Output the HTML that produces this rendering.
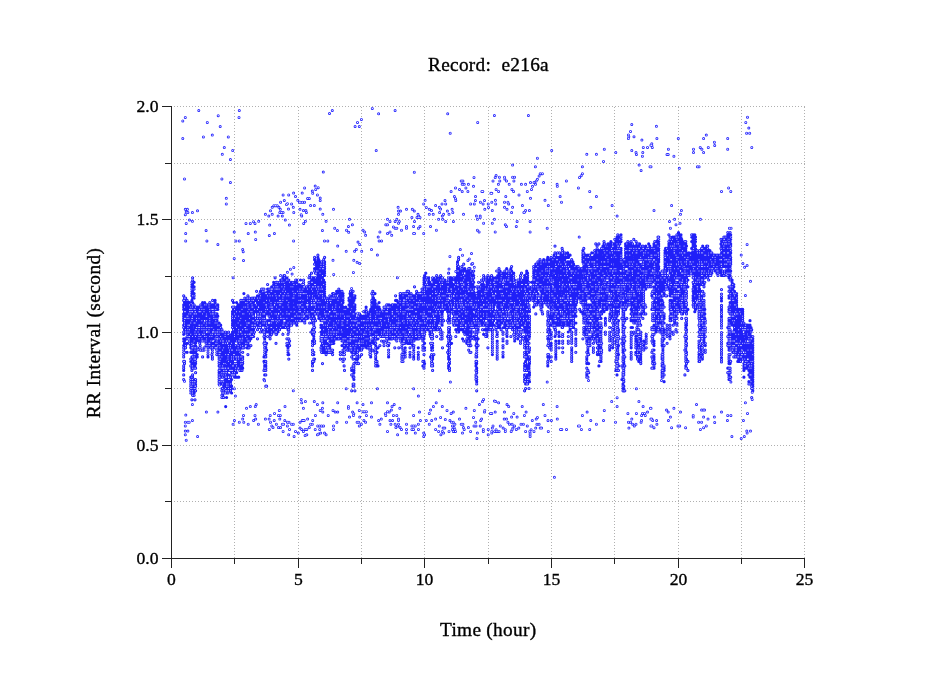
<!DOCTYPE html>
<html><head><meta charset="utf-8"><title>Record: e216a</title>
<style>html,body{margin:0;padding:0;background:#fff;overflow:hidden}svg{display:block}</style>
</head><body>
<svg width="949" height="697" viewBox="0 0 949 697" font-family="'Liberation Serif', 'Times New Roman', serif" fill="#000">
<rect width="949" height="697" fill="#fff"/>
<path d="M174 106.5H805 M174 163.5H805 M174 219.5H805 M174 276.5H805 M174 332.5H805 M174 388.5H805 M174 445.5H805 M174 501.5H805" stroke="#b0b0b0" stroke-width="1" stroke-dasharray="1 2" fill="none" shape-rendering="crispEdges"/><path d="M234.5 558V106 M298.5 558V106 M361.5 558V106 M424.5 558V106 M488.5 558V106 M551.5 558V106 M614.5 558V106 M678.5 558V106 M741.5 558V106 M804.5 558V106" stroke="#b0b0b0" stroke-width="1" stroke-dasharray="1 2" fill="none" shape-rendering="crispEdges"/>
<g id="band"><path d="M183.7 379.5h0M183.7 374.9h0M183.7 370.4h0M183.7 368.2h0M183.7 365.9h0M183.7 361.4h0M183.7 356.9h0M183.7 354.6h0M183.7 352.3h0M183.7 350.1h0M183.7 347.8h0M183.7 345.6h0M183.7 341.0h0M183.7 338.8h0M183.7 334.3h0M183.7 332.0h0M183.7 327.5h0M183.7 325.2h0M183.7 320.7h0M183.7 318.4h0M183.7 316.2h0M183.7 313.9h0M183.7 309.4h0M183.7 307.1h0M183.7 304.9h0M183.7 300.4h0M183.7 295.8h0M184.5 363.6h0M184.5 361.4h0M184.5 352.3h0M184.5 343.3h0M184.5 341.0h0M184.5 338.8h0M184.5 329.7h0M184.5 327.5h0M184.5 325.2h0M184.5 323.0h0M184.5 320.7h0M184.5 318.4h0M184.5 316.2h0M184.5 313.9h0M184.5 311.7h0M184.5 309.4h0M184.5 307.1h0M184.5 304.9h0M184.5 302.6h0M184.5 300.4h0M184.5 298.1h0M185.6 347.8h0M185.6 345.6h0M185.6 338.8h0M185.6 332.0h0M185.6 329.7h0M185.6 327.5h0M185.6 320.7h0M185.6 318.4h0M185.6 316.2h0M185.6 313.9h0M185.6 311.7h0M185.6 309.4h0M185.6 307.1h0M185.6 304.9h0M185.6 298.1h0M187.1 352.3h0M187.1 343.3h0M187.1 338.8h0M187.1 336.5h0M187.1 334.3h0M187.1 332.0h0M187.1 327.5h0M187.1 325.2h0M187.1 323.0h0M187.1 320.7h0M187.1 318.4h0M187.1 316.2h0M187.1 313.9h0M187.1 311.7h0M187.1 309.4h0M187.1 307.1h0M187.1 304.9h0M187.1 302.6h0M187.1 300.4h0M187.9 336.5h0M187.9 329.7h0M187.9 327.5h0M187.9 325.2h0M187.9 323.0h0M187.9 318.4h0M187.9 316.2h0M187.9 309.4h0M187.9 307.1h0M188.9 336.5h0M188.9 334.3h0M188.9 332.0h0M188.9 329.7h0M188.9 325.2h0M188.9 320.7h0M188.9 318.4h0M188.9 313.9h0M188.9 309.4h0M188.9 307.1h0M188.9 304.9h0M188.9 302.6h0M189.6 343.3h0M189.6 341.0h0M189.6 336.5h0M189.6 334.3h0M189.6 332.0h0M189.6 329.7h0M189.6 325.2h0M189.6 318.4h0M189.6 313.9h0M189.6 311.7h0M189.6 309.4h0M189.6 304.9h0M189.6 302.6h0M190.8 393.0h0M190.8 390.8h0M190.8 388.5h0M190.8 386.2h0M190.8 384.0h0M190.8 381.7h0M190.8 379.5h0M190.8 377.2h0M190.8 365.9h0M190.8 361.4h0M190.8 359.1h0M190.8 352.3h0M190.8 347.8h0M190.8 345.6h0M190.8 338.8h0M190.8 336.5h0M190.8 334.3h0M190.8 332.0h0M190.8 329.7h0M190.8 327.5h0M190.8 325.2h0M190.8 323.0h0M190.8 316.2h0M190.8 313.9h0M190.8 311.7h0M190.8 309.4h0M190.8 307.1h0M191.9 399.8h0M191.9 388.5h0M191.9 386.2h0M191.9 384.0h0M191.9 381.7h0M191.9 377.2h0M191.9 370.4h0M191.9 368.2h0M191.9 365.9h0M191.9 363.6h0M191.9 359.1h0M191.9 356.9h0M191.9 352.3h0M191.9 350.1h0M191.9 347.8h0M191.9 345.6h0M191.9 343.3h0M191.9 341.0h0M191.9 338.8h0M191.9 334.3h0M191.9 327.5h0M191.9 325.2h0M191.9 323.0h0M191.9 320.7h0M191.9 318.4h0M191.9 313.9h0M191.9 311.7h0M191.9 309.4h0M191.9 307.1h0M191.9 300.4h0M191.9 295.8h0M191.9 293.6h0M191.9 291.3h0M191.9 289.1h0M191.9 286.8h0M191.9 284.5h0M191.9 282.3h0M192.6 395.3h0M192.6 393.0h0M192.6 390.8h0M192.6 388.5h0M192.6 384.0h0M192.6 381.7h0M192.6 379.5h0M192.6 377.2h0M192.6 374.9h0M192.6 368.2h0M192.6 365.9h0M192.6 363.6h0M192.6 356.9h0M192.6 350.1h0M192.6 347.8h0M192.6 336.5h0M192.6 334.3h0M192.6 332.0h0M192.6 329.7h0M192.6 325.2h0M192.6 323.0h0M192.6 320.7h0M192.6 318.4h0M192.6 316.2h0M192.6 313.9h0M192.6 311.7h0M192.6 309.4h0M192.6 307.1h0M192.6 304.9h0M192.6 302.6h0M192.6 298.1h0M192.6 295.8h0M192.6 293.6h0M192.6 291.3h0M192.6 289.1h0M192.6 286.8h0M192.6 284.5h0M192.6 280.0h0M192.6 277.8h0M194.1 395.3h0M194.1 393.0h0M194.1 388.5h0M194.1 386.2h0M194.1 384.0h0M194.1 381.7h0M194.1 368.2h0M194.1 361.4h0M194.1 359.1h0M194.1 356.9h0M194.1 354.6h0M194.1 352.3h0M194.1 350.1h0M194.1 347.8h0M194.1 341.0h0M194.1 338.8h0M194.1 334.3h0M194.1 329.7h0M194.1 323.0h0M194.1 320.7h0M194.1 318.4h0M194.1 313.9h0M194.1 309.4h0M194.1 307.1h0M194.1 304.9h0M194.1 298.1h0M194.1 295.8h0M194.1 293.6h0M194.1 289.1h0M194.1 286.8h0M194.1 282.3h0M195.0 399.8h0M195.0 388.5h0M195.0 386.2h0M195.0 381.7h0M195.0 379.5h0M195.0 368.2h0M195.0 365.9h0M195.0 363.6h0M195.0 361.4h0M195.0 359.1h0M195.0 354.6h0M195.0 352.3h0M195.0 350.1h0M195.0 345.6h0M195.0 343.3h0M195.0 334.3h0M195.0 332.0h0M195.0 327.5h0M195.0 325.2h0M195.0 323.0h0M195.0 316.2h0M195.0 313.9h0M195.0 311.7h0M195.0 309.4h0M195.6 390.8h0M195.6 386.2h0M195.6 384.0h0M195.6 381.7h0M195.6 379.5h0M195.6 372.7h0M195.6 368.2h0M195.6 363.6h0M195.6 361.4h0M195.6 359.1h0M195.6 356.9h0M195.6 354.6h0M195.6 352.3h0M195.6 350.1h0M195.6 347.8h0M195.6 345.6h0M195.6 343.3h0M195.6 336.5h0M195.6 329.7h0M195.6 325.2h0M195.6 323.0h0M195.6 320.7h0M195.6 318.4h0M195.6 311.7h0M195.6 309.4h0M195.6 307.1h0M196.5 341.0h0M196.5 338.8h0M196.5 336.5h0M196.5 334.3h0M196.5 332.0h0M196.5 329.7h0M196.5 327.5h0M196.5 325.2h0M196.5 323.0h0M196.5 320.7h0M196.5 318.4h0M196.5 316.2h0M196.5 313.9h0M196.5 311.7h0M196.5 307.1h0M198.1 338.8h0M198.1 336.5h0M198.1 332.0h0M198.1 329.7h0M198.1 327.5h0M198.1 325.2h0M198.1 323.0h0M198.1 320.7h0M198.1 318.4h0M198.1 316.2h0M198.1 313.9h0M198.1 311.7h0M198.1 309.4h0M198.1 307.1h0M199.0 341.0h0M199.0 338.8h0M199.0 336.5h0M199.0 334.3h0M199.0 332.0h0M199.0 329.7h0M199.0 327.5h0M199.0 325.2h0M199.0 323.0h0M199.0 320.7h0M199.0 318.4h0M199.0 316.2h0M199.0 313.9h0M199.0 311.7h0M199.0 309.4h0M199.7 347.8h0M199.7 343.3h0M199.7 338.8h0M199.7 334.3h0M199.7 332.0h0M199.7 329.7h0M199.7 327.5h0M199.7 325.2h0M199.7 320.7h0M199.7 318.4h0M199.7 316.2h0M199.7 313.9h0M199.7 311.7h0M199.7 309.4h0M199.7 307.1h0M200.8 350.1h0M200.8 338.8h0M200.8 336.5h0M200.8 332.0h0M200.8 325.2h0M200.8 323.0h0M200.8 320.7h0M200.8 318.4h0M200.8 316.2h0M200.8 313.9h0M200.8 311.7h0M200.8 309.4h0M200.8 307.1h0M200.8 304.9h0M201.9 341.0h0M201.9 338.8h0M201.9 332.0h0M201.9 329.7h0M201.9 327.5h0M201.9 325.2h0M201.9 323.0h0M201.9 320.7h0M201.9 318.4h0M201.9 316.2h0M201.9 311.7h0M201.9 309.4h0M201.9 307.1h0M202.6 356.9h0M202.6 350.1h0M202.6 341.0h0M202.6 336.5h0M202.6 334.3h0M202.6 332.0h0M202.6 329.7h0M202.6 327.5h0M202.6 325.2h0M202.6 323.0h0M202.6 320.7h0M202.6 316.2h0M202.6 313.9h0M202.6 311.7h0M202.6 309.4h0M202.6 304.9h0M202.6 302.6h0M204.0 341.0h0M204.0 338.8h0M204.0 334.3h0M204.0 332.0h0M204.0 329.7h0M204.0 327.5h0M204.0 323.0h0M204.0 318.4h0M204.0 313.9h0M204.0 311.7h0M204.0 309.4h0M204.0 307.1h0M204.0 304.9h0M204.7 341.0h0M204.7 338.8h0M204.7 336.5h0M204.7 334.3h0M204.7 332.0h0M204.7 329.7h0M204.7 327.5h0M204.7 325.2h0M204.7 323.0h0M204.7 318.4h0M204.7 316.2h0M204.7 313.9h0M204.7 311.7h0M204.7 309.4h0M204.7 304.9h0M204.7 302.6h0M206.1 345.6h0M206.1 343.3h0M206.1 341.0h0M206.1 336.5h0M206.1 334.3h0M206.1 329.7h0M206.1 325.2h0M206.1 323.0h0M206.1 318.4h0M206.1 316.2h0M206.1 311.7h0M206.1 304.9h0M206.7 343.3h0M206.7 341.0h0M206.7 336.5h0M206.7 329.7h0M206.7 327.5h0M206.7 325.2h0M206.7 323.0h0M206.7 320.7h0M206.7 318.4h0M206.7 316.2h0M206.7 309.4h0M206.7 307.1h0M206.7 304.9h0M208.0 345.6h0M208.0 343.3h0M208.0 341.0h0M208.0 338.8h0M208.0 336.5h0M208.0 334.3h0M208.0 329.7h0M208.0 327.5h0M208.0 325.2h0M208.0 320.7h0M208.0 318.4h0M208.0 313.9h0M208.0 311.7h0M208.0 307.1h0M208.0 304.9h0M209.0 343.3h0M209.0 341.0h0M209.0 336.5h0M209.0 332.0h0M209.0 329.7h0M209.0 327.5h0M209.0 325.2h0M209.0 318.4h0M209.0 316.2h0M209.0 313.9h0M209.0 311.7h0M209.0 309.4h0M209.0 307.1h0M209.0 304.9h0M209.8 345.6h0M209.8 343.3h0M209.8 338.8h0M209.8 336.5h0M209.8 334.3h0M209.8 327.5h0M209.8 325.2h0M209.8 323.0h0M209.8 320.7h0M209.8 318.4h0M209.8 313.9h0M209.8 311.7h0M209.8 309.4h0M209.8 302.6h0M210.9 347.8h0M210.9 341.0h0M210.9 336.5h0M210.9 334.3h0M210.9 332.0h0M210.9 329.7h0M210.9 327.5h0M210.9 325.2h0M210.9 323.0h0M210.9 320.7h0M210.9 316.2h0M210.9 313.9h0M210.9 309.4h0M210.9 307.1h0M211.9 354.6h0M211.9 343.3h0M211.9 336.5h0M211.9 329.7h0M211.9 327.5h0M211.9 325.2h0M211.9 323.0h0M211.9 318.4h0M211.9 316.2h0M211.9 313.9h0M211.9 311.7h0M211.9 309.4h0M211.9 307.1h0M211.9 304.9h0M212.6 347.8h0M212.6 345.6h0M212.6 338.8h0M212.6 336.5h0M212.6 334.3h0M212.6 327.5h0M212.6 325.2h0M212.6 323.0h0M212.6 313.9h0M212.6 311.7h0M212.6 309.4h0M212.6 307.1h0M212.6 304.9h0M212.6 300.4h0M213.8 345.6h0M213.8 343.3h0M213.8 336.5h0M213.8 334.3h0M213.8 329.7h0M213.8 327.5h0M213.8 325.2h0M213.8 323.0h0M213.8 320.7h0M213.8 318.4h0M213.8 316.2h0M213.8 313.9h0M213.8 311.7h0M213.8 309.4h0M213.8 307.1h0M213.8 304.9h0M215.1 347.8h0M215.1 345.6h0M215.1 343.3h0M215.1 341.0h0M215.1 338.8h0M215.1 334.3h0M215.1 332.0h0M215.1 327.5h0M215.1 325.2h0M215.1 323.0h0M215.1 320.7h0M215.1 318.4h0M215.1 316.2h0M215.1 309.4h0M215.1 304.9h0M215.1 302.6h0M215.1 300.4h0M215.8 347.8h0M215.8 345.6h0M215.8 343.3h0M215.8 341.0h0M215.8 334.3h0M215.8 332.0h0M215.8 329.7h0M215.8 327.5h0M215.8 325.2h0M215.8 320.7h0M215.8 316.2h0M215.8 313.9h0M215.8 309.4h0M215.8 307.1h0M215.8 304.9h0M217.0 350.1h0M217.0 347.8h0M217.0 343.3h0M217.0 341.0h0M217.0 336.5h0M217.0 332.0h0M217.0 329.7h0M217.0 327.5h0M217.0 325.2h0M217.0 323.0h0M217.0 320.7h0M217.0 318.4h0M217.0 316.2h0M217.0 313.9h0M217.0 309.4h0M217.0 307.1h0M217.8 341.0h0M217.8 334.3h0M217.8 332.0h0M217.8 329.7h0M217.8 327.5h0M217.8 325.2h0M217.8 316.2h0M217.8 309.4h0M217.8 307.1h0M217.8 304.9h0M219.1 384.0h0M219.1 381.7h0M219.1 379.5h0M219.1 377.2h0M219.1 374.9h0M219.1 372.7h0M219.1 370.4h0M219.1 365.9h0M219.1 363.6h0M219.1 361.4h0M219.1 359.1h0M219.1 356.9h0M219.1 354.6h0M219.1 352.3h0M219.1 347.8h0M219.1 345.6h0M219.1 341.0h0M219.1 338.8h0M219.1 334.3h0M219.1 332.0h0M219.1 329.7h0M219.1 327.5h0M219.1 325.2h0M219.1 323.0h0M219.9 384.0h0M219.9 381.7h0M219.9 377.2h0M219.9 370.4h0M219.9 368.2h0M219.9 365.9h0M219.9 363.6h0M219.9 361.4h0M219.9 354.6h0M219.9 352.3h0M219.9 350.1h0M219.9 347.8h0M219.9 343.3h0M219.9 336.5h0M219.9 332.0h0M219.9 329.7h0M219.9 325.2h0M220.7 359.1h0M220.7 352.3h0M220.7 347.8h0M220.7 341.0h0M220.7 338.8h0M220.7 336.5h0M220.7 334.3h0M220.7 332.0h0M220.7 327.5h0M220.7 325.2h0M221.9 397.5h0M221.9 395.3h0M221.9 390.8h0M221.9 388.5h0M221.9 384.0h0M221.9 381.7h0M221.9 377.2h0M221.9 374.9h0M221.9 372.7h0M221.9 368.2h0M221.9 365.9h0M221.9 363.6h0M221.9 361.4h0M221.9 359.1h0M221.9 356.9h0M221.9 350.1h0M221.9 347.8h0M221.9 345.6h0M221.9 343.3h0M221.9 341.0h0M221.9 338.8h0M221.9 336.5h0M221.9 334.3h0M221.9 332.0h0M221.9 329.7h0M222.7 395.3h0M222.7 393.0h0M222.7 388.5h0M222.7 384.0h0M222.7 377.2h0M222.7 372.7h0M222.7 370.4h0M222.7 368.2h0M222.7 365.9h0M222.7 361.4h0M222.7 359.1h0M222.7 356.9h0M222.7 354.6h0M222.7 352.3h0M222.7 350.1h0M222.7 345.6h0M222.7 343.3h0M222.7 341.0h0M222.7 338.8h0M222.7 336.5h0M222.7 334.3h0M222.7 332.0h0M223.7 397.5h0M223.7 393.0h0M223.7 386.2h0M223.7 384.0h0M223.7 381.7h0M223.7 372.7h0M223.7 370.4h0M223.7 368.2h0M223.7 365.9h0M223.7 363.6h0M223.7 359.1h0M223.7 356.9h0M223.7 354.6h0M223.7 352.3h0M223.7 347.8h0M223.7 343.3h0M223.7 341.0h0M223.7 336.5h0M223.7 332.0h0M225.1 393.0h0M225.1 390.8h0M225.1 386.2h0M225.1 384.0h0M225.1 379.5h0M225.1 374.9h0M225.1 372.7h0M225.1 370.4h0M225.1 368.2h0M225.1 365.9h0M225.1 363.6h0M225.1 361.4h0M225.1 359.1h0M225.1 356.9h0M225.1 352.3h0M225.1 350.1h0M225.1 347.8h0M225.1 345.6h0M225.1 343.3h0M225.1 341.0h0M225.1 338.8h0M225.1 336.5h0M225.1 334.3h0M225.7 406.6h0M225.7 393.0h0M225.7 390.8h0M225.7 388.5h0M225.7 381.7h0M225.7 377.2h0M225.7 374.9h0M225.7 368.2h0M225.7 365.9h0M225.7 361.4h0M225.7 354.6h0M225.7 350.1h0M225.7 347.8h0M225.7 343.3h0M225.7 341.0h0M225.7 336.5h0M225.7 332.0h0M226.6 397.5h0M226.6 390.8h0M226.6 386.2h0M226.6 384.0h0M226.6 381.7h0M226.6 377.2h0M226.6 374.9h0M226.6 372.7h0M226.6 370.4h0M226.6 368.2h0M226.6 356.9h0M226.6 354.6h0M226.6 352.3h0M226.6 350.1h0M226.6 347.8h0M226.6 345.6h0M226.6 341.0h0M226.6 338.8h0M226.6 336.5h0M226.6 334.3h0M228.0 393.0h0M228.0 390.8h0M228.0 388.5h0M228.0 386.2h0M228.0 384.0h0M228.0 379.5h0M228.0 374.9h0M228.0 370.4h0M228.0 368.2h0M228.0 363.6h0M228.0 361.4h0M228.0 359.1h0M228.0 356.9h0M228.0 354.6h0M228.0 352.3h0M228.0 350.1h0M228.0 347.8h0M228.0 345.6h0M228.0 341.0h0M228.0 338.8h0M228.0 336.5h0M228.0 334.3h0M228.6 390.8h0M228.6 388.5h0M228.6 384.0h0M228.6 381.7h0M228.6 379.5h0M228.6 374.9h0M228.6 368.2h0M228.6 365.9h0M228.6 361.4h0M228.6 359.1h0M228.6 356.9h0M228.6 354.6h0M228.6 350.1h0M228.6 347.8h0M228.6 345.6h0M228.6 341.0h0M228.6 338.8h0M228.6 336.5h0M228.6 334.3h0M228.6 332.0h0M229.6 390.8h0M229.6 381.7h0M229.6 379.5h0M229.6 370.4h0M229.6 365.9h0M229.6 363.6h0M229.6 361.4h0M229.6 359.1h0M229.6 356.9h0M229.6 354.6h0M229.6 352.3h0M229.6 350.1h0M229.6 347.8h0M229.6 345.6h0M229.6 343.3h0M229.6 341.0h0M229.6 338.8h0M230.6 390.8h0M230.6 388.5h0M230.6 386.2h0M230.6 384.0h0M230.6 381.7h0M230.6 377.2h0M230.6 370.4h0M230.6 363.6h0M230.6 361.4h0M230.6 356.9h0M230.6 354.6h0M230.6 352.3h0M230.6 350.1h0M230.6 347.8h0M230.6 345.6h0M230.6 343.3h0M230.6 341.0h0M230.6 338.8h0M230.6 336.5h0M231.6 393.0h0M231.6 388.5h0M231.6 386.2h0M231.6 379.5h0M231.6 374.9h0M231.6 372.7h0M231.6 370.4h0M231.6 368.2h0M231.6 363.6h0M231.6 361.4h0M231.6 359.1h0M231.6 356.9h0M231.6 354.6h0M231.6 352.3h0M231.6 350.1h0M231.6 347.8h0M231.6 343.3h0M231.6 338.8h0M231.6 336.5h0M231.6 334.3h0M232.5 374.9h0M232.5 372.7h0M232.5 370.4h0M232.5 368.2h0M232.5 365.9h0M232.5 361.4h0M232.5 359.1h0M232.5 354.6h0M232.5 350.1h0M232.5 347.8h0M232.5 345.6h0M232.5 343.3h0M232.5 341.0h0M232.5 338.8h0M232.5 336.5h0M232.5 332.0h0M232.5 327.5h0M232.5 325.2h0M232.5 323.0h0M232.5 320.7h0M232.5 318.4h0M232.5 316.2h0M232.5 313.9h0M232.5 311.7h0M232.5 307.1h0M232.5 300.4h0M233.5 374.9h0M233.5 372.7h0M233.5 370.4h0M233.5 368.2h0M233.5 365.9h0M233.5 359.1h0M233.5 356.9h0M233.5 354.6h0M233.5 352.3h0M233.5 350.1h0M233.5 347.8h0M233.5 345.6h0M233.5 343.3h0M233.5 338.8h0M233.5 336.5h0M233.5 334.3h0M233.5 332.0h0M233.5 329.7h0M233.5 325.2h0M233.5 323.0h0M233.5 320.7h0M233.5 318.4h0M233.5 316.2h0M233.5 313.9h0M233.5 311.7h0M233.5 309.4h0M233.5 307.1h0M233.5 302.6h0M234.6 377.2h0M234.6 374.9h0M234.6 372.7h0M234.6 368.2h0M234.6 365.9h0M234.6 363.6h0M234.6 359.1h0M234.6 356.9h0M234.6 354.6h0M234.6 350.1h0M234.6 341.0h0M234.6 338.8h0M234.6 336.5h0M234.6 334.3h0M234.6 332.0h0M234.6 329.7h0M234.6 327.5h0M234.6 323.0h0M234.6 320.7h0M234.6 318.4h0M234.6 316.2h0M234.6 313.9h0M234.6 311.7h0M234.6 309.4h0M235.7 370.4h0M235.7 368.2h0M235.7 363.6h0M235.7 356.9h0M235.7 354.6h0M235.7 352.3h0M235.7 347.8h0M235.7 345.6h0M235.7 341.0h0M235.7 338.8h0M235.7 334.3h0M235.7 332.0h0M235.7 327.5h0M235.7 323.0h0M235.7 320.7h0M235.7 318.4h0M235.7 316.2h0M235.7 313.9h0M236.6 377.2h0M236.6 372.7h0M236.6 365.9h0M236.6 363.6h0M236.6 359.1h0M236.6 356.9h0M236.6 352.3h0M236.6 350.1h0M236.6 347.8h0M236.6 341.0h0M236.6 338.8h0M236.6 336.5h0M236.6 334.3h0M236.6 332.0h0M236.6 329.7h0M236.6 327.5h0M236.6 325.2h0M236.6 323.0h0M236.6 320.7h0M236.6 318.4h0M236.6 316.2h0M236.6 313.9h0M236.6 309.4h0M236.6 307.1h0M236.6 302.6h0M238.1 368.2h0M238.1 365.9h0M238.1 361.4h0M238.1 359.1h0M238.1 356.9h0M238.1 354.6h0M238.1 352.3h0M238.1 350.1h0M238.1 347.8h0M238.1 345.6h0M238.1 341.0h0M238.1 338.8h0M238.1 334.3h0M238.1 332.0h0M238.1 329.7h0M238.1 327.5h0M238.1 325.2h0M238.1 323.0h0M238.1 318.4h0M238.1 311.7h0M238.1 309.4h0M238.1 307.1h0M238.1 304.9h0M238.7 377.2h0M238.7 368.2h0M238.7 365.9h0M238.7 363.6h0M238.7 361.4h0M238.7 359.1h0M238.7 356.9h0M238.7 354.6h0M238.7 352.3h0M238.7 350.1h0M238.7 347.8h0M238.7 345.6h0M238.7 343.3h0M238.7 341.0h0M238.7 338.8h0M238.7 336.5h0M238.7 334.3h0M238.7 332.0h0M238.7 329.7h0M238.7 327.5h0M238.7 325.2h0M238.7 323.0h0M238.7 320.7h0M238.7 318.4h0M238.7 316.2h0M238.7 313.9h0M238.7 311.7h0M238.7 309.4h0M238.7 307.1h0M238.7 304.9h0M239.8 370.4h0M239.8 368.2h0M239.8 365.9h0M239.8 359.1h0M239.8 356.9h0M239.8 354.6h0M239.8 352.3h0M239.8 350.1h0M239.8 343.3h0M239.8 341.0h0M239.8 338.8h0M239.8 329.7h0M239.8 320.7h0M239.8 318.4h0M239.8 313.9h0M239.8 311.7h0M239.8 307.1h0M239.8 304.9h0M240.8 361.4h0M240.8 356.9h0M240.8 347.8h0M240.8 343.3h0M240.8 338.8h0M240.8 336.5h0M240.8 334.3h0M240.8 327.5h0M240.8 325.2h0M240.8 323.0h0M240.8 320.7h0M240.8 318.4h0M240.8 316.2h0M240.8 313.9h0M240.8 311.7h0M240.8 309.4h0M240.8 307.1h0M240.8 304.9h0M240.8 302.6h0M240.8 300.4h0M242.0 370.4h0M242.0 368.2h0M242.0 365.9h0M242.0 363.6h0M242.0 361.4h0M242.0 356.9h0M242.0 347.8h0M242.0 345.6h0M242.0 343.3h0M242.0 341.0h0M242.0 338.8h0M242.0 334.3h0M242.0 329.7h0M242.0 325.2h0M242.0 323.0h0M242.0 320.7h0M242.0 318.4h0M242.0 316.2h0M242.0 311.7h0M242.0 309.4h0M242.0 307.1h0M242.0 304.9h0M242.0 302.6h0M242.0 300.4h0M242.7 368.2h0M242.7 363.6h0M242.7 361.4h0M242.7 359.1h0M242.7 356.9h0M242.7 352.3h0M242.7 347.8h0M242.7 345.6h0M242.7 343.3h0M242.7 341.0h0M242.7 338.8h0M242.7 334.3h0M242.7 332.0h0M242.7 329.7h0M242.7 327.5h0M242.7 325.2h0M242.7 323.0h0M242.7 320.7h0M242.7 318.4h0M242.7 316.2h0M242.7 313.9h0M242.7 311.7h0M242.7 309.4h0M242.7 307.1h0M242.7 304.9h0M243.9 347.8h0M243.9 345.6h0M243.9 341.0h0M243.9 338.8h0M243.9 336.5h0M243.9 334.3h0M243.9 332.0h0M243.9 329.7h0M243.9 323.0h0M243.9 320.7h0M243.9 318.4h0M243.9 316.2h0M243.9 313.9h0M243.9 311.7h0M243.9 309.4h0M243.9 307.1h0M243.9 304.9h0M243.9 302.6h0M243.9 300.4h0M243.9 293.6h0M244.8 343.3h0M244.8 341.0h0M244.8 338.8h0M244.8 334.3h0M244.8 329.7h0M244.8 327.5h0M244.8 325.2h0M244.8 323.0h0M244.8 320.7h0M244.8 318.4h0M244.8 313.9h0M244.8 311.7h0M244.8 309.4h0M244.8 307.1h0M244.8 304.9h0M244.8 302.6h0M244.8 300.4h0M244.8 298.1h0M245.7 343.3h0M245.7 341.0h0M245.7 336.5h0M245.7 334.3h0M245.7 332.0h0M245.7 329.7h0M245.7 327.5h0M245.7 323.0h0M245.7 320.7h0M245.7 318.4h0M245.7 316.2h0M245.7 311.7h0M245.7 307.1h0M245.7 304.9h0M245.7 302.6h0M245.7 300.4h0M247.0 347.8h0M247.0 343.3h0M247.0 338.8h0M247.0 336.5h0M247.0 332.0h0M247.0 329.7h0M247.0 325.2h0M247.0 323.0h0M247.0 320.7h0M247.0 318.4h0M247.0 316.2h0M247.0 313.9h0M247.0 311.7h0M247.0 309.4h0M247.0 307.1h0M247.0 304.9h0M247.0 302.6h0M247.0 298.1h0M247.9 354.6h0M247.9 345.6h0M247.9 343.3h0M247.9 341.0h0M247.9 338.8h0M247.9 336.5h0M247.9 334.3h0M247.9 329.7h0M247.9 327.5h0M247.9 320.7h0M247.9 318.4h0M247.9 316.2h0M247.9 313.9h0M247.9 311.7h0M247.9 309.4h0M247.9 307.1h0M247.9 304.9h0M247.9 302.6h0M247.9 300.4h0M247.9 298.1h0M247.9 295.8h0M249.0 347.8h0M249.0 345.6h0M249.0 341.0h0M249.0 338.8h0M249.0 320.7h0M249.0 316.2h0M249.0 313.9h0M249.0 311.7h0M249.0 309.4h0M249.0 307.1h0M249.0 304.9h0M249.0 300.4h0M249.5 341.0h0M249.5 338.8h0M249.5 336.5h0M249.5 332.0h0M249.5 327.5h0M249.5 325.2h0M249.5 318.4h0M249.5 316.2h0M249.5 313.9h0M249.5 311.7h0M249.5 309.4h0M249.5 307.1h0M249.5 300.4h0M249.5 298.1h0M250.9 345.6h0M250.9 338.8h0M250.9 336.5h0M250.9 332.0h0M250.9 329.7h0M250.9 327.5h0M250.9 323.0h0M250.9 320.7h0M250.9 318.4h0M250.9 316.2h0M250.9 313.9h0M250.9 311.7h0M250.9 309.4h0M250.9 307.1h0M250.9 304.9h0M250.9 302.6h0M250.9 300.4h0M252.0 336.5h0M252.0 334.3h0M252.0 332.0h0M252.0 327.5h0M252.0 325.2h0M252.0 323.0h0M252.0 320.7h0M252.0 318.4h0M252.0 313.9h0M252.0 311.7h0M252.0 309.4h0M252.0 307.1h0M252.0 304.9h0M252.0 302.6h0M252.0 300.4h0M252.0 298.1h0M252.8 336.5h0M252.8 334.3h0M252.8 332.0h0M252.8 329.7h0M252.8 327.5h0M252.8 325.2h0M252.8 323.0h0M252.8 320.7h0M252.8 318.4h0M252.8 316.2h0M252.8 313.9h0M252.8 311.7h0M252.8 309.4h0M252.8 307.1h0M252.8 304.9h0M252.8 302.6h0M252.8 300.4h0M253.6 336.5h0M253.6 334.3h0M253.6 332.0h0M253.6 329.7h0M253.6 325.2h0M253.6 323.0h0M253.6 320.7h0M253.6 316.2h0M253.6 313.9h0M253.6 311.7h0M253.6 309.4h0M253.6 307.1h0M253.6 304.9h0M253.6 302.6h0M253.6 300.4h0M253.6 298.1h0M254.5 332.0h0M254.5 327.5h0M254.5 325.2h0M254.5 318.4h0M254.5 311.7h0M254.5 309.4h0M254.5 307.1h0M254.5 298.1h0M255.6 325.2h0M255.6 318.4h0M255.6 311.7h0M255.6 307.1h0M255.6 300.4h0M255.6 298.1h0M256.6 325.2h0M256.6 323.0h0M256.6 320.7h0M256.6 311.7h0M256.6 309.4h0M256.6 307.1h0M256.6 304.9h0M256.6 300.4h0M256.6 291.3h0M257.5 338.8h0M257.5 329.7h0M257.5 323.0h0M257.5 320.7h0M257.5 318.4h0M257.5 316.2h0M257.5 313.9h0M257.5 311.7h0M257.5 309.4h0M257.5 302.6h0M257.5 300.4h0M257.5 298.1h0M257.5 295.8h0M258.6 327.5h0M258.6 325.2h0M258.6 323.0h0M258.6 320.7h0M258.6 318.4h0M258.6 316.2h0M258.6 313.9h0M258.6 311.7h0M258.6 309.4h0M258.6 304.9h0M258.6 302.6h0M258.6 300.4h0M258.6 298.1h0M259.9 327.5h0M259.9 325.2h0M259.9 320.7h0M259.9 318.4h0M259.9 316.2h0M259.9 313.9h0M259.9 311.7h0M259.9 309.4h0M259.9 304.9h0M259.9 298.1h0M259.9 295.8h0M259.9 293.6h0M260.5 332.0h0M260.5 327.5h0M260.5 325.2h0M260.5 323.0h0M260.5 320.7h0M260.5 316.2h0M260.5 313.9h0M260.5 309.4h0M260.5 307.1h0M260.5 302.6h0M260.5 300.4h0M260.5 298.1h0M260.5 295.8h0M260.5 293.6h0M260.5 291.3h0M261.6 329.7h0M261.6 325.2h0M261.6 320.7h0M261.6 316.2h0M261.6 313.9h0M261.6 311.7h0M261.6 309.4h0M261.6 307.1h0M261.6 304.9h0M261.6 302.6h0M261.6 300.4h0M261.6 298.1h0M261.6 295.8h0M261.6 293.6h0M261.6 289.1h0M263.0 332.0h0M263.0 323.0h0M263.0 320.7h0M263.0 318.4h0M263.0 313.9h0M263.0 311.7h0M263.0 309.4h0M263.0 307.1h0M263.0 302.6h0M263.0 298.1h0M263.0 293.6h0M263.0 289.1h0M264.0 379.5h0M264.0 370.4h0M264.0 361.4h0M264.0 356.9h0M264.0 343.3h0M264.0 336.5h0M264.0 332.0h0M264.0 325.2h0M264.0 323.0h0M264.0 320.7h0M264.0 316.2h0M264.0 313.9h0M264.0 311.7h0M264.0 304.9h0M264.0 302.6h0M264.0 300.4h0M264.0 298.1h0M264.0 295.8h0M264.0 293.6h0M264.0 291.3h0M264.0 289.1h0M264.7 374.9h0M264.7 370.4h0M264.7 368.2h0M264.7 365.9h0M264.7 363.6h0M264.7 361.4h0M264.7 356.9h0M264.7 354.6h0M264.7 352.3h0M264.7 350.1h0M264.7 347.8h0M264.7 345.6h0M264.7 343.3h0M264.7 341.0h0M264.7 338.8h0M264.7 336.5h0M264.7 334.3h0M264.7 332.0h0M264.7 329.7h0M264.7 323.0h0M264.7 320.7h0M264.7 318.4h0M264.7 316.2h0M264.7 313.9h0M264.7 309.4h0M264.7 307.1h0M264.7 304.9h0M264.7 302.6h0M264.7 300.4h0M264.7 295.8h0M265.8 386.2h0M265.8 374.9h0M265.8 370.4h0M265.8 368.2h0M265.8 365.9h0M265.8 363.6h0M265.8 361.4h0M265.8 356.9h0M265.8 354.6h0M265.8 352.3h0M265.8 350.1h0M265.8 347.8h0M265.8 345.6h0M265.8 343.3h0M265.8 332.0h0M265.8 329.7h0M265.8 327.5h0M265.8 320.7h0M265.8 313.9h0M265.8 311.7h0M265.8 309.4h0M265.8 307.1h0M265.8 304.9h0M265.8 302.6h0M265.8 300.4h0M265.8 298.1h0M265.8 295.8h0M265.8 293.6h0M266.6 386.2h0M266.6 350.1h0M266.6 343.3h0M266.6 332.0h0M266.6 325.2h0M266.6 323.0h0M266.6 309.4h0M266.6 307.1h0M266.6 304.9h0M266.6 300.4h0M266.6 295.8h0M266.6 293.6h0M267.6 336.5h0M267.6 332.0h0M267.6 329.7h0M267.6 320.7h0M267.6 313.9h0M267.6 311.7h0M267.6 309.4h0M267.6 304.9h0M267.6 302.6h0M267.6 300.4h0M267.6 298.1h0M267.6 295.8h0M267.6 291.3h0M267.6 289.1h0M267.6 284.5h0M269.1 332.0h0M269.1 329.7h0M269.1 327.5h0M269.1 325.2h0M269.1 320.7h0M269.1 316.2h0M269.1 309.4h0M269.1 307.1h0M269.1 298.1h0M269.1 295.8h0M269.1 293.6h0M269.1 291.3h0M269.1 289.1h0M270.1 338.8h0M270.1 336.5h0M270.1 334.3h0M270.1 329.7h0M270.1 325.2h0M270.1 320.7h0M270.1 318.4h0M270.1 313.9h0M270.1 311.7h0M270.1 309.4h0M270.1 307.1h0M270.1 304.9h0M270.1 302.6h0M270.1 298.1h0M270.1 295.8h0M270.1 293.6h0M270.1 291.3h0M270.1 289.1h0M271.0 334.3h0M271.0 329.7h0M271.0 327.5h0M271.0 325.2h0M271.0 311.7h0M271.0 309.4h0M271.0 304.9h0M271.0 302.6h0M271.0 300.4h0M271.0 298.1h0M271.0 295.8h0M271.0 293.6h0M271.0 291.3h0M271.0 289.1h0M271.7 334.3h0M271.7 332.0h0M271.7 329.7h0M271.7 327.5h0M271.7 325.2h0M271.7 323.0h0M271.7 320.7h0M271.7 316.2h0M271.7 313.9h0M271.7 311.7h0M271.7 309.4h0M271.7 307.1h0M271.7 304.9h0M271.7 302.6h0M271.7 300.4h0M271.7 298.1h0M271.7 295.8h0M271.7 293.6h0M271.7 291.3h0M271.7 289.1h0M271.7 286.8h0M272.7 332.0h0M272.7 329.7h0M272.7 327.5h0M272.7 325.2h0M272.7 320.7h0M272.7 318.4h0M272.7 316.2h0M272.7 313.9h0M272.7 311.7h0M272.7 309.4h0M272.7 307.1h0M272.7 304.9h0M272.7 302.6h0M272.7 300.4h0M272.7 298.1h0M272.7 295.8h0M272.7 293.6h0M272.7 289.1h0M273.7 329.7h0M273.7 327.5h0M273.7 325.2h0M273.7 323.0h0M273.7 320.7h0M273.7 318.4h0M273.7 316.2h0M273.7 313.9h0M273.7 311.7h0M273.7 309.4h0M273.7 307.1h0M273.7 302.6h0M273.7 300.4h0M273.7 298.1h0M273.7 295.8h0M273.7 293.6h0M273.7 291.3h0M273.7 289.1h0M273.7 286.8h0M273.7 284.5h0M273.7 282.3h0M275.1 332.0h0M275.1 329.7h0M275.1 318.4h0M275.1 316.2h0M275.1 313.9h0M275.1 311.7h0M275.1 307.1h0M275.1 302.6h0M275.1 300.4h0M275.1 298.1h0M275.1 295.8h0M275.1 293.6h0M275.1 291.3h0M275.1 289.1h0M275.1 286.8h0M275.1 284.5h0M275.1 277.8h0M276.0 343.3h0M276.0 334.3h0M276.0 332.0h0M276.0 329.7h0M276.0 327.5h0M276.0 325.2h0M276.0 323.0h0M276.0 320.7h0M276.0 313.9h0M276.0 311.7h0M276.0 309.4h0M276.0 307.1h0M276.0 300.4h0M276.0 295.8h0M276.0 291.3h0M276.0 289.1h0M276.0 286.8h0M276.0 284.5h0M276.0 282.3h0M276.6 334.3h0M276.6 332.0h0M276.6 327.5h0M276.6 325.2h0M276.6 323.0h0M276.6 318.4h0M276.6 313.9h0M276.6 311.7h0M276.6 309.4h0M276.6 307.1h0M276.6 304.9h0M276.6 300.4h0M276.6 298.1h0M276.6 293.6h0M276.6 291.3h0M276.6 289.1h0M276.6 286.8h0M276.6 284.5h0M276.6 282.3h0M277.8 332.0h0M277.8 327.5h0M277.8 325.2h0M277.8 318.4h0M277.8 316.2h0M277.8 309.4h0M277.8 304.9h0M277.8 302.6h0M277.8 298.1h0M277.8 295.8h0M277.8 291.3h0M277.8 289.1h0M277.8 286.8h0M277.8 284.5h0M277.8 282.3h0M279.1 329.7h0M279.1 325.2h0M279.1 323.0h0M279.1 320.7h0M279.1 316.2h0M279.1 311.7h0M279.1 309.4h0M279.1 307.1h0M279.1 304.9h0M279.1 302.6h0M279.1 300.4h0M279.1 295.8h0M279.1 293.6h0M279.1 291.3h0M279.1 289.1h0M279.1 284.5h0M279.6 329.7h0M279.6 327.5h0M279.6 325.2h0M279.6 320.7h0M279.6 318.4h0M279.6 309.4h0M279.6 304.9h0M279.6 302.6h0M279.6 300.4h0M279.6 295.8h0M279.6 293.6h0M279.6 291.3h0M279.6 289.1h0M279.6 286.8h0M279.6 284.5h0M279.6 282.3h0M280.7 327.5h0M280.7 325.2h0M280.7 323.0h0M280.7 318.4h0M280.7 316.2h0M280.7 313.9h0M280.7 311.7h0M280.7 309.4h0M280.7 304.9h0M280.7 302.6h0M280.7 300.4h0M280.7 298.1h0M280.7 293.6h0M280.7 291.3h0M280.7 286.8h0M280.7 284.5h0M280.7 282.3h0M280.7 280.0h0M281.9 323.0h0M281.9 320.7h0M281.9 318.4h0M281.9 316.2h0M281.9 311.7h0M281.9 309.4h0M281.9 307.1h0M281.9 304.9h0M281.9 302.6h0M281.9 300.4h0M281.9 298.1h0M281.9 295.8h0M281.9 293.6h0M281.9 291.3h0M281.9 289.1h0M281.9 286.8h0M281.9 284.5h0M281.9 282.3h0M281.9 280.0h0M282.9 334.3h0M282.9 327.5h0M282.9 325.2h0M282.9 323.0h0M282.9 316.2h0M282.9 313.9h0M282.9 311.7h0M282.9 309.4h0M282.9 307.1h0M282.9 302.6h0M282.9 300.4h0M282.9 298.1h0M282.9 295.8h0M282.9 293.6h0M282.9 291.3h0M282.9 289.1h0M282.9 286.8h0M282.9 284.5h0M282.9 282.3h0M282.9 280.0h0M282.9 277.8h0M283.9 325.2h0M283.9 323.0h0M283.9 318.4h0M283.9 316.2h0M283.9 313.9h0M283.9 311.7h0M283.9 307.1h0M283.9 298.1h0M283.9 295.8h0M283.9 291.3h0M283.9 289.1h0M283.9 284.5h0M283.9 282.3h0M283.9 280.0h0M283.9 277.8h0M283.9 275.5h0M284.7 327.5h0M284.7 318.4h0M284.7 316.2h0M284.7 304.9h0M284.7 302.6h0M284.7 300.4h0M284.7 293.6h0M284.7 291.3h0M284.7 289.1h0M284.7 286.8h0M284.7 284.5h0M284.7 280.0h0M284.7 277.8h0M284.7 275.5h0M285.5 327.5h0M285.5 323.0h0M285.5 318.4h0M285.5 316.2h0M285.5 313.9h0M285.5 311.7h0M285.5 309.4h0M285.5 307.1h0M285.5 304.9h0M285.5 302.6h0M285.5 300.4h0M285.5 295.8h0M285.5 293.6h0M285.5 291.3h0M285.5 289.1h0M285.5 284.5h0M286.9 345.6h0M286.9 343.3h0M286.9 338.8h0M286.9 325.2h0M286.9 323.0h0M286.9 320.7h0M286.9 318.4h0M286.9 316.2h0M286.9 313.9h0M286.9 311.7h0M286.9 309.4h0M286.9 304.9h0M286.9 302.6h0M286.9 300.4h0M286.9 298.1h0M286.9 295.8h0M286.9 293.6h0M286.9 291.3h0M286.9 289.1h0M286.9 286.8h0M286.9 284.5h0M286.9 282.3h0M286.9 277.8h0M288.0 354.6h0M288.0 352.3h0M288.0 350.1h0M288.0 347.8h0M288.0 343.3h0M288.0 338.8h0M288.0 334.3h0M288.0 329.7h0M288.0 327.5h0M288.0 323.0h0M288.0 320.7h0M288.0 318.4h0M288.0 316.2h0M288.0 307.1h0M288.0 304.9h0M288.0 300.4h0M288.0 293.6h0M288.0 291.3h0M288.0 289.1h0M288.0 286.8h0M288.0 282.3h0M288.0 280.0h0M288.8 359.1h0M288.8 354.6h0M288.8 343.3h0M288.8 338.8h0M288.8 332.0h0M288.8 329.7h0M288.8 327.5h0M288.8 323.0h0M288.8 318.4h0M288.8 313.9h0M288.8 311.7h0M288.8 309.4h0M288.8 307.1h0M288.8 304.9h0M288.8 302.6h0M288.8 298.1h0M288.8 295.8h0M288.8 293.6h0M288.8 291.3h0M288.8 289.1h0M288.8 286.8h0M288.8 280.0h0M289.6 345.6h0M289.6 341.0h0M289.6 325.2h0M289.6 316.2h0M289.6 313.9h0M289.6 311.7h0M289.6 304.9h0M289.6 302.6h0M289.6 300.4h0M289.6 298.1h0M289.6 295.8h0M289.6 291.3h0M289.6 289.1h0M289.6 286.8h0M289.6 284.5h0M289.6 282.3h0M291.0 325.2h0M291.0 323.0h0M291.0 320.7h0M291.0 316.2h0M291.0 313.9h0M291.0 311.7h0M291.0 309.4h0M291.0 307.1h0M291.0 302.6h0M291.0 300.4h0M291.0 298.1h0M291.0 295.8h0M291.0 293.6h0M291.0 291.3h0M291.0 289.1h0M291.0 286.8h0M291.0 284.5h0M291.6 325.2h0M291.6 318.4h0M291.6 316.2h0M291.6 313.9h0M291.6 311.7h0M291.6 309.4h0M291.6 304.9h0M291.6 302.6h0M291.6 300.4h0M291.6 298.1h0M291.6 295.8h0M291.6 293.6h0M291.6 291.3h0M291.6 289.1h0M291.6 286.8h0M291.6 284.5h0M291.6 282.3h0M292.9 320.7h0M292.9 318.4h0M292.9 316.2h0M292.9 313.9h0M292.9 309.4h0M292.9 307.1h0M292.9 304.9h0M292.9 300.4h0M292.9 298.1h0M292.9 295.8h0M292.9 293.6h0M292.9 291.3h0M292.9 286.8h0M292.9 284.5h0M292.9 282.3h0M293.9 323.0h0M293.9 316.2h0M293.9 313.9h0M293.9 309.4h0M293.9 307.1h0M293.9 304.9h0M293.9 300.4h0M293.9 298.1h0M293.9 295.8h0M293.9 293.6h0M293.9 289.1h0M293.9 284.5h0M294.7 323.0h0M294.7 320.7h0M294.7 318.4h0M294.7 316.2h0M294.7 313.9h0M294.7 311.7h0M294.7 307.1h0M294.7 304.9h0M294.7 302.6h0M294.7 300.4h0M294.7 298.1h0M294.7 295.8h0M294.7 286.8h0M294.7 284.5h0M294.7 282.3h0M295.7 320.7h0M295.7 316.2h0M295.7 313.9h0M295.7 311.7h0M295.7 304.9h0M295.7 302.6h0M295.7 300.4h0M295.7 295.8h0M295.7 293.6h0M295.7 291.3h0M295.7 289.1h0M295.7 284.5h0M295.7 280.0h0M296.8 325.2h0M296.8 323.0h0M296.8 313.9h0M296.8 311.7h0M296.8 309.4h0M296.8 307.1h0M296.8 304.9h0M296.8 302.6h0M296.8 300.4h0M296.8 298.1h0M296.8 295.8h0M296.8 293.6h0M296.8 291.3h0M296.8 289.1h0M296.8 286.8h0M296.8 284.5h0M296.8 282.3h0M296.8 280.0h0M297.7 320.7h0M297.7 318.4h0M297.7 311.7h0M297.7 304.9h0M297.7 302.6h0M297.7 300.4h0M297.7 298.1h0M297.7 291.3h0M297.7 289.1h0M297.7 286.8h0M299.0 320.7h0M299.0 316.2h0M299.0 313.9h0M299.0 311.7h0M299.0 309.4h0M299.0 307.1h0M299.0 304.9h0M299.0 300.4h0M299.0 298.1h0M299.0 295.8h0M299.0 293.6h0M299.0 291.3h0M299.0 286.8h0M299.0 284.5h0M299.9 320.7h0M299.9 318.4h0M299.9 316.2h0M299.9 311.7h0M299.9 309.4h0M299.9 304.9h0M299.9 302.6h0M299.9 300.4h0M299.9 293.6h0M299.9 291.3h0M299.9 289.1h0M299.9 286.8h0M300.5 320.7h0M300.5 313.9h0M300.5 311.7h0M300.5 309.4h0M300.5 307.1h0M300.5 304.9h0M300.5 302.6h0M300.5 300.4h0M300.5 298.1h0M300.5 295.8h0M300.5 293.6h0M300.5 291.3h0M300.5 289.1h0M300.5 286.8h0M300.5 280.0h0M302.0 320.7h0M302.0 318.4h0M302.0 316.2h0M302.0 313.9h0M302.0 311.7h0M302.0 309.4h0M302.0 307.1h0M302.0 295.8h0M302.0 293.6h0M302.0 291.3h0M302.0 286.8h0M302.0 284.5h0M303.0 320.7h0M303.0 313.9h0M303.0 311.7h0M303.0 307.1h0M303.0 304.9h0M303.0 300.4h0M303.0 298.1h0M303.0 295.8h0M303.0 293.6h0M303.0 291.3h0M303.0 289.1h0M303.0 284.5h0M303.6 320.7h0M303.6 313.9h0M303.6 311.7h0M303.6 307.1h0M303.6 304.9h0M303.6 302.6h0M303.6 300.4h0M303.6 298.1h0M303.6 295.8h0M303.6 293.6h0M303.6 291.3h0M303.6 289.1h0M303.6 284.5h0M303.6 282.3h0M303.6 280.0h0M304.8 323.0h0M304.8 320.7h0M304.8 318.4h0M304.8 311.7h0M304.8 309.4h0M304.8 307.1h0M304.8 304.9h0M304.8 302.6h0M304.8 300.4h0M304.8 298.1h0M304.8 295.8h0M304.8 293.6h0M304.8 291.3h0M304.8 289.1h0M306.1 318.4h0M306.1 316.2h0M306.1 309.4h0M306.1 300.4h0M306.1 295.8h0M306.1 293.6h0M306.1 289.1h0M306.1 286.8h0M306.7 316.2h0M306.7 313.9h0M306.7 311.7h0M306.7 309.4h0M306.7 307.1h0M306.7 302.6h0M306.7 300.4h0M306.7 298.1h0M306.7 295.8h0M306.7 293.6h0M306.7 291.3h0M306.7 289.1h0M306.7 286.8h0M307.5 318.4h0M307.5 313.9h0M307.5 311.7h0M307.5 309.4h0M307.5 307.1h0M307.5 302.6h0M307.5 300.4h0M307.5 298.1h0M307.5 295.8h0M307.5 293.6h0M307.5 291.3h0M307.5 289.1h0M307.5 286.8h0M309.0 313.9h0M309.0 311.7h0M309.0 307.1h0M309.0 302.6h0M309.0 300.4h0M309.0 295.8h0M309.0 291.3h0M309.0 289.1h0M309.0 286.8h0M309.0 284.5h0M309.0 282.3h0M309.0 277.8h0M309.7 323.0h0M309.7 316.2h0M309.7 313.9h0M309.7 309.4h0M309.7 307.1h0M309.7 304.9h0M309.7 300.4h0M309.7 298.1h0M309.7 295.8h0M309.7 293.6h0M309.7 291.3h0M309.7 289.1h0M309.7 286.8h0M309.7 284.5h0M309.7 282.3h0M309.7 275.5h0M311.0 332.0h0M311.0 318.4h0M311.0 316.2h0M311.0 313.9h0M311.0 309.4h0M311.0 300.4h0M311.0 298.1h0M311.0 295.8h0M311.0 293.6h0M311.0 291.3h0M311.0 289.1h0M311.0 286.8h0M311.0 284.5h0M311.0 282.3h0M311.5 313.9h0M311.5 311.7h0M311.5 309.4h0M311.5 302.6h0M311.5 300.4h0M311.5 298.1h0M311.5 295.8h0M311.5 293.6h0M311.5 291.3h0M311.5 289.1h0M311.5 282.3h0M311.5 280.0h0M311.5 277.8h0M311.5 273.2h0M312.5 370.4h0M312.5 365.9h0M312.5 363.6h0M312.5 361.4h0M312.5 354.6h0M312.5 352.3h0M312.5 350.1h0M312.5 345.6h0M312.5 343.3h0M312.5 341.0h0M312.5 334.3h0M312.5 332.0h0M312.5 329.7h0M312.5 323.0h0M312.5 320.7h0M312.5 316.2h0M312.5 313.9h0M312.5 311.7h0M312.5 309.4h0M312.5 307.1h0M312.5 300.4h0M312.5 298.1h0M312.5 295.8h0M312.5 293.6h0M312.5 291.3h0M312.5 289.1h0M312.5 286.8h0M312.5 284.5h0M312.5 282.3h0M312.5 277.8h0M313.8 361.4h0M313.8 359.1h0M313.8 354.6h0M313.8 352.3h0M313.8 338.8h0M313.8 336.5h0M313.8 334.3h0M313.8 332.0h0M313.8 329.7h0M313.8 327.5h0M313.8 325.2h0M313.8 323.0h0M313.8 320.7h0M313.8 318.4h0M313.8 316.2h0M313.8 311.7h0M313.8 309.4h0M313.8 307.1h0M313.8 304.9h0M313.8 302.6h0M313.8 300.4h0M313.8 295.8h0M313.8 291.3h0M313.8 286.8h0M313.8 282.3h0M313.8 280.0h0M313.8 277.8h0M314.6 359.1h0M314.6 343.3h0M314.6 341.0h0M314.6 332.0h0M314.6 327.5h0M314.6 318.4h0M314.6 313.9h0M314.6 309.4h0M314.6 307.1h0M314.6 304.9h0M314.6 302.6h0M314.6 298.1h0M314.6 286.8h0M314.6 284.5h0M314.6 277.8h0M314.6 271.0h0M314.6 268.7h0M314.6 264.2h0M314.6 259.7h0M314.6 257.4h0M315.5 320.7h0M315.5 313.9h0M315.5 311.7h0M315.5 307.1h0M315.5 304.9h0M315.5 293.6h0M315.5 289.1h0M315.5 286.8h0M315.5 284.5h0M315.5 282.3h0M315.5 277.8h0M315.5 273.2h0M315.5 268.7h0M315.5 264.2h0M315.5 261.9h0M316.6 311.7h0M316.6 309.4h0M316.6 304.9h0M316.6 302.6h0M316.6 298.1h0M316.6 295.8h0M316.6 291.3h0M316.6 289.1h0M316.6 286.8h0M316.6 284.5h0M316.6 282.3h0M316.6 280.0h0M316.6 273.2h0M316.6 271.0h0M316.6 266.5h0M316.6 264.2h0M316.6 261.9h0M317.9 313.9h0M317.9 311.7h0M317.9 309.4h0M317.9 307.1h0M317.9 302.6h0M317.9 300.4h0M317.9 298.1h0M317.9 295.8h0M317.9 291.3h0M317.9 289.1h0M317.9 286.8h0M317.9 284.5h0M317.9 280.0h0M317.9 277.8h0M317.9 275.5h0M317.9 273.2h0M317.9 271.0h0M317.9 268.7h0M317.9 264.2h0M317.9 261.9h0M317.9 259.7h0M317.9 257.4h0M317.9 255.2h0M318.8 318.4h0M318.8 316.2h0M318.8 313.9h0M318.8 311.7h0M318.8 309.4h0M318.8 307.1h0M318.8 304.9h0M318.8 302.6h0M318.8 300.4h0M318.8 298.1h0M318.8 295.8h0M318.8 293.6h0M318.8 291.3h0M318.8 289.1h0M318.8 286.8h0M318.8 284.5h0M318.8 282.3h0M318.8 280.0h0M318.8 277.8h0M318.8 275.5h0M318.8 273.2h0M318.8 271.0h0M318.8 268.7h0M318.8 266.5h0M318.8 264.2h0M318.8 261.9h0M318.8 259.7h0M320.0 316.2h0M320.0 313.9h0M320.0 311.7h0M320.0 304.9h0M320.0 302.6h0M320.0 300.4h0M320.0 293.6h0M320.0 289.1h0M320.0 284.5h0M320.0 282.3h0M320.0 280.0h0M320.0 277.8h0M320.0 273.2h0M320.0 271.0h0M320.0 268.7h0M320.0 266.5h0M320.0 264.2h0M321.0 350.1h0M321.0 347.8h0M321.0 341.0h0M321.0 338.8h0M321.0 336.5h0M321.0 332.0h0M321.0 327.5h0M321.0 325.2h0M321.0 320.7h0M321.0 318.4h0M321.0 316.2h0M321.0 313.9h0M321.0 311.7h0M321.0 309.4h0M321.0 307.1h0M321.0 304.9h0M321.0 302.6h0M321.0 300.4h0M321.0 298.1h0M321.0 295.8h0M321.0 293.6h0M321.0 291.3h0M321.0 289.1h0M321.0 286.8h0M321.0 282.3h0M321.0 280.0h0M321.0 277.8h0M321.0 275.5h0M321.0 273.2h0M321.0 271.0h0M321.0 268.7h0M321.0 266.5h0M321.0 264.2h0M321.0 261.9h0M321.6 352.3h0M321.6 350.1h0M321.6 347.8h0M321.6 345.6h0M321.6 341.0h0M321.6 338.8h0M321.6 336.5h0M321.6 334.3h0M321.6 320.7h0M321.6 313.9h0M321.6 311.7h0M321.6 309.4h0M321.6 307.1h0M321.6 302.6h0M321.6 300.4h0M321.6 298.1h0M321.6 295.8h0M321.6 293.6h0M321.6 291.3h0M321.6 289.1h0M321.6 286.8h0M321.6 284.5h0M321.6 282.3h0M321.6 280.0h0M321.6 277.8h0M321.6 275.5h0M321.6 271.0h0M321.6 268.7h0M321.6 266.5h0M321.6 264.2h0M321.6 261.9h0M322.5 363.6h0M322.5 352.3h0M322.5 350.1h0M322.5 347.8h0M322.5 345.6h0M322.5 343.3h0M322.5 341.0h0M322.5 338.8h0M322.5 336.5h0M322.5 334.3h0M322.5 332.0h0M322.5 329.7h0M322.5 327.5h0M322.5 320.7h0M322.5 311.7h0M322.5 309.4h0M322.5 307.1h0M322.5 304.9h0M322.5 302.6h0M322.5 298.1h0M322.5 295.8h0M322.5 293.6h0M322.5 289.1h0M322.5 286.8h0M322.5 284.5h0M322.5 282.3h0M322.5 280.0h0M322.5 277.8h0M322.5 275.5h0M322.5 273.2h0M322.5 271.0h0M322.5 268.7h0M322.5 266.5h0M323.7 347.8h0M323.7 345.6h0M323.7 341.0h0M323.7 336.5h0M323.7 334.3h0M323.7 329.7h0M323.7 327.5h0M323.7 325.2h0M323.7 320.7h0M323.7 318.4h0M323.7 316.2h0M323.7 313.9h0M323.7 311.7h0M323.7 309.4h0M323.7 307.1h0M323.7 304.9h0M323.7 300.4h0M323.7 298.1h0M323.7 293.6h0M323.7 291.3h0M323.7 289.1h0M323.7 286.8h0M323.7 284.5h0M323.7 280.0h0M323.7 273.2h0M323.7 271.0h0M323.7 268.7h0M323.7 266.5h0M323.7 264.2h0M323.7 261.9h0M323.7 259.7h0M324.6 352.3h0M324.6 350.1h0M324.6 347.8h0M324.6 345.6h0M324.6 343.3h0M324.6 341.0h0M324.6 338.8h0M324.6 336.5h0M324.6 334.3h0M324.6 332.0h0M324.6 329.7h0M324.6 327.5h0M324.6 325.2h0M324.6 323.0h0M324.6 320.7h0M324.6 318.4h0M324.6 316.2h0M324.6 313.9h0M324.6 311.7h0M324.6 307.1h0M324.6 304.9h0M324.6 302.6h0M324.6 298.1h0M324.6 295.8h0M324.6 293.6h0M324.6 291.3h0M324.6 289.1h0M324.6 286.8h0M324.6 284.5h0M324.6 282.3h0M324.6 275.5h0M324.6 273.2h0M324.6 271.0h0M324.6 268.7h0M324.6 266.5h0M324.6 264.2h0M324.6 261.9h0M324.6 257.4h0M325.7 352.3h0M325.7 350.1h0M325.7 347.8h0M325.7 345.6h0M325.7 341.0h0M325.7 338.8h0M325.7 336.5h0M325.7 334.3h0M325.7 327.5h0M325.7 325.2h0M325.7 323.0h0M325.7 320.7h0M325.7 318.4h0M325.7 316.2h0M325.7 313.9h0M325.7 309.4h0M325.7 307.1h0M325.7 304.9h0M325.7 302.6h0M325.7 298.1h0M326.9 350.1h0M326.9 347.8h0M326.9 345.6h0M326.9 343.3h0M326.9 338.8h0M326.9 336.5h0M326.9 329.7h0M326.9 318.4h0M326.9 316.2h0M326.9 313.9h0M326.9 311.7h0M326.9 309.4h0M326.9 307.1h0M326.9 304.9h0M326.9 298.1h0M327.5 352.3h0M327.5 347.8h0M327.5 345.6h0M327.5 336.5h0M327.5 332.0h0M327.5 329.7h0M327.5 327.5h0M327.5 325.2h0M327.5 323.0h0M327.5 316.2h0M327.5 313.9h0M327.5 311.7h0M327.5 304.9h0M327.5 302.6h0M327.5 300.4h0M328.7 352.3h0M328.7 347.8h0M328.7 345.6h0M328.7 336.5h0M328.7 334.3h0M328.7 332.0h0M328.7 329.7h0M328.7 327.5h0M328.7 325.2h0M328.7 323.0h0M328.7 320.7h0M328.7 316.2h0M328.7 313.9h0M328.7 309.4h0M328.7 307.1h0M328.7 304.9h0M328.7 302.6h0M328.7 300.4h0M329.8 352.3h0M329.8 347.8h0M329.8 345.6h0M329.8 343.3h0M329.8 341.0h0M329.8 338.8h0M329.8 336.5h0M329.8 334.3h0M329.8 329.7h0M329.8 327.5h0M329.8 325.2h0M329.8 320.7h0M329.8 318.4h0M329.8 313.9h0M329.8 309.4h0M329.8 307.1h0M329.8 304.9h0M329.8 300.4h0M329.8 298.1h0M329.8 295.8h0M331.0 352.3h0M331.0 350.1h0M331.0 341.0h0M331.0 338.8h0M331.0 336.5h0M331.0 334.3h0M331.0 327.5h0M331.0 325.2h0M331.0 323.0h0M331.0 320.7h0M331.0 318.4h0M331.0 316.2h0M331.0 313.9h0M331.0 309.4h0M331.0 304.9h0M331.0 300.4h0M331.0 298.1h0M331.9 343.3h0M331.9 341.0h0M331.9 338.8h0M331.9 336.5h0M331.9 332.0h0M331.9 329.7h0M331.9 323.0h0M331.9 320.7h0M331.9 316.2h0M331.9 313.9h0M331.9 311.7h0M331.9 309.4h0M331.9 304.9h0M332.6 338.8h0M332.6 336.5h0M332.6 329.7h0M332.6 327.5h0M332.6 323.0h0M332.6 318.4h0M332.6 313.9h0M332.6 311.7h0M332.6 309.4h0M332.6 307.1h0M332.6 302.6h0M332.6 300.4h0M332.6 295.8h0M332.6 293.6h0M333.8 343.3h0M333.8 341.0h0M333.8 336.5h0M333.8 334.3h0M333.8 332.0h0M333.8 329.7h0M333.8 327.5h0M333.8 325.2h0M333.8 323.0h0M333.8 320.7h0M333.8 316.2h0M333.8 313.9h0M333.8 311.7h0M333.8 309.4h0M333.8 307.1h0M333.8 304.9h0M333.8 302.6h0M333.8 300.4h0M333.8 295.8h0M333.8 293.6h0M334.8 338.8h0M334.8 334.3h0M334.8 332.0h0M334.8 329.7h0M334.8 327.5h0M334.8 318.4h0M334.8 316.2h0M334.8 313.9h0M334.8 311.7h0M334.8 309.4h0M334.8 302.6h0M334.8 298.1h0M335.8 332.0h0M335.8 325.2h0M335.8 320.7h0M335.8 316.2h0M335.8 313.9h0M335.8 311.7h0M335.8 309.4h0M335.8 307.1h0M335.8 304.9h0M335.8 302.6h0M335.8 300.4h0M335.8 295.8h0M336.6 338.8h0M336.6 336.5h0M336.6 334.3h0M336.6 332.0h0M336.6 329.7h0M336.6 323.0h0M336.6 320.7h0M336.6 318.4h0M336.6 316.2h0M336.6 313.9h0M336.6 311.7h0M336.6 307.1h0M336.6 304.9h0M336.6 300.4h0M336.6 293.6h0M336.6 291.3h0M338.0 336.5h0M338.0 334.3h0M338.0 332.0h0M338.0 329.7h0M338.0 327.5h0M338.0 325.2h0M338.0 323.0h0M338.0 320.7h0M338.0 318.4h0M338.0 316.2h0M338.0 313.9h0M338.0 311.7h0M338.0 309.4h0M338.0 307.1h0M338.0 302.6h0M338.0 300.4h0M338.0 298.1h0M338.0 291.3h0M338.8 338.8h0M338.8 336.5h0M338.8 329.7h0M338.8 327.5h0M338.8 325.2h0M338.8 320.7h0M338.8 318.4h0M338.8 316.2h0M338.8 313.9h0M338.8 307.1h0M338.8 304.9h0M338.8 298.1h0M338.8 289.1h0M339.5 338.8h0M339.5 336.5h0M339.5 334.3h0M339.5 329.7h0M339.5 327.5h0M339.5 320.7h0M339.5 311.7h0M339.5 309.4h0M339.5 307.1h0M339.5 302.6h0M339.5 300.4h0M339.5 298.1h0M339.5 295.8h0M339.5 293.6h0M340.8 336.5h0M340.8 334.3h0M340.8 332.0h0M340.8 327.5h0M340.8 325.2h0M340.8 323.0h0M340.8 320.7h0M340.8 318.4h0M340.8 313.9h0M340.8 311.7h0M340.8 309.4h0M340.8 307.1h0M340.8 304.9h0M340.8 300.4h0M340.8 298.1h0M340.8 295.8h0M340.8 293.6h0M340.8 291.3h0M342.0 345.6h0M342.0 341.0h0M342.0 338.8h0M342.0 334.3h0M342.0 332.0h0M342.0 327.5h0M342.0 325.2h0M342.0 323.0h0M342.0 320.7h0M342.0 318.4h0M342.0 316.2h0M342.0 313.9h0M342.0 311.7h0M342.0 309.4h0M342.0 307.1h0M342.0 304.9h0M342.0 300.4h0M342.0 298.1h0M342.0 291.3h0M343.0 361.4h0M343.0 359.1h0M343.0 354.6h0M343.0 352.3h0M343.0 350.1h0M343.0 345.6h0M343.0 341.0h0M343.0 338.8h0M343.0 336.5h0M343.0 329.7h0M343.0 327.5h0M343.0 325.2h0M343.0 320.7h0M343.0 318.4h0M343.0 316.2h0M343.0 313.9h0M343.0 311.7h0M343.0 309.4h0M343.0 307.1h0M343.0 302.6h0M343.0 300.4h0M343.0 298.1h0M343.0 295.8h0M343.0 293.6h0M344.1 365.9h0M344.1 354.6h0M344.1 350.1h0M344.1 345.6h0M344.1 343.3h0M344.1 338.8h0M344.1 334.3h0M344.1 332.0h0M344.1 327.5h0M344.1 325.2h0M344.1 316.2h0M344.1 313.9h0M344.1 311.7h0M344.1 309.4h0M344.5 370.4h0M344.5 359.1h0M344.5 354.6h0M344.5 352.3h0M344.5 350.1h0M344.5 347.8h0M344.5 343.3h0M344.5 338.8h0M344.5 334.3h0M344.5 332.0h0M344.5 323.0h0M344.5 318.4h0M344.5 316.2h0M344.5 313.9h0M344.5 311.7h0M345.8 345.6h0M345.8 343.3h0M345.8 341.0h0M345.8 338.8h0M345.8 336.5h0M345.8 334.3h0M345.8 332.0h0M345.8 329.7h0M345.8 327.5h0M345.8 325.2h0M345.8 323.0h0M345.8 320.7h0M345.8 318.4h0M345.8 316.2h0M345.8 313.9h0M345.8 311.7h0M345.8 309.4h0M345.8 307.1h0M347.1 350.1h0M347.1 345.6h0M347.1 343.3h0M347.1 334.3h0M347.1 327.5h0M347.1 323.0h0M347.1 320.7h0M347.1 316.2h0M347.1 309.4h0M347.7 350.1h0M347.7 347.8h0M347.7 345.6h0M347.7 343.3h0M347.7 341.0h0M347.7 338.8h0M347.7 336.5h0M347.7 334.3h0M347.7 332.0h0M347.7 329.7h0M347.7 327.5h0M347.7 325.2h0M347.7 323.0h0M347.7 320.7h0M347.7 318.4h0M347.7 316.2h0M347.7 313.9h0M347.7 311.7h0M347.7 309.4h0M349.0 341.0h0M349.0 336.5h0M349.0 329.7h0M349.0 327.5h0M349.0 323.0h0M349.0 320.7h0M349.0 316.2h0M349.0 309.4h0M349.0 304.9h0M349.0 300.4h0M349.0 298.1h0M350.0 350.1h0M350.0 347.8h0M350.0 343.3h0M350.0 341.0h0M350.0 338.8h0M350.0 334.3h0M350.0 332.0h0M350.0 320.7h0M350.0 318.4h0M350.0 316.2h0M350.0 311.7h0M350.0 309.4h0M350.0 307.1h0M350.0 304.9h0M350.0 302.6h0M350.0 298.1h0M350.0 293.6h0M350.5 347.8h0M350.5 345.6h0M350.5 343.3h0M350.5 341.0h0M350.5 338.8h0M350.5 336.5h0M350.5 334.3h0M350.5 332.0h0M350.5 329.7h0M350.5 327.5h0M350.5 325.2h0M350.5 318.4h0M350.5 316.2h0M350.5 313.9h0M350.5 311.7h0M350.5 307.1h0M350.5 304.9h0M350.5 298.1h0M350.5 295.8h0M350.5 293.6h0M350.5 291.3h0M351.7 390.8h0M351.7 374.9h0M351.7 370.4h0M351.7 368.2h0M351.7 356.9h0M351.7 352.3h0M351.7 350.1h0M351.7 347.8h0M351.7 345.6h0M351.7 343.3h0M351.7 338.8h0M351.7 336.5h0M351.7 332.0h0M351.7 329.7h0M351.7 327.5h0M351.7 323.0h0M351.7 320.7h0M351.7 318.4h0M351.7 316.2h0M351.7 313.9h0M351.7 311.7h0M351.7 302.6h0M351.7 300.4h0M351.7 298.1h0M351.7 295.8h0M351.7 293.6h0M353.1 386.2h0M353.1 384.0h0M353.1 377.2h0M353.1 374.9h0M353.1 368.2h0M353.1 365.9h0M353.1 359.1h0M353.1 354.6h0M353.1 352.3h0M353.1 350.1h0M353.1 345.6h0M353.1 343.3h0M353.1 341.0h0M353.1 338.8h0M353.1 336.5h0M353.1 334.3h0M353.1 332.0h0M353.1 329.7h0M353.1 327.5h0M353.1 325.2h0M353.1 323.0h0M353.1 320.7h0M353.1 318.4h0M353.1 316.2h0M353.1 313.9h0M353.1 311.7h0M353.1 309.4h0M353.1 307.1h0M353.1 304.9h0M353.1 302.6h0M353.1 300.4h0M353.1 298.1h0M353.1 295.8h0M353.1 291.3h0M353.9 386.2h0M353.9 384.0h0M353.9 379.5h0M353.9 377.2h0M353.9 372.7h0M353.9 370.4h0M353.9 368.2h0M353.9 365.9h0M353.9 363.6h0M353.9 354.6h0M353.9 352.3h0M353.9 347.8h0M353.9 338.8h0M353.9 336.5h0M353.9 329.7h0M353.9 325.2h0M353.9 313.9h0M353.9 311.7h0M353.9 309.4h0M353.9 307.1h0M353.9 304.9h0M353.9 300.4h0M353.9 298.1h0M353.9 295.8h0M354.9 390.8h0M354.9 352.3h0M354.9 350.1h0M354.9 347.8h0M354.9 343.3h0M354.9 341.0h0M354.9 338.8h0M354.9 336.5h0M354.9 334.3h0M354.9 332.0h0M354.9 329.7h0M354.9 327.5h0M354.9 325.2h0M354.9 323.0h0M354.9 318.4h0M354.9 316.2h0M354.9 313.9h0M354.9 309.4h0M354.9 307.1h0M354.9 304.9h0M354.9 298.1h0M354.9 295.8h0M355.9 361.4h0M355.9 359.1h0M355.9 350.1h0M355.9 347.8h0M355.9 345.6h0M355.9 343.3h0M355.9 338.8h0M355.9 336.5h0M355.9 334.3h0M355.9 332.0h0M355.9 329.7h0M355.9 327.5h0M355.9 323.0h0M355.9 318.4h0M356.9 363.6h0M356.9 361.4h0M356.9 356.9h0M356.9 354.6h0M356.9 343.3h0M356.9 341.0h0M356.9 338.8h0M356.9 334.3h0M356.9 332.0h0M356.9 327.5h0M356.9 323.0h0M356.9 320.7h0M357.6 359.1h0M357.6 356.9h0M357.6 354.6h0M357.6 352.3h0M357.6 347.8h0M357.6 341.0h0M357.6 336.5h0M357.6 334.3h0M357.6 332.0h0M357.6 329.7h0M357.6 327.5h0M357.6 323.0h0M357.6 320.7h0M357.6 318.4h0M358.7 363.6h0M358.7 347.8h0M358.7 345.6h0M358.7 341.0h0M358.7 338.8h0M358.7 336.5h0M358.7 334.3h0M358.7 329.7h0M358.7 327.5h0M358.7 325.2h0M358.7 323.0h0M358.7 320.7h0M358.7 318.4h0M358.7 316.2h0M359.6 356.9h0M359.6 350.1h0M359.6 347.8h0M359.6 345.6h0M359.6 341.0h0M359.6 338.8h0M359.6 336.5h0M359.6 334.3h0M359.6 332.0h0M359.6 329.7h0M359.6 327.5h0M359.6 323.0h0M359.6 320.7h0M359.6 318.4h0M359.6 316.2h0M359.6 313.9h0M361.1 345.6h0M361.1 343.3h0M361.1 338.8h0M361.1 334.3h0M361.1 332.0h0M361.1 329.7h0M361.1 325.2h0M361.1 323.0h0M361.6 354.6h0M361.6 350.1h0M361.6 347.8h0M361.6 345.6h0M361.6 343.3h0M361.6 332.0h0M361.6 329.7h0M361.6 327.5h0M361.6 325.2h0M361.6 320.7h0M361.6 318.4h0M361.6 316.2h0M363.1 347.8h0M363.1 345.6h0M363.1 343.3h0M363.1 341.0h0M363.1 338.8h0M363.1 336.5h0M363.1 334.3h0M363.1 332.0h0M363.1 329.7h0M363.1 327.5h0M363.1 325.2h0M363.1 323.0h0M363.1 320.7h0M363.1 318.4h0M363.7 345.6h0M363.7 343.3h0M363.7 336.5h0M363.7 334.3h0M363.7 332.0h0M363.7 327.5h0M363.7 323.0h0M363.7 320.7h0M363.7 318.4h0M363.7 316.2h0M363.7 311.7h0M364.8 345.6h0M364.8 343.3h0M364.8 341.0h0M364.8 334.3h0M364.8 332.0h0M364.8 329.7h0M364.8 327.5h0M364.8 325.2h0M364.8 323.0h0M364.8 320.7h0M364.8 318.4h0M366.1 345.6h0M366.1 341.0h0M366.1 338.8h0M366.1 336.5h0M366.1 334.3h0M366.1 332.0h0M366.1 329.7h0M366.1 325.2h0M366.1 323.0h0M366.1 318.4h0M366.1 313.9h0M366.1 311.7h0M366.1 309.4h0M366.1 307.1h0M366.6 347.8h0M366.6 338.8h0M366.6 334.3h0M366.6 329.7h0M366.6 327.5h0M366.6 325.2h0M366.6 323.0h0M366.6 318.4h0M366.6 316.2h0M366.6 313.9h0M366.6 311.7h0M368.0 347.8h0M368.0 345.6h0M368.0 343.3h0M368.0 341.0h0M368.0 338.8h0M368.0 336.5h0M368.0 334.3h0M368.0 329.7h0M368.0 325.2h0M368.0 323.0h0M368.0 320.7h0M368.0 318.4h0M368.0 316.2h0M368.0 313.9h0M368.9 345.6h0M368.9 338.8h0M368.9 336.5h0M368.9 334.3h0M368.9 332.0h0M368.9 329.7h0M368.9 327.5h0M368.9 325.2h0M368.9 323.0h0M368.9 320.7h0M368.9 318.4h0M368.9 316.2h0M368.9 313.9h0M369.9 354.6h0M369.9 352.3h0M369.9 350.1h0M369.9 347.8h0M369.9 345.6h0M369.9 341.0h0M369.9 334.3h0M369.9 332.0h0M369.9 329.7h0M369.9 327.5h0M369.9 325.2h0M369.9 323.0h0M369.9 318.4h0M369.9 316.2h0M369.9 313.9h0M369.9 311.7h0M370.7 356.9h0M370.7 354.6h0M370.7 352.3h0M370.7 347.8h0M370.7 345.6h0M370.7 343.3h0M370.7 341.0h0M370.7 334.3h0M370.7 332.0h0M370.7 329.7h0M370.7 320.7h0M370.7 318.4h0M370.7 316.2h0M370.7 313.9h0M370.7 311.7h0M370.7 309.4h0M371.8 334.3h0M371.8 327.5h0M371.8 325.2h0M371.8 323.0h0M371.8 320.7h0M371.8 311.7h0M371.8 309.4h0M371.8 307.1h0M371.8 304.9h0M371.8 302.6h0M371.8 300.4h0M371.8 293.6h0M372.8 350.1h0M372.8 341.0h0M372.8 338.8h0M372.8 336.5h0M372.8 334.3h0M372.8 332.0h0M372.8 329.7h0M372.8 327.5h0M372.8 325.2h0M372.8 320.7h0M372.8 318.4h0M372.8 316.2h0M372.8 313.9h0M372.8 309.4h0M372.8 307.1h0M372.8 304.9h0M372.8 302.6h0M372.8 300.4h0M372.8 298.1h0M372.8 295.8h0M372.8 291.3h0M373.5 343.3h0M373.5 341.0h0M373.5 338.8h0M373.5 336.5h0M373.5 332.0h0M373.5 329.7h0M373.5 325.2h0M373.5 323.0h0M373.5 320.7h0M373.5 318.4h0M373.5 316.2h0M373.5 311.7h0M373.5 307.1h0M373.5 304.9h0M373.5 302.6h0M373.5 300.4h0M373.5 298.1h0M373.5 293.6h0M375.0 352.3h0M375.0 343.3h0M375.0 341.0h0M375.0 338.8h0M375.0 332.0h0M375.0 329.7h0M375.0 325.2h0M375.0 323.0h0M375.0 320.7h0M375.0 318.4h0M375.0 316.2h0M375.0 311.7h0M375.0 309.4h0M375.0 307.1h0M375.0 304.9h0M375.0 302.6h0M375.0 300.4h0M375.0 293.6h0M375.7 365.9h0M375.7 363.6h0M375.7 361.4h0M375.7 359.1h0M375.7 356.9h0M375.7 354.6h0M375.7 352.3h0M375.7 350.1h0M375.7 347.8h0M375.7 345.6h0M375.7 343.3h0M375.7 338.8h0M375.7 336.5h0M375.7 334.3h0M375.7 332.0h0M375.7 329.7h0M375.7 325.2h0M375.7 323.0h0M375.7 320.7h0M375.7 318.4h0M375.7 316.2h0M375.7 313.9h0M375.7 309.4h0M375.7 307.1h0M375.7 304.9h0M377.0 363.6h0M377.0 361.4h0M377.0 352.3h0M377.0 334.3h0M377.0 327.5h0M377.0 325.2h0M377.0 320.7h0M377.0 318.4h0M377.0 316.2h0M377.0 313.9h0M377.0 311.7h0M377.0 307.1h0M377.0 304.9h0M378.0 365.9h0M378.0 347.8h0M378.0 338.8h0M378.0 334.3h0M378.0 332.0h0M378.0 329.7h0M378.0 323.0h0M378.0 320.7h0M378.0 318.4h0M378.0 316.2h0M378.0 311.7h0M378.0 309.4h0M378.0 307.1h0M379.1 334.3h0M379.1 332.0h0M379.1 327.5h0M379.1 325.2h0M379.1 320.7h0M379.1 318.4h0M379.1 316.2h0M379.1 313.9h0M379.1 309.4h0M379.1 307.1h0M379.1 302.6h0M379.9 345.6h0M379.9 334.3h0M379.9 327.5h0M379.9 323.0h0M379.9 320.7h0M379.9 318.4h0M379.9 316.2h0M379.9 313.9h0M379.9 311.7h0M379.9 309.4h0M380.7 336.5h0M380.7 334.3h0M380.7 329.7h0M380.7 327.5h0M380.7 323.0h0M380.7 320.7h0M380.7 318.4h0M380.7 316.2h0M380.7 313.9h0M380.7 311.7h0M381.6 341.0h0M381.6 336.5h0M381.6 334.3h0M381.6 332.0h0M381.6 325.2h0M381.6 323.0h0M381.6 320.7h0M381.6 318.4h0M381.6 316.2h0M381.6 313.9h0M382.8 336.5h0M382.8 332.0h0M382.8 329.7h0M382.8 327.5h0M382.8 325.2h0M382.8 323.0h0M382.8 318.4h0M382.8 316.2h0M382.8 313.9h0M382.8 311.7h0M384.0 336.5h0M384.0 332.0h0M384.0 329.7h0M384.0 327.5h0M384.0 323.0h0M384.0 320.7h0M384.0 318.4h0M384.0 316.2h0M384.0 313.9h0M384.0 311.7h0M384.0 309.4h0M384.0 307.1h0M384.8 336.5h0M384.8 334.3h0M384.8 332.0h0M384.8 329.7h0M384.8 325.2h0M384.8 323.0h0M384.8 320.7h0M384.8 318.4h0M384.8 316.2h0M384.8 311.7h0M384.8 309.4h0M384.8 307.1h0M385.9 336.5h0M385.9 334.3h0M385.9 332.0h0M385.9 329.7h0M385.9 327.5h0M385.9 325.2h0M385.9 323.0h0M385.9 318.4h0M385.9 316.2h0M385.9 313.9h0M385.9 311.7h0M385.9 309.4h0M385.9 307.1h0M386.7 341.0h0M386.7 338.8h0M386.7 336.5h0M386.7 332.0h0M386.7 329.7h0M386.7 325.2h0M386.7 323.0h0M386.7 320.7h0M386.7 318.4h0M386.7 313.9h0M386.7 311.7h0M386.7 309.4h0M386.7 304.9h0M387.6 345.6h0M387.6 343.3h0M387.6 338.8h0M387.6 336.5h0M387.6 334.3h0M387.6 332.0h0M387.6 329.7h0M387.6 327.5h0M387.6 325.2h0M387.6 323.0h0M387.6 316.2h0M387.6 313.9h0M387.6 311.7h0M387.6 309.4h0M387.6 304.9h0M389.1 343.3h0M389.1 338.8h0M389.1 334.3h0M389.1 332.0h0M389.1 329.7h0M389.1 325.2h0M389.1 316.2h0M389.1 313.9h0M389.1 311.7h0M389.1 309.4h0M389.1 304.9h0M390.0 338.8h0M390.0 336.5h0M390.0 334.3h0M390.0 332.0h0M390.0 329.7h0M390.0 327.5h0M390.0 325.2h0M390.0 323.0h0M390.0 320.7h0M390.0 318.4h0M390.0 316.2h0M390.0 313.9h0M390.0 309.4h0M390.0 307.1h0M390.6 334.3h0M390.6 332.0h0M390.6 327.5h0M390.6 325.2h0M390.6 323.0h0M390.6 320.7h0M390.6 318.4h0M390.6 313.9h0M390.6 311.7h0M390.6 309.4h0M392.1 338.8h0M392.1 336.5h0M392.1 334.3h0M392.1 332.0h0M392.1 329.7h0M392.1 327.5h0M392.1 325.2h0M392.1 318.4h0M392.1 313.9h0M392.1 311.7h0M392.1 309.4h0M392.1 304.9h0M392.6 336.5h0M392.6 334.3h0M392.6 332.0h0M392.6 327.5h0M392.6 325.2h0M392.6 323.0h0M392.6 320.7h0M392.6 318.4h0M392.6 316.2h0M392.6 313.9h0M392.6 311.7h0M392.6 309.4h0M392.6 307.1h0M392.6 304.9h0M394.1 336.5h0M394.1 334.3h0M394.1 329.7h0M394.1 327.5h0M394.1 325.2h0M394.1 323.0h0M394.1 318.4h0M394.1 316.2h0M394.1 313.9h0M394.1 311.7h0M394.1 309.4h0M394.1 307.1h0M394.1 304.9h0M394.8 347.8h0M394.8 338.8h0M394.8 336.5h0M394.8 332.0h0M394.8 327.5h0M394.8 316.2h0M394.8 309.4h0M394.8 307.1h0M394.8 304.9h0M395.6 338.8h0M395.6 336.5h0M395.6 334.3h0M395.6 332.0h0M395.6 329.7h0M395.6 325.2h0M395.6 323.0h0M395.6 320.7h0M395.6 313.9h0M395.6 311.7h0M395.6 309.4h0M395.6 307.1h0M395.6 304.9h0M395.6 300.4h0M395.6 295.8h0M396.8 341.0h0M396.8 338.8h0M396.8 334.3h0M396.8 332.0h0M396.8 329.7h0M396.8 327.5h0M396.8 325.2h0M396.8 323.0h0M396.8 318.4h0M396.8 311.7h0M396.8 309.4h0M396.8 300.4h0M398.0 336.5h0M398.0 334.3h0M398.0 329.7h0M398.0 327.5h0M398.0 325.2h0M398.0 323.0h0M398.0 320.7h0M398.0 316.2h0M398.0 313.9h0M398.0 311.7h0M398.0 309.4h0M398.0 307.1h0M398.0 304.9h0M398.0 302.6h0M398.8 347.8h0M398.8 336.5h0M398.8 332.0h0M398.8 329.7h0M398.8 323.0h0M398.8 320.7h0M398.8 313.9h0M398.8 311.7h0M398.8 309.4h0M398.8 307.1h0M398.8 302.6h0M400.1 338.8h0M400.1 336.5h0M400.1 334.3h0M400.1 329.7h0M400.1 325.2h0M400.1 323.0h0M400.1 320.7h0M400.1 318.4h0M400.1 313.9h0M400.1 311.7h0M400.1 307.1h0M400.1 302.6h0M400.1 300.4h0M400.1 298.1h0M400.1 295.8h0M400.1 293.6h0M400.6 341.0h0M400.6 338.8h0M400.6 332.0h0M400.6 329.7h0M400.6 327.5h0M400.6 323.0h0M400.6 320.7h0M400.6 318.4h0M400.6 316.2h0M400.6 313.9h0M400.6 311.7h0M400.6 309.4h0M400.6 307.1h0M400.6 304.9h0M400.6 302.6h0M400.6 300.4h0M400.6 298.1h0M400.6 295.8h0M400.6 293.6h0M401.9 361.4h0M401.9 359.1h0M401.9 356.9h0M401.9 354.6h0M401.9 347.8h0M401.9 345.6h0M401.9 343.3h0M401.9 341.0h0M401.9 338.8h0M401.9 336.5h0M401.9 334.3h0M401.9 329.7h0M401.9 325.2h0M401.9 323.0h0M401.9 318.4h0M401.9 316.2h0M401.9 313.9h0M401.9 311.7h0M401.9 309.4h0M401.9 304.9h0M401.9 302.6h0M401.9 300.4h0M401.9 298.1h0M401.9 295.8h0M403.0 361.4h0M403.0 359.1h0M403.0 354.6h0M403.0 352.3h0M403.0 350.1h0M403.0 343.3h0M403.0 336.5h0M403.0 334.3h0M403.0 332.0h0M403.0 329.7h0M403.0 327.5h0M403.0 325.2h0M403.0 323.0h0M403.0 316.2h0M403.0 313.9h0M403.0 311.7h0M403.0 309.4h0M403.0 307.1h0M403.0 304.9h0M403.0 302.6h0M403.0 298.1h0M403.0 295.8h0M403.0 293.6h0M404.0 343.3h0M404.0 338.8h0M404.0 332.0h0M404.0 325.2h0M404.0 323.0h0M404.0 320.7h0M404.0 313.9h0M404.0 311.7h0M404.0 309.4h0M404.0 307.1h0M404.0 304.9h0M404.0 302.6h0M404.0 293.6h0M405.0 343.3h0M405.0 338.8h0M405.0 336.5h0M405.0 329.7h0M405.0 327.5h0M405.0 325.2h0M405.0 323.0h0M405.0 318.4h0M405.0 316.2h0M405.0 313.9h0M405.0 311.7h0M405.0 309.4h0M405.0 307.1h0M405.0 304.9h0M405.0 302.6h0M405.0 298.1h0M405.0 295.8h0M405.0 293.6h0M406.1 341.0h0M406.1 336.5h0M406.1 334.3h0M406.1 327.5h0M406.1 325.2h0M406.1 323.0h0M406.1 320.7h0M406.1 318.4h0M406.1 316.2h0M406.1 311.7h0M406.1 309.4h0M406.1 307.1h0M406.1 304.9h0M406.1 302.6h0M406.1 300.4h0M406.1 295.8h0M406.1 293.6h0M407.1 341.0h0M407.1 336.5h0M407.1 332.0h0M407.1 323.0h0M407.1 318.4h0M407.1 316.2h0M407.1 307.1h0M407.1 304.9h0M407.1 302.6h0M407.1 293.6h0M407.1 291.3h0M407.6 343.3h0M407.6 341.0h0M407.6 338.8h0M407.6 336.5h0M407.6 334.3h0M407.6 332.0h0M407.6 329.7h0M407.6 327.5h0M407.6 325.2h0M407.6 323.0h0M407.6 320.7h0M407.6 318.4h0M407.6 316.2h0M407.6 313.9h0M407.6 311.7h0M407.6 302.6h0M407.6 300.4h0M407.6 293.6h0M407.6 291.3h0M408.6 343.3h0M408.6 341.0h0M408.6 338.8h0M408.6 336.5h0M408.6 334.3h0M408.6 329.7h0M408.6 327.5h0M408.6 325.2h0M408.6 320.7h0M408.6 318.4h0M408.6 316.2h0M408.6 304.9h0M408.6 302.6h0M408.6 300.4h0M408.6 298.1h0M408.6 295.8h0M408.6 293.6h0M408.6 291.3h0M409.9 343.3h0M409.9 341.0h0M409.9 338.8h0M409.9 336.5h0M409.9 334.3h0M409.9 329.7h0M409.9 323.0h0M409.9 320.7h0M409.9 318.4h0M409.9 316.2h0M409.9 311.7h0M409.9 309.4h0M409.9 307.1h0M409.9 300.4h0M409.9 298.1h0M409.9 295.8h0M411.1 341.0h0M411.1 336.5h0M411.1 334.3h0M411.1 329.7h0M411.1 327.5h0M411.1 325.2h0M411.1 323.0h0M411.1 320.7h0M411.1 316.2h0M411.1 309.4h0M411.1 307.1h0M411.1 304.9h0M411.1 302.6h0M411.1 298.1h0M411.1 295.8h0M411.1 293.6h0M411.9 343.3h0M411.9 338.8h0M411.9 334.3h0M411.9 332.0h0M411.9 327.5h0M411.9 325.2h0M411.9 323.0h0M411.9 320.7h0M411.9 318.4h0M411.9 316.2h0M411.9 313.9h0M411.9 311.7h0M411.9 309.4h0M411.9 307.1h0M411.9 302.6h0M411.9 300.4h0M411.9 298.1h0M412.7 345.6h0M412.7 338.8h0M412.7 336.5h0M412.7 334.3h0M412.7 329.7h0M412.7 325.2h0M412.7 323.0h0M412.7 320.7h0M412.7 318.4h0M412.7 316.2h0M412.7 311.7h0M412.7 309.4h0M412.7 307.1h0M412.7 304.9h0M412.7 302.6h0M412.7 300.4h0M412.7 298.1h0M412.7 295.8h0M413.9 345.6h0M413.9 341.0h0M413.9 336.5h0M413.9 334.3h0M413.9 332.0h0M413.9 329.7h0M413.9 327.5h0M413.9 325.2h0M413.9 323.0h0M413.9 316.2h0M413.9 313.9h0M413.9 311.7h0M413.9 309.4h0M413.9 307.1h0M413.9 304.9h0M413.9 300.4h0M413.9 298.1h0M413.9 295.8h0M414.5 329.7h0M414.5 327.5h0M414.5 325.2h0M414.5 320.7h0M414.5 318.4h0M414.5 316.2h0M414.5 313.9h0M414.5 309.4h0M414.5 307.1h0M414.5 304.9h0M414.5 300.4h0M414.5 298.1h0M414.5 295.8h0M414.5 286.8h0M415.5 338.8h0M415.5 336.5h0M415.5 334.3h0M415.5 332.0h0M415.5 329.7h0M415.5 327.5h0M415.5 325.2h0M415.5 323.0h0M415.5 320.7h0M415.5 318.4h0M415.5 316.2h0M415.5 313.9h0M415.5 311.7h0M415.5 309.4h0M415.5 307.1h0M415.5 302.6h0M415.5 300.4h0M416.6 338.8h0M416.6 336.5h0M416.6 329.7h0M416.6 327.5h0M416.6 325.2h0M416.6 318.4h0M416.6 316.2h0M416.6 313.9h0M416.6 311.7h0M416.6 309.4h0M416.6 307.1h0M416.6 304.9h0M416.6 302.6h0M416.6 300.4h0M416.6 298.1h0M416.6 295.8h0M416.6 293.6h0M416.6 291.3h0M418.0 334.3h0M418.0 332.0h0M418.0 329.7h0M418.0 327.5h0M418.0 323.0h0M418.0 320.7h0M418.0 318.4h0M418.0 316.2h0M418.0 313.9h0M418.0 311.7h0M418.0 309.4h0M418.0 307.1h0M418.0 304.9h0M418.0 302.6h0M418.0 300.4h0M418.0 298.1h0M418.0 295.8h0M418.0 293.6h0M418.9 338.8h0M418.9 336.5h0M418.9 334.3h0M418.9 332.0h0M418.9 329.7h0M418.9 327.5h0M418.9 325.2h0M418.9 320.7h0M418.9 316.2h0M418.9 313.9h0M418.9 309.4h0M418.9 307.1h0M418.9 304.9h0M418.9 302.6h0M418.9 295.8h0M418.9 293.6h0M419.8 336.5h0M419.8 334.3h0M419.8 332.0h0M419.8 327.5h0M419.8 318.4h0M419.8 316.2h0M419.8 313.9h0M419.8 311.7h0M419.8 309.4h0M419.8 307.1h0M419.8 302.6h0M419.8 300.4h0M419.8 298.1h0M419.8 295.8h0M419.8 293.6h0M420.6 334.3h0M420.6 329.7h0M420.6 325.2h0M420.6 320.7h0M420.6 318.4h0M420.6 316.2h0M420.6 313.9h0M420.6 311.7h0M420.6 309.4h0M420.6 307.1h0M420.6 304.9h0M420.6 302.6h0M420.6 300.4h0M420.6 298.1h0M420.6 295.8h0M420.6 293.6h0M422.0 338.8h0M422.0 336.5h0M422.0 334.3h0M422.0 329.7h0M422.0 327.5h0M422.0 325.2h0M422.0 323.0h0M422.0 320.7h0M422.0 316.2h0M422.0 313.9h0M422.0 311.7h0M422.0 309.4h0M422.0 307.1h0M422.0 302.6h0M422.0 300.4h0M422.0 298.1h0M422.0 293.6h0M422.0 291.3h0M422.0 289.1h0M422.9 365.9h0M422.9 361.4h0M422.9 350.1h0M422.9 347.8h0M422.9 345.6h0M422.9 341.0h0M422.9 336.5h0M422.9 334.3h0M422.9 325.2h0M422.9 318.4h0M422.9 316.2h0M422.9 311.7h0M422.9 309.4h0M422.9 307.1h0M422.9 302.6h0M422.9 298.1h0M422.9 293.6h0M422.9 291.3h0M424.0 368.2h0M424.0 365.9h0M424.0 361.4h0M424.0 354.6h0M424.0 350.1h0M424.0 338.8h0M424.0 336.5h0M424.0 334.3h0M424.0 332.0h0M424.0 329.7h0M424.0 327.5h0M424.0 323.0h0M424.0 320.7h0M424.0 318.4h0M424.0 316.2h0M424.0 313.9h0M424.0 311.7h0M424.0 309.4h0M424.0 307.1h0M424.0 304.9h0M424.0 302.6h0M424.0 300.4h0M424.0 298.1h0M424.0 295.8h0M424.0 293.6h0M424.0 291.3h0M424.0 289.1h0M424.0 286.8h0M424.0 284.5h0M424.0 282.3h0M424.0 280.0h0M424.0 277.8h0M424.6 363.6h0M424.6 350.1h0M424.6 347.8h0M424.6 343.3h0M424.6 334.3h0M424.6 332.0h0M424.6 327.5h0M424.6 325.2h0M424.6 323.0h0M424.6 320.7h0M424.6 318.4h0M424.6 313.9h0M424.6 311.7h0M424.6 309.4h0M424.6 307.1h0M424.6 304.9h0M424.6 302.6h0M424.6 300.4h0M424.6 298.1h0M424.6 295.8h0M424.6 293.6h0M424.6 291.3h0M424.6 289.1h0M424.6 284.5h0M424.6 282.3h0M424.6 280.0h0M424.6 277.8h0M424.6 275.5h0M425.8 329.7h0M425.8 323.0h0M425.8 320.7h0M425.8 318.4h0M425.8 316.2h0M425.8 313.9h0M425.8 311.7h0M425.8 307.1h0M425.8 300.4h0M425.8 298.1h0M425.8 295.8h0M425.8 293.6h0M425.8 291.3h0M425.8 289.1h0M425.8 286.8h0M425.8 284.5h0M425.8 280.0h0M425.8 277.8h0M425.8 273.2h0M426.7 329.7h0M426.7 327.5h0M426.7 325.2h0M426.7 320.7h0M426.7 316.2h0M426.7 309.4h0M426.7 304.9h0M426.7 302.6h0M426.7 298.1h0M426.7 295.8h0M426.7 293.6h0M426.7 289.1h0M426.7 286.8h0M426.7 280.0h0M426.7 277.8h0M427.6 329.7h0M427.6 325.2h0M427.6 316.2h0M427.6 313.9h0M427.6 311.7h0M427.6 307.1h0M427.6 304.9h0M427.6 302.6h0M427.6 300.4h0M427.6 298.1h0M427.6 295.8h0M427.6 293.6h0M427.6 291.3h0M427.6 286.8h0M427.6 284.5h0M427.6 280.0h0M427.6 277.8h0M428.7 329.7h0M428.7 327.5h0M428.7 325.2h0M428.7 323.0h0M428.7 320.7h0M428.7 316.2h0M428.7 313.9h0M428.7 311.7h0M428.7 309.4h0M428.7 307.1h0M428.7 304.9h0M428.7 302.6h0M428.7 300.4h0M428.7 298.1h0M428.7 295.8h0M428.7 293.6h0M428.7 291.3h0M428.7 289.1h0M428.7 286.8h0M428.7 284.5h0M428.7 282.3h0M428.7 280.0h0M428.7 277.8h0M429.9 334.3h0M429.9 332.0h0M429.9 329.7h0M429.9 327.5h0M429.9 325.2h0M429.9 323.0h0M429.9 320.7h0M429.9 318.4h0M429.9 316.2h0M429.9 311.7h0M429.9 309.4h0M429.9 307.1h0M429.9 304.9h0M429.9 302.6h0M429.9 298.1h0M429.9 295.8h0M429.9 293.6h0M429.9 291.3h0M429.9 289.1h0M429.9 286.8h0M429.9 284.5h0M429.9 282.3h0M430.6 356.9h0M430.6 343.3h0M430.6 336.5h0M430.6 332.0h0M430.6 329.7h0M430.6 327.5h0M430.6 325.2h0M430.6 320.7h0M430.6 318.4h0M430.6 316.2h0M430.6 313.9h0M430.6 311.7h0M430.6 307.1h0M430.6 304.9h0M430.6 302.6h0M430.6 300.4h0M430.6 298.1h0M430.6 295.8h0M430.6 293.6h0M430.6 291.3h0M430.6 286.8h0M431.6 365.9h0M431.6 363.6h0M431.6 361.4h0M431.6 359.1h0M431.6 356.9h0M431.6 354.6h0M431.6 350.1h0M431.6 347.8h0M431.6 345.6h0M431.6 343.3h0M431.6 338.8h0M431.6 336.5h0M431.6 334.3h0M431.6 332.0h0M431.6 329.7h0M431.6 327.5h0M431.6 325.2h0M431.6 323.0h0M431.6 318.4h0M431.6 316.2h0M431.6 311.7h0M431.6 309.4h0M431.6 304.9h0M431.6 302.6h0M431.6 300.4h0M431.6 298.1h0M431.6 293.6h0M431.6 286.8h0M431.6 284.5h0M432.6 370.4h0M432.6 365.9h0M432.6 363.6h0M432.6 359.1h0M432.6 356.9h0M432.6 350.1h0M432.6 347.8h0M432.6 345.6h0M432.6 343.3h0M432.6 338.8h0M432.6 336.5h0M432.6 334.3h0M432.6 327.5h0M432.6 325.2h0M432.6 320.7h0M432.6 311.7h0M432.6 307.1h0M432.6 304.9h0M432.6 300.4h0M432.6 298.1h0M432.6 295.8h0M432.6 293.6h0M432.6 291.3h0M432.6 289.1h0M432.6 284.5h0M432.6 280.0h0M432.6 277.8h0M433.9 354.6h0M433.9 329.7h0M433.9 323.0h0M433.9 318.4h0M433.9 313.9h0M433.9 311.7h0M433.9 307.1h0M433.9 304.9h0M433.9 302.6h0M433.9 300.4h0M433.9 298.1h0M433.9 293.6h0M433.9 289.1h0M433.9 286.8h0M433.9 284.5h0M433.9 282.3h0M434.6 327.5h0M434.6 325.2h0M434.6 323.0h0M434.6 320.7h0M434.6 318.4h0M434.6 313.9h0M434.6 311.7h0M434.6 309.4h0M434.6 307.1h0M434.6 304.9h0M434.6 302.6h0M434.6 300.4h0M434.6 293.6h0M434.6 291.3h0M434.6 289.1h0M434.6 286.8h0M434.6 284.5h0M434.6 282.3h0M434.6 280.0h0M435.5 329.7h0M435.5 327.5h0M435.5 325.2h0M435.5 323.0h0M435.5 320.7h0M435.5 318.4h0M435.5 316.2h0M435.5 313.9h0M435.5 309.4h0M435.5 304.9h0M435.5 300.4h0M435.5 298.1h0M435.5 295.8h0M435.5 293.6h0M435.5 291.3h0M435.5 289.1h0M435.5 286.8h0M435.5 284.5h0M435.5 282.3h0M435.5 280.0h0M435.5 277.8h0M436.7 336.5h0M436.7 327.5h0M436.7 325.2h0M436.7 323.0h0M436.7 316.2h0M436.7 313.9h0M436.7 311.7h0M436.7 309.4h0M436.7 307.1h0M436.7 302.6h0M436.7 298.1h0M436.7 293.6h0M436.7 286.8h0M436.7 284.5h0M436.7 280.0h0M436.7 277.8h0M436.7 275.5h0M437.8 329.7h0M437.8 327.5h0M437.8 323.0h0M437.8 320.7h0M437.8 318.4h0M437.8 316.2h0M437.8 311.7h0M437.8 309.4h0M437.8 307.1h0M437.8 304.9h0M437.8 293.6h0M437.8 289.1h0M437.8 286.8h0M437.8 284.5h0M437.8 282.3h0M438.7 320.7h0M438.7 318.4h0M438.7 311.7h0M438.7 309.4h0M438.7 307.1h0M438.7 304.9h0M438.7 300.4h0M438.7 298.1h0M438.7 295.8h0M438.7 293.6h0M438.7 291.3h0M438.7 284.5h0M439.5 327.5h0M439.5 323.0h0M439.5 313.9h0M439.5 311.7h0M439.5 307.1h0M439.5 304.9h0M439.5 302.6h0M439.5 300.4h0M439.5 298.1h0M439.5 295.8h0M439.5 293.6h0M439.5 291.3h0M439.5 289.1h0M439.5 286.8h0M439.5 282.3h0M439.5 280.0h0M439.5 277.8h0M440.6 338.8h0M440.6 334.3h0M440.6 332.0h0M440.6 329.7h0M440.6 323.0h0M440.6 320.7h0M440.6 318.4h0M440.6 316.2h0M440.6 313.9h0M440.6 309.4h0M440.6 302.6h0M440.6 298.1h0M440.6 295.8h0M440.6 293.6h0M440.6 291.3h0M440.6 289.1h0M440.6 286.8h0M440.6 282.3h0M440.6 280.0h0M440.6 277.8h0M440.6 275.5h0M442.1 338.8h0M442.1 336.5h0M442.1 334.3h0M442.1 332.0h0M442.1 325.2h0M442.1 323.0h0M442.1 318.4h0M442.1 316.2h0M442.1 313.9h0M442.1 309.4h0M442.1 307.1h0M442.1 304.9h0M442.1 300.4h0M442.1 298.1h0M442.1 295.8h0M442.1 293.6h0M442.1 291.3h0M442.1 289.1h0M442.1 286.8h0M442.1 284.5h0M442.1 282.3h0M442.1 280.0h0M442.1 277.8h0M442.5 347.8h0M442.5 311.7h0M442.5 307.1h0M442.5 304.9h0M442.5 293.6h0M442.5 291.3h0M442.5 289.1h0M442.5 286.8h0M442.5 284.5h0M442.5 282.3h0M442.5 277.8h0M443.7 320.7h0M443.7 309.4h0M443.7 302.6h0M443.7 300.4h0M443.7 298.1h0M443.7 295.8h0M443.7 293.6h0M443.7 289.1h0M443.7 284.5h0M443.7 282.3h0M443.7 280.0h0M445.0 309.4h0M445.0 307.1h0M445.0 304.9h0M445.0 300.4h0M445.0 298.1h0M445.0 295.8h0M445.0 293.6h0M445.0 291.3h0M445.0 289.1h0M445.0 286.8h0M445.0 284.5h0M445.0 282.3h0M445.0 280.0h0M446.1 307.1h0M446.1 298.1h0M446.1 295.8h0M446.1 293.6h0M446.1 291.3h0M446.1 289.1h0M446.1 286.8h0M446.1 284.5h0M446.1 282.3h0M447.0 304.9h0M447.0 302.6h0M447.0 300.4h0M447.0 298.1h0M447.0 293.6h0M447.0 291.3h0M447.0 289.1h0M447.0 282.3h0M447.6 352.3h0M447.6 345.6h0M447.6 336.5h0M447.6 320.7h0M447.6 311.7h0M447.6 309.4h0M447.6 307.1h0M447.6 302.6h0M447.6 300.4h0M447.6 295.8h0M447.6 293.6h0M447.6 291.3h0M447.6 289.1h0M447.6 286.8h0M447.6 282.3h0M448.6 368.2h0M448.6 365.9h0M448.6 363.6h0M448.6 359.1h0M448.6 356.9h0M448.6 354.6h0M448.6 352.3h0M448.6 350.1h0M448.6 345.6h0M448.6 343.3h0M448.6 341.0h0M448.6 338.8h0M448.6 336.5h0M448.6 334.3h0M448.6 332.0h0M448.6 329.7h0M448.6 327.5h0M448.6 323.0h0M448.6 318.4h0M448.6 316.2h0M448.6 313.9h0M448.6 311.7h0M448.6 304.9h0M448.6 302.6h0M448.6 300.4h0M448.6 293.6h0M448.6 291.3h0M448.6 289.1h0M448.6 286.8h0M448.6 284.5h0M448.6 282.3h0M448.6 280.0h0M448.6 277.8h0M448.6 273.2h0M449.5 370.4h0M449.5 368.2h0M449.5 363.6h0M449.5 361.4h0M449.5 359.1h0M449.5 354.6h0M449.5 352.3h0M449.5 350.1h0M449.5 347.8h0M449.5 345.6h0M449.5 343.3h0M449.5 341.0h0M449.5 338.8h0M449.5 334.3h0M449.5 332.0h0M449.5 329.7h0M449.5 327.5h0M449.5 323.0h0M449.5 320.7h0M449.5 318.4h0M449.5 316.2h0M449.5 313.9h0M449.5 311.7h0M449.5 307.1h0M449.5 304.9h0M449.5 295.8h0M449.5 293.6h0M449.5 291.3h0M449.5 286.8h0M449.5 284.5h0M449.5 282.3h0M449.5 280.0h0M449.5 277.8h0M450.8 338.8h0M450.8 336.5h0M450.8 309.4h0M450.8 307.1h0M450.8 302.6h0M450.8 293.6h0M450.8 291.3h0M450.8 289.1h0M450.8 286.8h0M450.8 284.5h0M450.8 282.3h0M450.8 277.8h0M451.6 343.3h0M451.6 311.7h0M451.6 309.4h0M451.6 307.1h0M451.6 302.6h0M451.6 300.4h0M451.6 298.1h0M451.6 295.8h0M451.6 291.3h0M451.6 289.1h0M451.6 286.8h0M451.6 282.3h0M451.6 280.0h0M451.6 277.8h0M453.1 323.0h0M453.1 320.7h0M453.1 318.4h0M453.1 313.9h0M453.1 311.7h0M453.1 304.9h0M453.1 302.6h0M453.1 293.6h0M453.1 289.1h0M453.1 286.8h0M453.1 284.5h0M453.8 325.2h0M453.8 323.0h0M453.8 320.7h0M453.8 313.9h0M453.8 311.7h0M453.8 309.4h0M453.8 298.1h0M453.8 293.6h0M453.8 291.3h0M453.8 289.1h0M453.8 286.8h0M453.8 284.5h0M453.8 277.8h0M454.5 325.2h0M454.5 323.0h0M454.5 318.4h0M454.5 316.2h0M454.5 309.4h0M454.5 304.9h0M454.5 302.6h0M454.5 300.4h0M454.5 298.1h0M454.5 293.6h0M454.5 291.3h0M454.5 289.1h0M454.5 286.8h0M454.5 284.5h0M454.5 280.0h0M454.5 277.8h0M455.8 336.5h0M455.8 329.7h0M455.8 323.0h0M455.8 320.7h0M455.8 318.4h0M455.8 316.2h0M455.8 313.9h0M455.8 311.7h0M455.8 309.4h0M455.8 307.1h0M455.8 304.9h0M455.8 302.6h0M455.8 300.4h0M455.8 298.1h0M455.8 295.8h0M455.8 293.6h0M455.8 291.3h0M455.8 284.5h0M455.8 282.3h0M455.8 280.0h0M455.8 277.8h0M456.9 332.0h0M456.9 329.7h0M456.9 325.2h0M456.9 323.0h0M456.9 320.7h0M456.9 316.2h0M456.9 313.9h0M456.9 311.7h0M456.9 307.1h0M456.9 302.6h0M456.9 300.4h0M456.9 298.1h0M456.9 295.8h0M456.9 293.6h0M456.9 291.3h0M456.9 289.1h0M456.9 286.8h0M456.9 282.3h0M456.9 280.0h0M457.5 332.0h0M457.5 329.7h0M457.5 323.0h0M457.5 320.7h0M457.5 318.4h0M457.5 316.2h0M457.5 309.4h0M457.5 307.1h0M457.5 304.9h0M457.5 302.6h0M457.5 293.6h0M457.5 286.8h0M457.5 282.3h0M457.5 280.0h0M457.5 277.8h0M457.5 275.5h0M457.5 273.2h0M457.5 271.0h0M457.5 268.7h0M457.5 266.5h0M457.5 264.2h0M457.5 261.9h0M458.6 332.0h0M458.6 327.5h0M458.6 325.2h0M458.6 323.0h0M458.6 320.7h0M458.6 318.4h0M458.6 309.4h0M458.6 307.1h0M458.6 300.4h0M458.6 298.1h0M458.6 295.8h0M458.6 293.6h0M458.6 291.3h0M458.6 289.1h0M458.6 286.8h0M458.6 282.3h0M458.6 280.0h0M458.6 275.5h0M458.6 273.2h0M458.6 271.0h0M458.6 268.7h0M458.6 266.5h0M458.6 259.7h0M458.6 257.4h0M459.8 329.7h0M459.8 325.2h0M459.8 323.0h0M459.8 320.7h0M459.8 318.4h0M459.8 316.2h0M459.8 313.9h0M459.8 311.7h0M459.8 309.4h0M459.8 302.6h0M459.8 300.4h0M459.8 295.8h0M459.8 293.6h0M459.8 289.1h0M459.8 286.8h0M459.8 284.5h0M459.8 282.3h0M459.8 280.0h0M459.8 277.8h0M459.8 275.5h0M459.8 273.2h0M459.8 271.0h0M460.5 329.7h0M460.5 327.5h0M460.5 325.2h0M460.5 323.0h0M460.5 320.7h0M460.5 318.4h0M460.5 313.9h0M460.5 311.7h0M460.5 304.9h0M460.5 302.6h0M460.5 298.1h0M460.5 295.8h0M460.5 293.6h0M460.5 289.1h0M460.5 286.8h0M460.5 284.5h0M460.5 282.3h0M460.5 280.0h0M460.5 273.2h0M460.5 271.0h0M461.9 327.5h0M461.9 325.2h0M461.9 323.0h0M461.9 320.7h0M461.9 318.4h0M461.9 316.2h0M461.9 311.7h0M461.9 307.1h0M461.9 304.9h0M461.9 302.6h0M461.9 295.8h0M461.9 293.6h0M461.9 291.3h0M461.9 289.1h0M461.9 286.8h0M461.9 284.5h0M461.9 282.3h0M461.9 280.0h0M461.9 271.0h0M461.9 268.7h0M461.9 266.5h0M462.6 338.8h0M462.6 329.7h0M462.6 327.5h0M462.6 320.7h0M462.6 318.4h0M462.6 316.2h0M462.6 313.9h0M462.6 311.7h0M462.6 309.4h0M462.6 304.9h0M462.6 302.6h0M462.6 298.1h0M462.6 295.8h0M462.6 293.6h0M462.6 289.1h0M462.6 286.8h0M462.6 282.3h0M462.6 280.0h0M462.6 277.8h0M462.6 275.5h0M462.6 273.2h0M462.6 271.0h0M462.6 268.7h0M463.7 341.0h0M463.7 332.0h0M463.7 327.5h0M463.7 325.2h0M463.7 323.0h0M463.7 320.7h0M463.7 316.2h0M463.7 313.9h0M463.7 309.4h0M463.7 304.9h0M463.7 302.6h0M463.7 300.4h0M463.7 295.8h0M463.7 293.6h0M463.7 291.3h0M463.7 289.1h0M463.7 286.8h0M463.7 280.0h0M463.7 277.8h0M463.7 275.5h0M463.7 271.0h0M463.7 264.2h0M464.8 334.3h0M464.8 329.7h0M464.8 323.0h0M464.8 313.9h0M464.8 304.9h0M464.8 302.6h0M464.8 298.1h0M464.8 291.3h0M464.8 286.8h0M464.8 282.3h0M464.8 280.0h0M464.8 277.8h0M464.8 271.0h0M464.8 268.7h0M465.7 341.0h0M465.7 332.0h0M465.7 327.5h0M465.7 323.0h0M465.7 320.7h0M465.7 318.4h0M465.7 316.2h0M465.7 313.9h0M465.7 311.7h0M465.7 307.1h0M465.7 304.9h0M465.7 302.6h0M465.7 300.4h0M465.7 286.8h0M465.7 284.5h0M465.7 275.5h0M466.8 343.3h0M466.8 338.8h0M466.8 334.3h0M466.8 329.7h0M466.8 327.5h0M466.8 323.0h0M466.8 320.7h0M466.8 313.9h0M466.8 311.7h0M466.8 309.4h0M466.8 307.1h0M466.8 304.9h0M466.8 300.4h0M466.8 298.1h0M466.8 295.8h0M466.8 293.6h0M466.8 291.3h0M466.8 289.1h0M466.8 286.8h0M466.8 282.3h0M466.8 280.0h0M466.8 277.8h0M466.8 275.5h0M466.8 273.2h0M466.8 271.0h0M467.8 343.3h0M467.8 336.5h0M467.8 332.0h0M467.8 329.7h0M467.8 327.5h0M467.8 325.2h0M467.8 323.0h0M467.8 320.7h0M467.8 316.2h0M467.8 313.9h0M467.8 311.7h0M467.8 309.4h0M467.8 307.1h0M467.8 304.9h0M467.8 302.6h0M467.8 300.4h0M467.8 298.1h0M467.8 295.8h0M467.8 289.1h0M467.8 286.8h0M467.8 284.5h0M467.8 282.3h0M467.8 280.0h0M467.8 277.8h0M467.8 271.0h0M468.7 350.1h0M468.7 345.6h0M468.7 343.3h0M468.7 341.0h0M468.7 338.8h0M468.7 336.5h0M468.7 334.3h0M468.7 332.0h0M468.7 327.5h0M468.7 325.2h0M468.7 323.0h0M468.7 320.7h0M468.7 318.4h0M468.7 316.2h0M468.7 313.9h0M468.7 311.7h0M468.7 307.1h0M468.7 304.9h0M468.7 300.4h0M468.7 298.1h0M468.7 295.8h0M468.7 293.6h0M468.7 289.1h0M468.7 286.8h0M468.7 284.5h0M468.7 282.3h0M468.7 280.0h0M468.7 277.8h0M468.7 275.5h0M468.7 273.2h0M468.7 268.7h0M469.9 352.3h0M469.9 345.6h0M469.9 343.3h0M469.9 341.0h0M469.9 338.8h0M469.9 336.5h0M469.9 334.3h0M469.9 329.7h0M469.9 327.5h0M469.9 325.2h0M469.9 323.0h0M469.9 320.7h0M469.9 318.4h0M469.9 313.9h0M469.9 311.7h0M469.9 309.4h0M469.9 307.1h0M469.9 304.9h0M469.9 302.6h0M469.9 300.4h0M469.9 298.1h0M469.9 295.8h0M469.9 293.6h0M469.9 284.5h0M469.9 282.3h0M469.9 280.0h0M469.9 277.8h0M469.9 273.2h0M469.9 271.0h0M469.9 268.7h0M470.9 352.3h0M470.9 345.6h0M470.9 338.8h0M470.9 336.5h0M470.9 334.3h0M470.9 332.0h0M470.9 329.7h0M470.9 327.5h0M470.9 323.0h0M470.9 320.7h0M470.9 311.7h0M470.9 309.4h0M470.9 307.1h0M470.9 304.9h0M470.9 302.6h0M470.9 295.8h0M470.9 293.6h0M470.9 291.3h0M470.9 289.1h0M470.9 286.8h0M470.9 284.5h0M470.9 282.3h0M470.9 280.0h0M470.9 277.8h0M470.9 273.2h0M470.9 271.0h0M471.8 327.5h0M471.8 325.2h0M471.8 323.0h0M471.8 318.4h0M471.8 316.2h0M471.8 311.7h0M471.8 304.9h0M471.8 302.6h0M471.8 300.4h0M471.8 298.1h0M471.8 295.8h0M471.8 293.6h0M471.8 291.3h0M471.8 289.1h0M471.8 284.5h0M471.8 282.3h0M471.8 280.0h0M471.8 277.8h0M471.8 275.5h0M471.8 273.2h0M471.8 264.2h0M472.8 332.0h0M472.8 327.5h0M472.8 325.2h0M472.8 323.0h0M472.8 320.7h0M472.8 318.4h0M472.8 313.9h0M472.8 307.1h0M472.8 304.9h0M472.8 300.4h0M472.8 295.8h0M472.8 291.3h0M472.8 289.1h0M472.8 286.8h0M472.8 284.5h0M472.8 282.3h0M472.8 280.0h0M472.8 277.8h0M472.8 273.2h0M473.7 338.8h0M473.7 336.5h0M473.7 327.5h0M473.7 320.7h0M473.7 318.4h0M473.7 316.2h0M473.7 309.4h0M473.7 307.1h0M473.7 304.9h0M473.7 302.6h0M473.7 300.4h0M473.7 298.1h0M473.7 293.6h0M473.7 291.3h0M473.7 289.1h0M473.7 286.8h0M473.7 282.3h0M473.7 277.8h0M473.7 275.5h0M473.7 271.0h0M474.5 332.0h0M474.5 325.2h0M474.5 323.0h0M474.5 320.7h0M474.5 318.4h0M474.5 316.2h0M474.5 307.1h0M474.5 304.9h0M474.5 302.6h0M474.5 298.1h0M474.5 295.8h0M474.5 293.6h0M476.0 379.5h0M476.0 377.2h0M476.0 374.9h0M476.0 370.4h0M476.0 365.9h0M476.0 363.6h0M476.0 361.4h0M476.0 356.9h0M476.0 354.6h0M476.0 345.6h0M476.0 338.8h0M476.0 336.5h0M476.0 334.3h0M476.0 332.0h0M476.0 327.5h0M476.0 323.0h0M476.0 320.7h0M476.0 318.4h0M476.0 313.9h0M476.0 311.7h0M476.0 307.1h0M476.0 304.9h0M476.0 302.6h0M476.0 300.4h0M476.0 298.1h0M476.0 293.6h0M476.7 390.8h0M476.7 384.0h0M476.7 381.7h0M476.7 379.5h0M476.7 377.2h0M476.7 372.7h0M476.7 370.4h0M476.7 368.2h0M476.7 363.6h0M476.7 361.4h0M476.7 356.9h0M476.7 354.6h0M476.7 352.3h0M476.7 350.1h0M476.7 347.8h0M476.7 345.6h0M476.7 343.3h0M476.7 341.0h0M476.7 336.5h0M476.7 334.3h0M476.7 329.7h0M476.7 327.5h0M476.7 325.2h0M476.7 323.0h0M476.7 320.7h0M476.7 318.4h0M476.7 316.2h0M476.7 313.9h0M476.7 309.4h0M476.7 307.1h0M476.7 304.9h0M476.7 302.6h0M476.7 298.1h0M476.7 295.8h0M476.7 293.6h0M476.7 286.8h0M478.1 345.6h0M478.1 338.8h0M478.1 332.0h0M478.1 329.7h0M478.1 327.5h0M478.1 325.2h0M478.1 323.0h0M478.1 320.7h0M478.1 318.4h0M478.1 311.7h0M478.1 309.4h0M478.1 307.1h0M478.1 304.9h0M478.1 302.6h0M478.1 300.4h0M478.1 298.1h0M478.1 295.8h0M478.1 291.3h0M478.1 289.1h0M478.1 286.8h0M478.6 325.2h0M478.6 320.7h0M478.6 316.2h0M478.6 311.7h0M478.6 309.4h0M478.6 307.1h0M478.6 304.9h0M478.6 302.6h0M478.6 300.4h0M478.6 298.1h0M478.6 293.6h0M478.6 291.3h0M478.6 289.1h0M478.6 282.3h0M479.9 325.2h0M479.9 323.0h0M479.9 318.4h0M479.9 316.2h0M479.9 313.9h0M479.9 311.7h0M479.9 309.4h0M479.9 307.1h0M479.9 304.9h0M479.9 300.4h0M479.9 298.1h0M479.9 295.8h0M479.9 293.6h0M479.9 291.3h0M479.9 289.1h0M479.9 286.8h0M480.7 325.2h0M480.7 323.0h0M480.7 320.7h0M480.7 318.4h0M480.7 316.2h0M480.7 313.9h0M480.7 311.7h0M480.7 309.4h0M480.7 307.1h0M480.7 304.9h0M480.7 300.4h0M480.7 295.8h0M480.7 291.3h0M480.7 289.1h0M480.7 286.8h0M481.6 325.2h0M481.6 318.4h0M481.6 316.2h0M481.6 307.1h0M481.6 304.9h0M481.6 302.6h0M481.6 300.4h0M481.6 298.1h0M481.6 295.8h0M481.6 291.3h0M481.6 289.1h0M481.6 284.5h0M481.6 282.3h0M481.6 280.0h0M482.6 329.7h0M482.6 325.2h0M482.6 320.7h0M482.6 318.4h0M482.6 313.9h0M482.6 309.4h0M482.6 307.1h0M482.6 302.6h0M482.6 300.4h0M482.6 295.8h0M482.6 291.3h0M482.6 289.1h0M482.6 282.3h0M483.6 334.3h0M483.6 325.2h0M483.6 323.0h0M483.6 320.7h0M483.6 318.4h0M483.6 316.2h0M483.6 313.9h0M483.6 311.7h0M483.6 309.4h0M483.6 307.1h0M483.6 302.6h0M483.6 300.4h0M483.6 293.6h0M483.6 289.1h0M483.6 286.8h0M483.6 284.5h0M483.6 280.0h0M483.6 277.8h0M483.6 275.5h0M484.9 329.7h0M484.9 323.0h0M484.9 316.2h0M484.9 313.9h0M484.9 311.7h0M484.9 309.4h0M484.9 307.1h0M484.9 300.4h0M484.9 298.1h0M484.9 295.8h0M484.9 293.6h0M484.9 291.3h0M484.9 280.0h0M485.8 336.5h0M485.8 334.3h0M485.8 325.2h0M485.8 323.0h0M485.8 318.4h0M485.8 313.9h0M485.8 309.4h0M485.8 304.9h0M485.8 302.6h0M485.8 300.4h0M485.8 298.1h0M485.8 295.8h0M485.8 293.6h0M485.8 291.3h0M485.8 286.8h0M485.8 280.0h0M485.8 277.8h0M486.9 336.5h0M486.9 334.3h0M486.9 332.0h0M486.9 329.7h0M486.9 327.5h0M486.9 325.2h0M486.9 323.0h0M486.9 318.4h0M486.9 316.2h0M486.9 313.9h0M486.9 309.4h0M486.9 307.1h0M486.9 304.9h0M486.9 302.6h0M486.9 300.4h0M486.9 298.1h0M486.9 295.8h0M486.9 293.6h0M486.9 291.3h0M486.9 289.1h0M486.9 286.8h0M486.9 284.5h0M486.9 282.3h0M486.9 280.0h0M486.9 277.8h0M487.9 347.8h0M487.9 329.7h0M487.9 327.5h0M487.9 325.2h0M487.9 323.0h0M487.9 318.4h0M487.9 313.9h0M487.9 311.7h0M487.9 309.4h0M487.9 302.6h0M487.9 300.4h0M487.9 298.1h0M487.9 293.6h0M487.9 291.3h0M487.9 289.1h0M487.9 286.8h0M487.9 284.5h0M487.9 282.3h0M487.9 280.0h0M487.9 277.8h0M487.9 275.5h0M488.7 327.5h0M488.7 323.0h0M488.7 320.7h0M488.7 318.4h0M488.7 316.2h0M488.7 309.4h0M488.7 307.1h0M488.7 304.9h0M488.7 302.6h0M488.7 300.4h0M488.7 295.8h0M488.7 291.3h0M488.7 289.1h0M488.7 286.8h0M488.7 284.5h0M488.7 282.3h0M488.7 280.0h0M488.7 277.8h0M490.1 329.7h0M490.1 327.5h0M490.1 323.0h0M490.1 318.4h0M490.1 313.9h0M490.1 311.7h0M490.1 309.4h0M490.1 307.1h0M490.1 304.9h0M490.1 298.1h0M490.1 295.8h0M490.1 293.6h0M490.1 291.3h0M490.1 286.8h0M490.1 284.5h0M490.1 280.0h0M490.1 277.8h0M490.7 327.5h0M490.7 325.2h0M490.7 318.4h0M490.7 316.2h0M490.7 313.9h0M490.7 311.7h0M490.7 309.4h0M490.7 307.1h0M490.7 304.9h0M490.7 302.6h0M490.7 300.4h0M490.7 298.1h0M490.7 295.8h0M490.7 293.6h0M490.7 289.1h0M490.7 286.8h0M490.7 284.5h0M490.7 282.3h0M491.6 329.7h0M491.6 327.5h0M491.6 323.0h0M491.6 320.7h0M491.6 318.4h0M491.6 313.9h0M491.6 307.1h0M491.6 300.4h0M491.6 298.1h0M491.6 295.8h0M491.6 291.3h0M491.6 289.1h0M491.6 286.8h0M491.6 284.5h0M491.6 282.3h0M491.6 280.0h0M491.6 277.8h0M491.6 275.5h0M492.6 329.7h0M492.6 325.2h0M492.6 323.0h0M492.6 320.7h0M492.6 318.4h0M492.6 311.7h0M492.6 309.4h0M492.6 307.1h0M492.6 304.9h0M492.6 295.8h0M492.6 293.6h0M492.6 289.1h0M492.6 280.0h0M492.6 277.8h0M493.6 325.2h0M493.6 320.7h0M493.6 318.4h0M493.6 316.2h0M493.6 313.9h0M493.6 309.4h0M493.6 307.1h0M493.6 304.9h0M493.6 302.6h0M493.6 300.4h0M493.6 298.1h0M493.6 295.8h0M493.6 293.6h0M493.6 291.3h0M493.6 289.1h0M493.6 286.8h0M493.6 284.5h0M493.6 282.3h0M493.6 277.8h0M494.7 318.4h0M494.7 313.9h0M494.7 311.7h0M494.7 302.6h0M494.7 300.4h0M494.7 298.1h0M494.7 295.8h0M494.7 289.1h0M494.7 286.8h0M494.7 284.5h0M494.7 282.3h0M494.7 280.0h0M495.9 329.7h0M495.9 327.5h0M495.9 318.4h0M495.9 316.2h0M495.9 313.9h0M495.9 311.7h0M495.9 302.6h0M495.9 300.4h0M495.9 298.1h0M495.9 295.8h0M495.9 291.3h0M495.9 289.1h0M495.9 286.8h0M495.9 284.5h0M495.9 282.3h0M495.9 280.0h0M495.9 277.8h0M496.7 336.5h0M496.7 327.5h0M496.7 325.2h0M496.7 323.0h0M496.7 313.9h0M496.7 311.7h0M496.7 304.9h0M496.7 302.6h0M496.7 300.4h0M496.7 295.8h0M496.7 286.8h0M496.7 284.5h0M496.7 282.3h0M496.7 271.0h0M497.7 327.5h0M497.7 325.2h0M497.7 323.0h0M497.7 320.7h0M497.7 318.4h0M497.7 316.2h0M497.7 313.9h0M497.7 309.4h0M497.7 307.1h0M497.7 300.4h0M497.7 298.1h0M497.7 295.8h0M497.7 293.6h0M497.7 291.3h0M497.7 289.1h0M497.7 286.8h0M497.7 284.5h0M497.7 282.3h0M497.7 280.0h0M497.7 277.8h0M497.7 275.5h0M497.7 271.0h0M499.0 327.5h0M499.0 323.0h0M499.0 318.4h0M499.0 316.2h0M499.0 313.9h0M499.0 311.7h0M499.0 309.4h0M499.0 307.1h0M499.0 304.9h0M499.0 302.6h0M499.0 300.4h0M499.0 298.1h0M499.0 295.8h0M499.0 293.6h0M499.0 286.8h0M499.0 284.5h0M499.0 282.3h0M499.0 280.0h0M499.0 277.8h0M499.0 275.5h0M499.0 273.2h0M499.0 271.0h0M499.0 268.7h0M500.0 327.5h0M500.0 325.2h0M500.0 320.7h0M500.0 318.4h0M500.0 316.2h0M500.0 313.9h0M500.0 311.7h0M500.0 309.4h0M500.0 302.6h0M500.0 300.4h0M500.0 298.1h0M500.0 295.8h0M500.0 293.6h0M500.0 291.3h0M500.0 286.8h0M500.0 284.5h0M500.0 282.3h0M500.0 280.0h0M500.0 275.5h0M500.0 273.2h0M500.0 271.0h0M501.1 329.7h0M501.1 323.0h0M501.1 318.4h0M501.1 311.7h0M501.1 307.1h0M501.1 304.9h0M501.1 302.6h0M501.1 300.4h0M501.1 293.6h0M501.1 284.5h0M501.1 282.3h0M501.1 280.0h0M501.1 277.8h0M501.1 273.2h0M501.9 320.7h0M501.9 318.4h0M501.9 316.2h0M501.9 311.7h0M501.9 307.1h0M501.9 300.4h0M501.9 298.1h0M501.9 295.8h0M501.9 293.6h0M501.9 291.3h0M501.9 289.1h0M501.9 286.8h0M501.9 284.5h0M501.9 280.0h0M501.9 275.5h0M501.9 273.2h0M502.6 320.7h0M502.6 318.4h0M502.6 311.7h0M502.6 309.4h0M502.6 307.1h0M502.6 304.9h0M502.6 302.6h0M502.6 298.1h0M502.6 295.8h0M502.6 293.6h0M502.6 289.1h0M502.6 284.5h0M502.6 277.8h0M502.6 275.5h0M503.5 327.5h0M503.5 323.0h0M503.5 320.7h0M503.5 318.4h0M503.5 316.2h0M503.5 313.9h0M503.5 311.7h0M503.5 309.4h0M503.5 304.9h0M503.5 302.6h0M503.5 300.4h0M503.5 298.1h0M503.5 295.8h0M503.5 291.3h0M503.5 286.8h0M503.5 284.5h0M503.5 277.8h0M503.5 275.5h0M503.5 273.2h0M504.8 327.5h0M504.8 325.2h0M504.8 320.7h0M504.8 318.4h0M504.8 316.2h0M504.8 313.9h0M504.8 309.4h0M504.8 304.9h0M504.8 302.6h0M504.8 300.4h0M504.8 298.1h0M504.8 295.8h0M504.8 293.6h0M504.8 289.1h0M504.8 286.8h0M504.8 284.5h0M504.8 282.3h0M504.8 277.8h0M504.8 275.5h0M504.8 273.2h0M504.8 271.0h0M505.5 325.2h0M505.5 323.0h0M505.5 318.4h0M505.5 309.4h0M505.5 307.1h0M505.5 300.4h0M505.5 291.3h0M505.5 286.8h0M505.5 284.5h0M505.5 282.3h0M505.5 280.0h0M505.5 277.8h0M505.5 275.5h0M506.7 334.3h0M506.7 329.7h0M506.7 327.5h0M506.7 323.0h0M506.7 316.2h0M506.7 313.9h0M506.7 311.7h0M506.7 304.9h0M506.7 302.6h0M506.7 300.4h0M506.7 298.1h0M506.7 295.8h0M506.7 293.6h0M506.7 291.3h0M506.7 289.1h0M506.7 286.8h0M506.7 284.5h0M506.7 282.3h0M506.7 277.8h0M506.7 275.5h0M506.7 268.7h0M507.7 327.5h0M507.7 325.2h0M507.7 323.0h0M507.7 320.7h0M507.7 316.2h0M507.7 309.4h0M507.7 307.1h0M507.7 302.6h0M507.7 300.4h0M507.7 298.1h0M507.7 295.8h0M507.7 293.6h0M507.7 289.1h0M507.7 286.8h0M507.7 284.5h0M507.7 282.3h0M507.7 280.0h0M507.7 277.8h0M507.7 273.2h0M508.8 325.2h0M508.8 323.0h0M508.8 320.7h0M508.8 316.2h0M508.8 313.9h0M508.8 307.1h0M508.8 304.9h0M508.8 300.4h0M508.8 295.8h0M508.8 293.6h0M508.8 291.3h0M508.8 286.8h0M508.8 284.5h0M508.8 280.0h0M508.8 277.8h0M508.8 275.5h0M508.8 273.2h0M508.8 271.0h0M510.1 327.5h0M510.1 318.4h0M510.1 316.2h0M510.1 313.9h0M510.1 307.1h0M510.1 304.9h0M510.1 302.6h0M510.1 298.1h0M510.1 295.8h0M510.1 293.6h0M510.1 289.1h0M510.1 286.8h0M510.1 282.3h0M510.1 280.0h0M510.1 277.8h0M510.1 275.5h0M510.1 271.0h0M510.9 336.5h0M510.9 327.5h0M510.9 325.2h0M510.9 318.4h0M510.9 316.2h0M510.9 313.9h0M510.9 311.7h0M510.9 309.4h0M510.9 304.9h0M510.9 300.4h0M510.9 298.1h0M510.9 295.8h0M510.9 293.6h0M510.9 286.8h0M510.9 284.5h0M510.9 282.3h0M510.9 280.0h0M510.9 277.8h0M510.9 275.5h0M510.9 271.0h0M510.9 268.7h0M511.6 327.5h0M511.6 325.2h0M511.6 323.0h0M511.6 320.7h0M511.6 318.4h0M511.6 311.7h0M511.6 309.4h0M511.6 307.1h0M511.6 304.9h0M511.6 302.6h0M511.6 298.1h0M511.6 293.6h0M511.6 291.3h0M511.6 289.1h0M511.6 286.8h0M511.6 284.5h0M511.6 282.3h0M511.6 280.0h0M511.6 277.8h0M511.6 275.5h0M511.6 273.2h0M511.6 271.0h0M511.6 266.5h0M512.6 329.7h0M512.6 327.5h0M512.6 325.2h0M512.6 323.0h0M512.6 320.7h0M512.6 318.4h0M512.6 316.2h0M512.6 313.9h0M512.6 311.7h0M512.6 309.4h0M512.6 307.1h0M512.6 302.6h0M512.6 300.4h0M512.6 298.1h0M512.6 295.8h0M512.6 291.3h0M512.6 289.1h0M512.6 286.8h0M512.6 284.5h0M512.6 282.3h0M512.6 280.0h0M512.6 277.8h0M512.6 275.5h0M512.6 273.2h0M513.7 334.3h0M513.7 329.7h0M513.7 325.2h0M513.7 320.7h0M513.7 313.9h0M513.7 307.1h0M513.7 302.6h0M513.7 298.1h0M513.7 291.3h0M513.7 289.1h0M513.7 286.8h0M513.7 282.3h0M513.7 280.0h0M513.7 277.8h0M513.7 275.5h0M513.7 273.2h0M514.5 332.0h0M514.5 329.7h0M514.5 327.5h0M514.5 325.2h0M514.5 323.0h0M514.5 320.7h0M514.5 318.4h0M514.5 313.9h0M514.5 309.4h0M514.5 304.9h0M514.5 302.6h0M514.5 300.4h0M514.5 295.8h0M514.5 293.6h0M514.5 291.3h0M514.5 289.1h0M514.5 284.5h0M514.5 282.3h0M514.5 280.0h0M516.0 327.5h0M516.0 323.0h0M516.0 320.7h0M516.0 316.2h0M516.0 311.7h0M516.0 309.4h0M516.0 307.1h0M516.0 304.9h0M516.0 302.6h0M516.0 298.1h0M516.0 295.8h0M516.0 293.6h0M516.0 291.3h0M516.0 289.1h0M516.0 286.8h0M516.9 332.0h0M516.9 327.5h0M516.9 325.2h0M516.9 318.4h0M516.9 316.2h0M516.9 311.7h0M516.9 309.4h0M516.9 307.1h0M516.9 304.9h0M516.9 302.6h0M516.9 300.4h0M516.9 298.1h0M516.9 295.8h0M516.9 293.6h0M516.9 291.3h0M516.9 289.1h0M517.8 338.8h0M517.8 336.5h0M517.8 334.3h0M517.8 329.7h0M517.8 325.2h0M517.8 313.9h0M517.8 307.1h0M517.8 304.9h0M517.8 302.6h0M517.8 300.4h0M517.8 298.1h0M517.8 295.8h0M517.8 293.6h0M517.8 291.3h0M517.8 284.5h0M517.8 282.3h0M517.8 280.0h0M518.5 329.7h0M518.5 325.2h0M518.5 320.7h0M518.5 313.9h0M518.5 311.7h0M518.5 309.4h0M518.5 307.1h0M518.5 304.9h0M518.5 302.6h0M518.5 300.4h0M518.5 293.6h0M518.5 291.3h0M518.5 286.8h0M518.5 284.5h0M518.5 282.3h0M518.5 280.0h0M519.6 329.7h0M519.6 327.5h0M519.6 323.0h0M519.6 320.7h0M519.6 318.4h0M519.6 309.4h0M519.6 307.1h0M519.6 304.9h0M519.6 302.6h0M519.6 300.4h0M519.6 298.1h0M519.6 295.8h0M519.6 291.3h0M519.6 284.5h0M519.6 282.3h0M520.5 329.7h0M520.5 325.2h0M520.5 323.0h0M520.5 318.4h0M520.5 316.2h0M520.5 313.9h0M520.5 311.7h0M520.5 309.4h0M520.5 307.1h0M520.5 302.6h0M520.5 300.4h0M520.5 298.1h0M520.5 295.8h0M520.5 293.6h0M520.5 289.1h0M520.5 286.8h0M520.5 284.5h0M520.5 282.3h0M520.5 277.8h0M520.5 275.5h0M521.5 332.0h0M521.5 329.7h0M521.5 323.0h0M521.5 320.7h0M521.5 318.4h0M521.5 311.7h0M521.5 309.4h0M521.5 307.1h0M521.5 304.9h0M521.5 302.6h0M521.5 300.4h0M521.5 295.8h0M521.5 293.6h0M521.5 291.3h0M521.5 289.1h0M521.5 286.8h0M521.5 284.5h0M521.5 282.3h0M521.5 280.0h0M521.5 273.2h0M522.6 338.8h0M522.6 332.0h0M522.6 325.2h0M522.6 323.0h0M522.6 320.7h0M522.6 318.4h0M522.6 311.7h0M522.6 307.1h0M522.6 304.9h0M522.6 302.6h0M522.6 298.1h0M522.6 295.8h0M522.6 293.6h0M522.6 289.1h0M522.6 286.8h0M522.6 284.5h0M522.6 282.3h0M523.5 338.8h0M523.5 336.5h0M523.5 332.0h0M523.5 325.2h0M523.5 323.0h0M523.5 320.7h0M523.5 318.4h0M523.5 316.2h0M523.5 313.9h0M523.5 309.4h0M523.5 307.1h0M523.5 304.9h0M523.5 302.6h0M523.5 300.4h0M523.5 298.1h0M523.5 293.6h0M523.5 291.3h0M523.5 289.1h0M523.5 284.5h0M523.5 282.3h0M523.5 280.0h0M524.6 390.8h0M524.6 381.7h0M524.6 379.5h0M524.6 377.2h0M524.6 374.9h0M524.6 370.4h0M524.6 368.2h0M524.6 365.9h0M524.6 363.6h0M524.6 356.9h0M524.6 354.6h0M524.6 352.3h0M524.6 347.8h0M524.6 345.6h0M524.6 343.3h0M524.6 341.0h0M524.6 338.8h0M524.6 329.7h0M524.6 327.5h0M524.6 325.2h0M524.6 320.7h0M524.6 318.4h0M524.6 316.2h0M524.6 313.9h0M524.6 309.4h0M524.6 307.1h0M524.6 304.9h0M524.6 298.1h0M524.6 293.6h0M524.6 289.1h0M524.6 282.3h0M524.6 277.8h0M524.6 275.5h0M525.6 388.5h0M525.6 384.0h0M525.6 381.7h0M525.6 379.5h0M525.6 374.9h0M525.6 368.2h0M525.6 365.9h0M525.6 363.6h0M525.6 361.4h0M525.6 356.9h0M525.6 352.3h0M525.6 345.6h0M525.6 343.3h0M525.6 341.0h0M525.6 338.8h0M525.6 336.5h0M525.6 332.0h0M525.6 327.5h0M525.6 325.2h0M525.6 323.0h0M525.6 320.7h0M525.6 316.2h0M525.6 313.9h0M525.6 311.7h0M525.6 307.1h0M525.6 304.9h0M525.6 302.6h0M525.6 298.1h0M525.6 295.8h0M525.6 293.6h0M525.6 291.3h0M525.6 289.1h0M525.6 286.8h0M525.6 284.5h0M525.6 282.3h0M525.6 280.0h0M525.6 277.8h0M525.6 275.5h0M526.7 384.0h0M526.7 377.2h0M526.7 370.4h0M526.7 365.9h0M526.7 359.1h0M526.7 356.9h0M526.7 354.6h0M526.7 352.3h0M526.7 350.1h0M526.7 345.6h0M526.7 338.8h0M526.7 334.3h0M526.7 332.0h0M526.7 329.7h0M526.7 327.5h0M526.7 323.0h0M526.7 320.7h0M526.7 318.4h0M526.7 316.2h0M526.7 313.9h0M526.7 311.7h0M526.7 309.4h0M526.7 304.9h0M526.7 302.6h0M526.7 300.4h0M526.7 295.8h0M526.7 293.6h0M526.7 289.1h0M526.7 284.5h0M526.7 282.3h0M526.7 280.0h0M526.7 277.8h0M526.7 275.5h0M526.7 273.2h0M526.7 271.0h0M527.6 384.0h0M527.6 381.7h0M527.6 379.5h0M527.6 377.2h0M527.6 374.9h0M527.6 370.4h0M527.6 368.2h0M527.6 365.9h0M527.6 359.1h0M527.6 356.9h0M527.6 352.3h0M527.6 350.1h0M527.6 347.8h0M527.6 345.6h0M527.6 341.0h0M527.6 334.3h0M527.6 332.0h0M527.6 329.7h0M527.6 327.5h0M527.6 325.2h0M527.6 323.0h0M527.6 320.7h0M527.6 318.4h0M527.6 316.2h0M527.6 311.7h0M527.6 309.4h0M527.6 307.1h0M527.6 304.9h0M527.6 302.6h0M527.6 300.4h0M527.6 298.1h0M527.6 295.8h0M527.6 293.6h0M527.6 291.3h0M527.6 286.8h0M527.6 284.5h0M527.6 282.3h0M527.6 280.0h0M527.6 277.8h0M527.6 275.5h0M527.6 273.2h0M529.0 388.5h0M529.0 381.7h0M529.0 379.5h0M529.0 377.2h0M529.0 370.4h0M529.0 368.2h0M529.0 365.9h0M529.0 363.6h0M529.0 356.9h0M529.0 352.3h0M529.0 350.1h0M529.0 347.8h0M529.0 343.3h0M529.0 338.8h0M529.0 336.5h0M529.0 334.3h0M529.0 332.0h0M529.0 329.7h0M529.0 327.5h0M529.0 325.2h0M529.0 320.7h0M529.0 318.4h0M529.0 316.2h0M529.0 311.7h0M529.0 307.1h0M529.0 304.9h0M529.0 300.4h0M529.0 298.1h0M529.0 295.8h0M529.0 293.6h0M529.0 291.3h0M529.0 286.8h0M529.0 282.3h0M529.5 381.7h0M529.5 374.9h0M529.5 372.7h0M529.5 363.6h0M529.5 361.4h0M529.5 359.1h0M529.5 356.9h0M529.5 350.1h0M529.5 347.8h0M529.5 336.5h0M529.5 334.3h0M529.5 332.0h0M529.5 329.7h0M529.5 327.5h0M529.5 325.2h0M529.5 323.0h0M529.5 320.7h0M529.5 318.4h0M529.5 316.2h0M529.5 311.7h0M529.5 309.4h0M529.5 300.4h0M529.5 298.1h0M529.5 293.6h0M529.5 291.3h0M529.5 289.1h0M530.7 298.1h0M530.7 295.8h0M530.7 293.6h0M530.7 291.3h0M530.7 289.1h0M531.8 298.1h0M531.8 295.8h0M531.8 293.6h0M531.8 291.3h0M531.8 289.1h0M531.8 286.8h0M531.8 282.3h0M532.9 300.4h0M532.9 295.8h0M532.9 293.6h0M532.9 291.3h0M532.9 289.1h0M533.7 307.1h0M533.7 300.4h0M533.7 298.1h0M533.7 295.8h0M533.7 293.6h0M533.7 291.3h0M533.7 289.1h0M533.7 286.8h0M533.7 284.5h0M533.7 282.3h0M533.7 280.0h0M533.7 277.8h0M533.7 275.5h0M533.7 273.2h0M533.7 271.0h0M533.7 268.7h0M533.7 266.5h0M534.7 304.9h0M534.7 302.6h0M534.7 298.1h0M534.7 295.8h0M534.7 291.3h0M534.7 286.8h0M534.7 284.5h0M534.7 280.0h0M534.7 277.8h0M534.7 273.2h0M534.7 268.7h0M535.8 313.9h0M535.8 302.6h0M535.8 300.4h0M535.8 295.8h0M535.8 293.6h0M535.8 291.3h0M535.8 286.8h0M535.8 284.5h0M535.8 280.0h0M535.8 277.8h0M535.8 275.5h0M535.8 273.2h0M535.8 271.0h0M535.8 268.7h0M535.8 264.2h0M536.5 304.9h0M536.5 302.6h0M536.5 300.4h0M536.5 298.1h0M536.5 295.8h0M536.5 293.6h0M536.5 291.3h0M536.5 289.1h0M536.5 284.5h0M536.5 282.3h0M536.5 280.0h0M536.5 277.8h0M536.5 275.5h0M536.5 273.2h0M536.5 271.0h0M536.5 268.7h0M536.5 266.5h0M536.5 264.2h0M537.9 302.6h0M537.9 300.4h0M537.9 295.8h0M537.9 293.6h0M537.9 289.1h0M537.9 286.8h0M537.9 284.5h0M537.9 282.3h0M537.9 277.8h0M537.9 275.5h0M537.9 273.2h0M537.9 271.0h0M537.9 268.7h0M537.9 266.5h0M537.9 264.2h0M537.9 261.9h0M539.0 295.8h0M539.0 289.1h0M539.0 286.8h0M539.0 282.3h0M539.0 280.0h0M539.0 277.8h0M539.0 275.5h0M539.0 273.2h0M539.0 271.0h0M539.0 268.7h0M539.0 266.5h0M539.0 264.2h0M539.0 261.9h0M540.0 304.9h0M540.0 300.4h0M540.0 295.8h0M540.0 284.5h0M540.0 282.3h0M540.0 280.0h0M540.0 277.8h0M540.0 273.2h0M540.0 271.0h0M540.0 268.7h0M540.0 266.5h0M540.0 259.7h0M541.0 309.4h0M541.0 307.1h0M541.0 304.9h0M541.0 302.6h0M541.0 300.4h0M541.0 298.1h0M541.0 291.3h0M541.0 289.1h0M541.0 286.8h0M541.0 284.5h0M541.0 282.3h0M541.0 280.0h0M541.0 277.8h0M541.0 273.2h0M541.0 271.0h0M541.0 268.7h0M541.0 264.2h0M541.0 261.9h0M542.1 311.7h0M542.1 307.1h0M542.1 304.9h0M542.1 302.6h0M542.1 300.4h0M542.1 293.6h0M542.1 289.1h0M542.1 286.8h0M542.1 284.5h0M542.1 282.3h0M542.1 280.0h0M542.1 277.8h0M542.1 275.5h0M542.1 273.2h0M542.1 271.0h0M542.1 268.7h0M542.1 266.5h0M542.1 264.2h0M542.1 261.9h0M542.6 313.9h0M542.6 302.6h0M542.6 300.4h0M542.6 298.1h0M542.6 295.8h0M542.6 291.3h0M542.6 289.1h0M542.6 284.5h0M542.6 282.3h0M542.6 280.0h0M542.6 277.8h0M542.6 273.2h0M542.6 271.0h0M542.6 268.7h0M542.6 264.2h0M543.7 302.6h0M543.7 298.1h0M543.7 295.8h0M543.7 291.3h0M543.7 280.0h0M543.7 277.8h0M543.7 275.5h0M543.7 273.2h0M543.7 268.7h0M543.7 266.5h0M543.7 264.2h0M543.7 261.9h0M543.7 259.7h0M544.9 302.6h0M544.9 300.4h0M544.9 298.1h0M544.9 293.6h0M544.9 291.3h0M544.9 289.1h0M544.9 286.8h0M544.9 284.5h0M544.9 282.3h0M544.9 280.0h0M544.9 277.8h0M544.9 275.5h0M544.9 273.2h0M544.9 271.0h0M544.9 266.5h0M544.9 264.2h0M544.9 261.9h0M545.9 302.6h0M545.9 300.4h0M545.9 298.1h0M545.9 295.8h0M545.9 291.3h0M545.9 289.1h0M545.9 286.8h0M545.9 284.5h0M545.9 280.0h0M545.9 275.5h0M545.9 273.2h0M545.9 271.0h0M545.9 266.5h0M545.9 261.9h0M547.0 304.9h0M547.0 295.8h0M547.0 293.6h0M547.0 291.3h0M547.0 289.1h0M547.0 286.8h0M547.0 282.3h0M547.0 280.0h0M547.0 273.2h0M547.0 271.0h0M547.0 268.7h0M547.0 266.5h0M547.0 264.2h0M547.0 259.7h0M547.8 365.9h0M547.8 363.6h0M547.8 361.4h0M547.8 356.9h0M547.8 354.6h0M547.8 345.6h0M547.8 338.8h0M547.8 336.5h0M547.8 332.0h0M547.8 329.7h0M547.8 325.2h0M547.8 323.0h0M547.8 320.7h0M547.8 316.2h0M547.8 313.9h0M547.8 311.7h0M547.8 302.6h0M547.8 300.4h0M547.8 298.1h0M547.8 295.8h0M547.8 293.6h0M547.8 286.8h0M547.8 284.5h0M547.8 282.3h0M547.8 280.0h0M547.8 277.8h0M547.8 273.2h0M547.8 271.0h0M547.8 268.7h0M547.8 266.5h0M547.8 264.2h0M547.8 261.9h0M547.8 257.4h0M548.7 359.1h0M548.7 356.9h0M548.7 354.6h0M548.7 345.6h0M548.7 343.3h0M548.7 341.0h0M548.7 338.8h0M548.7 332.0h0M548.7 327.5h0M548.7 325.2h0M548.7 320.7h0M548.7 318.4h0M548.7 316.2h0M548.7 307.1h0M548.7 304.9h0M548.7 302.6h0M548.7 300.4h0M548.7 295.8h0M548.7 291.3h0M548.7 289.1h0M548.7 284.5h0M548.7 282.3h0M548.7 277.8h0M548.7 275.5h0M548.7 273.2h0M548.7 271.0h0M548.7 266.5h0M548.7 261.9h0M548.7 259.7h0M549.6 347.8h0M549.6 334.3h0M549.6 329.7h0M549.6 307.1h0M549.6 302.6h0M549.6 295.8h0M549.6 291.3h0M549.6 289.1h0M549.6 286.8h0M549.6 275.5h0M549.6 273.2h0M549.6 271.0h0M549.6 266.5h0M549.6 264.2h0M549.6 261.9h0M551.1 325.2h0M551.1 323.0h0M551.1 318.4h0M551.1 316.2h0M551.1 313.9h0M551.1 311.7h0M551.1 309.4h0M551.1 304.9h0M551.1 302.6h0M551.1 300.4h0M551.1 298.1h0M551.1 295.8h0M551.1 293.6h0M551.1 291.3h0M551.1 289.1h0M551.1 286.8h0M551.1 284.5h0M551.1 282.3h0M551.1 280.0h0M551.1 277.8h0M551.1 275.5h0M551.1 273.2h0M551.1 271.0h0M551.1 268.7h0M551.1 264.2h0M551.1 261.9h0M551.1 259.7h0M551.1 257.4h0M551.9 318.4h0M551.9 313.9h0M551.9 309.4h0M551.9 307.1h0M551.9 304.9h0M551.9 300.4h0M551.9 295.8h0M551.9 293.6h0M551.9 291.3h0M551.9 289.1h0M551.9 282.3h0M551.9 280.0h0M551.9 277.8h0M551.9 275.5h0M551.9 271.0h0M551.9 268.7h0M551.9 266.5h0M551.9 264.2h0M551.9 261.9h0M551.9 259.7h0M552.9 325.2h0M552.9 323.0h0M552.9 320.7h0M552.9 316.2h0M552.9 313.9h0M552.9 307.1h0M552.9 295.8h0M552.9 291.3h0M552.9 289.1h0M552.9 271.0h0M552.9 268.7h0M552.9 266.5h0M552.9 261.9h0M552.9 259.7h0M554.1 327.5h0M554.1 325.2h0M554.1 323.0h0M554.1 318.4h0M554.1 316.2h0M554.1 313.9h0M554.1 302.6h0M554.1 300.4h0M554.1 298.1h0M554.1 295.8h0M554.1 293.6h0M554.1 291.3h0M554.1 284.5h0M554.1 277.8h0M554.1 275.5h0M554.1 273.2h0M554.1 266.5h0M554.1 264.2h0M554.1 257.4h0M554.1 255.2h0M555.0 336.5h0M555.0 329.7h0M555.0 327.5h0M555.0 325.2h0M555.0 323.0h0M555.0 320.7h0M555.0 316.2h0M555.0 311.7h0M555.0 309.4h0M555.0 304.9h0M555.0 300.4h0M555.0 298.1h0M555.0 291.3h0M555.0 289.1h0M555.0 286.8h0M555.0 284.5h0M555.0 282.3h0M555.0 280.0h0M555.0 275.5h0M555.0 273.2h0M555.0 271.0h0M555.0 268.7h0M555.0 266.5h0M555.0 264.2h0M555.0 261.9h0M555.0 259.7h0M555.0 257.4h0M555.0 255.2h0M555.0 252.9h0M555.0 246.1h0M555.6 329.7h0M555.6 325.2h0M555.6 323.0h0M555.6 320.7h0M555.6 318.4h0M555.6 313.9h0M555.6 307.1h0M555.6 302.6h0M555.6 300.4h0M555.6 298.1h0M555.6 295.8h0M555.6 293.6h0M555.6 289.1h0M555.6 286.8h0M555.6 284.5h0M555.6 282.3h0M555.6 280.0h0M555.6 277.8h0M555.6 275.5h0M555.6 273.2h0M555.6 271.0h0M555.6 268.7h0M555.6 266.5h0M555.6 264.2h0M555.6 261.9h0M555.6 259.7h0M555.6 255.2h0M556.6 320.7h0M556.6 313.9h0M556.6 311.7h0M556.6 309.4h0M556.6 307.1h0M556.6 304.9h0M556.6 302.6h0M556.6 300.4h0M556.6 298.1h0M556.6 289.1h0M556.6 286.8h0M556.6 284.5h0M556.6 275.5h0M556.6 273.2h0M556.6 271.0h0M556.6 268.7h0M556.6 266.5h0M556.6 264.2h0M556.6 259.7h0M557.6 325.2h0M557.6 323.0h0M557.6 318.4h0M557.6 316.2h0M557.6 311.7h0M557.6 307.1h0M557.6 304.9h0M557.6 302.6h0M557.6 298.1h0M557.6 295.8h0M557.6 293.6h0M557.6 291.3h0M557.6 289.1h0M557.6 282.3h0M557.6 280.0h0M557.6 273.2h0M557.6 271.0h0M557.6 268.7h0M557.6 266.5h0M557.6 264.2h0M557.6 259.7h0M557.6 257.4h0M557.6 252.9h0M558.5 325.2h0M558.5 323.0h0M558.5 316.2h0M558.5 313.9h0M558.5 311.7h0M558.5 309.4h0M558.5 307.1h0M558.5 304.9h0M558.5 302.6h0M558.5 300.4h0M558.5 298.1h0M558.5 295.8h0M558.5 293.6h0M558.5 289.1h0M558.5 286.8h0M558.5 284.5h0M558.5 282.3h0M558.5 280.0h0M558.5 277.8h0M558.5 273.2h0M558.5 271.0h0M558.5 268.7h0M558.5 266.5h0M558.5 264.2h0M558.5 261.9h0M558.5 259.7h0M558.5 257.4h0M559.7 325.2h0M559.7 323.0h0M559.7 320.7h0M559.7 318.4h0M559.7 309.4h0M559.7 304.9h0M559.7 302.6h0M559.7 300.4h0M559.7 293.6h0M559.7 291.3h0M559.7 289.1h0M559.7 286.8h0M559.7 284.5h0M559.7 282.3h0M559.7 280.0h0M559.7 277.8h0M559.7 275.5h0M559.7 273.2h0M559.7 271.0h0M559.7 268.7h0M559.7 266.5h0M559.7 264.2h0M559.7 261.9h0M559.7 259.7h0M559.7 257.4h0M559.7 252.9h0M560.9 318.4h0M560.9 316.2h0M560.9 313.9h0M560.9 309.4h0M560.9 307.1h0M560.9 304.9h0M560.9 302.6h0M560.9 300.4h0M560.9 295.8h0M560.9 289.1h0M560.9 286.8h0M560.9 284.5h0M560.9 280.0h0M560.9 277.8h0M560.9 275.5h0M560.9 273.2h0M560.9 271.0h0M560.9 268.7h0M560.9 266.5h0M560.9 264.2h0M560.9 261.9h0M560.9 259.7h0M560.9 257.4h0M560.9 255.2h0M562.1 336.5h0M562.1 327.5h0M562.1 320.7h0M562.1 318.4h0M562.1 309.4h0M562.1 307.1h0M562.1 302.6h0M562.1 298.1h0M562.1 291.3h0M562.1 289.1h0M562.1 286.8h0M562.1 280.0h0M562.1 271.0h0M562.1 268.7h0M562.1 266.5h0M562.1 264.2h0M562.1 259.7h0M562.1 257.4h0M562.1 252.9h0M562.1 248.4h0M562.6 327.5h0M562.6 325.2h0M562.6 323.0h0M562.6 320.7h0M562.6 318.4h0M562.6 313.9h0M562.6 311.7h0M562.6 309.4h0M562.6 304.9h0M562.6 302.6h0M562.6 300.4h0M562.6 298.1h0M562.6 295.8h0M562.6 293.6h0M562.6 291.3h0M562.6 289.1h0M562.6 286.8h0M562.6 282.3h0M562.6 280.0h0M562.6 277.8h0M562.6 275.5h0M562.6 273.2h0M562.6 271.0h0M562.6 268.7h0M562.6 266.5h0M562.6 264.2h0M562.6 261.9h0M562.6 259.7h0M562.6 255.2h0M562.6 252.9h0M562.6 250.6h0M563.9 325.2h0M563.9 323.0h0M563.9 320.7h0M563.9 318.4h0M563.9 316.2h0M563.9 313.9h0M563.9 309.4h0M563.9 307.1h0M563.9 304.9h0M563.9 302.6h0M563.9 300.4h0M563.9 298.1h0M563.9 295.8h0M563.9 286.8h0M563.9 282.3h0M563.9 275.5h0M563.9 271.0h0M563.9 266.5h0M563.9 264.2h0M563.9 261.9h0M563.9 259.7h0M563.9 257.4h0M564.8 325.2h0M564.8 323.0h0M564.8 320.7h0M564.8 318.4h0M564.8 316.2h0M564.8 313.9h0M564.8 311.7h0M564.8 309.4h0M564.8 307.1h0M564.8 304.9h0M564.8 302.6h0M564.8 300.4h0M564.8 298.1h0M564.8 293.6h0M564.8 291.3h0M564.8 289.1h0M564.8 286.8h0M564.8 284.5h0M564.8 282.3h0M564.8 280.0h0M564.8 277.8h0M564.8 275.5h0M564.8 273.2h0M564.8 271.0h0M564.8 268.7h0M564.8 266.5h0M564.8 261.9h0M564.8 259.7h0M564.8 257.4h0M564.8 255.2h0M564.8 252.9h0M565.8 325.2h0M565.8 323.0h0M565.8 320.7h0M565.8 316.2h0M565.8 313.9h0M565.8 311.7h0M565.8 309.4h0M565.8 304.9h0M565.8 300.4h0M565.8 295.8h0M565.8 293.6h0M565.8 291.3h0M565.8 289.1h0M565.8 286.8h0M565.8 284.5h0M565.8 280.0h0M565.8 277.8h0M565.8 275.5h0M565.8 273.2h0M565.8 271.0h0M565.8 268.7h0M565.8 266.5h0M566.7 323.0h0M566.7 318.4h0M566.7 311.7h0M566.7 302.6h0M566.7 300.4h0M566.7 293.6h0M566.7 289.1h0M566.7 286.8h0M566.7 284.5h0M566.7 282.3h0M566.7 280.0h0M566.7 277.8h0M566.7 273.2h0M566.7 271.0h0M566.7 268.7h0M566.7 266.5h0M566.7 257.4h0M566.7 255.2h0M567.6 325.2h0M567.6 323.0h0M567.6 320.7h0M567.6 318.4h0M567.6 316.2h0M567.6 313.9h0M567.6 307.1h0M567.6 304.9h0M567.6 302.6h0M567.6 298.1h0M567.6 295.8h0M567.6 293.6h0M567.6 289.1h0M567.6 286.8h0M567.6 284.5h0M567.6 282.3h0M567.6 277.8h0M567.6 275.5h0M567.6 271.0h0M567.6 268.7h0M567.6 266.5h0M567.6 264.2h0M567.6 261.9h0M567.6 257.4h0M567.6 255.2h0M567.6 252.9h0M568.5 325.2h0M568.5 323.0h0M568.5 320.7h0M568.5 318.4h0M568.5 313.9h0M568.5 311.7h0M568.5 309.4h0M568.5 307.1h0M568.5 304.9h0M568.5 302.6h0M568.5 298.1h0M568.5 295.8h0M568.5 291.3h0M568.5 286.8h0M568.5 282.3h0M568.5 280.0h0M568.5 277.8h0M568.5 273.2h0M568.5 271.0h0M568.5 266.5h0M568.5 264.2h0M568.5 261.9h0M568.5 257.4h0M568.5 255.2h0M570.1 329.7h0M570.1 327.5h0M570.1 323.0h0M570.1 320.7h0M570.1 318.4h0M570.1 316.2h0M570.1 313.9h0M570.1 309.4h0M570.1 304.9h0M570.1 300.4h0M570.1 295.8h0M570.1 293.6h0M570.1 291.3h0M570.1 289.1h0M570.1 286.8h0M570.1 282.3h0M570.1 280.0h0M570.1 277.8h0M570.1 275.5h0M570.1 271.0h0M570.1 266.5h0M570.1 264.2h0M570.1 261.9h0M570.1 255.2h0M570.9 327.5h0M570.9 325.2h0M570.9 320.7h0M570.9 318.4h0M570.9 316.2h0M570.9 313.9h0M570.9 307.1h0M570.9 300.4h0M570.9 295.8h0M570.9 289.1h0M570.9 280.0h0M570.9 277.8h0M570.9 275.5h0M570.9 273.2h0M570.9 271.0h0M570.9 266.5h0M570.9 264.2h0M571.7 327.5h0M571.7 325.2h0M571.7 320.7h0M571.7 318.4h0M571.7 316.2h0M571.7 313.9h0M571.7 311.7h0M571.7 309.4h0M571.7 307.1h0M571.7 304.9h0M571.7 300.4h0M571.7 293.6h0M571.7 291.3h0M571.7 289.1h0M571.7 284.5h0M571.7 282.3h0M571.7 277.8h0M571.7 275.5h0M571.7 273.2h0M571.7 271.0h0M571.7 268.7h0M571.7 266.5h0M571.7 264.2h0M571.7 259.7h0M572.9 325.2h0M572.9 318.4h0M572.9 313.9h0M572.9 311.7h0M572.9 309.4h0M572.9 307.1h0M572.9 304.9h0M572.9 302.6h0M572.9 300.4h0M572.9 298.1h0M572.9 295.8h0M572.9 293.6h0M572.9 291.3h0M572.9 289.1h0M572.9 286.8h0M572.9 284.5h0M572.9 282.3h0M572.9 280.0h0M572.9 277.8h0M572.9 275.5h0M572.9 273.2h0M572.9 271.0h0M572.9 268.7h0M572.9 266.5h0M572.9 261.9h0M573.6 327.5h0M573.6 325.2h0M573.6 323.0h0M573.6 320.7h0M573.6 318.4h0M573.6 316.2h0M573.6 313.9h0M573.6 311.7h0M573.6 309.4h0M573.6 307.1h0M573.6 304.9h0M573.6 302.6h0M573.6 300.4h0M573.6 298.1h0M573.6 295.8h0M573.6 291.3h0M573.6 289.1h0M573.6 286.8h0M573.6 284.5h0M573.6 282.3h0M573.6 280.0h0M573.6 277.8h0M573.6 275.5h0M573.6 273.2h0M573.6 268.7h0M573.6 266.5h0M573.6 264.2h0M574.9 316.2h0M574.9 313.9h0M574.9 311.7h0M574.9 309.4h0M574.9 307.1h0M574.9 304.9h0M574.9 302.6h0M574.9 298.1h0M574.9 295.8h0M574.9 293.6h0M574.9 291.3h0M574.9 289.1h0M574.9 286.8h0M574.9 284.5h0M574.9 277.8h0M574.9 275.5h0M574.9 273.2h0M574.9 271.0h0M574.9 266.5h0M575.9 329.7h0M575.9 323.0h0M575.9 316.2h0M575.9 311.7h0M575.9 309.4h0M575.9 304.9h0M575.9 302.6h0M575.9 300.4h0M575.9 295.8h0M575.9 293.6h0M575.9 291.3h0M575.9 289.1h0M575.9 286.8h0M575.9 282.3h0M575.9 280.0h0M575.9 275.5h0M575.9 273.2h0M575.9 271.0h0M575.9 268.7h0M576.7 302.6h0M576.7 300.4h0M576.7 298.1h0M576.7 293.6h0M576.7 291.3h0M576.7 286.8h0M576.7 284.5h0M576.7 282.3h0M576.7 277.8h0M576.7 275.5h0M576.7 273.2h0M576.7 271.0h0M576.7 268.7h0M576.7 266.5h0M578.1 295.8h0M578.1 293.6h0M578.1 291.3h0M578.1 289.1h0M578.1 286.8h0M578.1 284.5h0M578.1 282.3h0M578.1 280.0h0M578.1 277.8h0M578.1 275.5h0M578.1 273.2h0M578.1 271.0h0M578.1 266.5h0M578.9 298.1h0M578.9 295.8h0M578.9 293.6h0M578.9 291.3h0M578.9 289.1h0M578.9 286.8h0M578.9 284.5h0M578.9 282.3h0M578.9 280.0h0M578.9 277.8h0M578.9 275.5h0M578.9 268.7h0M579.7 309.4h0M579.7 298.1h0M579.7 293.6h0M579.7 291.3h0M579.7 286.8h0M579.7 282.3h0M579.7 280.0h0M579.7 277.8h0M579.7 275.5h0M579.7 273.2h0M580.9 311.7h0M580.9 302.6h0M580.9 300.4h0M580.9 298.1h0M580.9 295.8h0M580.9 293.6h0M580.9 289.1h0M580.9 286.8h0M580.9 284.5h0M580.9 277.8h0M580.9 275.5h0M580.9 273.2h0M580.9 271.0h0M580.9 268.7h0M581.9 300.4h0M581.9 295.8h0M581.9 291.3h0M581.9 289.1h0M581.9 286.8h0M581.9 284.5h0M581.9 282.3h0M581.9 277.8h0M581.9 275.5h0M581.9 273.2h0M581.9 271.0h0M581.9 268.7h0M582.9 338.8h0M582.9 313.9h0M582.9 304.9h0M582.9 302.6h0M582.9 300.4h0M582.9 298.1h0M582.9 295.8h0M582.9 293.6h0M582.9 291.3h0M582.9 289.1h0M582.9 286.8h0M582.9 284.5h0M582.9 280.0h0M582.9 273.2h0M582.9 261.9h0M582.9 259.7h0M582.9 257.4h0M582.9 255.2h0M582.9 252.9h0M582.9 250.6h0M583.8 334.3h0M583.8 332.0h0M583.8 329.7h0M583.8 327.5h0M583.8 323.0h0M583.8 320.7h0M583.8 318.4h0M583.8 316.2h0M583.8 311.7h0M583.8 309.4h0M583.8 307.1h0M583.8 302.6h0M583.8 298.1h0M583.8 295.8h0M583.8 293.6h0M583.8 291.3h0M583.8 286.8h0M583.8 282.3h0M583.8 280.0h0M583.8 277.8h0M583.8 273.2h0M583.8 271.0h0M583.8 268.7h0M583.8 266.5h0M583.8 264.2h0M583.8 261.9h0M583.8 259.7h0M583.8 257.4h0M583.8 255.2h0M583.8 252.9h0M583.8 248.4h0M585.0 329.7h0M585.0 327.5h0M585.0 323.0h0M585.0 320.7h0M585.0 318.4h0M585.0 316.2h0M585.0 313.9h0M585.0 311.7h0M585.0 309.4h0M585.0 307.1h0M585.0 298.1h0M585.0 295.8h0M585.0 293.6h0M585.0 291.3h0M585.0 289.1h0M585.0 286.8h0M585.0 284.5h0M585.0 282.3h0M585.0 280.0h0M585.0 277.8h0M585.0 275.5h0M585.0 273.2h0M585.0 271.0h0M585.0 268.7h0M585.0 266.5h0M585.0 264.2h0M585.0 261.9h0M585.0 259.7h0M585.0 257.4h0M585.0 255.2h0M585.8 336.5h0M585.8 334.3h0M585.8 323.0h0M585.8 309.4h0M585.8 307.1h0M585.8 304.9h0M585.8 302.6h0M585.8 300.4h0M585.8 295.8h0M585.8 293.6h0M585.8 291.3h0M585.8 289.1h0M585.8 284.5h0M585.8 282.3h0M585.8 280.0h0M585.8 277.8h0M585.8 275.5h0M585.8 273.2h0M585.8 271.0h0M585.8 266.5h0M585.8 261.9h0M585.8 257.4h0M585.8 255.2h0M586.8 377.2h0M586.8 374.9h0M586.8 372.7h0M586.8 368.2h0M586.8 363.6h0M586.8 361.4h0M586.8 359.1h0M586.8 356.9h0M586.8 352.3h0M586.8 343.3h0M586.8 341.0h0M586.8 338.8h0M586.8 336.5h0M586.8 334.3h0M586.8 332.0h0M586.8 329.7h0M586.8 327.5h0M586.8 325.2h0M586.8 323.0h0M586.8 320.7h0M586.8 313.9h0M586.8 311.7h0M586.8 309.4h0M586.8 307.1h0M586.8 304.9h0M586.8 298.1h0M586.8 295.8h0M586.8 293.6h0M586.8 291.3h0M586.8 289.1h0M586.8 286.8h0M586.8 284.5h0M586.8 280.0h0M586.8 273.2h0M586.8 268.7h0M586.8 266.5h0M586.8 264.2h0M586.8 261.9h0M587.9 377.2h0M587.9 372.7h0M587.9 370.4h0M587.9 354.6h0M587.9 352.3h0M587.9 350.1h0M587.9 347.8h0M587.9 345.6h0M587.9 338.8h0M587.9 336.5h0M587.9 332.0h0M587.9 329.7h0M587.9 325.2h0M587.9 320.7h0M587.9 318.4h0M587.9 316.2h0M587.9 313.9h0M587.9 307.1h0M587.9 298.1h0M587.9 295.8h0M587.9 293.6h0M587.9 291.3h0M587.9 289.1h0M587.9 286.8h0M587.9 284.5h0M587.9 282.3h0M587.9 280.0h0M587.9 275.5h0M587.9 271.0h0M587.9 264.2h0M587.9 259.7h0M587.9 257.4h0M587.9 255.2h0M588.7 372.7h0M588.7 363.6h0M588.7 354.6h0M588.7 345.6h0M588.7 343.3h0M588.7 332.0h0M588.7 329.7h0M588.7 327.5h0M588.7 325.2h0M588.7 323.0h0M588.7 318.4h0M588.7 313.9h0M588.7 311.7h0M588.7 307.1h0M588.7 304.9h0M588.7 298.1h0M588.7 295.8h0M588.7 293.6h0M588.7 291.3h0M588.7 289.1h0M588.7 284.5h0M588.7 282.3h0M588.7 280.0h0M588.7 275.5h0M588.7 273.2h0M588.7 271.0h0M588.7 268.7h0M588.7 266.5h0M588.7 264.2h0M588.7 261.9h0M588.7 259.7h0M588.7 257.4h0M589.6 329.7h0M589.6 327.5h0M589.6 325.2h0M589.6 323.0h0M589.6 318.4h0M589.6 316.2h0M589.6 313.9h0M589.6 311.7h0M589.6 309.4h0M589.6 307.1h0M589.6 298.1h0M589.6 295.8h0M589.6 293.6h0M589.6 289.1h0M589.6 282.3h0M589.6 280.0h0M589.6 277.8h0M589.6 273.2h0M589.6 268.7h0M589.6 266.5h0M589.6 264.2h0M589.6 261.9h0M589.6 255.2h0M590.5 332.0h0M590.5 327.5h0M590.5 323.0h0M590.5 316.2h0M590.5 313.9h0M590.5 311.7h0M590.5 309.4h0M590.5 307.1h0M590.5 304.9h0M590.5 298.1h0M590.5 295.8h0M590.5 293.6h0M590.5 291.3h0M590.5 289.1h0M590.5 286.8h0M590.5 282.3h0M590.5 280.0h0M590.5 277.8h0M590.5 273.2h0M590.5 271.0h0M590.5 268.7h0M590.5 264.2h0M590.5 261.9h0M590.5 259.7h0M591.8 338.8h0M591.8 336.5h0M591.8 332.0h0M591.8 327.5h0M591.8 318.4h0M591.8 316.2h0M591.8 313.9h0M591.8 311.7h0M591.8 309.4h0M591.8 300.4h0M591.8 298.1h0M591.8 293.6h0M591.8 291.3h0M591.8 289.1h0M591.8 286.8h0M591.8 284.5h0M591.8 282.3h0M591.8 280.0h0M591.8 277.8h0M591.8 275.5h0M591.8 273.2h0M591.8 271.0h0M591.8 268.7h0M591.8 266.5h0M591.8 264.2h0M591.8 261.9h0M591.8 259.7h0M591.8 257.4h0M591.8 252.9h0M592.9 336.5h0M592.9 334.3h0M592.9 332.0h0M592.9 327.5h0M592.9 325.2h0M592.9 320.7h0M592.9 318.4h0M592.9 316.2h0M592.9 313.9h0M592.9 309.4h0M592.9 307.1h0M592.9 304.9h0M592.9 302.6h0M592.9 300.4h0M592.9 295.8h0M592.9 293.6h0M592.9 291.3h0M592.9 289.1h0M592.9 286.8h0M592.9 282.3h0M592.9 280.0h0M592.9 277.8h0M592.9 275.5h0M592.9 273.2h0M592.9 266.5h0M592.9 264.2h0M592.9 261.9h0M592.9 259.7h0M592.9 257.4h0M594.1 338.8h0M594.1 336.5h0M594.1 334.3h0M594.1 332.0h0M594.1 329.7h0M594.1 327.5h0M594.1 325.2h0M594.1 323.0h0M594.1 320.7h0M594.1 316.2h0M594.1 313.9h0M594.1 311.7h0M594.1 309.4h0M594.1 307.1h0M594.1 304.9h0M594.1 302.6h0M594.1 298.1h0M594.1 295.8h0M594.1 293.6h0M594.1 289.1h0M594.1 284.5h0M594.1 282.3h0M594.1 273.2h0M594.1 271.0h0M594.1 268.7h0M594.1 266.5h0M594.1 264.2h0M594.1 261.9h0M594.1 259.7h0M594.7 341.0h0M594.7 336.5h0M594.7 329.7h0M594.7 327.5h0M594.7 325.2h0M594.7 320.7h0M594.7 316.2h0M594.7 313.9h0M594.7 309.4h0M594.7 304.9h0M594.7 302.6h0M594.7 298.1h0M594.7 293.6h0M594.7 291.3h0M594.7 289.1h0M594.7 286.8h0M594.7 284.5h0M594.7 282.3h0M594.7 280.0h0M594.7 277.8h0M594.7 275.5h0M594.7 273.2h0M594.7 271.0h0M594.7 268.7h0M594.7 266.5h0M594.7 261.9h0M594.7 259.7h0M594.7 257.4h0M594.7 255.2h0M594.7 252.9h0M594.7 250.6h0M595.8 341.0h0M595.8 336.5h0M595.8 329.7h0M595.8 325.2h0M595.8 320.7h0M595.8 318.4h0M595.8 316.2h0M595.8 313.9h0M595.8 309.4h0M595.8 304.9h0M595.8 302.6h0M595.8 300.4h0M595.8 293.6h0M595.8 291.3h0M595.8 289.1h0M595.8 286.8h0M595.8 284.5h0M595.8 282.3h0M595.8 280.0h0M595.8 277.8h0M595.8 275.5h0M595.8 273.2h0M595.8 271.0h0M595.8 268.7h0M595.8 266.5h0M595.8 264.2h0M595.8 259.7h0M595.8 257.4h0M595.8 255.2h0M595.8 252.9h0M595.8 250.6h0M595.8 243.9h0M597.1 341.0h0M597.1 338.8h0M597.1 336.5h0M597.1 334.3h0M597.1 332.0h0M597.1 329.7h0M597.1 327.5h0M597.1 323.0h0M597.1 320.7h0M597.1 318.4h0M597.1 316.2h0M597.1 313.9h0M597.1 311.7h0M597.1 309.4h0M597.1 307.1h0M597.1 304.9h0M597.1 302.6h0M597.1 300.4h0M597.1 298.1h0M597.1 295.8h0M597.1 293.6h0M597.1 291.3h0M597.1 289.1h0M597.1 286.8h0M597.1 284.5h0M597.1 282.3h0M597.1 277.8h0M597.1 275.5h0M597.1 273.2h0M597.1 271.0h0M597.1 266.5h0M597.1 264.2h0M597.1 261.9h0M597.1 259.7h0M597.1 257.4h0M597.1 252.9h0M597.1 248.4h0M597.1 246.1h0M597.8 338.8h0M597.8 336.5h0M597.8 332.0h0M597.8 329.7h0M597.8 325.2h0M597.8 323.0h0M597.8 318.4h0M597.8 316.2h0M597.8 313.9h0M597.8 311.7h0M597.8 309.4h0M597.8 307.1h0M597.8 304.9h0M597.8 298.1h0M597.8 293.6h0M597.8 291.3h0M597.8 289.1h0M597.8 286.8h0M597.8 284.5h0M597.8 277.8h0M597.8 275.5h0M597.8 273.2h0M597.8 271.0h0M597.8 268.7h0M597.8 266.5h0M597.8 264.2h0M597.8 259.7h0M597.8 257.4h0M597.8 255.2h0M597.8 252.9h0M598.9 365.9h0M598.9 350.1h0M598.9 345.6h0M598.9 343.3h0M598.9 332.0h0M598.9 327.5h0M598.9 316.2h0M598.9 313.9h0M598.9 307.1h0M598.9 298.1h0M598.9 293.6h0M598.9 291.3h0M598.9 289.1h0M598.9 284.5h0M598.9 282.3h0M598.9 280.0h0M598.9 275.5h0M598.9 268.7h0M598.9 266.5h0M598.9 264.2h0M598.9 261.9h0M598.9 259.7h0M598.9 257.4h0M598.9 255.2h0M598.9 252.9h0M598.9 250.6h0M598.9 243.9h0M599.7 361.4h0M599.7 354.6h0M599.7 352.3h0M599.7 350.1h0M599.7 347.8h0M599.7 345.6h0M599.7 343.3h0M599.7 341.0h0M599.7 338.8h0M599.7 336.5h0M599.7 334.3h0M599.7 332.0h0M599.7 329.7h0M599.7 327.5h0M599.7 325.2h0M599.7 323.0h0M599.7 318.4h0M599.7 316.2h0M599.7 313.9h0M599.7 307.1h0M599.7 304.9h0M599.7 302.6h0M599.7 300.4h0M599.7 298.1h0M599.7 293.6h0M599.7 291.3h0M599.7 289.1h0M599.7 286.8h0M599.7 284.5h0M599.7 282.3h0M599.7 280.0h0M599.7 277.8h0M599.7 275.5h0M599.7 273.2h0M599.7 271.0h0M599.7 266.5h0M599.7 264.2h0M599.7 257.4h0M599.7 255.2h0M599.7 252.9h0M599.7 250.6h0M601.0 361.4h0M601.0 359.1h0M601.0 356.9h0M601.0 354.6h0M601.0 350.1h0M601.0 341.0h0M601.0 338.8h0M601.0 334.3h0M601.0 332.0h0M601.0 329.7h0M601.0 327.5h0M601.0 325.2h0M601.0 323.0h0M601.0 318.4h0M601.0 313.9h0M601.0 311.7h0M601.0 307.1h0M601.0 304.9h0M601.0 302.6h0M601.0 300.4h0M601.0 298.1h0M601.0 295.8h0M601.0 293.6h0M601.0 291.3h0M601.0 289.1h0M601.0 284.5h0M601.0 282.3h0M601.0 280.0h0M601.0 275.5h0M601.0 273.2h0M601.0 271.0h0M601.0 268.7h0M601.0 266.5h0M601.0 264.2h0M601.0 259.7h0M601.0 257.4h0M601.0 255.2h0M601.0 252.9h0M601.0 250.6h0M601.6 352.3h0M601.6 350.1h0M601.6 343.3h0M601.6 327.5h0M601.6 313.9h0M601.6 307.1h0M601.6 304.9h0M601.6 302.6h0M601.6 300.4h0M601.6 298.1h0M601.6 295.8h0M601.6 291.3h0M601.6 286.8h0M601.6 277.8h0M601.6 275.5h0M601.6 273.2h0M601.6 266.5h0M601.6 264.2h0M601.6 261.9h0M601.6 259.7h0M601.6 257.4h0M601.6 252.9h0M601.6 250.6h0M601.6 248.4h0M603.0 309.4h0M603.0 307.1h0M603.0 304.9h0M603.0 302.6h0M603.0 298.1h0M603.0 295.8h0M603.0 293.6h0M603.0 291.3h0M603.0 289.1h0M603.0 282.3h0M603.0 277.8h0M603.0 275.5h0M603.0 273.2h0M603.0 271.0h0M603.0 268.7h0M603.0 264.2h0M603.0 261.9h0M603.0 259.7h0M603.0 257.4h0M603.0 250.6h0M603.0 248.4h0M603.0 246.1h0M604.0 311.7h0M604.0 309.4h0M604.0 307.1h0M604.0 304.9h0M604.0 302.6h0M604.0 300.4h0M604.0 295.8h0M604.0 293.6h0M604.0 291.3h0M604.0 286.8h0M604.0 284.5h0M604.0 282.3h0M604.0 280.0h0M604.0 277.8h0M604.0 275.5h0M604.0 273.2h0M604.0 268.7h0M604.0 266.5h0M604.0 264.2h0M604.0 261.9h0M604.0 257.4h0M604.0 255.2h0M604.0 252.9h0M604.0 250.6h0M604.0 248.4h0M604.0 246.1h0M604.0 243.9h0M604.0 241.6h0M604.8 309.4h0M604.8 307.1h0M604.8 304.9h0M604.8 302.6h0M604.8 300.4h0M604.8 295.8h0M604.8 291.3h0M604.8 286.8h0M604.8 284.5h0M604.8 282.3h0M604.8 280.0h0M604.8 277.8h0M604.8 275.5h0M604.8 273.2h0M604.8 271.0h0M604.8 266.5h0M604.8 264.2h0M604.8 261.9h0M604.8 259.7h0M604.8 257.4h0M604.8 255.2h0M604.8 252.9h0M604.8 250.6h0M604.8 248.4h0M604.8 243.9h0M605.8 309.4h0M605.8 307.1h0M605.8 304.9h0M605.8 300.4h0M605.8 298.1h0M605.8 295.8h0M605.8 293.6h0M605.8 291.3h0M605.8 289.1h0M605.8 286.8h0M605.8 284.5h0M605.8 282.3h0M605.8 277.8h0M605.8 275.5h0M605.8 273.2h0M605.8 268.7h0M605.8 266.5h0M605.8 264.2h0M605.8 261.9h0M605.8 259.7h0M605.8 257.4h0M605.8 255.2h0M605.8 250.6h0M605.8 248.4h0M605.8 246.1h0M607.0 309.4h0M607.0 307.1h0M607.0 304.9h0M607.0 302.6h0M607.0 300.4h0M607.0 298.1h0M607.0 295.8h0M607.0 293.6h0M607.0 291.3h0M607.0 289.1h0M607.0 277.8h0M607.0 275.5h0M607.0 268.7h0M607.0 264.2h0M607.0 261.9h0M607.0 257.4h0M607.0 255.2h0M607.0 252.9h0M607.0 250.6h0M607.0 248.4h0M608.0 307.1h0M608.0 304.9h0M608.0 300.4h0M608.0 298.1h0M608.0 291.3h0M608.0 289.1h0M608.0 286.8h0M608.0 284.5h0M608.0 282.3h0M608.0 277.8h0M608.0 275.5h0M608.0 271.0h0M608.0 268.7h0M608.0 266.5h0M608.0 261.9h0M608.0 259.7h0M608.0 257.4h0M608.0 255.2h0M608.0 250.6h0M608.0 248.4h0M608.0 243.9h0M608.9 307.1h0M608.9 304.9h0M608.9 300.4h0M608.9 298.1h0M608.9 295.8h0M608.9 289.1h0M608.9 284.5h0M608.9 282.3h0M608.9 277.8h0M608.9 275.5h0M608.9 273.2h0M608.9 271.0h0M608.9 266.5h0M608.9 264.2h0M608.9 261.9h0M608.9 257.4h0M608.9 255.2h0M608.9 252.9h0M608.9 248.4h0M608.9 246.1h0M608.9 243.9h0M610.0 316.2h0M610.0 313.9h0M610.0 300.4h0M610.0 298.1h0M610.0 291.3h0M610.0 280.0h0M610.0 277.8h0M610.0 275.5h0M610.0 271.0h0M610.0 268.7h0M610.0 259.7h0M610.0 257.4h0M610.0 255.2h0M610.0 252.9h0M610.0 248.4h0M610.0 243.9h0M610.9 311.7h0M610.9 309.4h0M610.9 307.1h0M610.9 304.9h0M610.9 300.4h0M610.9 295.8h0M610.9 291.3h0M610.9 286.8h0M610.9 284.5h0M610.9 282.3h0M610.9 280.0h0M610.9 277.8h0M610.9 273.2h0M610.9 271.0h0M610.9 268.7h0M610.9 266.5h0M610.9 264.2h0M610.9 261.9h0M610.9 259.7h0M610.9 257.4h0M610.9 255.2h0M610.9 252.9h0M610.9 250.6h0M610.9 248.4h0M610.9 246.1h0M610.9 243.9h0M610.9 241.6h0M611.6 316.2h0M611.6 313.9h0M611.6 311.7h0M611.6 309.4h0M611.6 307.1h0M611.6 304.9h0M611.6 302.6h0M611.6 300.4h0M611.6 298.1h0M611.6 295.8h0M611.6 293.6h0M611.6 291.3h0M611.6 289.1h0M611.6 286.8h0M611.6 284.5h0M611.6 282.3h0M611.6 280.0h0M611.6 277.8h0M611.6 273.2h0M611.6 271.0h0M611.6 268.7h0M611.6 266.5h0M611.6 264.2h0M611.6 261.9h0M611.6 259.7h0M611.6 257.4h0M611.6 255.2h0M611.6 252.9h0M611.6 250.6h0M611.6 248.4h0M612.6 307.1h0M612.6 300.4h0M612.6 298.1h0M612.6 295.8h0M612.6 291.3h0M612.6 289.1h0M612.6 286.8h0M612.6 284.5h0M612.6 282.3h0M612.6 280.0h0M612.6 277.8h0M612.6 275.5h0M612.6 273.2h0M612.6 271.0h0M612.6 266.5h0M612.6 261.9h0M612.6 259.7h0M612.6 255.2h0M612.6 252.9h0M612.6 250.6h0M612.6 243.9h0M613.8 316.2h0M613.8 313.9h0M613.8 311.7h0M613.8 304.9h0M613.8 298.1h0M613.8 291.3h0M613.8 289.1h0M613.8 286.8h0M613.8 282.3h0M613.8 280.0h0M613.8 277.8h0M613.8 275.5h0M613.8 271.0h0M613.8 261.9h0M613.8 259.7h0M613.8 252.9h0M613.8 250.6h0M613.8 248.4h0M613.8 243.9h0M614.8 318.4h0M614.8 313.9h0M614.8 311.7h0M614.8 307.1h0M614.8 304.9h0M614.8 302.6h0M614.8 300.4h0M614.8 298.1h0M614.8 293.6h0M614.8 291.3h0M614.8 289.1h0M614.8 286.8h0M614.8 284.5h0M614.8 282.3h0M614.8 280.0h0M614.8 277.8h0M614.8 275.5h0M614.8 273.2h0M614.8 271.0h0M614.8 268.7h0M614.8 266.5h0M614.8 264.2h0M614.8 261.9h0M614.8 259.7h0M614.8 257.4h0M614.8 255.2h0M614.8 250.6h0M614.8 246.1h0M614.8 243.9h0M614.8 239.3h0M615.9 370.4h0M615.9 361.4h0M615.9 343.3h0M615.9 341.0h0M615.9 318.4h0M615.9 316.2h0M615.9 311.7h0M615.9 309.4h0M615.9 307.1h0M615.9 304.9h0M615.9 302.6h0M615.9 300.4h0M615.9 298.1h0M615.9 295.8h0M615.9 293.6h0M615.9 289.1h0M615.9 284.5h0M615.9 282.3h0M615.9 277.8h0M615.9 275.5h0M615.9 271.0h0M615.9 268.7h0M615.9 266.5h0M615.9 264.2h0M615.9 259.7h0M615.9 257.4h0M615.9 255.2h0M615.9 252.9h0M615.9 250.6h0M615.9 248.4h0M615.9 243.9h0M615.9 241.6h0M617.0 374.9h0M617.0 370.4h0M617.0 368.2h0M617.0 365.9h0M617.0 363.6h0M617.0 361.4h0M617.0 356.9h0M617.0 354.6h0M617.0 352.3h0M617.0 350.1h0M617.0 347.8h0M617.0 343.3h0M617.0 341.0h0M617.0 338.8h0M617.0 336.5h0M617.0 334.3h0M617.0 329.7h0M617.0 327.5h0M617.0 325.2h0M617.0 320.7h0M617.0 316.2h0M617.0 309.4h0M617.0 304.9h0M617.0 302.6h0M617.0 300.4h0M617.0 298.1h0M617.0 291.3h0M617.0 289.1h0M617.0 286.8h0M617.0 284.5h0M617.0 282.3h0M617.0 277.8h0M617.0 273.2h0M617.0 271.0h0M617.0 268.7h0M617.0 266.5h0M617.0 264.2h0M617.0 261.9h0M617.0 259.7h0M617.0 257.4h0M617.0 255.2h0M617.0 250.6h0M617.0 248.4h0M617.0 246.1h0M617.0 243.9h0M617.0 241.6h0M617.0 239.3h0M617.0 237.1h0M617.8 365.9h0M617.8 363.6h0M617.8 359.1h0M617.8 356.9h0M617.8 354.6h0M617.8 352.3h0M617.8 350.1h0M617.8 347.8h0M617.8 343.3h0M617.8 341.0h0M617.8 338.8h0M617.8 336.5h0M617.8 334.3h0M617.8 332.0h0M617.8 329.7h0M617.8 327.5h0M617.8 325.2h0M617.8 323.0h0M617.8 313.9h0M617.8 309.4h0M617.8 302.6h0M617.8 300.4h0M617.8 298.1h0M617.8 293.6h0M617.8 291.3h0M617.8 289.1h0M617.8 284.5h0M617.8 280.0h0M617.8 277.8h0M617.8 275.5h0M617.8 271.0h0M617.8 268.7h0M617.8 266.5h0M617.8 264.2h0M617.8 255.2h0M617.8 248.4h0M617.8 246.1h0M617.8 243.9h0M617.8 241.6h0M617.8 239.3h0M617.8 237.1h0M617.8 234.8h0M618.5 370.4h0M618.5 365.9h0M618.5 354.6h0M618.5 345.6h0M618.5 338.8h0M618.5 336.5h0M618.5 332.0h0M618.5 329.7h0M618.5 320.7h0M618.5 313.9h0M618.5 311.7h0M618.5 309.4h0M618.5 307.1h0M618.5 302.6h0M618.5 298.1h0M618.5 295.8h0M618.5 293.6h0M618.5 291.3h0M618.5 289.1h0M618.5 286.8h0M618.5 284.5h0M618.5 282.3h0M618.5 277.8h0M618.5 275.5h0M618.5 273.2h0M618.5 271.0h0M618.5 268.7h0M618.5 266.5h0M618.5 264.2h0M618.5 261.9h0M618.5 259.7h0M618.5 257.4h0M618.5 252.9h0M618.5 250.6h0M618.5 248.4h0M618.5 246.1h0M618.5 243.9h0M618.5 241.6h0M618.5 239.3h0M618.5 237.1h0M619.8 304.9h0M619.8 302.6h0M619.8 291.3h0M619.8 289.1h0M619.8 286.8h0M619.8 284.5h0M619.8 282.3h0M619.8 280.0h0M619.8 277.8h0M619.8 275.5h0M619.8 273.2h0M619.8 266.5h0M619.8 264.2h0M619.8 259.7h0M619.8 255.2h0M619.8 252.9h0M619.8 250.6h0M619.8 248.4h0M619.8 243.9h0M619.8 241.6h0M619.8 239.3h0M619.8 237.1h0M621.0 307.1h0M621.0 304.9h0M621.0 300.4h0M621.0 298.1h0M621.0 295.8h0M621.0 293.6h0M621.0 289.1h0M621.0 286.8h0M621.0 282.3h0M621.0 280.0h0M621.0 277.8h0M621.0 275.5h0M621.0 273.2h0M621.0 268.7h0M621.0 266.5h0M621.0 264.2h0M621.0 259.7h0M621.0 257.4h0M621.0 255.2h0M621.0 252.9h0M621.0 250.6h0M621.0 248.4h0M621.0 241.6h0M621.0 239.3h0M621.0 237.1h0M621.0 234.8h0M621.9 379.5h0M621.9 365.9h0M621.9 343.3h0M621.9 338.8h0M621.9 318.4h0M621.9 307.1h0M621.9 304.9h0M621.9 295.8h0M621.9 293.6h0M621.9 289.1h0M621.9 286.8h0M621.9 284.5h0M621.9 277.8h0M621.9 275.5h0M621.9 273.2h0M621.9 268.7h0M621.9 264.2h0M621.9 261.9h0M623.0 390.8h0M623.0 388.5h0M623.0 386.2h0M623.0 384.0h0M623.0 379.5h0M623.0 377.2h0M623.0 374.9h0M623.0 372.7h0M623.0 368.2h0M623.0 365.9h0M623.0 361.4h0M623.0 359.1h0M623.0 356.9h0M623.0 352.3h0M623.0 350.1h0M623.0 347.8h0M623.0 345.6h0M623.0 343.3h0M623.0 341.0h0M623.0 336.5h0M623.0 332.0h0M623.0 329.7h0M623.0 327.5h0M623.0 325.2h0M623.0 323.0h0M623.0 320.7h0M623.0 318.4h0M623.0 316.2h0M623.0 313.9h0M623.0 311.7h0M623.0 309.4h0M623.0 307.1h0M623.0 304.9h0M623.0 302.6h0M623.0 298.1h0M623.0 295.8h0M623.0 293.6h0M623.0 291.3h0M623.0 289.1h0M623.0 286.8h0M623.0 284.5h0M623.0 282.3h0M623.0 280.0h0M623.0 277.8h0M623.0 275.5h0M623.0 273.2h0M623.0 271.0h0M623.0 268.7h0M623.0 266.5h0M623.0 264.2h0M623.0 261.9h0M623.8 390.8h0M623.8 388.5h0M623.8 386.2h0M623.8 381.7h0M623.8 379.5h0M623.8 374.9h0M623.8 372.7h0M623.8 370.4h0M623.8 368.2h0M623.8 365.9h0M623.8 363.6h0M623.8 361.4h0M623.8 359.1h0M623.8 356.9h0M623.8 354.6h0M623.8 350.1h0M623.8 347.8h0M623.8 345.6h0M623.8 343.3h0M623.8 341.0h0M623.8 338.8h0M623.8 336.5h0M623.8 334.3h0M623.8 332.0h0M623.8 329.7h0M623.8 327.5h0M623.8 323.0h0M623.8 320.7h0M623.8 318.4h0M623.8 316.2h0M623.8 313.9h0M623.8 311.7h0M623.8 309.4h0M623.8 307.1h0M623.8 302.6h0M623.8 298.1h0M623.8 295.8h0M623.8 293.6h0M623.8 291.3h0M623.8 289.1h0M623.8 286.8h0M623.8 284.5h0M623.8 282.3h0M623.8 280.0h0M623.8 277.8h0M623.8 275.5h0M623.8 273.2h0M623.8 271.0h0M623.8 268.7h0M623.8 266.5h0M623.8 264.2h0M623.8 261.9h0M623.8 259.7h0M624.8 390.8h0M624.8 365.9h0M624.8 356.9h0M624.8 350.1h0M624.8 341.0h0M624.8 336.5h0M624.8 327.5h0M624.8 320.7h0M624.8 309.4h0M624.8 304.9h0M624.8 298.1h0M624.8 295.8h0M624.8 289.1h0M624.8 286.8h0M624.8 284.5h0M624.8 280.0h0M624.8 277.8h0M624.8 273.2h0M624.8 271.0h0M624.8 261.9h0M624.8 259.7h0M625.6 309.4h0M625.6 307.1h0M625.6 302.6h0M625.6 300.4h0M625.6 298.1h0M625.6 295.8h0M625.6 289.1h0M625.6 286.8h0M625.6 284.5h0M625.6 282.3h0M625.6 280.0h0M625.6 277.8h0M625.6 275.5h0M625.6 273.2h0M625.6 266.5h0M625.6 264.2h0M625.6 261.9h0M625.6 259.7h0M625.6 257.4h0M625.6 255.2h0M625.6 252.9h0M625.6 250.6h0M625.6 248.4h0M625.6 246.1h0M625.6 243.9h0M626.8 318.4h0M626.8 307.1h0M626.8 304.9h0M626.8 302.6h0M626.8 298.1h0M626.8 295.8h0M626.8 293.6h0M626.8 291.3h0M626.8 282.3h0M626.8 280.0h0M626.8 275.5h0M626.8 273.2h0M626.8 271.0h0M626.8 266.5h0M626.8 264.2h0M626.8 261.9h0M626.8 257.4h0M626.8 255.2h0M626.8 250.6h0M626.8 248.4h0M626.8 246.1h0M626.8 243.9h0M627.9 302.6h0M627.9 300.4h0M627.9 298.1h0M627.9 295.8h0M627.9 293.6h0M627.9 291.3h0M627.9 289.1h0M627.9 286.8h0M627.9 284.5h0M627.9 282.3h0M627.9 277.8h0M627.9 275.5h0M627.9 273.2h0M627.9 271.0h0M627.9 266.5h0M627.9 264.2h0M627.9 261.9h0M627.9 259.7h0M627.9 257.4h0M627.9 255.2h0M627.9 252.9h0M627.9 250.6h0M627.9 248.4h0M627.9 246.1h0M627.9 243.9h0M627.9 241.6h0M629.1 304.9h0M629.1 302.6h0M629.1 298.1h0M629.1 295.8h0M629.1 293.6h0M629.1 291.3h0M629.1 282.3h0M629.1 280.0h0M629.1 277.8h0M629.1 275.5h0M629.1 273.2h0M629.1 271.0h0M629.1 268.7h0M629.1 264.2h0M629.1 261.9h0M629.1 255.2h0M629.1 252.9h0M629.1 250.6h0M629.1 248.4h0M629.1 246.1h0M629.1 243.9h0M629.8 302.6h0M629.8 300.4h0M629.8 295.8h0M629.8 291.3h0M629.8 289.1h0M629.8 286.8h0M629.8 282.3h0M629.8 277.8h0M629.8 271.0h0M629.8 268.7h0M629.8 266.5h0M629.8 264.2h0M629.8 261.9h0M629.8 259.7h0M629.8 257.4h0M629.8 255.2h0M629.8 252.9h0M629.8 250.6h0M629.8 248.4h0M629.8 246.1h0M631.1 327.5h0M631.1 320.7h0M631.1 318.4h0M631.1 313.9h0M631.1 309.4h0M631.1 302.6h0M631.1 295.8h0M631.1 293.6h0M631.1 291.3h0M631.1 286.8h0M631.1 284.5h0M631.1 282.3h0M631.1 280.0h0M631.1 273.2h0M631.1 271.0h0M631.1 268.7h0M631.1 266.5h0M631.1 264.2h0M631.1 261.9h0M631.1 259.7h0M631.1 257.4h0M631.1 255.2h0M631.1 252.9h0M631.1 248.4h0M631.1 246.1h0M631.1 241.6h0M632.0 318.4h0M632.0 313.9h0M632.0 311.7h0M632.0 307.1h0M632.0 304.9h0M632.0 302.6h0M632.0 300.4h0M632.0 298.1h0M632.0 295.8h0M632.0 293.6h0M632.0 291.3h0M632.0 286.8h0M632.0 284.5h0M632.0 282.3h0M632.0 275.5h0M632.0 273.2h0M632.0 271.0h0M632.0 268.7h0M632.0 266.5h0M632.0 264.2h0M632.0 259.7h0M632.0 257.4h0M632.0 250.6h0M632.0 246.1h0M632.0 243.9h0M632.5 334.3h0M632.5 327.5h0M632.5 320.7h0M632.5 318.4h0M632.5 316.2h0M632.5 313.9h0M632.5 307.1h0M632.5 300.4h0M632.5 298.1h0M632.5 295.8h0M632.5 286.8h0M632.5 284.5h0M632.5 282.3h0M632.5 280.0h0M632.5 277.8h0M632.5 275.5h0M632.5 273.2h0M632.5 271.0h0M632.5 268.7h0M632.5 264.2h0M632.5 261.9h0M632.5 259.7h0M632.5 252.9h0M632.5 250.6h0M632.5 248.4h0M632.5 246.1h0M632.5 243.9h0M633.8 332.0h0M633.8 323.0h0M633.8 318.4h0M633.8 311.7h0M633.8 309.4h0M633.8 307.1h0M633.8 304.9h0M633.8 300.4h0M633.8 295.8h0M633.8 291.3h0M633.8 289.1h0M633.8 286.8h0M633.8 284.5h0M633.8 282.3h0M633.8 280.0h0M633.8 275.5h0M633.8 273.2h0M633.8 268.7h0M633.8 264.2h0M633.8 261.9h0M633.8 259.7h0M633.8 255.2h0M633.8 250.6h0M633.8 248.4h0M633.8 239.3h0M635.0 320.7h0M635.0 318.4h0M635.0 316.2h0M635.0 313.9h0M635.0 311.7h0M635.0 307.1h0M635.0 302.6h0M635.0 300.4h0M635.0 298.1h0M635.0 295.8h0M635.0 291.3h0M635.0 284.5h0M635.0 282.3h0M635.0 280.0h0M635.0 277.8h0M635.0 275.5h0M635.0 271.0h0M635.0 268.7h0M635.0 266.5h0M635.0 264.2h0M635.0 261.9h0M635.0 259.7h0M635.0 257.4h0M635.0 255.2h0M635.0 252.9h0M635.0 250.6h0M635.0 246.1h0M636.1 323.0h0M636.1 320.7h0M636.1 318.4h0M636.1 316.2h0M636.1 313.9h0M636.1 311.7h0M636.1 309.4h0M636.1 304.9h0M636.1 302.6h0M636.1 300.4h0M636.1 298.1h0M636.1 295.8h0M636.1 293.6h0M636.1 291.3h0M636.1 289.1h0M636.1 286.8h0M636.1 284.5h0M636.1 282.3h0M636.1 280.0h0M636.1 277.8h0M636.1 275.5h0M636.1 273.2h0M636.1 271.0h0M636.1 268.7h0M636.1 264.2h0M636.1 261.9h0M636.1 259.7h0M636.1 255.2h0M636.1 252.9h0M636.1 250.6h0M636.1 248.4h0M636.1 246.1h0M636.1 241.6h0M636.9 334.3h0M636.9 329.7h0M636.9 327.5h0M636.9 323.0h0M636.9 320.7h0M636.9 318.4h0M636.9 311.7h0M636.9 309.4h0M636.9 307.1h0M636.9 304.9h0M636.9 302.6h0M636.9 300.4h0M636.9 298.1h0M636.9 293.6h0M636.9 291.3h0M636.9 289.1h0M636.9 286.8h0M636.9 284.5h0M636.9 280.0h0M636.9 277.8h0M636.9 275.5h0M636.9 273.2h0M636.9 271.0h0M636.9 268.7h0M636.9 266.5h0M636.9 264.2h0M636.9 261.9h0M636.9 257.4h0M636.9 255.2h0M636.9 252.9h0M636.9 250.6h0M636.9 248.4h0M636.9 243.9h0M637.9 325.2h0M637.9 323.0h0M637.9 320.7h0M637.9 316.2h0M637.9 309.4h0M637.9 307.1h0M637.9 302.6h0M637.9 298.1h0M637.9 295.8h0M637.9 291.3h0M637.9 284.5h0M637.9 282.3h0M637.9 273.2h0M637.9 271.0h0M637.9 268.7h0M637.9 264.2h0M637.9 261.9h0M637.9 259.7h0M637.9 257.4h0M637.9 255.2h0M637.9 252.9h0M637.9 250.6h0M637.9 248.4h0M637.9 246.1h0M637.9 243.9h0M638.8 361.4h0M638.8 356.9h0M638.8 354.6h0M638.8 352.3h0M638.8 350.1h0M638.8 347.8h0M638.8 345.6h0M638.8 343.3h0M638.8 341.0h0M638.8 338.8h0M638.8 336.5h0M638.8 334.3h0M638.8 329.7h0M638.8 325.2h0M638.8 323.0h0M638.8 318.4h0M638.8 316.2h0M638.8 313.9h0M638.8 309.4h0M638.8 304.9h0M638.8 302.6h0M638.8 300.4h0M638.8 298.1h0M638.8 293.6h0M638.8 291.3h0M638.8 286.8h0M638.8 284.5h0M638.8 282.3h0M638.8 280.0h0M638.8 277.8h0M638.8 275.5h0M638.8 273.2h0M638.8 268.7h0M638.8 266.5h0M638.8 264.2h0M638.8 259.7h0M638.8 257.4h0M638.8 255.2h0M638.8 252.9h0M638.8 250.6h0M638.8 248.4h0M639.6 361.4h0M639.6 359.1h0M639.6 354.6h0M639.6 352.3h0M639.6 350.1h0M639.6 347.8h0M639.6 341.0h0M639.6 336.5h0M639.6 325.2h0M639.6 323.0h0M639.6 320.7h0M639.6 316.2h0M639.6 307.1h0M639.6 304.9h0M639.6 302.6h0M639.6 300.4h0M639.6 298.1h0M639.6 293.6h0M639.6 291.3h0M639.6 286.8h0M639.6 282.3h0M639.6 275.5h0M639.6 271.0h0M639.6 266.5h0M639.6 264.2h0M639.6 259.7h0M639.6 257.4h0M639.6 248.4h0M639.6 246.1h0M639.6 243.9h0M640.7 359.1h0M640.7 356.9h0M640.7 345.6h0M640.7 336.5h0M640.7 325.2h0M640.7 316.2h0M640.7 313.9h0M640.7 307.1h0M640.7 300.4h0M640.7 298.1h0M640.7 295.8h0M640.7 293.6h0M640.7 291.3h0M640.7 289.1h0M640.7 286.8h0M640.7 284.5h0M640.7 280.0h0M640.7 277.8h0M640.7 275.5h0M640.7 273.2h0M640.7 266.5h0M640.7 259.7h0M640.7 257.4h0M640.7 255.2h0M640.7 252.9h0M640.7 248.4h0M640.7 246.1h0M642.0 311.7h0M642.0 304.9h0M642.0 295.8h0M642.0 291.3h0M642.0 289.1h0M642.0 286.8h0M642.0 284.5h0M642.0 282.3h0M642.0 280.0h0M642.0 277.8h0M642.0 275.5h0M642.0 273.2h0M642.0 271.0h0M642.0 268.7h0M642.0 266.5h0M642.0 264.2h0M642.0 259.7h0M642.0 252.9h0M642.0 250.6h0M642.9 318.4h0M642.9 309.4h0M642.9 304.9h0M642.9 302.6h0M642.9 300.4h0M642.9 298.1h0M642.9 295.8h0M642.9 284.5h0M642.9 282.3h0M642.9 280.0h0M642.9 277.8h0M642.9 275.5h0M642.9 271.0h0M642.9 266.5h0M642.9 264.2h0M642.9 259.7h0M642.9 257.4h0M642.9 255.2h0M642.9 252.9h0M642.9 248.4h0M642.9 246.1h0M643.6 313.9h0M643.6 311.7h0M643.6 309.4h0M643.6 307.1h0M643.6 304.9h0M643.6 302.6h0M643.6 300.4h0M643.6 298.1h0M643.6 295.8h0M643.6 293.6h0M643.6 291.3h0M643.6 286.8h0M643.6 284.5h0M643.6 282.3h0M643.6 277.8h0M643.6 271.0h0M643.6 268.7h0M643.6 266.5h0M643.6 264.2h0M643.6 261.9h0M643.6 257.4h0M643.6 255.2h0M643.6 252.9h0M643.6 250.6h0M643.6 248.4h0M645.1 307.1h0M645.1 304.9h0M645.1 284.5h0M645.1 280.0h0M645.1 275.5h0M645.1 273.2h0M645.1 271.0h0M645.1 268.7h0M645.1 266.5h0M645.1 264.2h0M645.1 259.7h0M645.1 255.2h0M645.1 252.9h0M645.1 248.4h0M645.8 313.9h0M645.8 307.1h0M645.8 289.1h0M645.8 286.8h0M645.8 284.5h0M645.8 282.3h0M645.8 280.0h0M645.8 275.5h0M645.8 273.2h0M645.8 271.0h0M645.8 266.5h0M645.8 261.9h0M645.8 259.7h0M645.8 257.4h0M645.8 255.2h0M645.8 250.6h0M645.8 248.4h0M645.8 246.1h0M646.8 286.8h0M646.8 284.5h0M646.8 282.3h0M646.8 277.8h0M646.8 275.5h0M646.8 273.2h0M646.8 271.0h0M646.8 268.7h0M646.8 266.5h0M646.8 261.9h0M646.8 259.7h0M646.8 255.2h0M646.8 252.9h0M646.8 250.6h0M646.8 248.4h0M648.1 284.5h0M648.1 282.3h0M648.1 277.8h0M648.1 275.5h0M648.1 273.2h0M648.1 271.0h0M648.1 264.2h0M648.1 261.9h0M648.1 257.4h0M648.1 255.2h0M648.1 252.9h0M648.1 250.6h0M648.1 248.4h0M648.7 286.8h0M648.7 284.5h0M648.7 280.0h0M648.7 277.8h0M648.7 275.5h0M648.7 271.0h0M648.7 266.5h0M648.7 264.2h0M648.7 261.9h0M648.7 259.7h0M648.7 257.4h0M648.7 255.2h0M648.7 252.9h0M648.7 250.6h0M648.7 248.4h0M648.7 243.9h0M649.8 282.3h0M649.8 280.0h0M649.8 277.8h0M649.8 275.5h0M649.8 273.2h0M649.8 271.0h0M649.8 268.7h0M649.8 266.5h0M649.8 264.2h0M649.8 261.9h0M649.8 259.7h0M649.8 257.4h0M649.8 250.6h0M649.8 248.4h0M649.8 246.1h0M651.0 286.8h0M651.0 284.5h0M651.0 282.3h0M651.0 280.0h0M651.0 273.2h0M651.0 271.0h0M651.0 268.7h0M651.0 264.2h0M651.0 259.7h0M651.0 257.4h0M651.0 255.2h0M651.0 252.9h0M651.0 250.6h0M651.0 248.4h0M651.9 368.2h0M651.9 356.9h0M651.9 352.3h0M651.9 341.0h0M651.9 336.5h0M651.9 329.7h0M651.9 327.5h0M651.9 309.4h0M651.9 295.8h0M651.9 293.6h0M651.9 282.3h0M651.9 280.0h0M651.9 277.8h0M651.9 275.5h0M651.9 273.2h0M651.9 266.5h0M651.9 261.9h0M651.9 259.7h0M651.9 257.4h0M651.9 255.2h0M651.9 252.9h0M651.9 248.4h0M652.7 368.2h0M652.7 363.6h0M652.7 361.4h0M652.7 359.1h0M652.7 350.1h0M652.7 343.3h0M652.7 338.8h0M652.7 336.5h0M652.7 334.3h0M652.7 329.7h0M652.7 320.7h0M652.7 318.4h0M652.7 316.2h0M652.7 313.9h0M652.7 309.4h0M652.7 307.1h0M652.7 304.9h0M652.7 302.6h0M652.7 298.1h0M652.7 293.6h0M652.7 291.3h0M652.7 280.0h0M652.7 277.8h0M652.7 266.5h0M652.7 264.2h0M652.7 261.9h0M652.7 257.4h0M652.7 252.9h0M652.7 250.6h0M652.7 248.4h0M654.0 368.2h0M654.0 365.9h0M654.0 361.4h0M654.0 359.1h0M654.0 356.9h0M654.0 354.6h0M654.0 350.1h0M654.0 345.6h0M654.0 343.3h0M654.0 341.0h0M654.0 334.3h0M654.0 329.7h0M654.0 327.5h0M654.0 325.2h0M654.0 320.7h0M654.0 318.4h0M654.0 313.9h0M654.0 309.4h0M654.0 302.6h0M654.0 298.1h0M654.0 291.3h0M654.0 289.1h0M654.0 286.8h0M654.0 277.8h0M654.0 273.2h0M654.0 268.7h0M654.0 266.5h0M654.0 255.2h0M654.0 250.6h0M654.0 248.4h0M654.0 246.1h0M654.0 243.9h0M654.8 363.6h0M654.8 307.1h0M654.8 300.4h0M654.8 293.6h0M654.8 289.1h0M654.8 286.8h0M654.8 282.3h0M654.8 280.0h0M654.8 277.8h0M654.8 275.5h0M654.8 271.0h0M654.8 268.7h0M654.8 266.5h0M654.8 261.9h0M654.8 257.4h0M654.8 255.2h0M654.8 252.9h0M654.8 250.6h0M654.8 248.4h0M654.8 246.1h0M654.8 241.6h0M656.1 332.0h0M656.1 329.7h0M656.1 327.5h0M656.1 325.2h0M656.1 320.7h0M656.1 313.9h0M656.1 311.7h0M656.1 309.4h0M656.1 304.9h0M656.1 302.6h0M656.1 300.4h0M656.1 298.1h0M656.1 289.1h0M656.1 286.8h0M656.1 284.5h0M656.1 282.3h0M656.1 277.8h0M656.1 275.5h0M656.1 273.2h0M656.1 271.0h0M656.1 266.5h0M656.1 264.2h0M656.1 261.9h0M656.1 259.7h0M656.1 257.4h0M656.1 255.2h0M656.1 252.9h0M656.1 250.6h0M656.1 248.4h0M656.1 246.1h0M656.5 329.7h0M656.5 327.5h0M656.5 325.2h0M656.5 323.0h0M656.5 320.7h0M656.5 318.4h0M656.5 316.2h0M656.5 313.9h0M656.5 311.7h0M656.5 309.4h0M656.5 304.9h0M656.5 302.6h0M656.5 300.4h0M656.5 298.1h0M656.5 295.8h0M656.5 293.6h0M656.5 291.3h0M656.5 289.1h0M656.5 286.8h0M656.5 284.5h0M656.5 282.3h0M656.5 280.0h0M656.5 277.8h0M656.5 275.5h0M656.5 273.2h0M656.5 271.0h0M656.5 268.7h0M656.5 266.5h0M656.5 264.2h0M656.5 261.9h0M656.5 259.7h0M656.5 257.4h0M656.5 255.2h0M656.5 252.9h0M656.5 250.6h0M656.5 248.4h0M656.5 246.1h0M656.5 241.6h0M658.0 329.7h0M658.0 325.2h0M658.0 323.0h0M658.0 320.7h0M658.0 316.2h0M658.0 313.9h0M658.0 311.7h0M658.0 309.4h0M658.0 307.1h0M658.0 304.9h0M658.0 300.4h0M658.0 293.6h0M658.0 291.3h0M658.0 286.8h0M658.0 284.5h0M658.0 282.3h0M658.0 280.0h0M658.0 277.8h0M658.0 271.0h0M658.0 268.7h0M658.0 266.5h0M658.0 264.2h0M658.0 261.9h0M658.0 257.4h0M658.0 255.2h0M658.0 252.9h0M658.0 248.4h0M658.0 246.1h0M658.0 243.9h0M658.0 241.6h0M658.0 239.3h0M658.0 237.1h0M658.7 329.7h0M658.7 327.5h0M658.7 323.0h0M658.7 320.7h0M658.7 318.4h0M658.7 316.2h0M658.7 313.9h0M658.7 311.7h0M658.7 309.4h0M658.7 307.1h0M658.7 302.6h0M658.7 298.1h0M658.7 293.6h0M658.7 291.3h0M658.7 286.8h0M658.7 284.5h0M658.7 282.3h0M658.7 280.0h0M658.7 275.5h0M658.7 268.7h0M658.7 266.5h0M658.7 261.9h0M658.7 259.7h0M658.7 257.4h0M658.7 255.2h0M658.7 252.9h0M658.7 250.6h0M658.7 248.4h0M658.7 246.1h0M658.7 243.9h0M658.7 241.6h0M658.7 239.3h0M658.7 237.1h0M659.8 332.0h0M659.8 329.7h0M659.8 323.0h0M659.8 318.4h0M659.8 316.2h0M659.8 311.7h0M659.8 309.4h0M659.8 307.1h0M659.8 304.9h0M659.8 300.4h0M659.8 298.1h0M659.8 295.8h0M659.8 293.6h0M659.8 291.3h0M659.8 289.1h0M659.8 286.8h0M659.8 284.5h0M659.8 280.0h0M659.8 277.8h0M659.8 275.5h0M659.8 273.2h0M660.9 320.7h0M660.9 309.4h0M660.9 307.1h0M660.9 298.1h0M660.9 289.1h0M660.9 284.5h0M660.9 282.3h0M660.9 277.8h0M660.9 275.5h0M662.1 377.2h0M662.1 374.9h0M662.1 372.7h0M662.1 370.4h0M662.1 365.9h0M662.1 363.6h0M662.1 359.1h0M662.1 356.9h0M662.1 354.6h0M662.1 345.6h0M662.1 343.3h0M662.1 341.0h0M662.1 338.8h0M662.1 334.3h0M662.1 332.0h0M662.1 329.7h0M662.1 327.5h0M662.1 325.2h0M662.1 323.0h0M662.1 316.2h0M662.1 311.7h0M662.1 309.4h0M662.1 304.9h0M662.1 302.6h0M662.1 300.4h0M662.1 295.8h0M662.1 291.3h0M662.1 286.8h0M662.1 282.3h0M662.1 280.0h0M662.1 277.8h0M662.1 275.5h0M662.1 271.0h0M662.9 377.2h0M662.9 372.7h0M662.9 370.4h0M662.9 368.2h0M662.9 365.9h0M662.9 363.6h0M662.9 361.4h0M662.9 359.1h0M662.9 356.9h0M662.9 354.6h0M662.9 352.3h0M662.9 350.1h0M662.9 347.8h0M662.9 345.6h0M662.9 341.0h0M662.9 338.8h0M662.9 336.5h0M662.9 334.3h0M662.9 327.5h0M662.9 323.0h0M662.9 320.7h0M662.9 313.9h0M662.9 307.1h0M662.9 304.9h0M662.9 302.6h0M662.9 295.8h0M662.9 289.1h0M662.9 286.8h0M662.9 284.5h0M662.9 277.8h0M662.9 275.5h0M662.9 271.0h0M664.1 381.7h0M664.1 374.9h0M664.1 370.4h0M664.1 368.2h0M664.1 365.9h0M664.1 345.6h0M664.1 338.8h0M664.1 334.3h0M664.1 332.0h0M664.1 329.7h0M664.1 323.0h0M664.1 318.4h0M664.1 316.2h0M664.1 313.9h0M664.1 307.1h0M664.1 293.6h0M664.1 291.3h0M664.1 289.1h0M664.1 286.8h0M664.1 282.3h0M664.1 280.0h0M664.1 277.8h0M664.1 275.5h0M664.1 273.2h0M664.1 271.0h0M665.0 284.5h0M665.0 282.3h0M665.0 277.8h0M665.0 275.5h0M665.0 271.0h0M665.0 268.7h0M665.0 266.5h0M665.0 264.2h0M665.0 261.9h0M665.0 259.7h0M665.0 257.4h0M665.0 255.2h0M665.0 252.9h0M665.0 250.6h0M665.6 295.8h0M665.6 289.1h0M665.6 286.8h0M665.6 284.5h0M665.6 277.8h0M665.6 275.5h0M665.6 273.2h0M665.6 268.7h0M665.6 266.5h0M665.6 261.9h0M665.6 259.7h0M665.6 257.4h0M665.6 255.2h0M665.6 252.9h0M665.6 250.6h0M665.6 248.4h0M666.7 295.8h0M666.7 289.1h0M666.7 286.8h0M666.7 284.5h0M666.7 282.3h0M666.7 280.0h0M666.7 277.8h0M666.7 275.5h0M666.7 271.0h0M666.7 268.7h0M666.7 266.5h0M666.7 261.9h0M666.7 259.7h0M666.7 257.4h0M666.7 255.2h0M666.7 252.9h0M666.7 250.6h0M666.7 248.4h0M667.6 289.1h0M667.6 280.0h0M667.6 275.5h0M667.6 266.5h0M667.6 264.2h0M667.6 259.7h0M667.6 257.4h0M667.6 255.2h0M667.6 252.9h0M667.6 250.6h0M668.9 289.1h0M668.9 286.8h0M668.9 280.0h0M668.9 277.8h0M668.9 268.7h0M668.9 266.5h0M668.9 264.2h0M668.9 261.9h0M668.9 259.7h0M668.9 255.2h0M668.9 252.9h0M668.9 250.6h0M668.9 248.4h0M668.9 246.1h0M668.9 243.9h0M668.9 241.6h0M668.9 234.8h0M670.1 320.7h0M670.1 318.4h0M670.1 316.2h0M670.1 309.4h0M670.1 307.1h0M670.1 304.9h0M670.1 302.6h0M670.1 300.4h0M670.1 295.8h0M670.1 293.6h0M670.1 291.3h0M670.1 286.8h0M670.1 284.5h0M670.1 282.3h0M670.1 277.8h0M670.1 273.2h0M670.1 271.0h0M670.1 266.5h0M670.1 264.2h0M670.1 261.9h0M670.1 259.7h0M670.1 255.2h0M670.1 243.9h0M670.1 241.6h0M670.1 239.3h0M670.1 237.1h0M670.8 332.0h0M670.8 320.7h0M670.8 318.4h0M670.8 316.2h0M670.8 313.9h0M670.8 311.7h0M670.8 309.4h0M670.8 307.1h0M670.8 304.9h0M670.8 302.6h0M670.8 300.4h0M670.8 295.8h0M670.8 293.6h0M670.8 291.3h0M670.8 286.8h0M670.8 284.5h0M670.8 282.3h0M670.8 280.0h0M670.8 277.8h0M670.8 273.2h0M670.8 271.0h0M670.8 268.7h0M670.8 266.5h0M670.8 264.2h0M670.8 259.7h0M670.8 257.4h0M670.8 255.2h0M670.8 252.9h0M670.8 250.6h0M670.8 248.4h0M670.8 246.1h0M670.8 243.9h0M670.8 241.6h0M670.8 239.3h0M671.6 316.2h0M671.6 311.7h0M671.6 309.4h0M671.6 302.6h0M671.6 300.4h0M671.6 295.8h0M671.6 291.3h0M671.6 289.1h0M671.6 286.8h0M671.6 284.5h0M671.6 282.3h0M671.6 280.0h0M671.6 277.8h0M671.6 275.5h0M671.6 273.2h0M671.6 271.0h0M671.6 268.7h0M671.6 264.2h0M671.6 261.9h0M671.6 259.7h0M671.6 257.4h0M671.6 255.2h0M671.6 252.9h0M671.6 248.4h0M671.6 246.1h0M671.6 243.9h0M671.6 241.6h0M671.6 239.3h0M672.6 316.2h0M672.6 311.7h0M672.6 307.1h0M672.6 302.6h0M672.6 295.8h0M672.6 293.6h0M672.6 291.3h0M672.6 284.5h0M672.6 282.3h0M672.6 280.0h0M672.6 277.8h0M672.6 275.5h0M672.6 273.2h0M672.6 271.0h0M672.6 268.7h0M672.6 266.5h0M672.6 261.9h0M672.6 259.7h0M672.6 255.2h0M672.6 252.9h0M672.6 250.6h0M672.6 248.4h0M672.6 246.1h0M672.6 243.9h0M672.6 239.3h0M672.6 237.1h0M674.1 320.7h0M674.1 318.4h0M674.1 316.2h0M674.1 313.9h0M674.1 311.7h0M674.1 309.4h0M674.1 307.1h0M674.1 304.9h0M674.1 302.6h0M674.1 300.4h0M674.1 298.1h0M674.1 295.8h0M674.1 293.6h0M674.1 291.3h0M674.1 289.1h0M674.1 286.8h0M674.1 284.5h0M674.1 282.3h0M674.1 280.0h0M674.1 273.2h0M674.1 271.0h0M674.1 268.7h0M674.1 266.5h0M674.1 264.2h0M674.1 261.9h0M674.1 259.7h0M674.1 257.4h0M674.1 255.2h0M674.1 252.9h0M674.1 250.6h0M674.1 248.4h0M674.1 246.1h0M674.1 243.9h0M674.1 241.6h0M674.1 239.3h0M674.1 237.1h0M674.6 323.0h0M674.6 320.7h0M674.6 316.2h0M674.6 313.9h0M674.6 311.7h0M674.6 309.4h0M674.6 307.1h0M674.6 304.9h0M674.6 302.6h0M674.6 300.4h0M674.6 298.1h0M674.6 295.8h0M674.6 293.6h0M674.6 291.3h0M674.6 289.1h0M674.6 284.5h0M674.6 282.3h0M674.6 275.5h0M674.6 273.2h0M674.6 271.0h0M674.6 268.7h0M674.6 266.5h0M674.6 264.2h0M674.6 261.9h0M674.6 259.7h0M674.6 257.4h0M674.6 255.2h0M674.6 252.9h0M674.6 250.6h0M674.6 246.1h0M674.6 243.9h0M674.6 241.6h0M674.6 239.3h0M674.6 237.1h0M676.0 329.7h0M676.0 318.4h0M676.0 316.2h0M676.0 313.9h0M676.0 307.1h0M676.0 304.9h0M676.0 302.6h0M676.0 295.8h0M676.0 293.6h0M676.0 289.1h0M676.0 284.5h0M676.0 282.3h0M676.0 277.8h0M676.0 275.5h0M676.0 271.0h0M676.0 268.7h0M676.0 266.5h0M676.0 259.7h0M676.0 257.4h0M676.0 255.2h0M676.0 252.9h0M676.0 248.4h0M676.0 246.1h0M676.0 243.9h0M676.0 239.3h0M676.0 237.1h0M676.9 332.0h0M676.9 325.2h0M676.9 323.0h0M676.9 318.4h0M676.9 313.9h0M676.9 311.7h0M676.9 309.4h0M676.9 307.1h0M676.9 302.6h0M676.9 300.4h0M676.9 298.1h0M676.9 295.8h0M676.9 293.6h0M676.9 291.3h0M676.9 284.5h0M676.9 282.3h0M676.9 277.8h0M676.9 275.5h0M676.9 271.0h0M676.9 268.7h0M676.9 266.5h0M676.9 261.9h0M676.9 259.7h0M676.9 257.4h0M676.9 255.2h0M676.9 250.6h0M676.9 248.4h0M676.9 246.1h0M676.9 243.9h0M676.9 241.6h0M676.9 239.3h0M676.9 237.1h0M676.9 234.8h0M678.1 309.4h0M678.1 304.9h0M678.1 302.6h0M678.1 300.4h0M678.1 295.8h0M678.1 293.6h0M678.1 286.8h0M678.1 284.5h0M678.1 282.3h0M678.1 277.8h0M678.1 275.5h0M678.1 273.2h0M678.1 268.7h0M678.1 266.5h0M678.1 264.2h0M678.1 259.7h0M678.1 257.4h0M678.1 255.2h0M678.1 252.9h0M678.1 250.6h0M678.1 246.1h0M678.1 243.9h0M678.1 241.6h0M678.1 239.3h0M678.1 237.1h0M678.1 234.8h0M678.5 311.7h0M678.5 309.4h0M678.5 307.1h0M678.5 304.9h0M678.5 302.6h0M678.5 300.4h0M678.5 298.1h0M678.5 295.8h0M678.5 293.6h0M678.5 291.3h0M678.5 286.8h0M678.5 284.5h0M678.5 275.5h0M678.5 273.2h0M678.5 271.0h0M678.5 268.7h0M678.5 266.5h0M678.5 264.2h0M678.5 261.9h0M678.5 257.4h0M678.5 255.2h0M678.5 252.9h0M678.5 250.6h0M678.5 246.1h0M678.5 243.9h0M678.5 241.6h0M678.5 239.3h0M678.5 237.1h0M678.5 234.8h0M678.5 232.6h0M679.9 307.1h0M679.9 302.6h0M679.9 295.8h0M679.9 293.6h0M679.9 291.3h0M679.9 284.5h0M679.9 280.0h0M679.9 277.8h0M679.9 275.5h0M679.9 273.2h0M679.9 268.7h0M679.9 266.5h0M679.9 264.2h0M679.9 259.7h0M679.9 257.4h0M679.9 255.2h0M679.9 252.9h0M679.9 248.4h0M679.9 246.1h0M679.9 243.9h0M679.9 239.3h0M679.9 234.8h0M681.0 311.7h0M681.0 307.1h0M681.0 302.6h0M681.0 300.4h0M681.0 298.1h0M681.0 295.8h0M681.0 293.6h0M681.0 289.1h0M681.0 286.8h0M681.0 284.5h0M681.0 280.0h0M681.0 275.5h0M681.0 273.2h0M681.0 268.7h0M681.0 266.5h0M681.0 264.2h0M681.0 261.9h0M681.0 259.7h0M681.0 252.9h0M681.0 250.6h0M681.0 248.4h0M681.0 241.6h0M681.0 239.3h0M681.0 237.1h0M681.0 234.8h0M681.7 318.4h0M681.7 313.9h0M681.7 311.7h0M681.7 309.4h0M681.7 307.1h0M681.7 304.9h0M681.7 302.6h0M681.7 300.4h0M681.7 298.1h0M681.7 295.8h0M681.7 293.6h0M681.7 289.1h0M681.7 286.8h0M681.7 284.5h0M681.7 282.3h0M681.7 280.0h0M681.7 277.8h0M681.7 275.5h0M681.7 273.2h0M681.7 268.7h0M681.7 264.2h0M681.7 261.9h0M681.7 259.7h0M681.7 255.2h0M681.7 252.9h0M681.7 246.1h0M681.7 239.3h0M682.6 313.9h0M682.6 311.7h0M682.6 309.4h0M682.6 307.1h0M682.6 304.9h0M682.6 300.4h0M682.6 298.1h0M682.6 295.8h0M682.6 293.6h0M682.6 291.3h0M682.6 289.1h0M682.6 284.5h0M682.6 282.3h0M682.6 280.0h0M682.6 275.5h0M682.6 273.2h0M682.6 271.0h0M682.6 264.2h0M682.6 261.9h0M682.6 259.7h0M682.6 257.4h0M682.6 255.2h0M682.6 252.9h0M682.6 250.6h0M682.6 248.4h0M682.6 246.1h0M682.6 243.9h0M682.6 241.6h0M684.1 311.7h0M684.1 309.4h0M684.1 307.1h0M684.1 304.9h0M684.1 302.6h0M684.1 295.8h0M684.1 291.3h0M684.1 289.1h0M684.1 284.5h0M684.1 282.3h0M684.1 280.0h0M684.1 277.8h0M684.1 273.2h0M684.1 271.0h0M684.1 268.7h0M684.1 266.5h0M684.1 264.2h0M684.1 261.9h0M684.1 257.4h0M684.1 255.2h0M684.1 252.9h0M684.1 248.4h0M684.1 246.1h0M684.1 243.9h0M684.9 374.9h0M684.9 350.1h0M684.9 336.5h0M684.9 311.7h0M684.9 298.1h0M684.9 295.8h0M684.9 286.8h0M684.9 284.5h0M684.9 275.5h0M684.9 273.2h0M684.9 271.0h0M684.9 268.7h0M684.9 266.5h0M684.9 261.9h0M684.9 259.7h0M684.9 257.4h0M684.9 252.9h0M684.9 250.6h0M684.9 246.1h0M684.9 241.6h0M685.8 368.2h0M685.8 365.9h0M685.8 361.4h0M685.8 359.1h0M685.8 356.9h0M685.8 354.6h0M685.8 352.3h0M685.8 350.1h0M685.8 347.8h0M685.8 345.6h0M685.8 343.3h0M685.8 341.0h0M685.8 338.8h0M685.8 336.5h0M685.8 334.3h0M685.8 329.7h0M685.8 327.5h0M685.8 325.2h0M685.8 323.0h0M685.8 318.4h0M685.8 311.7h0M685.8 309.4h0M685.8 307.1h0M685.8 304.9h0M685.8 302.6h0M685.8 300.4h0M685.8 298.1h0M685.8 295.8h0M685.8 293.6h0M685.8 291.3h0M685.8 289.1h0M685.8 286.8h0M685.8 282.3h0M685.8 273.2h0M685.8 271.0h0M685.8 268.7h0M685.8 264.2h0M685.8 261.9h0M685.8 259.7h0M685.8 257.4h0M685.8 255.2h0M685.8 252.9h0M685.8 250.6h0M685.8 248.4h0M685.8 246.1h0M685.8 243.9h0M685.8 241.6h0M686.5 368.2h0M686.5 363.6h0M686.5 359.1h0M686.5 354.6h0M686.5 352.3h0M686.5 345.6h0M686.5 343.3h0M686.5 338.8h0M686.5 336.5h0M686.5 332.0h0M686.5 329.7h0M686.5 325.2h0M686.5 323.0h0M686.5 320.7h0M686.5 318.4h0M686.5 313.9h0M686.5 311.7h0M686.5 304.9h0M686.5 302.6h0M686.5 298.1h0M686.5 295.8h0M686.5 293.6h0M686.5 291.3h0M686.5 284.5h0M686.5 282.3h0M686.5 280.0h0M686.5 277.8h0M686.5 275.5h0M686.5 271.0h0M686.5 266.5h0M686.5 264.2h0M686.5 261.9h0M686.5 259.7h0M686.5 257.4h0M686.5 255.2h0M686.5 252.9h0M686.5 246.1h0M687.9 370.4h0M687.9 361.4h0M687.9 309.4h0M687.9 286.8h0M687.9 280.0h0M687.9 275.5h0M687.9 271.0h0M687.9 268.7h0M687.9 266.5h0M687.9 261.9h0M687.9 259.7h0M687.9 257.4h0M687.9 255.2h0M688.9 275.5h0M688.9 273.2h0M688.9 271.0h0M688.9 264.2h0M688.9 261.9h0M688.9 259.7h0M688.9 252.9h0M689.9 273.2h0M689.9 268.7h0M689.9 266.5h0M689.9 264.2h0M689.9 261.9h0M689.9 257.4h0M690.7 273.2h0M690.7 271.0h0M690.7 268.7h0M690.7 266.5h0M690.7 261.9h0M690.7 259.7h0M690.7 257.4h0M690.7 255.2h0M691.7 273.2h0M691.7 268.7h0M691.7 264.2h0M691.7 259.7h0M691.7 255.2h0M691.7 252.9h0M691.7 248.4h0M691.7 241.6h0M691.7 237.1h0M691.7 234.8h0M693.1 304.9h0M693.1 300.4h0M693.1 298.1h0M693.1 295.8h0M693.1 291.3h0M693.1 289.1h0M693.1 282.3h0M693.1 277.8h0M693.1 275.5h0M693.1 271.0h0M693.1 268.7h0M693.1 266.5h0M693.1 264.2h0M693.1 261.9h0M693.1 259.7h0M693.1 257.4h0M693.1 255.2h0M693.1 252.9h0M693.1 250.6h0M693.1 248.4h0M693.1 246.1h0M693.1 243.9h0M693.1 241.6h0M693.1 239.3h0M693.1 237.1h0M693.1 234.8h0M693.6 307.1h0M693.6 304.9h0M693.6 302.6h0M693.6 300.4h0M693.6 298.1h0M693.6 293.6h0M693.6 291.3h0M693.6 286.8h0M693.6 284.5h0M693.6 282.3h0M693.6 277.8h0M693.6 273.2h0M693.6 271.0h0M693.6 268.7h0M693.6 266.5h0M693.6 264.2h0M693.6 261.9h0M693.6 259.7h0M693.6 255.2h0M693.6 252.9h0M693.6 250.6h0M693.6 248.4h0M693.6 246.1h0M693.6 243.9h0M693.6 241.6h0M693.6 239.3h0M694.8 311.7h0M694.8 307.1h0M694.8 304.9h0M694.8 302.6h0M694.8 298.1h0M694.8 295.8h0M694.8 293.6h0M694.8 291.3h0M694.8 289.1h0M694.8 286.8h0M694.8 284.5h0M694.8 282.3h0M694.8 280.0h0M694.8 277.8h0M694.8 275.5h0M694.8 273.2h0M694.8 271.0h0M694.8 268.7h0M694.8 266.5h0M694.8 264.2h0M694.8 261.9h0M694.8 259.7h0M694.8 257.4h0M694.8 252.9h0M694.8 250.6h0M694.8 248.4h0M694.8 246.1h0M694.8 243.9h0M694.8 239.3h0M694.8 237.1h0M694.8 234.8h0M695.5 309.4h0M695.5 307.1h0M695.5 304.9h0M695.5 300.4h0M695.5 293.6h0M695.5 289.1h0M695.5 284.5h0M695.5 282.3h0M695.5 277.8h0M695.5 275.5h0M695.5 273.2h0M695.5 271.0h0M695.5 264.2h0M695.5 261.9h0M695.5 257.4h0M695.5 255.2h0M695.5 252.9h0M695.5 250.6h0M695.5 248.4h0M695.5 246.1h0M695.5 241.6h0M695.5 239.3h0M695.5 237.1h0M697.1 307.1h0M697.1 304.9h0M697.1 298.1h0M697.1 295.8h0M697.1 293.6h0M697.1 291.3h0M697.1 289.1h0M697.1 286.8h0M697.1 284.5h0M697.1 282.3h0M697.1 277.8h0M697.1 275.5h0M697.1 273.2h0M697.1 271.0h0M697.1 268.7h0M697.1 266.5h0M697.1 264.2h0M697.1 261.9h0M697.1 259.7h0M697.1 257.4h0M697.1 255.2h0M697.1 250.6h0M697.7 307.1h0M697.7 295.8h0M697.7 293.6h0M697.7 289.1h0M697.7 286.8h0M697.7 284.5h0M697.7 282.3h0M697.7 280.0h0M697.7 277.8h0M697.7 273.2h0M697.7 271.0h0M697.7 268.7h0M697.7 266.5h0M697.7 264.2h0M697.7 261.9h0M697.7 259.7h0M697.7 257.4h0M699.0 361.4h0M699.0 359.1h0M699.0 356.9h0M699.0 354.6h0M699.0 352.3h0M699.0 347.8h0M699.0 345.6h0M699.0 343.3h0M699.0 341.0h0M699.0 336.5h0M699.0 332.0h0M699.0 325.2h0M699.0 318.4h0M699.0 316.2h0M699.0 313.9h0M699.0 311.7h0M699.0 309.4h0M699.0 304.9h0M699.0 302.6h0M699.0 300.4h0M699.0 298.1h0M699.0 295.8h0M699.0 291.3h0M699.0 289.1h0M699.0 286.8h0M699.0 284.5h0M699.0 282.3h0M699.0 280.0h0M699.0 277.8h0M699.0 275.5h0M699.0 273.2h0M699.0 271.0h0M699.0 266.5h0M699.0 264.2h0M699.0 259.7h0M699.0 257.4h0M699.0 255.2h0M699.0 252.9h0M699.6 361.4h0M699.6 356.9h0M699.6 354.6h0M699.6 352.3h0M699.6 350.1h0M699.6 347.8h0M699.6 345.6h0M699.6 341.0h0M699.6 336.5h0M699.6 332.0h0M699.6 327.5h0M699.6 325.2h0M699.6 323.0h0M699.6 320.7h0M699.6 318.4h0M699.6 316.2h0M699.6 313.9h0M699.6 309.4h0M699.6 307.1h0M699.6 300.4h0M699.6 298.1h0M699.6 295.8h0M699.6 293.6h0M699.6 289.1h0M699.6 284.5h0M699.6 282.3h0M699.6 280.0h0M699.6 277.8h0M699.6 275.5h0M699.6 271.0h0M699.6 268.7h0M699.6 264.2h0M699.6 261.9h0M699.6 257.4h0M699.6 252.9h0M699.6 250.6h0M700.9 359.1h0M700.9 334.3h0M700.9 311.7h0M700.9 309.4h0M700.9 307.1h0M700.9 304.9h0M700.9 302.6h0M700.9 298.1h0M700.9 295.8h0M700.9 291.3h0M700.9 284.5h0M700.9 275.5h0M700.9 273.2h0M700.9 271.0h0M700.9 268.7h0M700.9 266.5h0M700.9 261.9h0M700.9 259.7h0M700.9 255.2h0M700.9 252.9h0M700.9 250.6h0M701.6 347.8h0M701.6 338.8h0M701.6 336.5h0M701.6 332.0h0M701.6 327.5h0M701.6 325.2h0M701.6 318.4h0M701.6 313.9h0M701.6 298.1h0M701.6 280.0h0M701.6 277.8h0M701.6 275.5h0M701.6 273.2h0M701.6 271.0h0M701.6 268.7h0M701.6 266.5h0M701.6 264.2h0M701.6 261.9h0M701.6 259.7h0M701.6 257.4h0M701.6 255.2h0M701.6 252.9h0M701.6 250.6h0M701.6 248.4h0M702.7 338.8h0M702.7 336.5h0M702.7 334.3h0M702.7 332.0h0M702.7 329.7h0M702.7 327.5h0M702.7 320.7h0M702.7 318.4h0M702.7 316.2h0M702.7 313.9h0M702.7 311.7h0M702.7 307.1h0M702.7 304.9h0M702.7 300.4h0M702.7 295.8h0M702.7 291.3h0M702.7 284.5h0M702.7 282.3h0M702.7 280.0h0M702.7 277.8h0M702.7 275.5h0M702.7 273.2h0M702.7 271.0h0M702.7 268.7h0M702.7 266.5h0M702.7 264.2h0M702.7 261.9h0M702.7 259.7h0M702.7 257.4h0M702.7 255.2h0M702.7 252.9h0M702.7 250.6h0M702.7 248.4h0M702.7 246.1h0M704.0 341.0h0M704.0 338.8h0M704.0 336.5h0M704.0 334.3h0M704.0 332.0h0M704.0 329.7h0M704.0 327.5h0M704.0 325.2h0M704.0 323.0h0M704.0 320.7h0M704.0 316.2h0M704.0 313.9h0M704.0 311.7h0M704.0 309.4h0M704.0 307.1h0M704.0 304.9h0M704.0 302.6h0M704.0 300.4h0M704.0 295.8h0M704.0 293.6h0M704.0 286.8h0M704.0 284.5h0M704.0 282.3h0M704.0 277.8h0M704.0 275.5h0M704.0 273.2h0M704.0 271.0h0M704.0 268.7h0M704.0 266.5h0M704.0 264.2h0M704.0 261.9h0M704.0 259.7h0M704.0 257.4h0M704.0 255.2h0M704.0 252.9h0M704.0 250.6h0M704.8 318.4h0M704.8 313.9h0M704.8 309.4h0M704.8 282.3h0M704.8 277.8h0M704.8 275.5h0M704.8 273.2h0M704.8 271.0h0M704.8 268.7h0M704.8 266.5h0M704.8 264.2h0M704.8 261.9h0M704.8 259.7h0M704.8 257.4h0M704.8 255.2h0M704.8 252.9h0M704.8 250.6h0M704.8 248.4h0M705.8 266.5h0M705.8 264.2h0M705.8 255.2h0M705.8 250.6h0M706.7 275.5h0M706.7 273.2h0M706.7 268.7h0M706.7 264.2h0M706.7 261.9h0M706.7 259.7h0M706.7 257.4h0M706.7 255.2h0M706.7 252.9h0M706.7 250.6h0M706.7 248.4h0M706.7 246.1h0M707.7 277.8h0M707.7 273.2h0M707.7 271.0h0M707.7 268.7h0M707.7 266.5h0M707.7 261.9h0M707.7 259.7h0M707.7 257.4h0M707.7 250.6h0M707.7 248.4h0M707.7 246.1h0M708.7 280.0h0M708.7 275.5h0M708.7 273.2h0M708.7 271.0h0M708.7 266.5h0M708.7 261.9h0M708.7 259.7h0M708.7 257.4h0M708.7 255.2h0M708.7 250.6h0M709.9 275.5h0M709.9 273.2h0M709.9 271.0h0M709.9 268.7h0M709.9 266.5h0M709.9 264.2h0M709.9 261.9h0M709.9 257.4h0M709.9 255.2h0M709.9 252.9h0M709.9 250.6h0M710.8 275.5h0M710.8 273.2h0M710.8 268.7h0M710.8 264.2h0M710.8 261.9h0M710.8 259.7h0M710.8 257.4h0M710.8 255.2h0M710.8 252.9h0M711.8 273.2h0M711.8 271.0h0M711.8 268.7h0M711.8 266.5h0M711.8 264.2h0M711.8 261.9h0M711.8 259.7h0M711.8 257.4h0M711.8 252.9h0M712.7 268.7h0M712.7 266.5h0M712.7 261.9h0M712.7 257.4h0M712.7 255.2h0M713.8 266.5h0M713.8 264.2h0M713.8 261.9h0M713.8 259.7h0M713.8 257.4h0M713.8 255.2h0M715.1 271.0h0M715.1 266.5h0M715.1 264.2h0M715.1 261.9h0M715.1 259.7h0M715.1 257.4h0M715.1 255.2h0M715.5 268.7h0M715.5 266.5h0M715.5 261.9h0M715.5 259.7h0M715.5 257.4h0M717.0 273.2h0M717.0 271.0h0M717.0 268.7h0M717.0 266.5h0M717.0 264.2h0M717.0 261.9h0M717.0 259.7h0M717.0 257.4h0M717.0 255.2h0M718.0 275.5h0M718.0 273.2h0M718.0 271.0h0M718.0 268.7h0M718.0 264.2h0M718.0 261.9h0M718.0 259.7h0M718.0 257.4h0M718.0 255.2h0M718.8 271.0h0M718.8 266.5h0M718.8 259.7h0M718.8 257.4h0M719.9 271.0h0M719.9 268.7h0M719.9 261.9h0M719.9 259.7h0M719.9 257.4h0M719.9 255.2h0M721.0 273.2h0M721.0 271.0h0M721.0 268.7h0M721.0 266.5h0M721.0 264.2h0M721.0 259.7h0M721.0 248.4h0M721.0 243.9h0M721.0 239.3h0M721.6 275.5h0M721.6 273.2h0M721.6 271.0h0M721.6 266.5h0M721.6 264.2h0M721.6 261.9h0M721.6 259.7h0M721.6 255.2h0M721.6 252.9h0M721.6 250.6h0M721.6 248.4h0M721.6 246.1h0M721.6 243.9h0M721.6 241.6h0M722.6 275.5h0M722.6 273.2h0M722.6 271.0h0M722.6 266.5h0M722.6 264.2h0M722.6 259.7h0M722.6 257.4h0M722.6 255.2h0M722.6 252.9h0M722.6 250.6h0M722.6 248.4h0M722.6 246.1h0M722.6 243.9h0M722.6 241.6h0M722.6 239.3h0M723.9 275.5h0M723.9 257.4h0M723.9 252.9h0M723.9 250.6h0M723.9 248.4h0M723.9 246.1h0M723.9 243.9h0M723.9 241.6h0M723.9 239.3h0M723.9 237.1h0M724.6 275.5h0M724.6 273.2h0M724.6 271.0h0M724.6 266.5h0M724.6 264.2h0M724.6 261.9h0M724.6 257.4h0M724.6 255.2h0M724.6 252.9h0M724.6 248.4h0M724.6 246.1h0M724.6 243.9h0M724.6 241.6h0M724.6 239.3h0M724.6 237.1h0M725.9 266.5h0M725.9 264.2h0M725.9 259.7h0M725.9 257.4h0M725.9 255.2h0M725.9 252.9h0M725.9 250.6h0M725.9 248.4h0M725.9 246.1h0M725.9 243.9h0M725.9 241.6h0M725.9 239.3h0M725.9 237.1h0M726.8 271.0h0M726.8 268.7h0M726.8 264.2h0M726.8 261.9h0M726.8 259.7h0M726.8 257.4h0M726.8 255.2h0M726.8 250.6h0M726.8 246.1h0M726.8 243.9h0M726.8 241.6h0M727.8 372.7h0M727.8 368.2h0M727.8 345.6h0M727.8 343.3h0M727.8 336.5h0M727.8 327.5h0M727.8 275.5h0M727.8 273.2h0M727.8 268.7h0M727.8 266.5h0M727.8 264.2h0M727.8 261.9h0M727.8 255.2h0M727.8 250.6h0M727.8 248.4h0M727.8 246.1h0M727.8 243.9h0M727.8 237.1h0M727.8 234.8h0M727.8 232.6h0M729.0 379.5h0M729.0 377.2h0M729.0 374.9h0M729.0 372.7h0M729.0 368.2h0M729.0 363.6h0M729.0 361.4h0M729.0 359.1h0M729.0 356.9h0M729.0 354.6h0M729.0 350.1h0M729.0 347.8h0M729.0 345.6h0M729.0 343.3h0M729.0 341.0h0M729.0 338.8h0M729.0 336.5h0M729.0 334.3h0M729.0 332.0h0M729.0 329.7h0M729.0 327.5h0M729.0 325.2h0M729.0 323.0h0M729.0 320.7h0M729.0 318.4h0M729.0 311.7h0M729.0 309.4h0M729.0 307.1h0M729.0 298.1h0M729.0 295.8h0M729.0 291.3h0M729.0 286.8h0M729.0 277.8h0M729.0 273.2h0M729.0 271.0h0M729.0 266.5h0M729.0 261.9h0M729.0 259.7h0M729.0 257.4h0M729.0 255.2h0M729.0 250.6h0M729.0 248.4h0M729.0 243.9h0M729.0 241.6h0M729.0 239.3h0M729.0 237.1h0M730.1 379.5h0M730.1 372.7h0M730.1 370.4h0M730.1 368.2h0M730.1 363.6h0M730.1 361.4h0M730.1 354.6h0M730.1 350.1h0M730.1 345.6h0M730.1 341.0h0M730.1 338.8h0M730.1 332.0h0M730.1 329.7h0M730.1 325.2h0M730.1 323.0h0M730.1 320.7h0M730.1 318.4h0M730.1 313.9h0M730.1 311.7h0M730.1 309.4h0M730.1 307.1h0M730.1 304.9h0M730.1 302.6h0M730.1 295.8h0M730.1 291.3h0M730.1 289.1h0M730.1 280.0h0M730.1 277.8h0M730.1 275.5h0M730.1 273.2h0M730.1 268.7h0M730.1 266.5h0M730.1 264.2h0M730.1 257.4h0M730.1 255.2h0M730.1 252.9h0M730.1 248.4h0M730.1 243.9h0M730.1 241.6h0M730.1 239.3h0M730.1 237.1h0M730.1 234.8h0M730.1 232.6h0M730.7 377.2h0M730.7 361.4h0M730.7 341.0h0M730.7 338.8h0M730.7 336.5h0M730.7 298.1h0M730.7 293.6h0M730.7 286.8h0M730.7 277.8h0M730.7 271.0h0M730.7 264.2h0M730.7 261.9h0M730.7 259.7h0M730.7 257.4h0M730.7 252.9h0M730.7 250.6h0M730.7 246.1h0M730.7 243.9h0M730.7 239.3h0M730.7 237.1h0M730.7 234.8h0M732.1 350.1h0M732.1 347.8h0M732.1 343.3h0M732.1 341.0h0M732.1 338.8h0M732.1 336.5h0M732.1 334.3h0M732.1 332.0h0M732.1 323.0h0M732.1 320.7h0M732.1 318.4h0M732.1 316.2h0M732.1 313.9h0M732.1 309.4h0M732.1 304.9h0M732.1 302.6h0M732.1 300.4h0M732.1 298.1h0M732.1 295.8h0M732.1 293.6h0M732.1 291.3h0M732.1 289.1h0M732.1 286.8h0M732.1 284.5h0M732.1 282.3h0M732.1 280.0h0M732.8 352.3h0M732.8 350.1h0M732.8 345.6h0M732.8 343.3h0M732.8 338.8h0M732.8 336.5h0M732.8 332.0h0M732.8 325.2h0M732.8 320.7h0M732.8 318.4h0M732.8 316.2h0M732.8 313.9h0M732.8 311.7h0M732.8 309.4h0M732.8 307.1h0M732.8 304.9h0M732.8 302.6h0M732.8 300.4h0M732.8 298.1h0M732.8 295.8h0M732.8 291.3h0M732.8 289.1h0M732.8 284.5h0M733.8 356.9h0M733.8 352.3h0M733.8 347.8h0M733.8 345.6h0M733.8 341.0h0M733.8 334.3h0M733.8 332.0h0M733.8 325.2h0M733.8 323.0h0M733.8 318.4h0M733.8 316.2h0M733.8 307.1h0M733.8 304.9h0M733.8 302.6h0M733.8 300.4h0M733.8 298.1h0M733.8 295.8h0M733.8 286.8h0M733.8 284.5h0M734.5 350.1h0M734.5 345.6h0M734.5 343.3h0M734.5 341.0h0M734.5 338.8h0M734.5 336.5h0M734.5 334.3h0M734.5 332.0h0M734.5 329.7h0M734.5 327.5h0M734.5 325.2h0M734.5 320.7h0M734.5 318.4h0M734.5 311.7h0M734.5 309.4h0M734.5 304.9h0M734.5 302.6h0M734.5 298.1h0M734.5 295.8h0M734.5 291.3h0M735.8 356.9h0M735.8 354.6h0M735.8 352.3h0M735.8 350.1h0M735.8 347.8h0M735.8 343.3h0M735.8 334.3h0M735.8 329.7h0M735.8 327.5h0M735.8 325.2h0M735.8 320.7h0M735.8 311.7h0M735.8 309.4h0M735.8 304.9h0M735.8 300.4h0M735.8 298.1h0M735.8 295.8h0M735.8 293.6h0M736.6 352.3h0M736.6 350.1h0M736.6 347.8h0M736.6 345.6h0M736.6 343.3h0M736.6 341.0h0M736.6 336.5h0M736.6 334.3h0M736.6 332.0h0M736.6 329.7h0M736.6 327.5h0M736.6 325.2h0M736.6 323.0h0M736.6 320.7h0M736.6 318.4h0M736.6 316.2h0M736.6 313.9h0M736.6 311.7h0M736.6 307.1h0M736.6 304.9h0M736.6 302.6h0M736.6 300.4h0M736.6 298.1h0M736.6 295.8h0M736.6 293.6h0M737.8 361.4h0M737.8 356.9h0M737.8 352.3h0M737.8 350.1h0M737.8 347.8h0M737.8 343.3h0M737.8 341.0h0M737.8 338.8h0M737.8 336.5h0M737.8 332.0h0M737.8 329.7h0M737.8 327.5h0M737.8 325.2h0M737.8 323.0h0M737.8 320.7h0M737.8 318.4h0M737.8 316.2h0M737.8 313.9h0M737.8 311.7h0M737.8 309.4h0M738.7 361.4h0M738.7 359.1h0M738.7 356.9h0M738.7 354.6h0M738.7 350.1h0M738.7 347.8h0M738.7 345.6h0M738.7 343.3h0M738.7 341.0h0M738.7 336.5h0M738.7 334.3h0M738.7 332.0h0M738.7 329.7h0M738.7 325.2h0M738.7 323.0h0M738.7 318.4h0M738.7 316.2h0M738.7 313.9h0M738.7 311.7h0M738.7 309.4h0M739.8 361.4h0M739.8 356.9h0M739.8 354.6h0M739.8 352.3h0M739.8 350.1h0M739.8 345.6h0M739.8 343.3h0M739.8 341.0h0M739.8 338.8h0M739.8 336.5h0M739.8 334.3h0M739.8 332.0h0M739.8 329.7h0M739.8 327.5h0M739.8 325.2h0M739.8 323.0h0M739.8 318.4h0M739.8 316.2h0M739.8 313.9h0M739.8 311.7h0M739.8 309.4h0M740.5 361.4h0M740.5 359.1h0M740.5 356.9h0M740.5 347.8h0M740.5 345.6h0M740.5 343.3h0M740.5 341.0h0M740.5 336.5h0M740.5 334.3h0M740.5 332.0h0M740.5 329.7h0M740.5 327.5h0M740.5 323.0h0M740.5 320.7h0M740.5 318.4h0M740.5 313.9h0M741.5 359.1h0M741.5 356.9h0M741.5 354.6h0M741.5 352.3h0M741.5 347.8h0M741.5 345.6h0M741.5 343.3h0M741.5 341.0h0M741.5 338.8h0M741.5 334.3h0M741.5 332.0h0M741.5 329.7h0M741.5 327.5h0M741.5 323.0h0M741.5 320.7h0M741.5 318.4h0M741.5 313.9h0M741.5 311.7h0M741.5 309.4h0M742.7 359.1h0M742.7 356.9h0M742.7 354.6h0M742.7 347.8h0M742.7 345.6h0M742.7 343.3h0M742.7 341.0h0M742.7 336.5h0M742.7 334.3h0M742.7 329.7h0M742.7 327.5h0M742.7 325.2h0M742.7 323.0h0M742.7 320.7h0M742.7 318.4h0M742.7 316.2h0M742.7 313.9h0M742.7 311.7h0M742.7 309.4h0M743.9 377.2h0M743.9 370.4h0M743.9 368.2h0M743.9 365.9h0M743.9 363.6h0M743.9 354.6h0M743.9 350.1h0M743.9 345.6h0M743.9 343.3h0M743.9 338.8h0M743.9 334.3h0M743.9 329.7h0M743.9 323.0h0M744.8 368.2h0M744.8 365.9h0M744.8 363.6h0M744.8 361.4h0M744.8 359.1h0M744.8 356.9h0M744.8 354.6h0M744.8 350.1h0M744.8 347.8h0M744.8 345.6h0M744.8 343.3h0M744.8 341.0h0M744.8 338.8h0M744.8 334.3h0M744.8 329.7h0M744.8 327.5h0M744.8 325.2h0M745.7 365.9h0M745.7 363.6h0M745.7 361.4h0M745.7 359.1h0M745.7 354.6h0M745.7 352.3h0M745.7 350.1h0M745.7 347.8h0M745.7 345.6h0M745.7 343.3h0M745.7 341.0h0M745.7 338.8h0M745.7 336.5h0M745.7 334.3h0M745.7 332.0h0M745.7 329.7h0M745.7 327.5h0M745.7 325.2h0M747.0 368.2h0M747.0 361.4h0M747.0 356.9h0M747.0 354.6h0M747.0 352.3h0M747.0 347.8h0M747.0 343.3h0M747.0 336.5h0M747.0 332.0h0M747.0 329.7h0M747.0 325.2h0M748.0 368.2h0M748.0 365.9h0M748.0 350.1h0M748.0 347.8h0M748.0 345.6h0M748.0 338.8h0M748.0 336.5h0M748.0 332.0h0M748.0 329.7h0M748.0 327.5h0M748.0 325.2h0M748.9 384.0h0M748.9 381.7h0M748.9 374.9h0M748.9 370.4h0M748.9 368.2h0M748.9 363.6h0M748.9 361.4h0M748.9 356.9h0M748.9 354.6h0M748.9 352.3h0M748.9 350.1h0M748.9 345.6h0M748.9 343.3h0M748.9 338.8h0M748.9 336.5h0M748.9 334.3h0M748.9 329.7h0M750.0 384.0h0M750.0 377.2h0M750.0 374.9h0M750.0 372.7h0M750.0 370.4h0M750.0 368.2h0M750.0 363.6h0M750.0 361.4h0M750.0 359.1h0M750.0 356.9h0M750.0 354.6h0M750.0 352.3h0M750.0 350.1h0M750.0 347.8h0M750.0 345.6h0M750.0 343.3h0M750.0 341.0h0M750.0 338.8h0M750.0 336.5h0M750.0 334.3h0M750.0 332.0h0M750.0 329.7h0M750.0 327.5h0M750.0 325.2h0M750.0 320.7h0M751.0 381.7h0M751.0 374.9h0M751.0 372.7h0M751.0 370.4h0M751.0 368.2h0M751.0 363.6h0M751.0 361.4h0M751.0 359.1h0M751.0 354.6h0M751.0 352.3h0M751.0 350.1h0M751.0 347.8h0M751.0 345.6h0M751.0 343.3h0M751.0 341.0h0M751.0 338.8h0M751.0 336.5h0M751.0 332.0h0M751.0 329.7h0M751.0 327.5h0M751.7 397.5h0M751.7 388.5h0M751.7 386.2h0M751.7 384.0h0M751.7 381.7h0M751.7 379.5h0M751.7 370.4h0M751.7 365.9h0M751.7 363.6h0M751.7 361.4h0M751.7 356.9h0M751.7 350.1h0M751.7 347.8h0M751.7 341.0h0M751.7 338.8h0M751.7 336.5h0M751.7 329.7h0M752.8 390.8h0M752.8 388.5h0M752.8 386.2h0M752.8 384.0h0M752.8 381.7h0M752.8 379.5h0M752.8 377.2h0M752.8 374.9h0M752.8 372.7h0M752.8 370.4h0M752.8 368.2h0M752.8 365.9h0M752.8 363.6h0M752.8 361.4h0M752.8 359.1h0M752.8 356.9h0M752.8 354.6h0M752.8 352.3h0M752.8 350.1h0M752.8 347.8h0M752.8 345.6h0M752.8 343.3h0M752.8 341.0h0M752.8 338.8h0M752.8 336.5h0M721.5 289.6h0M721.5 294.1h0M721.5 296.4h0M721.5 298.6h0M721.5 300.9h0M721.5 305.4h0M721.5 307.7h0M721.5 309.9h0M721.5 312.2h0M721.5 314.5h0M721.5 316.7h0M721.5 319.0h0M721.5 321.2h0M721.5 323.5h0M721.5 325.8h0M721.5 328.0h0M721.5 332.5h0M721.5 334.8h0M721.5 337.1h0M721.5 339.3h0M721.5 341.6h0M721.5 343.8h0M721.5 346.1h0M721.5 348.4h0M721.5 350.6h0M721.5 352.9h0M721.5 355.1h0M721.5 357.4h0M721.5 359.7h0M721.5 361.9h0M197.2 347.8h0M197.2 350.1h0M197.2 354.6h0M197.2 356.9h0M200.2 345.6h0M200.2 347.8h0M200.2 350.1h0M204.1 347.8h0M204.1 350.1h0M208.0 345.6h0M208.0 347.8h0M208.0 350.1h0M208.0 352.3h0M208.0 354.6h0M208.0 356.9h0M212.4 347.8h0M212.4 350.1h0M212.4 352.3h0M212.4 356.9h0M212.4 359.1h0M216.8 347.8h0M216.8 350.1h0M216.8 352.3h0M216.8 354.6h0M492.4 332.0h0M492.4 334.3h0M492.4 336.5h0M492.4 338.8h0M492.4 341.0h0M492.4 343.3h0M492.4 345.6h0M492.4 347.8h0M492.4 350.1h0M492.4 352.3h0M492.4 354.6h0M497.2 332.0h0M497.2 334.3h0M497.2 336.5h0M497.2 341.0h0M497.2 343.3h0M497.2 345.6h0M497.2 347.8h0M497.2 350.1h0M497.2 352.3h0M497.2 354.6h0M497.2 356.9h0M497.2 359.1h0M503.0 332.0h0M503.0 334.3h0M503.0 338.8h0M503.0 341.0h0M503.0 345.6h0M503.0 347.8h0M503.0 352.3h0M503.0 354.6h0M503.0 356.9h0M507.0 332.0h0M507.0 334.3h0M507.0 336.5h0M507.0 341.0h0M507.0 343.3h0M514.7 332.0h0M514.7 334.3h0M514.7 336.5h0M514.7 338.8h0M514.7 341.0h0M520.5 332.0h0M520.5 334.3h0M520.5 336.5h0M520.5 341.0h0M520.5 343.3h0M551.2 332.0h0M551.2 334.3h0M551.2 336.5h0M551.2 338.8h0M551.2 343.3h0M551.2 345.6h0M551.2 347.8h0M551.2 350.1h0M551.2 356.9h0M551.2 361.4h0M555.8 332.0h0M555.8 334.3h0M555.8 341.0h0M555.8 343.3h0M555.8 345.6h0M555.8 347.8h0M555.8 350.1h0M555.8 352.3h0M555.8 354.6h0M555.8 356.9h0M555.8 359.1h0M559.0 332.0h0M559.0 334.3h0M559.0 336.5h0M559.0 341.0h0M559.0 343.3h0M559.0 347.8h0M562.7 334.3h0M562.7 336.5h0M562.7 341.0h0M562.7 343.3h0M562.7 347.8h0M562.7 352.3h0M568.3 332.0h0M568.3 336.5h0M568.3 341.0h0M568.3 343.3h0M571.7 332.0h0M571.7 334.3h0M571.7 336.5h0M571.7 338.8h0M571.7 341.0h0M571.7 343.3h0M571.7 347.8h0M571.7 350.1h0M571.7 352.3h0M571.7 354.6h0M571.7 356.9h0M571.7 359.1h0M571.7 361.4h0M575.8 332.0h0M575.8 334.3h0M575.8 338.8h0M575.8 341.0h0M575.8 343.3h0M575.8 345.6h0M575.8 352.3h0M590.0 336.5h0M590.0 338.8h0M590.0 341.0h0M590.0 343.3h0M590.0 345.6h0M593.4 336.5h0M593.4 338.8h0M593.4 343.3h0M593.4 347.8h0M593.4 350.1h0M593.4 352.3h0M597.4 336.5h0M597.4 341.0h0M597.4 343.3h0M597.4 347.8h0M597.4 352.3h0M597.4 354.6h0M600.9 323.0h0M600.9 325.2h0M600.9 327.5h0M600.9 329.7h0M600.9 336.5h0M600.9 338.8h0M600.9 341.0h0M600.9 343.3h0M600.9 345.6h0M600.9 347.8h0M600.9 350.1h0M600.9 356.9h0M600.9 359.1h0M605.4 318.4h0M605.4 320.7h0M605.4 323.0h0M605.4 325.2h0M605.4 332.0h0M605.4 334.3h0M609.7 318.4h0M609.7 320.7h0M609.7 327.5h0M609.7 332.0h0M609.7 334.3h0M609.7 336.5h0M609.7 338.8h0M609.7 341.0h0M609.7 345.6h0M609.7 347.8h0M609.7 350.1h0M612.7 318.4h0M612.7 323.0h0M612.7 327.5h0M612.7 329.7h0M612.7 332.0h0M612.7 336.5h0M612.7 338.8h0M612.7 341.0h0M612.7 343.3h0M612.7 345.6h0M612.7 347.8h0M613.7 320.7h0M613.7 323.0h0M613.7 325.2h0M613.7 327.5h0M613.7 329.7h0M613.7 332.0h0M613.7 334.3h0M613.7 336.5h0M616.7 320.7h0M616.7 323.0h0M616.7 325.2h0M616.7 332.0h0M616.7 334.3h0M616.7 336.5h0M616.7 338.8h0M616.7 343.3h0M616.7 345.6h0M616.7 347.8h0M616.7 352.3h0M616.7 354.6h0M616.7 356.9h0M616.7 359.1h0M616.7 361.4h0M616.7 363.6h0M616.7 365.9h0M616.7 368.2h0M631.2 332.0h0M631.2 334.3h0M631.2 336.5h0M631.2 338.8h0M631.2 341.0h0M631.2 343.3h0M631.2 345.6h0M631.2 347.8h0M631.2 352.3h0M631.2 354.6h0M631.2 356.9h0M631.2 359.1h0M635.8 332.0h0M635.8 334.3h0M635.8 336.5h0M635.8 338.8h0M635.8 341.0h0M635.8 343.3h0M635.8 345.6h0M635.8 347.8h0M635.8 352.3h0M635.8 354.6h0M640.8 332.0h0M640.8 334.3h0M640.8 336.5h0M640.8 338.8h0M640.8 341.0h0M640.8 343.3h0M640.8 345.6h0M640.8 347.8h0M640.8 350.1h0M640.8 352.3h0M640.8 354.6h0M640.8 361.4h0M640.8 363.6h0M646.2 334.3h0M646.2 336.5h0M646.2 338.8h0M646.2 341.0h0M637.5 341.0h0M637.5 343.3h0M637.5 345.6h0M637.5 347.8h0M637.5 350.1h0M637.5 352.3h0M637.5 354.6h0M637.5 356.9h0M637.5 359.1h0M643.8 341.0h0M643.8 343.3h0M643.8 345.6h0M643.8 347.8h0M643.8 350.1h0M646.2 341.0h0M646.2 343.3h0M646.2 347.8h0M384.0 341.0h0M384.0 343.3h0M384.0 345.6h0M388.6 343.3h0M388.6 345.6h0M388.6 350.1h0M388.6 352.3h0M388.6 354.6h0M388.6 356.9h0M405.2 347.8h0M405.2 350.1h0M405.2 352.3h0M405.2 354.6h0M405.2 356.9h0M410.0 347.8h0M410.0 352.3h0M410.0 354.6h0M410.0 356.9h0M413.7 347.8h0M413.7 350.1h0M413.7 352.3h0M413.7 354.6h0M413.7 356.9h0M413.7 359.1h0M418.3 347.8h0M418.3 352.3h0M418.3 354.6h0M418.3 356.9h0M418.3 359.1h0M326.1 350.1h0M326.1 354.6h0M332.6 350.1h0M332.6 352.3h0M332.6 354.6h0M340.3 352.3h0M340.3 354.6h0M340.3 359.1h0M667.1 325.2h0M667.1 327.5h0M667.1 329.7h0M667.1 332.0h0M667.1 334.3h0M667.1 336.5h0M667.1 343.3h0M670.0 325.2h0M670.0 327.5h0M670.0 329.7h0M670.0 334.3h0M670.0 336.5h0M670.0 338.8h0M673.3 325.2h0M673.3 332.0h0M673.3 334.3h0M700.0 320.7h0M700.0 323.0h0M700.0 325.2h0M700.0 327.5h0M700.0 329.7h0M700.0 332.0h0M700.0 334.3h0M700.0 336.5h0M702.4 320.7h0M702.4 325.2h0M702.4 327.5h0M702.4 329.7h0M702.4 334.3h0M702.4 338.8h0M702.4 343.3h0M702.4 345.6h0M702.4 347.8h0M702.4 350.1h0M702.4 352.3h0M702.4 354.6h0M702.4 356.9h0M702.4 359.1h0M705.3 320.7h0M705.3 323.0h0M705.3 327.5h0M705.3 329.7h0M705.3 332.0h0M705.3 336.5h0M705.3 343.3h0M705.3 345.6h0M705.3 350.1h0M705.3 352.3h0" stroke="#2020f8" stroke-width="3.2" stroke-linecap="round" fill="none"/><path d="M183.7 379.5h0M183.7 374.9h0M183.7 368.2h0M183.7 365.9h0M183.7 361.4h0M183.7 356.9h0M183.7 354.6h0M183.7 352.3h0M183.7 350.1h0M183.7 347.8h0M183.7 332.0h0M183.7 327.5h0M183.7 300.4h0M183.7 295.8h0M184.5 363.6h0M184.5 361.4h0M184.5 352.3h0M184.5 325.2h0M184.5 323.0h0M184.5 320.7h0M184.5 318.4h0M184.5 311.7h0M184.5 307.1h0M184.5 300.4h0M184.5 298.1h0M185.6 347.8h0M185.6 345.6h0M185.6 332.0h0M185.6 329.7h0M185.6 318.4h0M185.6 311.7h0M185.6 298.1h0M187.1 338.8h0M187.1 336.5h0M187.1 334.3h0M187.1 332.0h0M187.1 318.4h0M187.1 316.2h0M187.1 300.4h0M187.9 329.7h0M187.9 327.5h0M187.9 325.2h0M187.9 316.2h0M188.9 336.5h0M188.9 332.0h0M188.9 325.2h0M188.9 318.4h0M188.9 313.9h0M189.6 343.3h0M189.6 341.0h0M189.6 336.5h0M189.6 329.7h0M189.6 325.2h0M189.6 311.7h0M189.6 309.4h0M189.6 304.9h0M190.8 393.0h0M190.8 390.8h0M190.8 388.5h0M190.8 386.2h0M190.8 384.0h0M190.8 381.7h0M190.8 379.5h0M190.8 365.9h0M190.8 359.1h0M190.8 334.3h0M190.8 323.0h0M190.8 313.9h0M190.8 311.7h0M190.8 309.4h0M190.8 307.1h0M191.9 399.8h0M191.9 388.5h0M191.9 386.2h0M191.9 377.2h0M191.9 370.4h0M191.9 350.1h0M191.9 347.8h0M191.9 345.6h0M191.9 343.3h0M191.9 320.7h0M191.9 318.4h0M191.9 311.7h0M191.9 309.4h0M191.9 289.1h0M191.9 282.3h0M192.6 395.3h0M192.6 393.0h0M192.6 390.8h0M192.6 384.0h0M192.6 381.7h0M192.6 379.5h0M192.6 374.9h0M192.6 368.2h0M192.6 365.9h0M192.6 356.9h0M192.6 347.8h0M192.6 336.5h0M192.6 318.4h0M192.6 316.2h0M192.6 311.7h0M192.6 307.1h0M192.6 304.9h0M192.6 295.8h0M192.6 280.0h0M192.6 277.8h0M194.1 395.3h0M194.1 388.5h0M194.1 384.0h0M194.1 381.7h0M194.1 368.2h0M194.1 359.1h0M194.1 356.9h0M194.1 354.6h0M194.1 347.8h0M194.1 341.0h0M194.1 323.0h0M194.1 313.9h0M194.1 309.4h0M194.1 304.9h0M194.1 295.8h0M194.1 289.1h0M195.0 399.8h0M195.0 388.5h0M195.0 386.2h0M195.0 381.7h0M195.0 361.4h0M195.0 359.1h0M195.0 354.6h0M195.0 350.1h0M195.0 334.3h0M195.0 332.0h0M195.0 323.0h0M195.0 313.9h0M195.0 311.7h0M195.0 309.4h0M195.6 390.8h0M195.6 386.2h0M195.6 379.5h0M195.6 372.7h0M195.6 368.2h0M195.6 359.1h0M195.6 347.8h0M195.6 336.5h0M195.6 329.7h0M195.6 311.7h0M195.6 307.1h0M196.5 334.3h0M196.5 329.7h0M196.5 327.5h0M196.5 320.7h0M196.5 318.4h0M196.5 313.9h0M198.1 332.0h0M198.1 327.5h0M199.0 338.8h0M199.0 336.5h0M199.0 334.3h0M199.0 329.7h0M199.0 327.5h0M199.0 325.2h0M199.0 318.4h0M199.0 311.7h0M199.7 347.8h0M199.7 343.3h0M199.7 334.3h0M199.7 327.5h0M199.7 325.2h0M199.7 311.7h0M199.7 309.4h0M200.8 350.1h0M200.8 336.5h0M200.8 311.7h0M200.8 307.1h0M200.8 304.9h0M201.9 341.0h0M201.9 338.8h0M201.9 329.7h0M201.9 327.5h0M201.9 325.2h0M201.9 320.7h0M201.9 309.4h0M201.9 307.1h0M202.6 356.9h0M202.6 350.1h0M202.6 341.0h0M202.6 334.3h0M202.6 313.9h0M204.0 341.0h0M204.0 334.3h0M204.0 332.0h0M204.0 329.7h0M204.0 327.5h0M204.0 323.0h0M204.0 311.7h0M204.0 309.4h0M204.7 336.5h0M204.7 334.3h0M204.7 304.9h0M206.1 345.6h0M206.1 343.3h0M206.1 341.0h0M206.1 336.5h0M206.1 329.7h0M206.1 325.2h0M206.1 316.2h0M206.1 304.9h0M206.7 327.5h0M206.7 323.0h0M206.7 320.7h0M206.7 316.2h0M208.0 327.5h0M209.0 343.3h0M209.0 332.0h0M209.0 329.7h0M209.0 307.1h0M209.0 304.9h0M209.8 345.6h0M209.8 343.3h0M209.8 336.5h0M209.8 327.5h0M209.8 323.0h0M209.8 320.7h0M209.8 318.4h0M209.8 311.7h0M209.8 309.4h0M209.8 302.6h0M210.9 347.8h0M210.9 341.0h0M210.9 334.3h0M210.9 313.9h0M211.9 354.6h0M211.9 336.5h0M211.9 327.5h0M211.9 309.4h0M212.6 345.6h0M212.6 334.3h0M212.6 313.9h0M212.6 311.7h0M212.6 309.4h0M212.6 300.4h0M213.8 345.6h0M213.8 329.7h0M213.8 318.4h0M213.8 316.2h0M213.8 313.9h0M213.8 311.7h0M213.8 309.4h0M215.1 347.8h0M215.1 338.8h0M215.1 334.3h0M215.1 332.0h0M215.1 323.0h0M215.1 318.4h0M215.8 347.8h0M215.8 343.3h0M215.8 334.3h0M215.8 320.7h0M215.8 313.9h0M215.8 309.4h0M215.8 304.9h0M217.0 350.1h0M217.0 347.8h0M217.0 343.3h0M217.0 341.0h0M217.0 336.5h0M217.0 332.0h0M217.0 323.0h0M217.0 318.4h0M217.0 307.1h0M217.8 334.3h0M217.8 332.0h0M217.8 329.7h0M217.8 325.2h0M219.1 384.0h0M219.1 381.7h0M219.1 379.5h0M219.1 377.2h0M219.1 374.9h0M219.1 370.4h0M219.1 363.6h0M219.1 361.4h0M219.1 359.1h0M219.1 356.9h0M219.1 354.6h0M219.1 352.3h0M219.1 345.6h0M219.1 338.8h0M219.1 334.3h0M219.1 329.7h0M219.1 325.2h0M219.9 381.7h0M219.9 377.2h0M219.9 370.4h0M219.9 368.2h0M219.9 365.9h0M219.9 361.4h0M219.9 354.6h0M219.9 352.3h0M219.9 347.8h0M219.9 332.0h0M220.7 359.1h0M220.7 352.3h0M220.7 341.0h0M220.7 336.5h0M220.7 327.5h0M221.9 397.5h0M221.9 395.3h0M221.9 390.8h0M221.9 381.7h0M221.9 374.9h0M221.9 372.7h0M221.9 368.2h0M221.9 356.9h0M221.9 338.8h0M221.9 332.0h0M221.9 329.7h0M222.7 393.0h0M222.7 388.5h0M222.7 384.0h0M222.7 377.2h0M222.7 368.2h0M222.7 365.9h0M222.7 350.1h0M222.7 343.3h0M222.7 341.0h0M222.7 332.0h0M223.7 397.5h0M223.7 393.0h0M223.7 381.7h0M223.7 372.7h0M223.7 370.4h0M223.7 368.2h0M223.7 363.6h0M223.7 347.8h0M223.7 343.3h0M223.7 341.0h0M223.7 332.0h0M225.1 393.0h0M225.1 372.7h0M225.1 370.4h0M225.1 368.2h0M225.1 363.6h0M225.1 336.5h0M225.1 334.3h0M225.7 393.0h0M225.7 390.8h0M225.7 388.5h0M225.7 377.2h0M225.7 374.9h0M225.7 368.2h0M225.7 354.6h0M225.7 343.3h0M225.7 332.0h0M226.6 390.8h0M226.6 386.2h0M226.6 384.0h0M226.6 377.2h0M226.6 372.7h0M226.6 370.4h0M226.6 341.0h0M228.0 393.0h0M228.0 390.8h0M228.0 386.2h0M228.0 384.0h0M228.0 368.2h0M228.0 359.1h0M228.0 356.9h0M228.0 354.6h0M228.0 334.3h0M228.6 390.8h0M228.6 388.5h0M228.6 379.5h0M228.6 368.2h0M228.6 361.4h0M228.6 354.6h0M228.6 347.8h0M228.6 345.6h0M228.6 341.0h0M228.6 334.3h0M228.6 332.0h0M229.6 379.5h0M229.6 370.4h0M229.6 352.3h0M229.6 350.1h0M229.6 341.0h0M230.6 390.8h0M230.6 388.5h0M230.6 384.0h0M230.6 377.2h0M230.6 370.4h0M230.6 363.6h0M230.6 347.8h0M230.6 345.6h0M231.6 374.9h0M231.6 370.4h0M231.6 359.1h0M231.6 356.9h0M231.6 350.1h0M231.6 343.3h0M232.5 374.9h0M232.5 372.7h0M232.5 370.4h0M232.5 365.9h0M232.5 350.1h0M232.5 327.5h0M232.5 318.4h0M232.5 316.2h0M232.5 307.1h0M232.5 300.4h0M233.5 374.9h0M233.5 365.9h0M233.5 359.1h0M233.5 356.9h0M233.5 354.6h0M233.5 329.7h0M233.5 307.1h0M234.6 374.9h0M234.6 372.7h0M234.6 363.6h0M234.6 354.6h0M234.6 336.5h0M234.6 334.3h0M234.6 318.4h0M234.6 313.9h0M234.6 309.4h0M235.7 370.4h0M235.7 368.2h0M235.7 363.6h0M235.7 356.9h0M235.7 345.6h0M235.7 316.2h0M236.6 365.9h0M236.6 363.6h0M236.6 359.1h0M236.6 356.9h0M236.6 350.1h0M236.6 341.0h0M236.6 327.5h0M238.1 368.2h0M238.1 356.9h0M238.1 350.1h0M238.1 347.8h0M238.1 345.6h0M238.1 334.3h0M238.1 323.0h0M238.7 368.2h0M238.7 359.1h0M238.7 356.9h0M238.7 341.0h0M238.7 332.0h0M238.7 329.7h0M238.7 316.2h0M239.8 370.4h0M239.8 352.3h0M239.8 350.1h0M239.8 343.3h0M239.8 341.0h0M239.8 338.8h0M239.8 320.7h0M239.8 311.7h0M240.8 361.4h0M240.8 356.9h0M240.8 338.8h0M240.8 325.2h0M240.8 318.4h0M240.8 300.4h0M242.0 370.4h0M242.0 363.6h0M242.0 361.4h0M242.0 356.9h0M242.0 341.0h0M242.0 334.3h0M242.0 309.4h0M242.0 300.4h0M242.7 361.4h0M242.7 359.1h0M242.7 352.3h0M242.7 347.8h0M242.7 345.6h0M242.7 338.8h0M242.7 329.7h0M242.7 313.9h0M243.9 347.8h0M243.9 313.9h0M243.9 307.1h0M243.9 300.4h0M244.8 334.3h0M244.8 327.5h0M244.8 298.1h0M245.7 343.3h0M245.7 336.5h0M245.7 334.3h0M245.7 329.7h0M245.7 327.5h0M245.7 320.7h0M245.7 307.1h0M245.7 302.6h0M247.0 343.3h0M247.0 338.8h0M247.0 329.7h0M247.0 325.2h0M247.0 323.0h0M247.0 302.6h0M247.0 298.1h0M247.9 354.6h0M247.9 341.0h0M247.9 334.3h0M247.9 311.7h0M247.9 307.1h0M247.9 304.9h0M247.9 300.4h0M247.9 298.1h0M247.9 295.8h0M249.0 347.8h0M249.0 341.0h0M249.0 309.4h0M249.5 318.4h0M249.5 313.9h0M249.5 300.4h0M249.5 298.1h0M250.9 345.6h0M250.9 336.5h0M250.9 332.0h0M250.9 311.7h0M250.9 302.6h0M252.0 336.5h0M252.0 332.0h0M252.0 327.5h0M252.0 325.2h0M252.0 313.9h0M252.0 311.7h0M252.0 307.1h0M252.0 304.9h0M252.0 300.4h0M252.0 298.1h0M252.8 336.5h0M252.8 327.5h0M252.8 325.2h0M252.8 320.7h0M252.8 316.2h0M252.8 307.1h0M253.6 334.3h0M253.6 320.7h0M253.6 316.2h0M253.6 300.4h0M254.5 332.0h0M254.5 327.5h0M254.5 325.2h0M254.5 309.4h0M254.5 298.1h0M255.6 325.2h0M255.6 318.4h0M256.6 320.7h0M256.6 304.9h0M256.6 291.3h0M257.5 338.8h0M257.5 329.7h0M257.5 323.0h0M257.5 320.7h0M257.5 318.4h0M257.5 316.2h0M257.5 313.9h0M257.5 309.4h0M257.5 298.1h0M258.6 327.5h0M258.6 320.7h0M258.6 316.2h0M258.6 313.9h0M258.6 300.4h0M259.9 327.5h0M259.9 325.2h0M259.9 318.4h0M259.9 316.2h0M259.9 311.7h0M259.9 298.1h0M259.9 293.6h0M260.5 332.0h0M260.5 327.5h0M260.5 325.2h0M260.5 320.7h0M260.5 316.2h0M260.5 313.9h0M260.5 295.8h0M261.6 329.7h0M261.6 311.7h0M261.6 289.1h0M263.0 332.0h0M263.0 323.0h0M263.0 320.7h0M263.0 318.4h0M263.0 313.9h0M263.0 289.1h0M264.0 379.5h0M264.0 370.4h0M264.0 343.3h0M264.0 336.5h0M264.0 332.0h0M264.0 313.9h0M264.0 302.6h0M264.0 291.3h0M264.0 289.1h0M264.7 368.2h0M264.7 363.6h0M264.7 354.6h0M264.7 352.3h0M264.7 350.1h0M264.7 347.8h0M264.7 345.6h0M264.7 343.3h0M264.7 341.0h0M264.7 334.3h0M264.7 332.0h0M264.7 329.7h0M264.7 323.0h0M264.7 320.7h0M264.7 318.4h0M264.7 313.9h0M265.8 386.2h0M265.8 374.9h0M265.8 370.4h0M265.8 368.2h0M265.8 363.6h0M265.8 361.4h0M265.8 356.9h0M265.8 350.1h0M265.8 345.6h0M265.8 343.3h0M265.8 327.5h0M265.8 320.7h0M265.8 311.7h0M265.8 309.4h0M265.8 304.9h0M265.8 293.6h0M266.6 386.2h0M266.6 325.2h0M266.6 323.0h0M266.6 307.1h0M266.6 304.9h0M266.6 300.4h0M266.6 293.6h0M267.6 336.5h0M267.6 329.7h0M267.6 309.4h0M267.6 295.8h0M267.6 284.5h0M269.1 316.2h0M269.1 293.6h0M269.1 289.1h0M270.1 338.8h0M270.1 336.5h0M270.1 318.4h0M270.1 311.7h0M270.1 307.1h0M270.1 295.8h0M271.0 327.5h0M271.0 304.9h0M271.0 302.6h0M271.0 291.3h0M271.0 289.1h0M271.7 334.3h0M271.7 332.0h0M271.7 327.5h0M271.7 323.0h0M271.7 320.7h0M271.7 313.9h0M271.7 309.4h0M271.7 307.1h0M271.7 291.3h0M271.7 289.1h0M272.7 320.7h0M272.7 318.4h0M272.7 309.4h0M272.7 307.1h0M272.7 295.8h0M272.7 289.1h0M273.7 329.7h0M273.7 320.7h0M273.7 286.8h0M275.1 332.0h0M275.1 313.9h0M275.1 302.6h0M275.1 293.6h0M275.1 289.1h0M275.1 277.8h0M276.0 343.3h0M276.0 334.3h0M276.0 332.0h0M276.0 320.7h0M276.0 295.8h0M276.0 286.8h0M276.0 284.5h0M276.0 282.3h0M276.6 332.0h0M276.6 327.5h0M276.6 323.0h0M276.6 313.9h0M276.6 307.1h0M276.6 298.1h0M276.6 289.1h0M277.8 318.4h0M277.8 316.2h0M277.8 302.6h0M277.8 289.1h0M277.8 286.8h0M277.8 282.3h0M279.1 320.7h0M279.1 309.4h0M279.1 302.6h0M279.1 295.8h0M279.1 289.1h0M279.6 329.7h0M279.6 304.9h0M279.6 300.4h0M279.6 295.8h0M279.6 282.3h0M280.7 327.5h0M280.7 318.4h0M280.7 316.2h0M280.7 311.7h0M280.7 304.9h0M280.7 302.6h0M280.7 300.4h0M280.7 293.6h0M281.9 318.4h0M281.9 302.6h0M281.9 286.8h0M281.9 282.3h0M281.9 280.0h0M282.9 334.3h0M282.9 325.2h0M282.9 313.9h0M282.9 307.1h0M282.9 300.4h0M282.9 298.1h0M282.9 295.8h0M282.9 291.3h0M283.9 325.2h0M283.9 323.0h0M283.9 318.4h0M283.9 295.8h0M283.9 289.1h0M283.9 282.3h0M284.7 293.6h0M284.7 286.8h0M284.7 284.5h0M284.7 277.8h0M284.7 275.5h0M285.5 327.5h0M285.5 291.3h0M286.9 343.3h0M286.9 338.8h0M286.9 325.2h0M286.9 318.4h0M286.9 313.9h0M286.9 311.7h0M286.9 300.4h0M286.9 295.8h0M288.0 350.1h0M288.0 343.3h0M288.0 334.3h0M288.0 327.5h0M288.0 323.0h0M288.0 304.9h0M288.0 293.6h0M288.0 280.0h0M288.8 359.1h0M288.8 338.8h0M288.8 332.0h0M288.8 329.7h0M288.8 313.9h0M288.8 307.1h0M288.8 302.6h0M288.8 295.8h0M289.6 345.6h0M289.6 341.0h0M289.6 313.9h0M289.6 282.3h0M291.0 325.2h0M291.0 323.0h0M291.0 311.7h0M291.0 286.8h0M291.6 325.2h0M291.6 318.4h0M292.9 318.4h0M292.9 298.1h0M292.9 291.3h0M292.9 286.8h0M292.9 282.3h0M293.9 323.0h0M293.9 307.1h0M293.9 298.1h0M293.9 295.8h0M293.9 293.6h0M293.9 284.5h0M294.7 316.2h0M294.7 311.7h0M295.7 320.7h0M295.7 316.2h0M295.7 293.6h0M295.7 280.0h0M296.8 323.0h0M296.8 313.9h0M296.8 284.5h0M297.7 320.7h0M297.7 304.9h0M297.7 291.3h0M299.0 316.2h0M299.0 311.7h0M299.0 307.1h0M299.0 304.9h0M299.0 300.4h0M299.0 295.8h0M299.0 293.6h0M299.9 320.7h0M299.9 316.2h0M299.9 311.7h0M299.9 309.4h0M299.9 304.9h0M299.9 291.3h0M299.9 289.1h0M300.5 320.7h0M300.5 311.7h0M300.5 304.9h0M300.5 300.4h0M300.5 295.8h0M300.5 293.6h0M302.0 318.4h0M302.0 316.2h0M302.0 313.9h0M302.0 307.1h0M302.0 293.6h0M302.0 291.3h0M302.0 284.5h0M303.0 307.1h0M303.0 300.4h0M303.0 289.1h0M303.0 284.5h0M303.6 320.7h0M303.6 313.9h0M303.6 293.6h0M303.6 284.5h0M303.6 282.3h0M303.6 280.0h0M304.8 323.0h0M304.8 320.7h0M304.8 311.7h0M304.8 309.4h0M304.8 293.6h0M306.1 318.4h0M306.1 293.6h0M306.7 313.9h0M306.7 286.8h0M307.5 313.9h0M307.5 311.7h0M307.5 307.1h0M307.5 302.6h0M307.5 298.1h0M307.5 295.8h0M307.5 289.1h0M309.0 313.9h0M309.0 284.5h0M309.0 282.3h0M309.0 277.8h0M309.7 323.0h0M309.7 316.2h0M309.7 295.8h0M309.7 286.8h0M309.7 275.5h0M311.0 332.0h0M311.0 318.4h0M311.5 311.7h0M311.5 302.6h0M311.5 300.4h0M311.5 289.1h0M311.5 282.3h0M311.5 277.8h0M311.5 273.2h0M312.5 370.4h0M312.5 365.9h0M312.5 361.4h0M312.5 354.6h0M312.5 352.3h0M312.5 350.1h0M312.5 345.6h0M312.5 343.3h0M312.5 332.0h0M312.5 320.7h0M312.5 316.2h0M312.5 311.7h0M312.5 298.1h0M312.5 295.8h0M312.5 291.3h0M312.5 286.8h0M312.5 282.3h0M313.8 361.4h0M313.8 359.1h0M313.8 352.3h0M313.8 334.3h0M313.8 332.0h0M313.8 329.7h0M313.8 327.5h0M313.8 325.2h0M313.8 323.0h0M313.8 320.7h0M313.8 318.4h0M313.8 311.7h0M313.8 304.9h0M313.8 302.6h0M313.8 300.4h0M313.8 286.8h0M314.6 343.3h0M314.6 341.0h0M314.6 332.0h0M314.6 327.5h0M314.6 313.9h0M314.6 309.4h0M314.6 304.9h0M314.6 302.6h0M314.6 298.1h0M314.6 284.5h0M314.6 271.0h0M314.6 264.2h0M314.6 257.4h0M315.5 320.7h0M315.5 313.9h0M315.5 307.1h0M315.5 304.9h0M315.5 286.8h0M315.5 284.5h0M315.5 277.8h0M315.5 273.2h0M316.6 311.7h0M316.6 289.1h0M316.6 273.2h0M316.6 271.0h0M317.9 313.9h0M317.9 311.7h0M317.9 302.6h0M317.9 291.3h0M317.9 286.8h0M317.9 271.0h0M317.9 255.2h0M318.8 311.7h0M318.8 307.1h0M318.8 300.4h0M318.8 295.8h0M318.8 289.1h0M318.8 286.8h0M320.0 316.2h0M320.0 302.6h0M320.0 293.6h0M320.0 273.2h0M320.0 268.7h0M321.0 350.1h0M321.0 347.8h0M321.0 338.8h0M321.0 336.5h0M321.0 318.4h0M321.0 293.6h0M321.0 289.1h0M321.0 266.5h0M321.0 264.2h0M321.6 352.3h0M321.6 341.0h0M321.6 338.8h0M321.6 336.5h0M321.6 320.7h0M321.6 307.1h0M321.6 286.8h0M321.6 280.0h0M321.6 261.9h0M322.5 363.6h0M322.5 343.3h0M322.5 341.0h0M322.5 338.8h0M322.5 336.5h0M322.5 320.7h0M322.5 298.1h0M322.5 295.8h0M322.5 293.6h0M322.5 289.1h0M322.5 275.5h0M322.5 268.7h0M323.7 345.6h0M323.7 336.5h0M323.7 334.3h0M323.7 329.7h0M323.7 325.2h0M323.7 320.7h0M323.7 318.4h0M323.7 307.1h0M323.7 284.5h0M323.7 268.7h0M323.7 266.5h0M323.7 264.2h0M323.7 261.9h0M323.7 259.7h0M324.6 338.8h0M324.6 320.7h0M324.6 313.9h0M324.6 311.7h0M324.6 307.1h0M324.6 298.1h0M324.6 257.4h0M325.7 347.8h0M325.7 345.6h0M325.7 338.8h0M325.7 336.5h0M325.7 334.3h0M325.7 325.2h0M325.7 320.7h0M325.7 316.2h0M325.7 313.9h0M326.9 350.1h0M326.9 345.6h0M326.9 338.8h0M326.9 336.5h0M326.9 318.4h0M326.9 313.9h0M326.9 309.4h0M326.9 307.1h0M326.9 304.9h0M326.9 298.1h0M327.5 347.8h0M327.5 327.5h0M327.5 325.2h0M327.5 302.6h0M327.5 300.4h0M328.7 352.3h0M328.7 347.8h0M328.7 334.3h0M328.7 332.0h0M328.7 329.7h0M328.7 323.0h0M328.7 313.9h0M329.8 352.3h0M329.8 343.3h0M329.8 336.5h0M329.8 327.5h0M329.8 320.7h0M329.8 300.4h0M329.8 295.8h0M331.0 352.3h0M331.0 350.1h0M331.0 334.3h0M331.0 327.5h0M331.0 316.2h0M331.0 300.4h0M331.0 298.1h0M331.9 343.3h0M331.9 338.8h0M331.9 336.5h0M331.9 332.0h0M331.9 316.2h0M332.6 329.7h0M332.6 309.4h0M332.6 307.1h0M333.8 334.3h0M333.8 332.0h0M333.8 327.5h0M333.8 325.2h0M333.8 323.0h0M333.8 311.7h0M333.8 295.8h0M333.8 293.6h0M334.8 338.8h0M334.8 332.0h0M334.8 316.2h0M334.8 311.7h0M334.8 309.4h0M334.8 298.1h0M335.8 325.2h0M335.8 311.7h0M335.8 307.1h0M335.8 304.9h0M335.8 295.8h0M336.6 336.5h0M336.6 334.3h0M336.6 332.0h0M336.6 320.7h0M336.6 316.2h0M336.6 313.9h0M338.0 336.5h0M338.0 332.0h0M338.0 323.0h0M338.0 313.9h0M338.0 300.4h0M338.8 338.8h0M338.8 336.5h0M338.8 329.7h0M338.8 320.7h0M338.8 298.1h0M338.8 289.1h0M339.5 307.1h0M340.8 336.5h0M340.8 313.9h0M342.0 332.0h0M342.0 325.2h0M342.0 323.0h0M342.0 320.7h0M342.0 291.3h0M343.0 361.4h0M343.0 359.1h0M343.0 354.6h0M343.0 350.1h0M343.0 341.0h0M343.0 338.8h0M343.0 325.2h0M343.0 320.7h0M343.0 313.9h0M343.0 298.1h0M344.1 365.9h0M344.1 354.6h0M344.1 345.6h0M344.1 338.8h0M344.1 309.4h0M344.5 370.4h0M344.5 359.1h0M344.5 354.6h0M344.5 352.3h0M344.5 350.1h0M344.5 343.3h0M344.5 318.4h0M344.5 316.2h0M345.8 343.3h0M345.8 338.8h0M345.8 309.4h0M347.1 350.1h0M347.1 343.3h0M347.1 327.5h0M347.1 323.0h0M347.1 320.7h0M347.1 316.2h0M347.7 345.6h0M347.7 341.0h0M347.7 336.5h0M347.7 327.5h0M347.7 320.7h0M349.0 341.0h0M349.0 336.5h0M349.0 316.2h0M350.0 350.1h0M350.0 347.8h0M350.0 341.0h0M350.0 338.8h0M350.0 298.1h0M350.5 347.8h0M350.5 345.6h0M350.5 341.0h0M350.5 338.8h0M350.5 336.5h0M350.5 334.3h0M350.5 325.2h0M350.5 318.4h0M350.5 311.7h0M350.5 291.3h0M351.7 390.8h0M351.7 374.9h0M351.7 368.2h0M351.7 356.9h0M351.7 350.1h0M351.7 347.8h0M351.7 338.8h0M351.7 332.0h0M351.7 327.5h0M351.7 320.7h0M353.1 384.0h0M353.1 374.9h0M353.1 368.2h0M353.1 365.9h0M353.1 359.1h0M353.1 354.6h0M353.1 345.6h0M353.1 338.8h0M353.1 334.3h0M353.1 325.2h0M353.1 320.7h0M353.1 313.9h0M353.1 291.3h0M353.9 386.2h0M353.9 384.0h0M353.9 377.2h0M353.9 368.2h0M353.9 365.9h0M353.9 363.6h0M353.9 354.6h0M353.9 352.3h0M353.9 338.8h0M353.9 329.7h0M353.9 325.2h0M353.9 313.9h0M353.9 304.9h0M353.9 295.8h0M354.9 390.8h0M354.9 350.1h0M354.9 347.8h0M354.9 338.8h0M354.9 336.5h0M354.9 329.7h0M355.9 361.4h0M355.9 345.6h0M355.9 343.3h0M355.9 336.5h0M355.9 318.4h0M356.9 363.6h0M356.9 361.4h0M356.9 356.9h0M356.9 354.6h0M356.9 343.3h0M356.9 338.8h0M356.9 332.0h0M356.9 320.7h0M357.6 354.6h0M357.6 352.3h0M357.6 336.5h0M357.6 332.0h0M357.6 323.0h0M358.7 363.6h0M358.7 327.5h0M358.7 323.0h0M358.7 316.2h0M359.6 356.9h0M359.6 345.6h0M359.6 341.0h0M359.6 336.5h0M359.6 329.7h0M359.6 323.0h0M359.6 313.9h0M361.1 343.3h0M361.1 332.0h0M361.6 354.6h0M361.6 350.1h0M361.6 347.8h0M361.6 327.5h0M361.6 320.7h0M363.1 347.8h0M363.1 343.3h0M363.1 341.0h0M363.1 327.5h0M363.1 320.7h0M363.7 336.5h0M363.7 334.3h0M363.7 320.7h0M363.7 311.7h0M364.8 334.3h0M364.8 332.0h0M364.8 325.2h0M364.8 320.7h0M366.1 338.8h0M366.1 334.3h0M366.1 329.7h0M366.1 313.9h0M366.1 309.4h0M366.6 327.5h0M366.6 325.2h0M366.6 311.7h0M368.0 347.8h0M368.0 338.8h0M368.0 320.7h0M368.0 318.4h0M368.9 329.7h0M368.9 325.2h0M369.9 354.6h0M369.9 352.3h0M369.9 350.1h0M369.9 347.8h0M369.9 345.6h0M369.9 341.0h0M369.9 334.3h0M369.9 332.0h0M369.9 327.5h0M369.9 316.2h0M370.7 354.6h0M370.7 352.3h0M370.7 347.8h0M370.7 341.0h0M370.7 332.0h0M370.7 320.7h0M370.7 318.4h0M370.7 316.2h0M370.7 313.9h0M371.8 325.2h0M371.8 304.9h0M371.8 300.4h0M371.8 293.6h0M372.8 350.1h0M372.8 338.8h0M372.8 336.5h0M372.8 332.0h0M372.8 327.5h0M372.8 325.2h0M372.8 295.8h0M372.8 291.3h0M373.5 336.5h0M373.5 329.7h0M373.5 320.7h0M373.5 293.6h0M375.0 352.3h0M375.0 341.0h0M375.0 329.7h0M375.7 365.9h0M375.7 363.6h0M375.7 361.4h0M375.7 356.9h0M375.7 354.6h0M375.7 352.3h0M375.7 350.1h0M375.7 347.8h0M375.7 343.3h0M375.7 338.8h0M375.7 336.5h0M375.7 334.3h0M375.7 320.7h0M375.7 318.4h0M375.7 316.2h0M375.7 309.4h0M377.0 363.6h0M377.0 361.4h0M377.0 334.3h0M377.0 327.5h0M377.0 320.7h0M377.0 313.9h0M377.0 311.7h0M377.0 304.9h0M379.1 327.5h0M379.1 325.2h0M379.1 318.4h0M379.1 313.9h0M379.9 345.6h0M379.9 327.5h0M379.9 311.7h0M380.7 336.5h0M380.7 320.7h0M380.7 318.4h0M381.6 341.0h0M381.6 334.3h0M381.6 332.0h0M381.6 325.2h0M381.6 323.0h0M381.6 318.4h0M382.8 336.5h0M382.8 311.7h0M384.0 336.5h0M384.0 332.0h0M384.0 309.4h0M384.0 307.1h0M384.8 332.0h0M384.8 329.7h0M384.8 320.7h0M384.8 307.1h0M385.9 336.5h0M385.9 334.3h0M385.9 329.7h0M385.9 316.2h0M385.9 311.7h0M385.9 307.1h0M386.7 341.0h0M386.7 338.8h0M386.7 336.5h0M386.7 325.2h0M386.7 311.7h0M386.7 304.9h0M387.6 345.6h0M387.6 343.3h0M387.6 338.8h0M387.6 336.5h0M387.6 334.3h0M387.6 332.0h0M387.6 329.7h0M387.6 316.2h0M387.6 311.7h0M387.6 309.4h0M389.1 343.3h0M389.1 332.0h0M389.1 316.2h0M390.0 336.5h0M390.0 334.3h0M390.0 329.7h0M390.0 325.2h0M390.0 307.1h0M390.6 327.5h0M390.6 323.0h0M392.1 338.8h0M392.1 336.5h0M392.1 329.7h0M392.1 327.5h0M392.1 313.9h0M392.1 311.7h0M392.6 336.5h0M392.6 332.0h0M392.6 325.2h0M392.6 318.4h0M392.6 313.9h0M392.6 311.7h0M392.6 304.9h0M394.1 336.5h0M394.1 327.5h0M394.1 325.2h0M394.1 316.2h0M394.8 347.8h0M394.8 338.8h0M394.8 336.5h0M394.8 332.0h0M394.8 327.5h0M394.8 316.2h0M395.6 332.0h0M395.6 295.8h0M396.8 341.0h0M396.8 338.8h0M396.8 334.3h0M396.8 329.7h0M396.8 327.5h0M396.8 323.0h0M396.8 318.4h0M396.8 311.7h0M396.8 309.4h0M398.0 336.5h0M398.0 327.5h0M398.0 325.2h0M398.0 323.0h0M398.0 311.7h0M398.0 304.9h0M398.8 347.8h0M398.8 336.5h0M398.8 332.0h0M398.8 323.0h0M398.8 320.7h0M398.8 313.9h0M400.1 338.8h0M400.1 336.5h0M400.1 334.3h0M400.1 323.0h0M400.1 302.6h0M400.1 300.4h0M400.1 293.6h0M400.6 341.0h0M400.6 327.5h0M400.6 311.7h0M400.6 309.4h0M400.6 307.1h0M400.6 293.6h0M401.9 361.4h0M401.9 359.1h0M401.9 356.9h0M401.9 354.6h0M401.9 347.8h0M401.9 345.6h0M401.9 343.3h0M401.9 336.5h0M403.0 361.4h0M403.0 359.1h0M403.0 354.6h0M403.0 352.3h0M403.0 350.1h0M403.0 343.3h0M403.0 332.0h0M403.0 313.9h0M403.0 311.7h0M403.0 304.9h0M403.0 302.6h0M403.0 295.8h0M403.0 293.6h0M404.0 343.3h0M404.0 332.0h0M404.0 323.0h0M404.0 320.7h0M404.0 313.9h0M404.0 304.9h0M404.0 302.6h0M405.0 338.8h0M405.0 336.5h0M405.0 311.7h0M405.0 293.6h0M406.1 336.5h0M406.1 334.3h0M406.1 327.5h0M406.1 309.4h0M406.1 300.4h0M406.1 293.6h0M407.1 336.5h0M407.1 318.4h0M407.1 316.2h0M407.1 304.9h0M407.1 302.6h0M407.1 291.3h0M407.6 338.8h0M407.6 323.0h0M407.6 320.7h0M407.6 316.2h0M407.6 313.9h0M407.6 293.6h0M408.6 341.0h0M408.6 338.8h0M408.6 334.3h0M408.6 329.7h0M408.6 318.4h0M408.6 304.9h0M408.6 298.1h0M408.6 295.8h0M408.6 291.3h0M409.9 338.8h0M409.9 336.5h0M409.9 329.7h0M409.9 320.7h0M409.9 318.4h0M409.9 309.4h0M409.9 307.1h0M409.9 300.4h0M409.9 295.8h0M411.1 341.0h0M411.1 329.7h0M411.1 327.5h0M411.1 323.0h0M411.1 320.7h0M411.1 309.4h0M411.1 304.9h0M411.1 298.1h0M411.1 295.8h0M411.1 293.6h0M411.9 343.3h0M411.9 338.8h0M411.9 334.3h0M411.9 332.0h0M411.9 320.7h0M411.9 316.2h0M412.7 336.5h0M412.7 325.2h0M412.7 318.4h0M412.7 309.4h0M412.7 304.9h0M412.7 298.1h0M413.9 345.6h0M413.9 341.0h0M413.9 327.5h0M413.9 323.0h0M413.9 316.2h0M413.9 300.4h0M414.5 316.2h0M414.5 307.1h0M414.5 286.8h0M415.5 336.5h0M415.5 334.3h0M415.5 332.0h0M415.5 327.5h0M415.5 320.7h0M415.5 318.4h0M415.5 311.7h0M415.5 307.1h0M416.6 336.5h0M416.6 325.2h0M416.6 318.4h0M416.6 316.2h0M416.6 311.7h0M416.6 302.6h0M416.6 298.1h0M416.6 295.8h0M416.6 291.3h0M418.0 332.0h0M418.0 327.5h0M418.0 307.1h0M418.0 302.6h0M418.0 293.6h0M418.9 338.8h0M418.9 336.5h0M418.9 334.3h0M418.9 329.7h0M418.9 327.5h0M418.9 325.2h0M418.9 320.7h0M418.9 304.9h0M418.9 302.6h0M419.8 336.5h0M419.8 300.4h0M419.8 293.6h0M420.6 313.9h0M420.6 302.6h0M420.6 293.6h0M422.0 338.8h0M422.0 334.3h0M422.0 329.7h0M422.0 327.5h0M422.0 323.0h0M422.0 313.9h0M422.0 302.6h0M422.0 293.6h0M422.0 289.1h0M422.9 361.4h0M422.9 350.1h0M422.9 347.8h0M422.9 345.6h0M422.9 341.0h0M422.9 336.5h0M422.9 334.3h0M422.9 318.4h0M422.9 316.2h0M422.9 291.3h0M424.0 368.2h0M424.0 365.9h0M424.0 354.6h0M424.0 350.1h0M424.0 332.0h0M424.0 327.5h0M424.0 318.4h0M424.0 316.2h0M424.0 313.9h0M424.0 311.7h0M424.0 304.9h0M424.0 295.8h0M424.0 286.8h0M424.6 334.3h0M424.6 323.0h0M424.6 320.7h0M424.6 313.9h0M424.6 302.6h0M424.6 293.6h0M424.6 291.3h0M424.6 289.1h0M425.8 329.7h0M425.8 323.0h0M425.8 316.2h0M425.8 295.8h0M425.8 284.5h0M425.8 280.0h0M426.7 327.5h0M426.7 320.7h0M426.7 316.2h0M426.7 304.9h0M426.7 289.1h0M426.7 286.8h0M426.7 277.8h0M427.6 325.2h0M427.6 307.1h0M427.6 286.8h0M427.6 284.5h0M427.6 280.0h0M428.7 327.5h0M428.7 311.7h0M428.7 304.9h0M428.7 286.8h0M429.9 329.7h0M429.9 327.5h0M429.9 325.2h0M429.9 318.4h0M429.9 311.7h0M429.9 304.9h0M429.9 295.8h0M429.9 286.8h0M430.6 343.3h0M430.6 336.5h0M430.6 329.7h0M430.6 325.2h0M430.6 320.7h0M430.6 311.7h0M430.6 295.8h0M431.6 365.9h0M431.6 363.6h0M431.6 361.4h0M431.6 359.1h0M431.6 356.9h0M431.6 354.6h0M431.6 345.6h0M431.6 343.3h0M431.6 338.8h0M431.6 336.5h0M431.6 334.3h0M431.6 332.0h0M431.6 329.7h0M431.6 318.4h0M432.6 370.4h0M432.6 365.9h0M432.6 363.6h0M432.6 350.1h0M432.6 343.3h0M432.6 338.8h0M432.6 336.5h0M432.6 334.3h0M432.6 327.5h0M432.6 325.2h0M432.6 304.9h0M432.6 298.1h0M432.6 293.6h0M432.6 289.1h0M432.6 277.8h0M433.9 354.6h0M433.9 329.7h0M433.9 318.4h0M433.9 313.9h0M433.9 286.8h0M434.6 325.2h0M434.6 323.0h0M434.6 320.7h0M434.6 318.4h0M434.6 307.1h0M434.6 286.8h0M435.5 320.7h0M435.5 318.4h0M435.5 313.9h0M435.5 309.4h0M435.5 300.4h0M435.5 298.1h0M435.5 293.6h0M435.5 291.3h0M435.5 286.8h0M435.5 284.5h0M435.5 277.8h0M436.7 336.5h0M436.7 313.9h0M436.7 311.7h0M436.7 307.1h0M436.7 293.6h0M436.7 284.5h0M436.7 275.5h0M437.8 329.7h0M437.8 327.5h0M437.8 309.4h0M437.8 304.9h0M438.7 309.4h0M438.7 300.4h0M438.7 298.1h0M438.7 295.8h0M439.5 327.5h0M439.5 323.0h0M439.5 313.9h0M439.5 311.7h0M439.5 304.9h0M439.5 300.4h0M439.5 295.8h0M439.5 293.6h0M439.5 282.3h0M440.6 338.8h0M440.6 334.3h0M440.6 332.0h0M440.6 329.7h0M440.6 323.0h0M440.6 320.7h0M440.6 318.4h0M440.6 316.2h0M440.6 313.9h0M440.6 309.4h0M440.6 298.1h0M440.6 291.3h0M440.6 286.8h0M440.6 280.0h0M440.6 275.5h0M442.1 338.8h0M442.1 336.5h0M442.1 334.3h0M442.1 332.0h0M442.1 323.0h0M442.1 318.4h0M442.1 316.2h0M442.1 309.4h0M442.1 307.1h0M442.1 304.9h0M442.1 300.4h0M442.1 295.8h0M442.1 284.5h0M442.1 282.3h0M442.1 280.0h0M442.1 277.8h0M442.5 347.8h0M442.5 307.1h0M442.5 304.9h0M442.5 291.3h0M442.5 284.5h0M442.5 277.8h0M443.7 320.7h0M443.7 309.4h0M443.7 295.8h0M443.7 280.0h0M445.0 307.1h0M445.0 295.8h0M447.0 302.6h0M447.0 300.4h0M447.0 298.1h0M447.0 293.6h0M447.0 282.3h0M447.6 352.3h0M447.6 345.6h0M447.6 320.7h0M447.6 291.3h0M447.6 289.1h0M447.6 286.8h0M448.6 363.6h0M448.6 341.0h0M448.6 338.8h0M448.6 336.5h0M448.6 334.3h0M448.6 329.7h0M448.6 327.5h0M448.6 323.0h0M448.6 313.9h0M448.6 304.9h0M448.6 300.4h0M448.6 293.6h0M448.6 286.8h0M448.6 282.3h0M448.6 280.0h0M448.6 277.8h0M448.6 273.2h0M449.5 370.4h0M449.5 368.2h0M449.5 361.4h0M449.5 354.6h0M449.5 352.3h0M449.5 350.1h0M449.5 347.8h0M449.5 345.6h0M449.5 343.3h0M449.5 334.3h0M449.5 327.5h0M449.5 323.0h0M449.5 316.2h0M449.5 313.9h0M449.5 307.1h0M449.5 295.8h0M449.5 293.6h0M450.8 338.8h0M450.8 336.5h0M450.8 302.6h0M450.8 293.6h0M450.8 289.1h0M451.6 311.7h0M451.6 307.1h0M451.6 298.1h0M451.6 295.8h0M451.6 291.3h0M451.6 289.1h0M453.1 323.0h0M453.1 320.7h0M453.1 318.4h0M453.1 311.7h0M453.8 323.0h0M453.8 320.7h0M453.8 313.9h0M453.8 309.4h0M453.8 277.8h0M454.5 325.2h0M454.5 318.4h0M454.5 316.2h0M454.5 309.4h0M454.5 304.9h0M454.5 302.6h0M454.5 300.4h0M454.5 293.6h0M454.5 286.8h0M455.8 336.5h0M455.8 323.0h0M455.8 318.4h0M455.8 316.2h0M455.8 309.4h0M455.8 291.3h0M455.8 284.5h0M456.9 323.0h0M456.9 320.7h0M456.9 316.2h0M456.9 302.6h0M456.9 295.8h0M457.5 332.0h0M457.5 323.0h0M457.5 316.2h0M457.5 307.1h0M457.5 304.9h0M457.5 282.3h0M457.5 271.0h0M457.5 264.2h0M458.6 318.4h0M458.6 309.4h0M458.6 289.1h0M458.6 271.0h0M458.6 266.5h0M458.6 259.7h0M458.6 257.4h0M459.8 318.4h0M459.8 313.9h0M459.8 309.4h0M459.8 302.6h0M459.8 300.4h0M460.5 327.5h0M460.5 325.2h0M460.5 320.7h0M460.5 304.9h0M460.5 295.8h0M460.5 282.3h0M461.9 327.5h0M461.9 325.2h0M461.9 323.0h0M461.9 311.7h0M461.9 307.1h0M461.9 304.9h0M461.9 302.6h0M461.9 295.8h0M461.9 286.8h0M461.9 284.5h0M461.9 282.3h0M461.9 268.7h0M461.9 266.5h0M462.6 327.5h0M462.6 320.7h0M462.6 316.2h0M462.6 304.9h0M462.6 286.8h0M462.6 282.3h0M462.6 273.2h0M463.7 341.0h0M463.7 327.5h0M463.7 323.0h0M463.7 320.7h0M463.7 309.4h0M463.7 295.8h0M463.7 289.1h0M463.7 280.0h0M463.7 275.5h0M463.7 264.2h0M464.8 334.3h0M464.8 329.7h0M464.8 298.1h0M464.8 277.8h0M465.7 341.0h0M465.7 327.5h0M465.7 318.4h0M465.7 313.9h0M465.7 311.7h0M465.7 304.9h0M465.7 302.6h0M466.8 338.8h0M466.8 313.9h0M466.8 304.9h0M466.8 295.8h0M467.8 343.3h0M467.8 336.5h0M467.8 311.7h0M467.8 300.4h0M467.8 289.1h0M467.8 286.8h0M467.8 282.3h0M468.7 350.1h0M468.7 345.6h0M468.7 343.3h0M468.7 341.0h0M468.7 323.0h0M468.7 304.9h0M468.7 286.8h0M468.7 284.5h0M468.7 282.3h0M468.7 268.7h0M469.9 352.3h0M469.9 343.3h0M469.9 334.3h0M469.9 329.7h0M469.9 325.2h0M469.9 302.6h0M469.9 298.1h0M469.9 268.7h0M470.9 352.3h0M470.9 345.6h0M470.9 338.8h0M470.9 329.7h0M470.9 327.5h0M470.9 304.9h0M470.9 302.6h0M470.9 289.1h0M470.9 271.0h0M471.8 327.5h0M471.8 325.2h0M471.8 323.0h0M471.8 304.9h0M471.8 302.6h0M471.8 300.4h0M471.8 291.3h0M471.8 280.0h0M471.8 277.8h0M471.8 264.2h0M472.8 332.0h0M472.8 327.5h0M472.8 325.2h0M472.8 307.1h0M472.8 291.3h0M472.8 282.3h0M472.8 273.2h0M473.7 338.8h0M473.7 327.5h0M473.7 320.7h0M473.7 318.4h0M473.7 307.1h0M473.7 289.1h0M473.7 277.8h0M473.7 271.0h0M474.5 332.0h0M474.5 323.0h0M474.5 320.7h0M474.5 304.9h0M476.0 379.5h0M476.0 377.2h0M476.0 374.9h0M476.0 370.4h0M476.0 361.4h0M476.0 356.9h0M476.0 354.6h0M476.0 336.5h0M476.0 334.3h0M476.0 332.0h0M476.0 327.5h0M476.0 323.0h0M476.0 318.4h0M476.0 307.1h0M476.0 300.4h0M476.0 293.6h0M476.7 390.8h0M476.7 384.0h0M476.7 377.2h0M476.7 372.7h0M476.7 361.4h0M476.7 354.6h0M476.7 352.3h0M476.7 350.1h0M476.7 345.6h0M476.7 341.0h0M476.7 336.5h0M476.7 334.3h0M476.7 329.7h0M476.7 320.7h0M476.7 318.4h0M476.7 313.9h0M476.7 307.1h0M476.7 304.9h0M476.7 295.8h0M476.7 293.6h0M476.7 286.8h0M478.1 345.6h0M478.1 332.0h0M478.1 327.5h0M478.1 323.0h0M478.1 311.7h0M478.1 286.8h0M478.6 325.2h0M478.6 320.7h0M478.6 316.2h0M478.6 309.4h0M478.6 300.4h0M478.6 289.1h0M478.6 282.3h0M479.9 325.2h0M479.9 323.0h0M479.9 289.1h0M480.7 325.2h0M480.7 318.4h0M480.7 313.9h0M480.7 309.4h0M480.7 307.1h0M480.7 286.8h0M481.6 318.4h0M481.6 307.1h0M481.6 298.1h0M481.6 282.3h0M481.6 280.0h0M482.6 329.7h0M482.6 307.1h0M482.6 300.4h0M482.6 282.3h0M483.6 325.2h0M483.6 320.7h0M483.6 316.2h0M483.6 313.9h0M483.6 309.4h0M483.6 280.0h0M483.6 277.8h0M483.6 275.5h0M484.9 323.0h0M484.9 309.4h0M484.9 293.6h0M484.9 291.3h0M485.8 336.5h0M485.8 334.3h0M485.8 309.4h0M485.8 295.8h0M485.8 291.3h0M485.8 280.0h0M485.8 277.8h0M486.9 332.0h0M486.9 327.5h0M486.9 325.2h0M486.9 323.0h0M486.9 318.4h0M486.9 316.2h0M486.9 313.9h0M486.9 309.4h0M486.9 304.9h0M486.9 300.4h0M486.9 291.3h0M487.9 347.8h0M487.9 323.0h0M487.9 309.4h0M487.9 289.1h0M487.9 275.5h0M488.7 318.4h0M488.7 307.1h0M488.7 302.6h0M488.7 286.8h0M488.7 277.8h0M490.1 329.7h0M490.1 327.5h0M490.1 318.4h0M490.1 309.4h0M490.1 307.1h0M490.1 304.9h0M490.1 298.1h0M490.1 284.5h0M490.7 327.5h0M490.7 311.7h0M490.7 307.1h0M490.7 286.8h0M490.7 282.3h0M491.6 327.5h0M491.6 291.3h0M491.6 286.8h0M491.6 277.8h0M491.6 275.5h0M492.6 329.7h0M492.6 320.7h0M492.6 318.4h0M492.6 309.4h0M492.6 307.1h0M492.6 304.9h0M492.6 295.8h0M492.6 293.6h0M493.6 318.4h0M493.6 313.9h0M493.6 295.8h0M493.6 289.1h0M493.6 282.3h0M494.7 313.9h0M494.7 311.7h0M494.7 298.1h0M494.7 295.8h0M494.7 286.8h0M494.7 284.5h0M494.7 282.3h0M494.7 280.0h0M495.9 329.7h0M495.9 327.5h0M495.9 318.4h0M495.9 316.2h0M495.9 311.7h0M495.9 289.1h0M495.9 284.5h0M495.9 280.0h0M496.7 336.5h0M496.7 327.5h0M496.7 325.2h0M496.7 313.9h0M496.7 304.9h0M496.7 300.4h0M496.7 271.0h0M497.7 318.4h0M497.7 316.2h0M497.7 309.4h0M497.7 280.0h0M497.7 271.0h0M499.0 323.0h0M499.0 318.4h0M499.0 311.7h0M499.0 300.4h0M499.0 271.0h0M499.0 268.7h0M500.0 313.9h0M500.0 311.7h0M500.0 300.4h0M500.0 282.3h0M501.1 329.7h0M501.1 318.4h0M501.1 307.1h0M501.1 304.9h0M501.1 300.4h0M501.1 293.6h0M501.1 280.0h0M501.1 277.8h0M501.1 273.2h0M501.9 320.7h0M501.9 318.4h0M501.9 316.2h0M501.9 307.1h0M501.9 295.8h0M501.9 289.1h0M501.9 275.5h0M502.6 311.7h0M502.6 309.4h0M502.6 307.1h0M502.6 293.6h0M502.6 284.5h0M503.5 323.0h0M503.5 316.2h0M503.5 311.7h0M503.5 304.9h0M503.5 302.6h0M503.5 295.8h0M503.5 286.8h0M503.5 284.5h0M504.8 320.7h0M504.8 318.4h0M504.8 316.2h0M504.8 302.6h0M504.8 282.3h0M504.8 271.0h0M505.5 318.4h0M505.5 309.4h0M505.5 300.4h0M505.5 286.8h0M505.5 280.0h0M506.7 329.7h0M506.7 327.5h0M506.7 323.0h0M506.7 316.2h0M506.7 313.9h0M506.7 311.7h0M506.7 291.3h0M506.7 286.8h0M506.7 275.5h0M507.7 327.5h0M507.7 325.2h0M507.7 323.0h0M507.7 309.4h0M507.7 286.8h0M507.7 280.0h0M508.8 325.2h0M508.8 316.2h0M508.8 313.9h0M508.8 304.9h0M508.8 295.8h0M508.8 280.0h0M508.8 277.8h0M508.8 275.5h0M508.8 273.2h0M508.8 271.0h0M510.1 327.5h0M510.1 318.4h0M510.1 316.2h0M510.1 313.9h0M510.1 307.1h0M510.1 302.6h0M510.1 295.8h0M510.1 282.3h0M510.1 271.0h0M510.9 336.5h0M510.9 327.5h0M510.9 325.2h0M510.9 318.4h0M510.9 316.2h0M510.9 309.4h0M510.9 300.4h0M510.9 295.8h0M510.9 293.6h0M510.9 282.3h0M511.6 320.7h0M511.6 302.6h0M511.6 289.1h0M511.6 273.2h0M511.6 266.5h0M512.6 329.7h0M512.6 325.2h0M512.6 323.0h0M512.6 313.9h0M512.6 302.6h0M512.6 291.3h0M513.7 334.3h0M513.7 325.2h0M513.7 307.1h0M513.7 289.1h0M513.7 282.3h0M513.7 280.0h0M513.7 277.8h0M513.7 275.5h0M514.5 332.0h0M514.5 329.7h0M514.5 327.5h0M514.5 323.0h0M514.5 320.7h0M514.5 318.4h0M514.5 313.9h0M514.5 304.9h0M514.5 302.6h0M514.5 284.5h0M514.5 282.3h0M516.0 323.0h0M516.0 320.7h0M516.0 316.2h0M516.0 311.7h0M516.0 309.4h0M516.0 307.1h0M516.0 291.3h0M516.9 332.0h0M516.9 325.2h0M516.9 318.4h0M516.9 316.2h0M516.9 309.4h0M516.9 307.1h0M516.9 293.6h0M516.9 289.1h0M517.8 336.5h0M517.8 334.3h0M517.8 325.2h0M517.8 313.9h0M517.8 307.1h0M517.8 298.1h0M517.8 280.0h0M518.5 329.7h0M518.5 325.2h0M518.5 307.1h0M518.5 280.0h0M519.6 329.7h0M519.6 320.7h0M519.6 304.9h0M519.6 300.4h0M519.6 291.3h0M520.5 329.7h0M520.5 318.4h0M520.5 311.7h0M520.5 309.4h0M520.5 307.1h0M520.5 302.6h0M520.5 277.8h0M520.5 275.5h0M521.5 332.0h0M521.5 329.7h0M521.5 323.0h0M521.5 307.1h0M521.5 289.1h0M521.5 284.5h0M521.5 280.0h0M521.5 273.2h0M522.6 338.8h0M522.6 332.0h0M522.6 311.7h0M522.6 284.5h0M523.5 338.8h0M523.5 336.5h0M523.5 332.0h0M523.5 320.7h0M523.5 318.4h0M523.5 313.9h0M523.5 307.1h0M523.5 298.1h0M524.6 390.8h0M524.6 381.7h0M524.6 377.2h0M524.6 370.4h0M524.6 368.2h0M524.6 356.9h0M524.6 354.6h0M524.6 352.3h0M524.6 347.8h0M524.6 345.6h0M524.6 343.3h0M524.6 341.0h0M524.6 325.2h0M524.6 293.6h0M524.6 289.1h0M525.6 388.5h0M525.6 381.7h0M525.6 379.5h0M525.6 374.9h0M525.6 368.2h0M525.6 363.6h0M525.6 356.9h0M525.6 343.3h0M525.6 325.2h0M525.6 323.0h0M525.6 302.6h0M525.6 298.1h0M525.6 295.8h0M525.6 291.3h0M525.6 289.1h0M525.6 284.5h0M526.7 384.0h0M526.7 370.4h0M526.7 356.9h0M526.7 350.1h0M526.7 345.6h0M526.7 334.3h0M526.7 318.4h0M526.7 313.9h0M526.7 309.4h0M526.7 295.8h0M526.7 293.6h0M526.7 284.5h0M526.7 275.5h0M527.6 384.0h0M527.6 381.7h0M527.6 379.5h0M527.6 352.3h0M527.6 350.1h0M527.6 347.8h0M527.6 345.6h0M527.6 320.7h0M527.6 309.4h0M527.6 304.9h0M527.6 302.6h0M527.6 298.1h0M527.6 293.6h0M527.6 286.8h0M529.0 388.5h0M529.0 379.5h0M529.0 377.2h0M529.0 370.4h0M529.0 350.1h0M529.0 343.3h0M529.0 338.8h0M529.0 334.3h0M529.0 329.7h0M529.0 320.7h0M529.0 307.1h0M529.0 304.9h0M529.0 295.8h0M529.0 286.8h0M529.0 282.3h0M529.5 361.4h0M529.5 356.9h0M529.5 347.8h0M529.5 325.2h0M529.5 320.7h0M529.5 318.4h0M529.5 316.2h0M529.5 309.4h0M529.5 300.4h0M529.5 291.3h0M530.7 295.8h0M530.7 293.6h0M530.7 291.3h0M531.8 298.1h0M531.8 289.1h0M531.8 286.8h0M532.9 300.4h0M532.9 295.8h0M533.7 293.6h0M533.7 286.8h0M533.7 284.5h0M533.7 280.0h0M533.7 268.7h0M533.7 266.5h0M534.7 304.9h0M534.7 302.6h0M534.7 291.3h0M534.7 280.0h0M535.8 313.9h0M535.8 302.6h0M535.8 300.4h0M535.8 293.6h0M535.8 286.8h0M535.8 284.5h0M535.8 275.5h0M535.8 273.2h0M535.8 268.7h0M536.5 304.9h0M536.5 300.4h0M536.5 298.1h0M536.5 295.8h0M536.5 293.6h0M536.5 284.5h0M536.5 282.3h0M536.5 268.7h0M536.5 264.2h0M537.9 295.8h0M537.9 289.1h0M537.9 286.8h0M537.9 282.3h0M537.9 277.8h0M537.9 266.5h0M537.9 261.9h0M539.0 295.8h0M539.0 289.1h0M540.0 304.9h0M540.0 300.4h0M540.0 295.8h0M540.0 284.5h0M540.0 273.2h0M540.0 259.7h0M541.0 309.4h0M541.0 307.1h0M541.0 302.6h0M541.0 289.1h0M541.0 284.5h0M541.0 264.2h0M541.0 261.9h0M542.1 311.7h0M542.1 286.8h0M542.1 275.5h0M542.1 271.0h0M542.6 313.9h0M542.6 300.4h0M542.6 298.1h0M542.6 295.8h0M543.7 302.6h0M543.7 295.8h0M543.7 280.0h0M543.7 261.9h0M544.9 291.3h0M544.9 289.1h0M544.9 286.8h0M544.9 277.8h0M545.9 302.6h0M545.9 275.5h0M545.9 271.0h0M545.9 261.9h0M547.0 304.9h0M547.0 293.6h0M547.0 289.1h0M547.0 286.8h0M547.0 268.7h0M547.8 363.6h0M547.8 361.4h0M547.8 354.6h0M547.8 345.6h0M547.8 336.5h0M547.8 329.7h0M547.8 325.2h0M547.8 323.0h0M547.8 316.2h0M547.8 313.9h0M547.8 311.7h0M547.8 286.8h0M547.8 282.3h0M547.8 277.8h0M547.8 271.0h0M547.8 266.5h0M548.7 359.1h0M548.7 354.6h0M548.7 345.6h0M548.7 343.3h0M548.7 341.0h0M548.7 332.0h0M548.7 327.5h0M548.7 325.2h0M548.7 320.7h0M548.7 318.4h0M548.7 304.9h0M548.7 302.6h0M548.7 289.1h0M548.7 277.8h0M548.7 275.5h0M548.7 261.9h0M549.6 347.8h0M549.6 334.3h0M549.6 307.1h0M549.6 295.8h0M549.6 291.3h0M549.6 289.1h0M549.6 286.8h0M549.6 273.2h0M549.6 271.0h0M549.6 266.5h0M549.6 261.9h0M551.1 323.0h0M551.1 311.7h0M551.1 304.9h0M551.1 282.3h0M551.1 277.8h0M551.1 268.7h0M551.1 257.4h0M551.9 313.9h0M551.9 309.4h0M551.9 295.8h0M551.9 293.6h0M551.9 282.3h0M551.9 280.0h0M551.9 268.7h0M552.9 325.2h0M552.9 307.1h0M552.9 295.8h0M552.9 289.1h0M552.9 259.7h0M554.1 327.5h0M554.1 325.2h0M554.1 318.4h0M554.1 300.4h0M554.1 298.1h0M554.1 273.2h0M554.1 257.4h0M555.0 327.5h0M555.0 325.2h0M555.0 320.7h0M555.0 316.2h0M555.0 311.7h0M555.0 309.4h0M555.0 298.1h0M555.0 291.3h0M555.0 289.1h0M555.0 268.7h0M555.0 252.9h0M555.0 246.1h0M555.6 329.7h0M555.6 320.7h0M555.6 318.4h0M555.6 313.9h0M555.6 275.5h0M555.6 266.5h0M555.6 264.2h0M555.6 255.2h0M556.6 320.7h0M556.6 313.9h0M556.6 311.7h0M556.6 302.6h0M556.6 300.4h0M556.6 266.5h0M556.6 259.7h0M557.6 316.2h0M557.6 311.7h0M557.6 304.9h0M557.6 295.8h0M557.6 259.7h0M557.6 252.9h0M558.5 316.2h0M558.5 304.9h0M558.5 264.2h0M559.7 309.4h0M559.7 289.1h0M559.7 284.5h0M559.7 282.3h0M559.7 261.9h0M559.7 252.9h0M560.9 318.4h0M560.9 313.9h0M560.9 309.4h0M560.9 302.6h0M560.9 300.4h0M560.9 275.5h0M560.9 268.7h0M560.9 264.2h0M562.1 336.5h0M562.1 320.7h0M562.1 318.4h0M562.1 302.6h0M562.1 298.1h0M562.1 289.1h0M562.1 286.8h0M562.1 252.9h0M562.1 248.4h0M562.6 327.5h0M562.6 318.4h0M562.6 313.9h0M562.6 311.7h0M562.6 298.1h0M562.6 280.0h0M562.6 266.5h0M562.6 252.9h0M562.6 250.6h0M563.9 320.7h0M563.9 318.4h0M563.9 316.2h0M563.9 304.9h0M563.9 298.1h0M563.9 295.8h0M563.9 271.0h0M564.8 320.7h0M564.8 318.4h0M564.8 316.2h0M564.8 313.9h0M564.8 309.4h0M564.8 307.1h0M564.8 304.9h0M564.8 300.4h0M564.8 286.8h0M564.8 275.5h0M564.8 266.5h0M564.8 261.9h0M564.8 255.2h0M564.8 252.9h0M565.8 325.2h0M565.8 323.0h0M565.8 320.7h0M565.8 300.4h0M565.8 293.6h0M566.7 318.4h0M566.7 311.7h0M566.7 300.4h0M566.7 284.5h0M566.7 273.2h0M566.7 271.0h0M566.7 268.7h0M566.7 266.5h0M566.7 255.2h0M567.6 318.4h0M567.6 316.2h0M567.6 302.6h0M567.6 298.1h0M567.6 295.8h0M567.6 293.6h0M567.6 289.1h0M567.6 275.5h0M567.6 271.0h0M568.5 320.7h0M568.5 307.1h0M568.5 298.1h0M568.5 295.8h0M568.5 280.0h0M568.5 266.5h0M570.1 327.5h0M570.1 318.4h0M570.1 316.2h0M570.1 309.4h0M570.1 300.4h0M570.1 293.6h0M570.1 291.3h0M570.1 286.8h0M570.1 277.8h0M570.9 327.5h0M570.9 325.2h0M570.9 318.4h0M570.9 316.2h0M570.9 313.9h0M570.9 307.1h0M570.9 277.8h0M570.9 271.0h0M571.7 327.5h0M571.7 325.2h0M571.7 318.4h0M571.7 300.4h0M571.7 289.1h0M571.7 284.5h0M571.7 282.3h0M571.7 277.8h0M571.7 273.2h0M571.7 271.0h0M571.7 264.2h0M571.7 259.7h0M572.9 318.4h0M572.9 313.9h0M572.9 309.4h0M572.9 307.1h0M572.9 291.3h0M572.9 284.5h0M572.9 271.0h0M573.6 325.2h0M573.6 323.0h0M573.6 320.7h0M573.6 318.4h0M573.6 313.9h0M573.6 286.8h0M573.6 284.5h0M573.6 275.5h0M574.9 311.7h0M574.9 286.8h0M574.9 284.5h0M574.9 273.2h0M574.9 266.5h0M575.9 329.7h0M575.9 311.7h0M575.9 309.4h0M575.9 302.6h0M575.9 300.4h0M575.9 291.3h0M575.9 286.8h0M575.9 271.0h0M576.7 298.1h0M576.7 284.5h0M578.1 280.0h0M578.1 273.2h0M578.1 266.5h0M578.9 295.8h0M578.9 291.3h0M578.9 268.7h0M579.7 309.4h0M579.7 293.6h0M579.7 291.3h0M580.9 302.6h0M580.9 300.4h0M580.9 293.6h0M581.9 282.3h0M581.9 268.7h0M582.9 338.8h0M582.9 304.9h0M582.9 302.6h0M582.9 298.1h0M582.9 295.8h0M582.9 293.6h0M582.9 289.1h0M582.9 286.8h0M582.9 284.5h0M582.9 273.2h0M582.9 252.9h0M583.8 334.3h0M583.8 329.7h0M583.8 327.5h0M583.8 323.0h0M583.8 320.7h0M583.8 316.2h0M583.8 309.4h0M583.8 307.1h0M583.8 302.6h0M583.8 286.8h0M583.8 280.0h0M583.8 264.2h0M583.8 259.7h0M583.8 255.2h0M583.8 252.9h0M583.8 248.4h0M585.0 320.7h0M585.0 318.4h0M585.0 316.2h0M585.0 311.7h0M585.0 291.3h0M585.0 286.8h0M585.0 284.5h0M585.0 282.3h0M585.0 273.2h0M585.8 336.5h0M585.8 323.0h0M585.8 309.4h0M585.8 307.1h0M585.8 302.6h0M585.8 291.3h0M585.8 289.1h0M585.8 284.5h0M585.8 282.3h0M585.8 275.5h0M585.8 261.9h0M585.8 257.4h0M586.8 377.2h0M586.8 372.7h0M586.8 368.2h0M586.8 361.4h0M586.8 356.9h0M586.8 352.3h0M586.8 343.3h0M586.8 338.8h0M586.8 336.5h0M586.8 334.3h0M586.8 332.0h0M586.8 327.5h0M586.8 325.2h0M586.8 313.9h0M586.8 311.7h0M586.8 298.1h0M586.8 293.6h0M586.8 291.3h0M586.8 289.1h0M586.8 268.7h0M587.9 377.2h0M587.9 372.7h0M587.9 370.4h0M587.9 354.6h0M587.9 347.8h0M587.9 345.6h0M587.9 336.5h0M587.9 332.0h0M587.9 329.7h0M587.9 325.2h0M587.9 320.7h0M587.9 316.2h0M587.9 313.9h0M587.9 307.1h0M587.9 298.1h0M587.9 295.8h0M587.9 291.3h0M587.9 280.0h0M587.9 275.5h0M587.9 264.2h0M587.9 257.4h0M588.7 372.7h0M588.7 354.6h0M588.7 345.6h0M588.7 343.3h0M588.7 327.5h0M588.7 318.4h0M588.7 313.9h0M588.7 311.7h0M588.7 295.8h0M588.7 273.2h0M588.7 271.0h0M588.7 268.7h0M588.7 266.5h0M588.7 264.2h0M588.7 257.4h0M589.6 329.7h0M589.6 327.5h0M589.6 325.2h0M589.6 318.4h0M589.6 313.9h0M589.6 309.4h0M589.6 295.8h0M589.6 289.1h0M589.6 282.3h0M589.6 273.2h0M589.6 268.7h0M589.6 266.5h0M589.6 261.9h0M589.6 255.2h0M590.5 332.0h0M590.5 316.2h0M590.5 309.4h0M590.5 307.1h0M590.5 282.3h0M590.5 277.8h0M590.5 268.7h0M591.8 338.8h0M591.8 332.0h0M591.8 327.5h0M591.8 318.4h0M591.8 316.2h0M591.8 309.4h0M591.8 298.1h0M591.8 293.6h0M591.8 286.8h0M591.8 271.0h0M591.8 268.7h0M591.8 261.9h0M592.9 332.0h0M592.9 325.2h0M592.9 318.4h0M592.9 313.9h0M592.9 304.9h0M592.9 300.4h0M592.9 293.6h0M592.9 291.3h0M592.9 286.8h0M592.9 280.0h0M592.9 261.9h0M594.1 336.5h0M594.1 334.3h0M594.1 329.7h0M594.1 320.7h0M594.1 313.9h0M594.1 309.4h0M594.1 307.1h0M594.1 293.6h0M594.1 268.7h0M594.1 266.5h0M594.1 264.2h0M594.1 261.9h0M594.7 341.0h0M594.7 336.5h0M594.7 329.7h0M594.7 313.9h0M594.7 298.1h0M594.7 280.0h0M594.7 273.2h0M594.7 266.5h0M594.7 261.9h0M594.7 252.9h0M594.7 250.6h0M595.8 341.0h0M595.8 325.2h0M595.8 300.4h0M595.8 289.1h0M595.8 286.8h0M595.8 284.5h0M595.8 277.8h0M595.8 268.7h0M595.8 243.9h0M597.1 338.8h0M597.1 332.0h0M597.1 327.5h0M597.1 323.0h0M597.1 316.2h0M597.1 313.9h0M597.1 311.7h0M597.1 304.9h0M597.1 302.6h0M597.1 300.4h0M597.1 295.8h0M597.1 293.6h0M597.1 286.8h0M597.1 273.2h0M597.1 266.5h0M597.1 264.2h0M597.1 259.7h0M597.1 248.4h0M597.1 246.1h0M597.8 338.8h0M597.8 316.2h0M597.8 313.9h0M597.8 309.4h0M597.8 298.1h0M597.8 275.5h0M597.8 266.5h0M597.8 252.9h0M598.9 343.3h0M598.9 332.0h0M598.9 316.2h0M598.9 313.9h0M598.9 307.1h0M598.9 298.1h0M598.9 293.6h0M598.9 291.3h0M598.9 284.5h0M598.9 282.3h0M598.9 275.5h0M598.9 243.9h0M599.7 361.4h0M599.7 352.3h0M599.7 350.1h0M599.7 343.3h0M599.7 336.5h0M599.7 334.3h0M599.7 329.7h0M599.7 325.2h0M599.7 323.0h0M599.7 318.4h0M599.7 291.3h0M599.7 289.1h0M599.7 286.8h0M599.7 282.3h0M599.7 271.0h0M601.0 356.9h0M601.0 354.6h0M601.0 350.1h0M601.0 334.3h0M601.0 329.7h0M601.0 325.2h0M601.0 323.0h0M601.0 313.9h0M601.0 295.8h0M601.0 289.1h0M601.0 268.7h0M601.0 266.5h0M601.6 352.3h0M601.6 350.1h0M601.6 343.3h0M601.6 327.5h0M601.6 307.1h0M601.6 304.9h0M601.6 302.6h0M601.6 295.8h0M601.6 291.3h0M601.6 286.8h0M601.6 277.8h0M601.6 261.9h0M601.6 248.4h0M603.0 302.6h0M603.0 298.1h0M603.0 291.3h0M603.0 277.8h0M603.0 273.2h0M603.0 248.4h0M604.0 307.1h0M604.0 295.8h0M604.0 286.8h0M604.0 282.3h0M604.0 275.5h0M604.0 266.5h0M604.0 261.9h0M604.0 250.6h0M604.0 241.6h0M604.8 309.4h0M604.8 307.1h0M604.8 302.6h0M604.8 284.5h0M604.8 280.0h0M604.8 275.5h0M604.8 266.5h0M604.8 261.9h0M604.8 252.9h0M604.8 243.9h0M605.8 291.3h0M605.8 286.8h0M605.8 282.3h0M605.8 266.5h0M605.8 257.4h0M605.8 246.1h0M607.0 304.9h0M607.0 302.6h0M607.0 293.6h0M607.0 291.3h0M607.0 289.1h0M607.0 277.8h0M607.0 255.2h0M607.0 250.6h0M608.0 300.4h0M608.0 291.3h0M608.0 289.1h0M608.0 286.8h0M608.0 284.5h0M608.0 277.8h0M608.0 266.5h0M608.0 261.9h0M608.0 259.7h0M608.9 307.1h0M608.9 300.4h0M608.9 298.1h0M608.9 295.8h0M608.9 284.5h0M608.9 282.3h0M608.9 275.5h0M610.0 316.2h0M610.0 300.4h0M610.0 298.1h0M610.0 271.0h0M610.0 268.7h0M610.0 252.9h0M610.9 311.7h0M610.9 307.1h0M610.9 300.4h0M610.9 295.8h0M610.9 277.8h0M610.9 268.7h0M611.6 313.9h0M611.6 309.4h0M611.6 302.6h0M611.6 295.8h0M611.6 293.6h0M611.6 289.1h0M611.6 284.5h0M611.6 282.3h0M611.6 277.8h0M611.6 268.7h0M611.6 264.2h0M611.6 257.4h0M611.6 250.6h0M611.6 248.4h0M612.6 300.4h0M612.6 289.1h0M612.6 282.3h0M612.6 273.2h0M612.6 271.0h0M612.6 252.9h0M612.6 250.6h0M612.6 243.9h0M613.8 316.2h0M613.8 313.9h0M613.8 311.7h0M613.8 298.1h0M613.8 291.3h0M613.8 289.1h0M613.8 282.3h0M613.8 280.0h0M613.8 275.5h0M613.8 271.0h0M614.8 318.4h0M614.8 304.9h0M614.8 284.5h0M614.8 277.8h0M614.8 275.5h0M614.8 268.7h0M614.8 255.2h0M614.8 250.6h0M614.8 239.3h0M615.9 361.4h0M615.9 316.2h0M615.9 302.6h0M615.9 289.1h0M615.9 271.0h0M615.9 268.7h0M615.9 257.4h0M617.0 370.4h0M617.0 368.2h0M617.0 365.9h0M617.0 363.6h0M617.0 361.4h0M617.0 356.9h0M617.0 343.3h0M617.0 341.0h0M617.0 334.3h0M617.0 329.7h0M617.0 327.5h0M617.0 325.2h0M617.0 320.7h0M617.0 309.4h0M617.0 304.9h0M617.0 289.1h0M617.0 286.8h0M617.0 250.6h0M617.0 243.9h0M617.8 365.9h0M617.8 363.6h0M617.8 359.1h0M617.8 356.9h0M617.8 352.3h0M617.8 350.1h0M617.8 343.3h0M617.8 341.0h0M617.8 338.8h0M617.8 336.5h0M617.8 334.3h0M617.8 332.0h0M617.8 329.7h0M617.8 325.2h0M617.8 323.0h0M617.8 309.4h0M617.8 302.6h0M617.8 293.6h0M617.8 291.3h0M617.8 284.5h0M617.8 275.5h0M617.8 248.4h0M617.8 246.1h0M617.8 234.8h0M618.5 370.4h0M618.5 338.8h0M618.5 336.5h0M618.5 313.9h0M618.5 309.4h0M618.5 302.6h0M618.5 298.1h0M618.5 291.3h0M618.5 289.1h0M618.5 284.5h0M618.5 250.6h0M618.5 246.1h0M619.8 291.3h0M619.8 289.1h0M619.8 286.8h0M619.8 284.5h0M619.8 277.8h0M619.8 250.6h0M619.8 248.4h0M619.8 243.9h0M619.8 239.3h0M621.0 307.1h0M621.0 304.9h0M621.0 300.4h0M621.0 298.1h0M621.0 295.8h0M621.0 293.6h0M621.0 282.3h0M621.0 277.8h0M621.0 275.5h0M621.0 259.7h0M621.0 257.4h0M621.0 255.2h0M621.0 237.1h0M621.9 365.9h0M621.9 343.3h0M621.9 338.8h0M621.9 318.4h0M621.9 307.1h0M621.9 289.1h0M621.9 286.8h0M621.9 284.5h0M621.9 277.8h0M621.9 261.9h0M623.0 390.8h0M623.0 386.2h0M623.0 377.2h0M623.0 374.9h0M623.0 372.7h0M623.0 368.2h0M623.0 361.4h0M623.0 359.1h0M623.0 356.9h0M623.0 347.8h0M623.0 336.5h0M623.0 329.7h0M623.0 323.0h0M623.0 320.7h0M623.0 318.4h0M623.0 316.2h0M623.0 313.9h0M623.0 307.1h0M623.0 295.8h0M623.0 291.3h0M623.0 284.5h0M623.0 264.2h0M623.8 381.7h0M623.8 379.5h0M623.8 374.9h0M623.8 372.7h0M623.8 370.4h0M623.8 368.2h0M623.8 354.6h0M623.8 347.8h0M623.8 345.6h0M623.8 341.0h0M623.8 338.8h0M623.8 334.3h0M623.8 332.0h0M623.8 329.7h0M623.8 327.5h0M623.8 323.0h0M623.8 311.7h0M623.8 309.4h0M623.8 307.1h0M623.8 298.1h0M623.8 286.8h0M623.8 284.5h0M623.8 282.3h0M623.8 280.0h0M623.8 275.5h0M623.8 271.0h0M623.8 268.7h0M623.8 266.5h0M623.8 259.7h0M624.8 390.8h0M624.8 365.9h0M624.8 356.9h0M624.8 350.1h0M624.8 341.0h0M624.8 336.5h0M624.8 327.5h0M624.8 320.7h0M624.8 309.4h0M624.8 304.9h0M624.8 289.1h0M624.8 286.8h0M624.8 259.7h0M625.6 307.1h0M625.6 295.8h0M625.6 284.5h0M625.6 282.3h0M625.6 275.5h0M625.6 250.6h0M626.8 318.4h0M626.8 307.1h0M626.8 304.9h0M626.8 298.1h0M626.8 282.3h0M626.8 273.2h0M626.8 264.2h0M626.8 255.2h0M626.8 250.6h0M626.8 243.9h0M627.9 302.6h0M627.9 295.8h0M627.9 293.6h0M627.9 284.5h0M627.9 273.2h0M627.9 271.0h0M627.9 241.6h0M629.1 304.9h0M629.1 302.6h0M629.1 298.1h0M629.1 295.8h0M629.1 293.6h0M629.1 282.3h0M629.1 271.0h0M629.1 261.9h0M629.1 250.6h0M629.8 302.6h0M629.8 300.4h0M629.8 295.8h0M629.8 291.3h0M629.8 286.8h0M629.8 277.8h0M629.8 266.5h0M629.8 264.2h0M629.8 255.2h0M629.8 250.6h0M629.8 248.4h0M631.1 318.4h0M631.1 295.8h0M631.1 293.6h0M631.1 261.9h0M631.1 248.4h0M631.1 241.6h0M632.0 313.9h0M632.0 300.4h0M632.0 291.3h0M632.0 282.3h0M632.0 271.0h0M632.0 266.5h0M632.5 334.3h0M632.5 318.4h0M632.5 316.2h0M632.5 307.1h0M632.5 300.4h0M632.5 286.8h0M632.5 284.5h0M632.5 275.5h0M632.5 273.2h0M632.5 271.0h0M632.5 264.2h0M632.5 252.9h0M632.5 243.9h0M633.8 332.0h0M633.8 323.0h0M633.8 318.4h0M633.8 311.7h0M633.8 309.4h0M633.8 295.8h0M633.8 291.3h0M633.8 284.5h0M633.8 261.9h0M633.8 250.6h0M633.8 248.4h0M633.8 239.3h0M635.0 318.4h0M635.0 316.2h0M635.0 302.6h0M635.0 295.8h0M635.0 268.7h0M636.1 323.0h0M636.1 318.4h0M636.1 316.2h0M636.1 311.7h0M636.1 304.9h0M636.1 302.6h0M636.1 300.4h0M636.1 280.0h0M636.1 252.9h0M636.1 248.4h0M636.1 241.6h0M636.9 334.3h0M636.9 329.7h0M636.9 327.5h0M636.9 323.0h0M636.9 318.4h0M636.9 289.1h0M636.9 286.8h0M636.9 284.5h0M636.9 277.8h0M636.9 266.5h0M636.9 264.2h0M636.9 252.9h0M636.9 250.6h0M637.9 325.2h0M637.9 320.7h0M637.9 316.2h0M637.9 291.3h0M637.9 282.3h0M637.9 273.2h0M637.9 243.9h0M638.8 356.9h0M638.8 354.6h0M638.8 350.1h0M638.8 347.8h0M638.8 343.3h0M638.8 341.0h0M638.8 338.8h0M638.8 336.5h0M638.8 334.3h0M638.8 329.7h0M638.8 323.0h0M638.8 318.4h0M638.8 316.2h0M638.8 313.9h0M638.8 309.4h0M638.8 298.1h0M638.8 284.5h0M638.8 277.8h0M638.8 273.2h0M638.8 268.7h0M638.8 266.5h0M638.8 259.7h0M638.8 248.4h0M639.6 354.6h0M639.6 350.1h0M639.6 341.0h0M639.6 336.5h0M639.6 325.2h0M639.6 323.0h0M639.6 320.7h0M639.6 316.2h0M639.6 304.9h0M639.6 293.6h0M639.6 291.3h0M639.6 259.7h0M639.6 248.4h0M640.7 345.6h0M640.7 336.5h0M640.7 325.2h0M640.7 316.2h0M640.7 307.1h0M640.7 289.1h0M640.7 286.8h0M640.7 280.0h0M640.7 275.5h0M640.7 259.7h0M640.7 257.4h0M640.7 246.1h0M642.0 311.7h0M642.0 291.3h0M642.0 271.0h0M642.0 264.2h0M642.0 259.7h0M642.0 250.6h0M642.9 318.4h0M642.9 309.4h0M642.9 304.9h0M642.9 302.6h0M642.9 277.8h0M642.9 275.5h0M642.9 266.5h0M642.9 248.4h0M642.9 246.1h0M643.6 313.9h0M643.6 304.9h0M643.6 302.6h0M643.6 300.4h0M643.6 298.1h0M643.6 295.8h0M643.6 293.6h0M643.6 291.3h0M643.6 271.0h0M643.6 266.5h0M643.6 264.2h0M643.6 261.9h0M643.6 255.2h0M643.6 252.9h0M643.6 248.4h0M645.1 307.1h0M645.1 304.9h0M645.1 273.2h0M645.1 271.0h0M645.1 259.7h0M645.1 252.9h0M645.8 313.9h0M645.8 307.1h0M645.8 282.3h0M645.8 280.0h0M645.8 275.5h0M645.8 250.6h0M646.8 286.8h0M646.8 284.5h0M646.8 282.3h0M646.8 273.2h0M646.8 271.0h0M646.8 259.7h0M646.8 248.4h0M648.1 284.5h0M648.1 282.3h0M648.1 264.2h0M648.1 252.9h0M648.1 248.4h0M648.7 286.8h0M648.7 284.5h0M648.7 280.0h0M648.7 259.7h0M648.7 257.4h0M648.7 248.4h0M649.8 282.3h0M649.8 280.0h0M649.8 277.8h0M649.8 268.7h0M649.8 261.9h0M649.8 259.7h0M651.0 286.8h0M651.0 284.5h0M651.0 282.3h0M651.0 280.0h0M651.0 273.2h0M651.0 259.7h0M651.0 257.4h0M651.0 255.2h0M651.9 368.2h0M651.9 356.9h0M651.9 352.3h0M651.9 341.0h0M651.9 336.5h0M651.9 329.7h0M651.9 327.5h0M651.9 293.6h0M651.9 277.8h0M651.9 273.2h0M651.9 257.4h0M651.9 255.2h0M651.9 248.4h0M652.7 368.2h0M652.7 363.6h0M652.7 359.1h0M652.7 350.1h0M652.7 343.3h0M652.7 338.8h0M652.7 336.5h0M652.7 334.3h0M652.7 329.7h0M652.7 320.7h0M652.7 318.4h0M652.7 316.2h0M652.7 313.9h0M652.7 309.4h0M652.7 307.1h0M652.7 304.9h0M652.7 302.6h0M652.7 298.1h0M652.7 293.6h0M652.7 291.3h0M652.7 280.0h0M652.7 261.9h0M654.0 365.9h0M654.0 361.4h0M654.0 354.6h0M654.0 334.3h0M654.0 329.7h0M654.0 327.5h0M654.0 320.7h0M654.0 318.4h0M654.0 313.9h0M654.0 309.4h0M654.0 298.1h0M654.0 291.3h0M654.0 289.1h0M654.0 273.2h0M654.0 266.5h0M654.0 248.4h0M654.8 363.6h0M654.8 282.3h0M654.8 277.8h0M654.8 275.5h0M654.8 271.0h0M654.8 268.7h0M654.8 266.5h0M654.8 255.2h0M654.8 250.6h0M654.8 241.6h0M656.1 325.2h0M656.1 313.9h0M656.1 300.4h0M656.1 273.2h0M656.1 261.9h0M656.1 255.2h0M656.5 323.0h0M656.5 320.7h0M656.5 313.9h0M656.5 311.7h0M656.5 304.9h0M656.5 300.4h0M656.5 295.8h0M656.5 293.6h0M656.5 286.8h0M656.5 280.0h0M658.0 329.7h0M658.0 325.2h0M658.0 320.7h0M658.0 311.7h0M658.0 307.1h0M658.0 284.5h0M658.0 280.0h0M658.0 252.9h0M658.0 246.1h0M658.0 237.1h0M658.7 329.7h0M658.7 327.5h0M658.7 320.7h0M658.7 318.4h0M658.7 316.2h0M658.7 280.0h0M658.7 257.4h0M658.7 255.2h0M658.7 252.9h0M658.7 239.3h0M658.7 237.1h0M659.8 332.0h0M659.8 311.7h0M659.8 295.8h0M660.9 320.7h0M660.9 309.4h0M660.9 307.1h0M660.9 298.1h0M660.9 277.8h0M662.1 374.9h0M662.1 370.4h0M662.1 363.6h0M662.1 356.9h0M662.1 354.6h0M662.1 343.3h0M662.1 341.0h0M662.1 338.8h0M662.1 334.3h0M662.1 332.0h0M662.1 329.7h0M662.1 327.5h0M662.1 325.2h0M662.1 316.2h0M662.1 311.7h0M662.1 309.4h0M662.1 302.6h0M662.1 280.0h0M662.1 275.5h0M662.1 271.0h0M662.9 377.2h0M662.9 372.7h0M662.9 370.4h0M662.9 368.2h0M662.9 365.9h0M662.9 361.4h0M662.9 359.1h0M662.9 356.9h0M662.9 354.6h0M662.9 352.3h0M662.9 347.8h0M662.9 338.8h0M662.9 336.5h0M662.9 327.5h0M662.9 323.0h0M662.9 320.7h0M662.9 313.9h0M662.9 307.1h0M662.9 295.8h0M662.9 275.5h0M662.9 271.0h0M664.1 374.9h0M664.1 365.9h0M664.1 345.6h0M664.1 334.3h0M664.1 313.9h0M664.1 307.1h0M664.1 291.3h0M664.1 277.8h0M664.1 273.2h0M665.0 284.5h0M665.0 277.8h0M665.0 275.5h0M665.0 271.0h0M665.0 261.9h0M665.0 257.4h0M665.0 255.2h0M665.6 295.8h0M665.6 289.1h0M665.6 286.8h0M665.6 284.5h0M665.6 275.5h0M665.6 273.2h0M665.6 268.7h0M665.6 257.4h0M666.7 295.8h0M666.7 289.1h0M666.7 286.8h0M666.7 282.3h0M666.7 280.0h0M666.7 248.4h0M667.6 289.1h0M667.6 275.5h0M667.6 266.5h0M667.6 264.2h0M667.6 255.2h0M667.6 250.6h0M668.9 277.8h0M668.9 268.7h0M668.9 266.5h0M668.9 241.6h0M668.9 234.8h0M670.1 320.7h0M670.1 316.2h0M670.1 307.1h0M670.1 304.9h0M670.1 302.6h0M670.1 286.8h0M670.1 282.3h0M670.1 266.5h0M670.1 264.2h0M670.1 239.3h0M670.1 237.1h0M670.8 332.0h0M670.8 316.2h0M670.8 311.7h0M670.8 309.4h0M670.8 284.5h0M670.8 271.0h0M670.8 268.7h0M670.8 266.5h0M670.8 259.7h0M670.8 246.1h0M671.6 316.2h0M671.6 311.7h0M671.6 309.4h0M671.6 295.8h0M671.6 284.5h0M671.6 264.2h0M671.6 259.7h0M671.6 248.4h0M671.6 241.6h0M672.6 316.2h0M672.6 311.7h0M672.6 295.8h0M672.6 273.2h0M672.6 246.1h0M672.6 239.3h0M674.1 320.7h0M674.1 318.4h0M674.1 316.2h0M674.1 302.6h0M674.1 295.8h0M674.1 293.6h0M674.1 286.8h0M674.1 252.9h0M674.1 250.6h0M674.1 248.4h0M674.1 246.1h0M674.6 313.9h0M674.6 309.4h0M674.6 304.9h0M674.6 302.6h0M674.6 293.6h0M674.6 291.3h0M674.6 284.5h0M674.6 268.7h0M674.6 252.9h0M674.6 243.9h0M676.0 329.7h0M676.0 318.4h0M676.0 313.9h0M676.0 307.1h0M676.0 302.6h0M676.0 295.8h0M676.0 293.6h0M676.0 284.5h0M676.0 282.3h0M676.0 275.5h0M676.0 255.2h0M676.0 248.4h0M676.0 237.1h0M676.9 332.0h0M676.9 325.2h0M676.9 323.0h0M676.9 318.4h0M676.9 313.9h0M676.9 311.7h0M676.9 309.4h0M676.9 307.1h0M676.9 300.4h0M676.9 295.8h0M676.9 293.6h0M676.9 284.5h0M676.9 277.8h0M676.9 259.7h0M676.9 257.4h0M676.9 243.9h0M676.9 239.3h0M676.9 237.1h0M676.9 234.8h0M678.1 309.4h0M678.1 295.8h0M678.1 293.6h0M678.1 284.5h0M678.1 277.8h0M678.1 268.7h0M678.1 257.4h0M678.1 241.6h0M678.5 311.7h0M678.5 295.8h0M678.5 293.6h0M678.5 264.2h0M678.5 261.9h0M678.5 243.9h0M678.5 237.1h0M679.9 302.6h0M679.9 293.6h0M679.9 291.3h0M679.9 277.8h0M679.9 266.5h0M679.9 252.9h0M679.9 248.4h0M679.9 246.1h0M681.0 298.1h0M681.0 284.5h0M681.0 261.9h0M681.7 318.4h0M681.7 313.9h0M681.7 311.7h0M681.7 307.1h0M681.7 304.9h0M681.7 302.6h0M681.7 300.4h0M681.7 286.8h0M681.7 284.5h0M681.7 282.3h0M681.7 273.2h0M681.7 264.2h0M681.7 252.9h0M682.6 311.7h0M682.6 309.4h0M682.6 307.1h0M682.6 304.9h0M682.6 300.4h0M682.6 298.1h0M682.6 295.8h0M682.6 282.3h0M682.6 280.0h0M682.6 273.2h0M682.6 255.2h0M682.6 250.6h0M684.1 309.4h0M684.1 289.1h0M684.1 284.5h0M684.1 273.2h0M684.1 268.7h0M684.1 266.5h0M684.1 252.9h0M684.1 246.1h0M684.9 374.9h0M684.9 350.1h0M684.9 336.5h0M684.9 311.7h0M684.9 298.1h0M684.9 295.8h0M684.9 286.8h0M684.9 284.5h0M684.9 275.5h0M684.9 271.0h0M684.9 261.9h0M684.9 257.4h0M684.9 252.9h0M684.9 241.6h0M685.8 368.2h0M685.8 361.4h0M685.8 359.1h0M685.8 356.9h0M685.8 354.6h0M685.8 352.3h0M685.8 347.8h0M685.8 345.6h0M685.8 343.3h0M685.8 338.8h0M685.8 336.5h0M685.8 334.3h0M685.8 329.7h0M685.8 323.0h0M685.8 318.4h0M685.8 309.4h0M685.8 304.9h0M685.8 302.6h0M685.8 300.4h0M685.8 298.1h0M685.8 293.6h0M685.8 291.3h0M685.8 289.1h0M685.8 273.2h0M685.8 268.7h0M685.8 241.6h0M686.5 368.2h0M686.5 363.6h0M686.5 354.6h0M686.5 343.3h0M686.5 336.5h0M686.5 332.0h0M686.5 320.7h0M686.5 318.4h0M686.5 313.9h0M686.5 304.9h0M686.5 302.6h0M686.5 298.1h0M686.5 295.8h0M686.5 291.3h0M686.5 284.5h0M686.5 282.3h0M686.5 280.0h0M686.5 264.2h0M686.5 261.9h0M686.5 259.7h0M687.9 370.4h0M687.9 361.4h0M687.9 275.5h0M687.9 268.7h0M687.9 259.7h0M687.9 257.4h0M688.9 275.5h0M689.9 264.2h0M689.9 261.9h0M690.7 273.2h0M690.7 271.0h0M690.7 261.9h0M690.7 255.2h0M691.7 273.2h0M691.7 264.2h0M691.7 234.8h0M693.1 304.9h0M693.1 289.1h0M693.1 282.3h0M693.1 277.8h0M693.1 275.5h0M693.1 271.0h0M693.1 266.5h0M693.1 261.9h0M693.1 250.6h0M693.6 307.1h0M693.6 302.6h0M693.6 282.3h0M693.6 277.8h0M693.6 268.7h0M693.6 248.4h0M694.8 295.8h0M694.8 284.5h0M694.8 271.0h0M694.8 266.5h0M695.5 307.1h0M695.5 304.9h0M695.5 300.4h0M695.5 282.3h0M695.5 277.8h0M697.1 286.8h0M697.1 282.3h0M697.1 250.6h0M697.7 307.1h0M697.7 293.6h0M697.7 289.1h0M697.7 286.8h0M697.7 280.0h0M697.7 268.7h0M697.7 264.2h0M699.0 359.1h0M699.0 352.3h0M699.0 343.3h0M699.0 341.0h0M699.0 336.5h0M699.0 325.2h0M699.0 318.4h0M699.0 316.2h0M699.0 313.9h0M699.0 311.7h0M699.0 309.4h0M699.0 304.9h0M699.0 302.6h0M699.0 300.4h0M699.0 298.1h0M699.0 295.8h0M699.0 280.0h0M699.0 277.8h0M699.0 271.0h0M699.0 266.5h0M699.0 259.7h0M699.6 361.4h0M699.6 356.9h0M699.6 352.3h0M699.6 350.1h0M699.6 347.8h0M699.6 345.6h0M699.6 332.0h0M699.6 327.5h0M699.6 325.2h0M699.6 323.0h0M699.6 320.7h0M699.6 316.2h0M699.6 313.9h0M699.6 309.4h0M699.6 307.1h0M699.6 300.4h0M699.6 298.1h0M699.6 295.8h0M699.6 293.6h0M699.6 282.3h0M699.6 264.2h0M699.6 261.9h0M699.6 252.9h0M699.6 250.6h0M700.9 359.1h0M700.9 334.3h0M700.9 311.7h0M700.9 309.4h0M700.9 304.9h0M700.9 302.6h0M701.6 347.8h0M701.6 338.8h0M701.6 336.5h0M701.6 332.0h0M701.6 318.4h0M701.6 313.9h0M701.6 298.1h0M701.6 280.0h0M701.6 275.5h0M701.6 273.2h0M701.6 271.0h0M701.6 266.5h0M701.6 264.2h0M701.6 261.9h0M701.6 252.9h0M701.6 248.4h0M702.7 338.8h0M702.7 336.5h0M702.7 332.0h0M702.7 320.7h0M702.7 318.4h0M702.7 313.9h0M702.7 311.7h0M702.7 307.1h0M702.7 300.4h0M702.7 291.3h0M702.7 284.5h0M702.7 280.0h0M702.7 275.5h0M702.7 271.0h0M702.7 266.5h0M702.7 264.2h0M702.7 252.9h0M702.7 248.4h0M704.0 332.0h0M704.0 329.7h0M704.0 327.5h0M704.0 325.2h0M704.0 320.7h0M704.0 316.2h0M704.0 311.7h0M704.0 307.1h0M704.0 304.9h0M704.0 302.6h0M704.0 300.4h0M704.0 295.8h0M704.0 293.6h0M704.0 286.8h0M704.0 273.2h0M704.0 250.6h0M704.8 282.3h0M704.8 277.8h0M704.8 271.0h0M704.8 266.5h0M704.8 261.9h0M704.8 255.2h0M705.8 255.2h0M706.7 275.5h0M706.7 273.2h0M706.7 261.9h0M707.7 277.8h0M707.7 266.5h0M707.7 248.4h0M707.7 246.1h0M708.7 280.0h0M708.7 273.2h0M708.7 271.0h0M708.7 255.2h0M709.9 275.5h0M709.9 268.7h0M710.8 275.5h0M710.8 273.2h0M710.8 259.7h0M710.8 252.9h0M711.8 271.0h0M711.8 268.7h0M711.8 264.2h0M711.8 261.9h0M711.8 252.9h0M712.7 268.7h0M712.7 257.4h0M713.8 266.5h0M713.8 264.2h0M713.8 255.2h0M715.1 261.9h0M715.1 259.7h0M715.1 257.4h0M715.5 268.7h0M717.0 271.0h0M717.0 268.7h0M717.0 266.5h0M717.0 255.2h0M718.0 275.5h0M718.0 273.2h0M718.0 271.0h0M719.9 259.7h0M719.9 255.2h0M721.0 268.7h0M721.0 264.2h0M721.0 259.7h0M721.0 248.4h0M721.0 239.3h0M721.6 266.5h0M721.6 264.2h0M721.6 259.7h0M721.6 255.2h0M721.6 250.6h0M722.6 273.2h0M722.6 271.0h0M722.6 243.9h0M723.9 275.5h0M723.9 257.4h0M723.9 252.9h0M723.9 248.4h0M723.9 246.1h0M723.9 241.6h0M723.9 239.3h0M723.9 237.1h0M724.6 273.2h0M724.6 271.0h0M724.6 264.2h0M724.6 252.9h0M724.6 243.9h0M724.6 239.3h0M725.9 264.2h0M725.9 259.7h0M725.9 243.9h0M725.9 241.6h0M725.9 237.1h0M726.8 268.7h0M726.8 264.2h0M726.8 259.7h0M726.8 243.9h0M727.8 372.7h0M727.8 345.6h0M727.8 336.5h0M727.8 275.5h0M727.8 273.2h0M727.8 261.9h0M727.8 248.4h0M727.8 232.6h0M729.0 377.2h0M729.0 372.7h0M729.0 368.2h0M729.0 359.1h0M729.0 356.9h0M729.0 354.6h0M729.0 345.6h0M729.0 343.3h0M729.0 341.0h0M729.0 338.8h0M729.0 336.5h0M729.0 332.0h0M729.0 329.7h0M729.0 327.5h0M729.0 325.2h0M729.0 323.0h0M729.0 318.4h0M729.0 311.7h0M729.0 307.1h0M729.0 291.3h0M729.0 286.8h0M729.0 273.2h0M729.0 261.9h0M729.0 259.7h0M729.0 243.9h0M729.0 241.6h0M729.0 239.3h0M730.1 379.5h0M730.1 372.7h0M730.1 370.4h0M730.1 368.2h0M730.1 354.6h0M730.1 350.1h0M730.1 345.6h0M730.1 341.0h0M730.1 338.8h0M730.1 332.0h0M730.1 329.7h0M730.1 325.2h0M730.1 318.4h0M730.1 313.9h0M730.1 311.7h0M730.1 309.4h0M730.1 304.9h0M730.1 295.8h0M730.1 289.1h0M730.1 280.0h0M730.1 273.2h0M730.1 268.7h0M730.1 264.2h0M730.1 257.4h0M730.1 248.4h0M730.1 232.6h0M730.7 377.2h0M730.7 361.4h0M730.7 341.0h0M730.7 338.8h0M730.7 336.5h0M730.7 298.1h0M730.7 293.6h0M730.7 286.8h0M730.7 277.8h0M730.7 261.9h0M730.7 250.6h0M730.7 246.1h0M730.7 237.1h0M732.1 350.1h0M732.1 347.8h0M732.1 341.0h0M732.1 332.0h0M732.1 316.2h0M732.1 313.9h0M732.1 286.8h0M732.8 350.1h0M732.8 345.6h0M732.8 332.0h0M732.8 320.7h0M732.8 316.2h0M732.8 300.4h0M732.8 298.1h0M732.8 291.3h0M732.8 284.5h0M733.8 356.9h0M733.8 352.3h0M733.8 347.8h0M733.8 345.6h0M733.8 341.0h0M733.8 332.0h0M733.8 323.0h0M733.8 316.2h0M733.8 300.4h0M734.5 345.6h0M734.5 341.0h0M734.5 332.0h0M734.5 327.5h0M734.5 320.7h0M734.5 304.9h0M734.5 295.8h0M735.8 356.9h0M735.8 354.6h0M735.8 352.3h0M735.8 350.1h0M735.8 347.8h0M735.8 343.3h0M735.8 334.3h0M735.8 311.7h0M735.8 304.9h0M735.8 293.6h0M736.6 350.1h0M736.6 347.8h0M736.6 343.3h0M736.6 318.4h0M736.6 313.9h0M736.6 307.1h0M736.6 298.1h0M737.8 356.9h0M737.8 343.3h0M737.8 313.9h0M738.7 356.9h0M738.7 354.6h0M738.7 345.6h0M738.7 334.3h0M738.7 329.7h0M739.8 352.3h0M739.8 343.3h0M739.8 311.7h0M740.5 361.4h0M740.5 356.9h0M740.5 345.6h0M740.5 341.0h0M740.5 327.5h0M740.5 313.9h0M741.5 356.9h0M741.5 354.6h0M741.5 352.3h0M741.5 345.6h0M741.5 323.0h0M742.7 359.1h0M742.7 354.6h0M742.7 343.3h0M742.7 329.7h0M742.7 327.5h0M742.7 320.7h0M742.7 318.4h0M742.7 316.2h0M743.9 334.3h0M743.9 329.7h0M743.9 323.0h0M744.8 365.9h0M744.8 363.6h0M744.8 359.1h0M744.8 354.6h0M744.8 343.3h0M744.8 329.7h0M744.8 327.5h0M745.7 365.9h0M745.7 363.6h0M745.7 361.4h0M745.7 354.6h0M745.7 352.3h0M745.7 341.0h0M745.7 329.7h0M745.7 327.5h0M745.7 325.2h0M747.0 361.4h0M747.0 343.3h0M748.0 350.1h0M748.0 329.7h0M748.9 384.0h0M748.9 368.2h0M748.9 363.6h0M748.9 343.3h0M748.9 338.8h0M748.9 336.5h0M750.0 384.0h0M750.0 374.9h0M750.0 341.0h0M751.0 381.7h0M751.0 374.9h0M751.0 368.2h0M751.0 361.4h0M751.0 350.1h0M751.0 338.8h0M751.0 332.0h0M751.0 329.7h0M751.7 397.5h0M751.7 388.5h0M751.7 386.2h0M751.7 365.9h0M751.7 363.6h0M751.7 338.8h0M752.8 388.5h0M752.8 361.4h0M752.8 354.6h0M752.8 343.3h0M752.8 336.5h0M721.5 289.6h0M721.5 294.1h0M721.5 296.4h0M721.5 305.4h0M721.5 307.7h0M721.5 312.2h0M721.5 314.5h0M721.5 319.0h0M721.5 321.2h0M721.5 323.5h0M721.5 325.8h0M721.5 328.0h0M721.5 332.5h0M721.5 334.8h0M721.5 337.1h0M721.5 339.3h0M721.5 341.6h0M721.5 343.8h0M721.5 346.1h0M721.5 348.4h0M721.5 350.6h0M721.5 352.9h0M721.5 355.1h0M721.5 359.7h0M721.5 361.9h0M197.2 347.8h0M197.2 350.1h0M200.2 345.6h0M200.2 347.8h0M200.2 350.1h0M204.1 347.8h0M204.1 350.1h0M208.0 345.6h0M208.0 347.8h0M208.0 350.1h0M208.0 352.3h0M208.0 354.6h0M212.4 347.8h0M212.4 350.1h0M212.4 352.3h0M212.4 356.9h0M212.4 359.1h0M216.8 347.8h0M216.8 350.1h0M216.8 352.3h0M216.8 354.6h0M492.4 332.0h0M492.4 334.3h0M492.4 336.5h0M492.4 338.8h0M492.4 341.0h0M492.4 343.3h0M492.4 345.6h0M492.4 347.8h0M492.4 350.1h0M492.4 352.3h0M497.2 332.0h0M497.2 336.5h0M497.2 343.3h0M497.2 345.6h0M497.2 347.8h0M497.2 350.1h0M497.2 352.3h0M497.2 354.6h0M497.2 356.9h0M497.2 359.1h0M503.0 332.0h0M503.0 334.3h0M503.0 338.8h0M503.0 345.6h0M503.0 347.8h0M503.0 352.3h0M503.0 354.6h0M507.0 332.0h0M507.0 334.3h0M507.0 341.0h0M507.0 343.3h0M514.7 332.0h0M514.7 334.3h0M514.7 336.5h0M514.7 338.8h0M520.5 332.0h0M520.5 334.3h0M520.5 336.5h0M520.5 341.0h0M520.5 343.3h0M551.2 332.0h0M551.2 336.5h0M551.2 338.8h0M551.2 347.8h0M551.2 350.1h0M551.2 356.9h0M551.2 361.4h0M555.8 332.0h0M555.8 334.3h0M555.8 343.3h0M555.8 345.6h0M555.8 347.8h0M555.8 350.1h0M555.8 352.3h0M555.8 359.1h0M559.0 334.3h0M559.0 347.8h0M562.7 334.3h0M562.7 336.5h0M562.7 341.0h0M562.7 343.3h0M562.7 347.8h0M562.7 352.3h0M568.3 336.5h0M568.3 341.0h0M568.3 343.3h0M571.7 332.0h0M571.7 334.3h0M571.7 336.5h0M571.7 338.8h0M571.7 341.0h0M571.7 343.3h0M571.7 347.8h0M571.7 352.3h0M571.7 354.6h0M571.7 356.9h0M571.7 359.1h0M571.7 361.4h0M575.8 332.0h0M575.8 334.3h0M575.8 341.0h0M575.8 343.3h0M575.8 345.6h0M575.8 352.3h0M590.0 336.5h0M590.0 341.0h0M590.0 343.3h0M590.0 345.6h0M593.4 338.8h0M593.4 343.3h0M593.4 347.8h0M593.4 350.1h0M593.4 352.3h0M597.4 341.0h0M597.4 343.3h0M597.4 347.8h0M597.4 352.3h0M600.9 323.0h0M600.9 329.7h0M600.9 336.5h0M600.9 338.8h0M600.9 341.0h0M600.9 343.3h0M600.9 345.6h0M600.9 350.1h0M600.9 359.1h0M605.4 320.7h0M605.4 325.2h0M605.4 332.0h0M605.4 334.3h0M609.7 318.4h0M609.7 320.7h0M609.7 327.5h0M609.7 332.0h0M609.7 334.3h0M609.7 336.5h0M609.7 338.8h0M609.7 341.0h0M609.7 345.6h0M609.7 347.8h0M612.7 318.4h0M612.7 323.0h0M612.7 327.5h0M612.7 329.7h0M612.7 332.0h0M612.7 336.5h0M612.7 338.8h0M612.7 341.0h0M612.7 343.3h0M612.7 345.6h0M613.7 320.7h0M613.7 325.2h0M613.7 327.5h0M613.7 332.0h0M613.7 334.3h0M613.7 336.5h0M616.7 320.7h0M616.7 325.2h0M616.7 332.0h0M616.7 336.5h0M616.7 338.8h0M616.7 343.3h0M616.7 345.6h0M616.7 347.8h0M616.7 352.3h0M616.7 354.6h0M616.7 359.1h0M616.7 361.4h0M616.7 365.9h0M616.7 368.2h0M631.2 332.0h0M631.2 334.3h0M631.2 336.5h0M631.2 338.8h0M631.2 341.0h0M631.2 343.3h0M631.2 345.6h0M631.2 352.3h0M631.2 354.6h0M631.2 356.9h0M631.2 359.1h0M635.8 332.0h0M635.8 334.3h0M635.8 343.3h0M635.8 345.6h0M635.8 347.8h0M635.8 354.6h0M640.8 332.0h0M640.8 334.3h0M640.8 343.3h0M640.8 345.6h0M640.8 347.8h0M640.8 350.1h0M640.8 352.3h0M640.8 361.4h0M640.8 363.6h0M646.2 334.3h0M646.2 338.8h0M646.2 341.0h0M637.5 350.1h0M637.5 352.3h0M637.5 354.6h0M637.5 359.1h0M643.8 343.3h0M643.8 347.8h0M643.8 350.1h0M646.2 343.3h0M646.2 347.8h0M384.0 341.0h0M384.0 343.3h0M384.0 345.6h0M388.6 343.3h0M388.6 350.1h0M388.6 352.3h0M388.6 354.6h0M405.2 350.1h0M405.2 354.6h0M405.2 356.9h0M410.0 347.8h0M410.0 352.3h0M410.0 356.9h0M413.7 347.8h0M413.7 352.3h0M413.7 354.6h0M413.7 359.1h0M418.3 352.3h0M418.3 356.9h0M418.3 359.1h0M326.1 350.1h0M326.1 354.6h0M332.6 350.1h0M332.6 354.6h0M340.3 352.3h0M340.3 354.6h0M340.3 359.1h0M667.1 325.2h0M667.1 327.5h0M667.1 329.7h0M667.1 332.0h0M667.1 334.3h0M667.1 336.5h0M667.1 343.3h0M670.0 325.2h0M670.0 327.5h0M670.0 329.7h0M670.0 334.3h0M670.0 338.8h0M673.3 325.2h0M673.3 332.0h0M673.3 334.3h0M700.0 320.7h0M700.0 323.0h0M700.0 327.5h0M700.0 332.0h0M700.0 334.3h0M700.0 336.5h0M702.4 320.7h0M702.4 325.2h0M702.4 329.7h0M702.4 334.3h0M702.4 338.8h0M702.4 343.3h0M702.4 345.6h0M702.4 347.8h0M702.4 350.1h0M702.4 352.3h0M702.4 356.9h0M705.3 320.7h0M705.3 323.0h0M705.3 327.5h0M705.3 329.7h0M705.3 332.0h0M705.3 336.5h0M705.3 343.3h0M705.3 350.1h0M705.3 352.3h0" stroke="#fff" stroke-width="1.0" stroke-linecap="round" fill="none" opacity="0.9"/></g>
<g id="sd"><path d="M198.8 110.5h0M185.3 117.4h0M182.8 120.9h0M218.2 115.7h0M207.3 122.4h0M220.2 126.5h0M182.8 138.6h0M203.4 136.9h0M212.3 135.1h0M228.3 136.9h0M224.3 147.6h0M232.7 150.6h0M222.3 154.3h0M230.4 159.5h0M239.3 110.5h0M239.0 117.4h0M329.5 113.5h0M184.5 178.9h0M221.9 178.9h0M230.4 182.5h0M226.3 198.3h0M226.3 203.9h0M323.3 172.0h0M185.3 209.3h0M187.4 209.3h0M186.2 212.1h0M187.9 212.6h0M185.3 214.7h0M192.4 212.6h0M197.5 210.8h0M283.1 194.9h0M288.7 194.9h0M293.6 193.1h0M295.5 196.6h0M302.2 193.1h0M304.6 187.9h0M315.2 186.0h0M315.7 189.4h0M318.2 187.7h0M312.3 191.1h0M312.7 193.3h0M317.4 194.9h0M320.2 198.1h0M320.2 200.5h0M307.6 198.5h0M309.3 198.5h0M310.6 205.6h0M314.3 205.6h0M320.2 209.1h0M322.8 214.3h0M280.6 202.2h0M284.3 200.5h0M286.5 204.6h0M287.4 203.7h0M291.6 203.9h0M293.3 207.3h0M288.5 209.1h0M293.8 212.6h0M297.8 200.3h0M299.5 202.2h0M300.8 202.2h0M302.5 202.2h0M304.6 202.2h0M300.0 209.3h0M303.4 210.6h0M305.9 210.6h0M306.4 212.5h0M301.2 214.7h0M301.7 216.0h0M272.2 207.3h0M273.9 205.7h0M275.6 205.7h0M277.2 205.7h0M278.9 207.3h0M270.5 210.8h0M272.2 214.3h0M265.4 214.3h0M268.8 216.0h0M278.1 216.0h0M282.3 216.0h0M279.8 212.6h0M281.5 212.6h0M283.1 212.6h0M280.3 209.3h0M332.3 110.5h0M372.3 108.4h0M378.6 113.8h0M395.1 110.5h0M361.4 119.4h0M357.5 122.4h0M355.1 126.5h0M359.3 126.5h0M376.2 150.6h0M447.7 113.8h0M477.7 122.4h0M450.2 133.2h0M414.3 172.2h0M333.5 209.3h0M398.1 207.3h0M398.5 211.0h0M400.5 211.0h0M398.5 214.3h0M406.5 209.3h0M412.3 209.3h0M414.3 211.0h0M418.0 214.3h0M418.7 216.0h0M425.1 200.3h0M423.7 203.9h0M426.3 207.4h0M429.3 209.3h0M431.5 210.6h0M429.3 214.3h0M433.2 214.3h0M435.6 205.6h0M439.3 207.3h0M440.6 209.1h0M439.6 212.6h0M442.3 216.0h0M443.6 214.3h0M442.0 203.9h0M445.0 200.5h0M445.7 203.9h0M447.4 211.0h0M449.0 214.3h0M452.1 209.3h0M452.8 212.6h0M451.1 191.6h0M455.5 187.9h0M454.4 196.6h0M455.5 198.7h0M455.8 200.5h0M459.5 189.5h0M462.2 191.6h0M461.2 180.9h0M462.9 180.9h0M462.2 184.3h0M464.2 184.3h0M468.4 184.3h0M465.9 187.9h0M467.9 191.6h0M473.5 186.3h0M474.0 177.4h0M475.5 196.6h0M475.4 200.5h0M470.6 203.9h0M474.3 203.9h0M480.4 202.2h0M481.9 191.4h0M482.8 191.4h0M484.5 200.5h0M483.1 203.9h0M488.2 203.9h0M488.5 207.4h0M484.8 209.3h0M490.9 193.3h0M476.4 216.0h0M480.2 216.0h0M463.5 214.3h0M494.4 115.5h0M528.4 115.5h0M551.7 150.6h0M537.4 158.2h0M512.6 165.1h0M535.4 166.8h0M586.8 154.3h0M596.4 154.3h0M604.3 149.2h0M603.5 161.4h0M615.8 152.6h0M631.8 124.5h0M630.5 131.4h0M628.4 134.9h0M628.8 136.8h0M628.4 138.6h0M634.0 136.8h0M641.9 140.1h0M631.8 150.6h0M636.0 152.6h0M636.4 154.5h0M643.3 147.4h0M647.5 147.4h0M650.9 145.2h0M642.8 152.6h0M642.4 156.2h0M639.1 165.1h0M641.1 170.5h0M650.0 166.8h0M582.4 166.8h0M582.4 173.7h0M581.2 175.7h0M579.5 177.4h0M566.4 180.9h0M557.1 184.3h0M557.3 186.3h0M578.4 187.9h0M589.7 191.4h0M596.4 196.6h0M560.1 196.6h0M561.5 202.2h0M590.8 207.3h0M612.1 205.6h0M617.1 216.0h0M496.1 175.5h0M495.2 177.6h0M499.4 177.2h0M504.5 177.2h0M504.8 178.9h0M506.5 180.9h0M512.6 177.2h0M514.6 177.2h0M513.9 180.9h0M493.0 180.9h0M499.8 180.9h0M509.2 184.3h0M498.4 184.3h0M496.1 189.4h0M498.6 191.4h0M511.9 189.4h0M513.6 191.4h0M521.4 184.3h0M525.6 184.3h0M530.5 182.6h0M532.5 186.3h0M531.5 189.4h0M527.3 191.4h0M534.0 182.6h0M535.5 184.3h0M536.2 180.9h0M537.4 179.3h0M539.1 175.9h0M540.2 173.7h0M542.4 173.7h0M543.6 182.6h0M491.8 193.3h0M505.8 196.6h0M519.0 194.9h0M530.5 198.3h0M495.4 200.3h0M491.8 202.2h0M495.7 203.9h0M504.5 202.2h0M507.9 202.2h0M508.7 203.9h0M545.0 200.3h0M548.3 205.6h0M522.4 205.6h0M512.6 207.3h0M504.5 207.3h0M507.0 209.3h0M492.3 210.6h0M511.6 212.6h0M523.9 212.6h0M525.6 210.6h0M529.4 210.6h0M524.7 212.1h0M656.4 126.3h0M656.9 138.6h0M651.8 143.8h0M651.8 145.5h0M652.3 147.4h0M668.4 149.2h0M667.0 154.5h0M668.2 154.5h0M673.9 156.2h0M678.3 138.6h0M679.3 168.3h0M693.5 149.2h0M693.5 152.6h0M700.2 147.4h0M701.9 149.2h0M703.6 152.6h0M703.6 138.6h0M706.3 135.1h0M708.3 147.4h0M714.4 142.2h0M714.7 145.5h0M727.7 138.6h0M727.7 149.2h0M697.4 166.8h0M699.1 166.8h0M651.0 166.8h0M747.5 117.2h0M745.8 122.4h0M748.8 128.0h0M746.6 133.2h0M749.7 133.2h0M751.8 147.4h0M721.5 191.4h0M728.6 187.9h0M730.8 191.4h0M671.6 205.6h0M654.0 210.6h0M681.4 210.6h0M680.5 214.3h0M186.2 223.4h0M189.5 220.0h0M192.4 221.3h0M185.7 233.5h0M185.7 240.9h0M206.1 230.5h0M206.9 240.9h0M217.9 244.5h0M234.2 232.1h0M235.9 240.9h0M239.3 240.9h0M242.7 249.5h0M243.2 251.7h0M234.2 258.4h0M243.5 260.5h0M246.0 223.4h0M250.3 223.4h0M253.6 221.7h0M255.0 223.4h0M258.7 221.3h0M248.2 233.5h0M255.3 232.1h0M255.7 239.4h0M269.7 225.1h0M269.3 235.5h0M274.4 233.5h0M285.3 220.0h0M289.4 225.1h0M293.6 240.9h0M303.7 223.4h0M305.4 221.3h0M322.4 230.5h0M326.1 221.3h0M324.5 240.9h0M327.8 240.9h0M233.1 277.8h0M287.4 272.3h0M290.4 269.2h0M293.8 267.6h0M292.1 274.0h0M280.6 275.6h0M349.5 219.3h0M334.7 228.2h0M337.4 230.6h0M348.4 226.5h0M352.4 224.8h0M346.5 230.2h0M348.7 232.3h0M363.0 230.2h0M364.7 231.9h0M365.6 235.3h0M379.9 231.9h0M378.2 237.0h0M379.1 240.9h0M381.6 240.9h0M358.0 242.0h0M359.7 244.6h0M337.7 246.1h0M346.2 251.3h0M354.6 251.3h0M356.3 249.6h0M361.7 251.3h0M371.5 249.6h0M377.4 255.0h0M333.0 260.3h0M353.8 260.3h0M357.1 262.3h0M359.7 263.6h0M333.7 274.4h0M353.4 272.4h0M397.4 277.8h0M387.5 219.3h0M390.0 221.5h0M385.8 224.8h0M387.5 224.8h0M395.1 221.5h0M396.8 219.3h0M398.5 223.2h0M399.3 221.5h0M393.4 226.9h0M395.1 228.2h0M396.8 228.2h0M401.5 230.2h0M406.5 226.5h0M406.5 228.2h0M387.5 233.6h0M390.0 231.9h0M391.7 235.3h0M413.6 233.6h0M414.5 233.6h0M413.6 226.5h0M414.5 221.5h0M411.9 217.6h0M417.0 217.6h0M418.7 217.6h0M420.0 217.6h0M418.4 228.2h0M420.0 226.5h0M423.7 233.6h0M430.5 226.5h0M436.4 230.2h0M438.6 219.3h0M442.6 219.3h0M445.7 221.5h0M453.4 221.5h0M477.4 219.3h0M480.2 217.6h0M483.6 223.2h0M477.4 230.2h0M479.1 231.9h0M460.3 249.6h0M449.9 256.4h0M462.5 255.2h0M471.5 253.5h0M469.3 258.9h0M467.9 260.6h0M472.7 263.6h0M474.3 267.3h0M449.0 269.0h0M455.8 271.6h0M351.6 288.4h0M357.6 313.2h0M494.4 219.3h0M492.3 223.2h0M505.3 224.8h0M506.5 226.5h0M516.3 226.5h0M517.1 221.5h0M530.1 221.5h0M495.2 231.9h0M530.1 231.9h0M547.2 228.2h0M579.2 237.0h0M669.5 221.5h0M674.6 219.3h0M680.0 223.2h0M676.0 224.8h0M670.4 228.2h0M700.4 219.3h0M747.1 244.4h0M741.2 255.0h0M742.9 263.6h0M744.6 267.3h0M747.1 265.6h0M750.5 281.3h0M745.4 295.5h0M731.1 228.2h0M729.4 228.2h0M184.5 381.3h0M219.4 385.1h0M234.4 388.8h0M235.4 396.0h0M264.6 380.8h0M293.3 390.8h0M192.4 404.5h0M185.8 415.1h0M206.4 412.0h0M217.9 412.0h0M185.3 422.2h0M187.9 422.2h0M189.2 422.2h0M192.4 420.5h0M185.3 425.9h0M185.3 431.1h0M187.9 431.1h0M185.3 434.8h0M186.2 440.2h0M197.6 436.5h0M234.4 420.5h0M233.1 424.2h0M239.3 422.2h0M243.5 415.4h0M242.7 419.1h0M243.8 422.2h0M248.2 424.2h0M246.5 408.3h0M250.3 406.6h0M255.3 406.6h0M256.2 404.5h0M255.0 415.4h0M253.6 420.5h0M255.7 419.1h0M258.4 424.2h0M265.4 419.1h0M269.1 419.1h0M270.2 415.4h0M270.5 422.2h0M269.3 429.4h0M271.8 425.9h0M273.0 427.6h0M274.2 420.5h0M274.5 413.4h0M276.4 424.2h0M278.4 415.4h0M280.3 415.4h0M279.3 410.4h0M279.8 419.1h0M278.4 427.6h0M280.6 427.6h0M282.3 424.2h0M283.6 424.2h0M283.1 431.4h0M285.0 406.6h0M284.8 420.5h0M287.4 422.2h0M289.0 422.2h0M287.4 425.9h0M289.5 429.4h0M291.6 424.2h0M293.3 424.2h0M288.7 434.8h0M294.1 436.5h0M295.5 431.4h0M298.3 433.1h0M301.2 399.4h0M301.7 402.8h0M305.4 401.6h0M303.4 408.3h0M303.4 420.5h0M300.0 422.2h0M302.2 420.5h0M304.2 420.5h0M307.6 419.1h0M300.0 428.1h0M301.7 429.4h0M303.4 431.4h0M305.1 429.4h0M306.8 429.4h0M309.3 427.6h0M305.1 435.6h0M306.8 434.8h0M314.3 401.6h0M317.4 404.5h0M322.8 402.8h0M322.4 408.3h0M320.2 410.4h0M322.8 412.0h0M315.4 415.4h0M328.2 415.4h0M312.7 420.5h0M310.6 424.2h0M312.3 424.2h0M317.7 425.9h0M319.7 425.9h0M321.6 425.9h0M323.6 425.9h0M315.2 429.4h0M319.7 429.4h0M317.4 434.8h0M318.6 434.0h0M320.7 433.1h0M324.5 433.1h0M326.1 434.8h0M346.2 388.8h0M377.4 388.8h0M413.6 388.8h0M450.4 382.0h0M439.4 390.8h0M418.4 396.0h0M337.7 402.8h0M333.0 410.4h0M335.2 412.0h0M337.7 412.0h0M333.5 425.9h0M333.5 429.4h0M336.9 422.2h0M346.5 422.2h0M348.4 406.6h0M348.4 408.3h0M349.5 417.1h0M352.6 412.0h0M353.8 413.7h0M353.4 415.4h0M357.1 402.8h0M359.3 410.4h0M359.7 417.1h0M357.1 422.2h0M358.8 422.2h0M359.3 425.9h0M361.4 424.2h0M363.0 404.5h0M363.0 411.7h0M364.7 411.7h0M366.4 411.7h0M366.4 415.4h0M363.9 420.5h0M365.6 422.2h0M371.5 402.8h0M371.5 417.1h0M378.6 420.5h0M379.9 424.2h0M381.3 419.1h0M385.3 413.7h0M385.8 415.4h0M387.5 411.7h0M389.2 412.0h0M387.5 402.8h0M387.5 431.4h0M391.4 410.0h0M392.0 406.6h0M394.2 404.5h0M399.8 408.3h0M393.4 415.4h0M396.8 415.4h0M390.0 420.5h0M392.6 420.5h0M390.9 424.2h0M395.1 424.2h0M395.9 427.6h0M397.6 425.9h0M398.5 420.5h0M398.5 419.1h0M398.5 424.2h0M400.1 427.6h0M401.5 429.4h0M397.6 434.8h0M406.5 424.2h0M406.5 429.4h0M406.5 433.1h0M413.6 415.4h0M411.9 425.9h0M413.6 425.9h0M415.3 425.9h0M411.9 429.4h0M413.6 429.4h0M415.3 433.1h0M418.4 424.2h0M418.4 429.4h0M419.5 412.0h0M420.4 420.5h0M423.7 433.1h0M424.6 434.8h0M423.7 436.5h0M426.3 420.5h0M429.3 413.4h0M430.5 410.0h0M431.7 420.5h0M429.3 424.2h0M433.4 406.6h0M436.2 402.8h0M435.6 419.1h0M435.6 429.4h0M438.6 431.4h0M439.3 425.9h0M440.6 417.4h0M442.3 406.6h0M440.9 434.8h0M442.3 431.4h0M443.1 428.1h0M444.8 428.1h0M443.6 433.1h0M445.3 419.6h0M447.0 410.4h0M449.0 431.4h0M449.9 420.5h0M451.1 413.4h0M453.3 412.0h0M451.6 422.2h0M453.3 422.2h0M454.9 424.2h0M452.4 425.9h0M454.1 427.6h0M452.4 429.4h0M454.9 429.4h0M453.3 431.4h0M455.5 431.4h0M459.5 419.1h0M461.2 424.2h0M462.9 424.2h0M464.2 429.4h0M462.5 433.1h0M463.4 427.6h0M465.9 408.3h0M468.4 427.6h0M470.6 431.4h0M474.3 410.4h0M473.5 417.4h0M475.7 422.2h0M474.0 425.9h0M476.0 425.9h0M477.4 433.1h0M476.9 438.5h0M480.2 425.9h0M480.7 420.5h0M481.6 419.1h0M479.4 404.5h0M482.4 401.6h0M483.6 399.4h0M484.8 410.4h0M484.5 412.0h0M483.3 429.4h0M483.3 431.4h0M488.2 429.4h0M488.2 434.8h0M490.4 413.4h0M547.2 382.0h0M588.5 380.5h0M636.4 388.8h0M494.4 401.1h0M495.7 401.6h0M498.6 402.8h0M507.0 404.5h0M508.7 406.6h0M522.2 406.6h0M543.3 404.5h0M557.1 406.6h0M491.8 413.4h0M495.2 412.0h0M504.5 412.0h0M513.8 413.4h0M526.1 412.0h0M517.1 417.1h0M511.6 417.1h0M504.2 419.1h0M506.5 419.1h0M507.9 422.2h0M509.5 424.2h0M512.1 424.2h0M514.6 425.9h0M512.9 428.1h0M512.1 429.7h0M511.2 431.4h0M516.3 429.4h0M518.8 428.1h0M521.0 424.2h0M523.4 424.2h0M524.4 415.4h0M527.3 425.9h0M532.3 420.5h0M536.2 419.1h0M537.4 417.4h0M536.9 424.2h0M539.1 424.2h0M535.7 428.1h0M540.2 428.1h0M541.6 428.1h0M545.0 415.4h0M548.0 420.5h0M551.4 420.5h0M557.3 419.1h0M548.3 431.4h0M534.0 431.4h0M531.1 429.7h0M529.8 431.4h0M530.1 433.1h0M530.1 434.8h0M530.1 436.5h0M525.6 431.4h0M505.3 429.7h0M505.3 431.4h0M503.1 428.1h0M500.3 425.9h0M493.0 425.9h0M492.3 428.1h0M496.1 429.7h0M494.7 431.4h0M496.9 431.4h0M499.1 431.4h0M491.8 431.4h0M491.8 433.1h0M560.5 429.4h0M561.8 429.4h0M566.5 429.4h0M578.4 425.9h0M579.5 425.9h0M581.4 429.4h0M582.4 415.4h0M587.1 412.0h0M590.8 420.5h0M589.7 429.4h0M596.4 424.2h0M603.5 420.5h0M604.3 410.4h0M611.7 401.6h0M617.1 397.7h0M617.1 406.6h0M615.5 422.2h0M627.9 413.4h0M628.4 422.2h0M630.6 422.2h0M628.9 428.1h0M631.8 419.1h0M632.7 424.2h0M634.3 425.9h0M636.0 424.2h0M636.4 413.4h0M638.9 401.6h0M643.1 406.6h0M642.4 413.4h0M644.5 413.4h0M645.3 415.4h0M641.6 415.4h0M647.5 412.0h0M650.4 408.3h0M641.6 420.5h0M641.1 422.2h0M650.9 425.9h0M650.9 419.1h0M554.4 477.3h0M661.5 380.5h0M730.9 382.0h0M651.0 408.3h0M651.8 419.1h0M652.7 420.5h0M656.6 420.5h0M651.8 425.9h0M654.0 427.7h0M656.9 424.2h0M666.5 410.0h0M668.2 412.0h0M670.4 417.1h0M668.4 420.5h0M673.9 408.3h0M671.6 427.7h0M678.0 425.9h0M679.7 425.9h0M680.5 412.0h0M685.6 427.7h0M696.5 404.5h0M693.2 415.4h0M693.2 417.1h0M698.6 422.2h0M701.6 422.2h0M703.6 417.1h0M701.6 410.0h0M703.3 410.0h0M704.6 410.0h0M708.0 419.1h0M700.4 429.4h0M703.6 427.7h0M706.3 425.9h0M714.4 417.1h0M714.7 422.5h0M721.5 412.0h0M727.7 415.4h0M730.9 415.4h0M727.4 420.5h0M731.9 436.5h0M741.2 438.5h0M744.3 436.5h0M746.8 431.1h0M747.1 433.1h0M750.5 431.1h0M745.4 402.8h0M747.5 413.4h0M743.4 420.5h0M752.2 392.3h0M752.2 399.4h0" stroke="#2a2aff" stroke-width="3.0" stroke-linecap="round" fill="none"/><path d="M198.8 110.5h0M185.3 117.4h0M182.8 120.9h0M218.2 115.7h0M207.3 122.4h0M220.2 126.5h0M182.8 138.6h0M203.4 136.9h0M212.3 135.1h0M228.3 136.9h0M224.3 147.6h0M232.7 150.6h0M222.3 154.3h0M230.4 159.5h0M239.3 110.5h0M239.0 117.4h0M329.5 113.5h0M184.5 178.9h0M221.9 178.9h0M230.4 182.5h0M226.3 198.3h0M226.3 203.9h0M323.3 172.0h0M185.3 209.3h0M187.4 209.3h0M186.2 212.1h0M187.9 212.6h0M185.3 214.7h0M192.4 212.6h0M197.5 210.8h0M283.1 194.9h0M288.7 194.9h0M293.6 193.1h0M295.5 196.6h0M302.2 193.1h0M304.6 187.9h0M315.2 186.0h0M315.7 189.4h0M318.2 187.7h0M312.3 191.1h0M312.7 193.3h0M317.4 194.9h0M320.2 198.1h0M320.2 200.5h0M307.6 198.5h0M309.3 198.5h0M310.6 205.6h0M314.3 205.6h0M320.2 209.1h0M322.8 214.3h0M280.6 202.2h0M284.3 200.5h0M286.5 204.6h0M287.4 203.7h0M291.6 203.9h0M293.3 207.3h0M288.5 209.1h0M293.8 212.6h0M297.8 200.3h0M299.5 202.2h0M300.8 202.2h0M302.5 202.2h0M304.6 202.2h0M300.0 209.3h0M303.4 210.6h0M305.9 210.6h0M306.4 212.5h0M301.2 214.7h0M301.7 216.0h0M272.2 207.3h0M273.9 205.7h0M275.6 205.7h0M277.2 205.7h0M278.9 207.3h0M270.5 210.8h0M272.2 214.3h0M265.4 214.3h0M268.8 216.0h0M278.1 216.0h0M282.3 216.0h0M279.8 212.6h0M281.5 212.6h0M283.1 212.6h0M280.3 209.3h0M332.3 110.5h0M372.3 108.4h0M378.6 113.8h0M395.1 110.5h0M361.4 119.4h0M357.5 122.4h0M355.1 126.5h0M359.3 126.5h0M376.2 150.6h0M447.7 113.8h0M477.7 122.4h0M450.2 133.2h0M414.3 172.2h0M333.5 209.3h0M398.1 207.3h0M398.5 211.0h0M400.5 211.0h0M398.5 214.3h0M406.5 209.3h0M412.3 209.3h0M414.3 211.0h0M418.0 214.3h0M418.7 216.0h0M425.1 200.3h0M423.7 203.9h0M426.3 207.4h0M429.3 209.3h0M431.5 210.6h0M429.3 214.3h0M433.2 214.3h0M435.6 205.6h0M439.3 207.3h0M440.6 209.1h0M439.6 212.6h0M442.3 216.0h0M443.6 214.3h0M442.0 203.9h0M445.0 200.5h0M445.7 203.9h0M447.4 211.0h0M449.0 214.3h0M452.1 209.3h0M452.8 212.6h0M451.1 191.6h0M455.5 187.9h0M454.4 196.6h0M455.5 198.7h0M455.8 200.5h0M459.5 189.5h0M462.2 191.6h0M461.2 180.9h0M462.9 180.9h0M462.2 184.3h0M464.2 184.3h0M468.4 184.3h0M465.9 187.9h0M467.9 191.6h0M473.5 186.3h0M474.0 177.4h0M475.5 196.6h0M475.4 200.5h0M470.6 203.9h0M474.3 203.9h0M480.4 202.2h0M481.9 191.4h0M482.8 191.4h0M484.5 200.5h0M483.1 203.9h0M488.2 203.9h0M488.5 207.4h0M484.8 209.3h0M490.9 193.3h0M476.4 216.0h0M480.2 216.0h0M463.5 214.3h0M494.4 115.5h0M528.4 115.5h0M551.7 150.6h0M537.4 158.2h0M512.6 165.1h0M535.4 166.8h0M586.8 154.3h0M596.4 154.3h0M604.3 149.2h0M603.5 161.4h0M615.8 152.6h0M631.8 124.5h0M630.5 131.4h0M628.4 134.9h0M628.8 136.8h0M628.4 138.6h0M634.0 136.8h0M641.9 140.1h0M631.8 150.6h0M636.0 152.6h0M636.4 154.5h0M643.3 147.4h0M647.5 147.4h0M650.9 145.2h0M642.8 152.6h0M642.4 156.2h0M639.1 165.1h0M641.1 170.5h0M650.0 166.8h0M582.4 166.8h0M582.4 173.7h0M581.2 175.7h0M579.5 177.4h0M566.4 180.9h0M557.1 184.3h0M557.3 186.3h0M578.4 187.9h0M589.7 191.4h0M596.4 196.6h0M560.1 196.6h0M561.5 202.2h0M590.8 207.3h0M612.1 205.6h0M617.1 216.0h0M496.1 175.5h0M495.2 177.6h0M499.4 177.2h0M504.5 177.2h0M504.8 178.9h0M506.5 180.9h0M512.6 177.2h0M514.6 177.2h0M513.9 180.9h0M493.0 180.9h0M499.8 180.9h0M509.2 184.3h0M498.4 184.3h0M496.1 189.4h0M498.6 191.4h0M511.9 189.4h0M513.6 191.4h0M521.4 184.3h0M525.6 184.3h0M530.5 182.6h0M532.5 186.3h0M531.5 189.4h0M527.3 191.4h0M534.0 182.6h0M535.5 184.3h0M536.2 180.9h0M537.4 179.3h0M539.1 175.9h0M540.2 173.7h0M542.4 173.7h0M543.6 182.6h0M491.8 193.3h0M505.8 196.6h0M519.0 194.9h0M530.5 198.3h0M495.4 200.3h0M491.8 202.2h0M495.7 203.9h0M504.5 202.2h0M507.9 202.2h0M508.7 203.9h0M545.0 200.3h0M548.3 205.6h0M522.4 205.6h0M512.6 207.3h0M504.5 207.3h0M507.0 209.3h0M492.3 210.6h0M511.6 212.6h0M523.9 212.6h0M525.6 210.6h0M529.4 210.6h0M524.7 212.1h0M656.4 126.3h0M656.9 138.6h0M651.8 143.8h0M651.8 145.5h0M652.3 147.4h0M668.4 149.2h0M667.0 154.5h0M668.2 154.5h0M673.9 156.2h0M678.3 138.6h0M679.3 168.3h0M693.5 149.2h0M693.5 152.6h0M700.2 147.4h0M701.9 149.2h0M703.6 152.6h0M703.6 138.6h0M706.3 135.1h0M708.3 147.4h0M714.4 142.2h0M714.7 145.5h0M727.7 138.6h0M727.7 149.2h0M697.4 166.8h0M699.1 166.8h0M651.0 166.8h0M747.5 117.2h0M745.8 122.4h0M748.8 128.0h0M746.6 133.2h0M749.7 133.2h0M751.8 147.4h0M721.5 191.4h0M728.6 187.9h0M730.8 191.4h0M671.6 205.6h0M654.0 210.6h0M681.4 210.6h0M680.5 214.3h0M186.2 223.4h0M189.5 220.0h0M192.4 221.3h0M185.7 233.5h0M185.7 240.9h0M206.1 230.5h0M206.9 240.9h0M217.9 244.5h0M234.2 232.1h0M235.9 240.9h0M239.3 240.9h0M242.7 249.5h0M243.2 251.7h0M234.2 258.4h0M243.5 260.5h0M246.0 223.4h0M250.3 223.4h0M253.6 221.7h0M255.0 223.4h0M258.7 221.3h0M248.2 233.5h0M255.3 232.1h0M255.7 239.4h0M269.7 225.1h0M269.3 235.5h0M274.4 233.5h0M285.3 220.0h0M289.4 225.1h0M293.6 240.9h0M303.7 223.4h0M305.4 221.3h0M322.4 230.5h0M326.1 221.3h0M324.5 240.9h0M327.8 240.9h0M233.1 277.8h0M287.4 272.3h0M290.4 269.2h0M293.8 267.6h0M292.1 274.0h0M280.6 275.6h0M349.5 219.3h0M334.7 228.2h0M337.4 230.6h0M348.4 226.5h0M352.4 224.8h0M346.5 230.2h0M348.7 232.3h0M363.0 230.2h0M364.7 231.9h0M365.6 235.3h0M379.9 231.9h0M378.2 237.0h0M379.1 240.9h0M381.6 240.9h0M358.0 242.0h0M359.7 244.6h0M337.7 246.1h0M346.2 251.3h0M354.6 251.3h0M356.3 249.6h0M361.7 251.3h0M371.5 249.6h0M377.4 255.0h0M333.0 260.3h0M353.8 260.3h0M357.1 262.3h0M359.7 263.6h0M333.7 274.4h0M353.4 272.4h0M397.4 277.8h0M387.5 219.3h0M390.0 221.5h0M385.8 224.8h0M387.5 224.8h0M395.1 221.5h0M396.8 219.3h0M398.5 223.2h0M399.3 221.5h0M393.4 226.9h0M395.1 228.2h0M396.8 228.2h0M401.5 230.2h0M406.5 226.5h0M406.5 228.2h0M387.5 233.6h0M390.0 231.9h0M391.7 235.3h0M413.6 233.6h0M414.5 233.6h0M413.6 226.5h0M414.5 221.5h0M411.9 217.6h0M417.0 217.6h0M418.7 217.6h0M420.0 217.6h0M418.4 228.2h0M420.0 226.5h0M423.7 233.6h0M430.5 226.5h0M436.4 230.2h0M438.6 219.3h0M442.6 219.3h0M445.7 221.5h0M453.4 221.5h0M477.4 219.3h0M480.2 217.6h0M483.6 223.2h0M477.4 230.2h0M479.1 231.9h0M460.3 249.6h0M449.9 256.4h0M462.5 255.2h0M471.5 253.5h0M469.3 258.9h0M467.9 260.6h0M472.7 263.6h0M474.3 267.3h0M449.0 269.0h0M455.8 271.6h0M351.6 288.4h0M357.6 313.2h0M494.4 219.3h0M492.3 223.2h0M505.3 224.8h0M506.5 226.5h0M516.3 226.5h0M517.1 221.5h0M530.1 221.5h0M495.2 231.9h0M530.1 231.9h0M547.2 228.2h0M579.2 237.0h0M669.5 221.5h0M674.6 219.3h0M680.0 223.2h0M676.0 224.8h0M670.4 228.2h0M700.4 219.3h0M747.1 244.4h0M741.2 255.0h0M742.9 263.6h0M744.6 267.3h0M747.1 265.6h0M750.5 281.3h0M745.4 295.5h0M731.1 228.2h0M729.4 228.2h0M184.5 381.3h0M219.4 385.1h0M234.4 388.8h0M235.4 396.0h0M264.6 380.8h0M293.3 390.8h0M192.4 404.5h0M185.8 415.1h0M206.4 412.0h0M217.9 412.0h0M185.3 422.2h0M187.9 422.2h0M189.2 422.2h0M192.4 420.5h0M185.3 425.9h0M185.3 431.1h0M187.9 431.1h0M185.3 434.8h0M186.2 440.2h0M197.6 436.5h0M234.4 420.5h0M233.1 424.2h0M239.3 422.2h0M243.5 415.4h0M242.7 419.1h0M243.8 422.2h0M248.2 424.2h0M246.5 408.3h0M250.3 406.6h0M255.3 406.6h0M256.2 404.5h0M255.0 415.4h0M253.6 420.5h0M255.7 419.1h0M258.4 424.2h0M265.4 419.1h0M269.1 419.1h0M270.2 415.4h0M270.5 422.2h0M269.3 429.4h0M271.8 425.9h0M273.0 427.6h0M274.2 420.5h0M274.5 413.4h0M276.4 424.2h0M278.4 415.4h0M280.3 415.4h0M279.3 410.4h0M279.8 419.1h0M278.4 427.6h0M280.6 427.6h0M282.3 424.2h0M283.6 424.2h0M283.1 431.4h0M285.0 406.6h0M284.8 420.5h0M287.4 422.2h0M289.0 422.2h0M287.4 425.9h0M289.5 429.4h0M291.6 424.2h0M293.3 424.2h0M288.7 434.8h0M294.1 436.5h0M295.5 431.4h0M298.3 433.1h0M301.2 399.4h0M301.7 402.8h0M305.4 401.6h0M303.4 408.3h0M303.4 420.5h0M300.0 422.2h0M302.2 420.5h0M304.2 420.5h0M307.6 419.1h0M300.0 428.1h0M301.7 429.4h0M303.4 431.4h0M305.1 429.4h0M306.8 429.4h0M309.3 427.6h0M305.1 435.6h0M306.8 434.8h0M314.3 401.6h0M317.4 404.5h0M322.8 402.8h0M322.4 408.3h0M320.2 410.4h0M322.8 412.0h0M315.4 415.4h0M328.2 415.4h0M312.7 420.5h0M310.6 424.2h0M312.3 424.2h0M317.7 425.9h0M319.7 425.9h0M321.6 425.9h0M323.6 425.9h0M315.2 429.4h0M319.7 429.4h0M317.4 434.8h0M318.6 434.0h0M320.7 433.1h0M324.5 433.1h0M326.1 434.8h0M346.2 388.8h0M377.4 388.8h0M413.6 388.8h0M450.4 382.0h0M439.4 390.8h0M418.4 396.0h0M337.7 402.8h0M333.0 410.4h0M335.2 412.0h0M337.7 412.0h0M333.5 425.9h0M333.5 429.4h0M336.9 422.2h0M346.5 422.2h0M348.4 406.6h0M348.4 408.3h0M349.5 417.1h0M352.6 412.0h0M353.8 413.7h0M353.4 415.4h0M357.1 402.8h0M359.3 410.4h0M359.7 417.1h0M357.1 422.2h0M358.8 422.2h0M359.3 425.9h0M361.4 424.2h0M363.0 404.5h0M363.0 411.7h0M364.7 411.7h0M366.4 411.7h0M366.4 415.4h0M363.9 420.5h0M365.6 422.2h0M371.5 402.8h0M371.5 417.1h0M378.6 420.5h0M379.9 424.2h0M381.3 419.1h0M385.3 413.7h0M385.8 415.4h0M387.5 411.7h0M389.2 412.0h0M387.5 402.8h0M387.5 431.4h0M391.4 410.0h0M392.0 406.6h0M394.2 404.5h0M399.8 408.3h0M393.4 415.4h0M396.8 415.4h0M390.0 420.5h0M392.6 420.5h0M390.9 424.2h0M395.1 424.2h0M395.9 427.6h0M397.6 425.9h0M398.5 420.5h0M398.5 419.1h0M398.5 424.2h0M400.1 427.6h0M401.5 429.4h0M397.6 434.8h0M406.5 424.2h0M406.5 429.4h0M406.5 433.1h0M413.6 415.4h0M411.9 425.9h0M413.6 425.9h0M415.3 425.9h0M411.9 429.4h0M413.6 429.4h0M415.3 433.1h0M418.4 424.2h0M418.4 429.4h0M419.5 412.0h0M420.4 420.5h0M423.7 433.1h0M424.6 434.8h0M423.7 436.5h0M426.3 420.5h0M429.3 413.4h0M430.5 410.0h0M431.7 420.5h0M429.3 424.2h0M433.4 406.6h0M436.2 402.8h0M435.6 419.1h0M435.6 429.4h0M438.6 431.4h0M439.3 425.9h0M440.6 417.4h0M442.3 406.6h0M440.9 434.8h0M442.3 431.4h0M443.1 428.1h0M444.8 428.1h0M443.6 433.1h0M445.3 419.6h0M447.0 410.4h0M449.0 431.4h0M449.9 420.5h0M451.1 413.4h0M453.3 412.0h0M451.6 422.2h0M453.3 422.2h0M454.9 424.2h0M452.4 425.9h0M454.1 427.6h0M452.4 429.4h0M454.9 429.4h0M453.3 431.4h0M455.5 431.4h0M459.5 419.1h0M461.2 424.2h0M462.9 424.2h0M464.2 429.4h0M462.5 433.1h0M463.4 427.6h0M465.9 408.3h0M468.4 427.6h0M470.6 431.4h0M474.3 410.4h0M473.5 417.4h0M475.7 422.2h0M474.0 425.9h0M476.0 425.9h0M477.4 433.1h0M476.9 438.5h0M480.2 425.9h0M480.7 420.5h0M481.6 419.1h0M479.4 404.5h0M482.4 401.6h0M483.6 399.4h0M484.8 410.4h0M484.5 412.0h0M483.3 429.4h0M483.3 431.4h0M488.2 429.4h0M488.2 434.8h0M490.4 413.4h0M547.2 382.0h0M588.5 380.5h0M636.4 388.8h0M494.4 401.1h0M495.7 401.6h0M498.6 402.8h0M507.0 404.5h0M508.7 406.6h0M522.2 406.6h0M543.3 404.5h0M557.1 406.6h0M491.8 413.4h0M495.2 412.0h0M504.5 412.0h0M513.8 413.4h0M526.1 412.0h0M517.1 417.1h0M511.6 417.1h0M504.2 419.1h0M506.5 419.1h0M507.9 422.2h0M509.5 424.2h0M512.1 424.2h0M514.6 425.9h0M512.9 428.1h0M512.1 429.7h0M511.2 431.4h0M516.3 429.4h0M518.8 428.1h0M521.0 424.2h0M523.4 424.2h0M524.4 415.4h0M527.3 425.9h0M532.3 420.5h0M536.2 419.1h0M537.4 417.4h0M536.9 424.2h0M539.1 424.2h0M535.7 428.1h0M540.2 428.1h0M541.6 428.1h0M545.0 415.4h0M548.0 420.5h0M551.4 420.5h0M557.3 419.1h0M548.3 431.4h0M534.0 431.4h0M531.1 429.7h0M529.8 431.4h0M530.1 433.1h0M530.1 434.8h0M530.1 436.5h0M525.6 431.4h0M505.3 429.7h0M505.3 431.4h0M503.1 428.1h0M500.3 425.9h0M493.0 425.9h0M492.3 428.1h0M496.1 429.7h0M494.7 431.4h0M496.9 431.4h0M499.1 431.4h0M491.8 431.4h0M491.8 433.1h0M560.5 429.4h0M561.8 429.4h0M566.5 429.4h0M578.4 425.9h0M579.5 425.9h0M581.4 429.4h0M582.4 415.4h0M587.1 412.0h0M590.8 420.5h0M589.7 429.4h0M596.4 424.2h0M603.5 420.5h0M604.3 410.4h0M611.7 401.6h0M617.1 397.7h0M617.1 406.6h0M615.5 422.2h0M627.9 413.4h0M628.4 422.2h0M630.6 422.2h0M628.9 428.1h0M631.8 419.1h0M632.7 424.2h0M634.3 425.9h0M636.0 424.2h0M636.4 413.4h0M638.9 401.6h0M643.1 406.6h0M642.4 413.4h0M644.5 413.4h0M645.3 415.4h0M641.6 415.4h0M647.5 412.0h0M650.4 408.3h0M641.6 420.5h0M641.1 422.2h0M650.9 425.9h0M650.9 419.1h0M554.4 477.3h0M661.5 380.5h0M730.9 382.0h0M651.0 408.3h0M651.8 419.1h0M652.7 420.5h0M656.6 420.5h0M651.8 425.9h0M654.0 427.7h0M656.9 424.2h0M666.5 410.0h0M668.2 412.0h0M670.4 417.1h0M668.4 420.5h0M673.9 408.3h0M671.6 427.7h0M678.0 425.9h0M679.7 425.9h0M680.5 412.0h0M685.6 427.7h0M696.5 404.5h0M693.2 415.4h0M693.2 417.1h0M698.6 422.2h0M701.6 422.2h0M703.6 417.1h0M701.6 410.0h0M703.3 410.0h0M704.6 410.0h0M708.0 419.1h0M700.4 429.4h0M703.6 427.7h0M706.3 425.9h0M714.4 417.1h0M714.7 422.5h0M721.5 412.0h0M727.7 415.4h0M730.9 415.4h0M727.4 420.5h0M731.9 436.5h0M741.2 438.5h0M744.3 436.5h0M746.8 431.1h0M747.1 433.1h0M750.5 431.1h0M745.4 402.8h0M747.5 413.4h0M743.4 420.5h0M752.2 392.3h0M752.2 399.4h0" stroke="#fff" stroke-width="1.2" stroke-linecap="round" fill="none"/></g>
<path d="M171.5 106V559 M162 558.5H805 M162 106.5H172 M165 163.5H172 M162 219.5H172 M165 276.5H172 M162 332.5H172 M165 388.5H172 M162 445.5H172 M165 501.5H172 M162 558.5H172 M171.5 558V568 M234.5 558V564 M298.5 558V568 M361.5 558V564 M424.5 558V568 M488.5 558V564 M551.5 558V568 M614.5 558V564 M678.5 558V568 M741.5 558V564 M804.5 558V568" stroke="#222" stroke-width="1" fill="none" shape-rendering="crispEdges"/>
<text x="488.5" y="70.9" text-anchor="middle" font-size="19.3" letter-spacing="0.3" stroke="#000" stroke-width="0.35" xml:space="preserve">Record:  e216a</text><text x="488.2" y="635.9" text-anchor="middle" font-size="19.3" letter-spacing="0.3" stroke="#000" stroke-width="0.35">Time (hour)</text><text transform="translate(100.1 332.9) rotate(-90)" text-anchor="middle" font-size="19.3" letter-spacing="0.45" stroke="#000" stroke-width="0.35">RR Interval (second)</text><text x="158.5" y="112.4" text-anchor="end" font-size="17.6" stroke="#000" stroke-width="0.35">2.0</text><text x="158.5" y="225.4" text-anchor="end" font-size="17.6" stroke="#000" stroke-width="0.35">1.5</text><text x="158.5" y="338.4" text-anchor="end" font-size="17.6" stroke="#000" stroke-width="0.35">1.0</text><text x="158.5" y="451.4" text-anchor="end" font-size="17.6" stroke="#000" stroke-width="0.35">0.5</text><text x="158.5" y="564.4" text-anchor="end" font-size="17.6" stroke="#000" stroke-width="0.35">0.0</text><text x="171.5" y="584.8" text-anchor="middle" font-size="17.6" stroke="#000" stroke-width="0.35">0</text><text x="298.5" y="584.8" text-anchor="middle" font-size="17.6" stroke="#000" stroke-width="0.35">5</text><text x="424.5" y="584.8" text-anchor="middle" font-size="17.6" stroke="#000" stroke-width="0.35">10</text><text x="551.5" y="584.8" text-anchor="middle" font-size="17.6" stroke="#000" stroke-width="0.35">15</text><text x="678.5" y="584.8" text-anchor="middle" font-size="17.6" stroke="#000" stroke-width="0.35">20</text><text x="804.5" y="584.8" text-anchor="middle" font-size="17.6" stroke="#000" stroke-width="0.35">25</text>
</svg>
</body></html>
